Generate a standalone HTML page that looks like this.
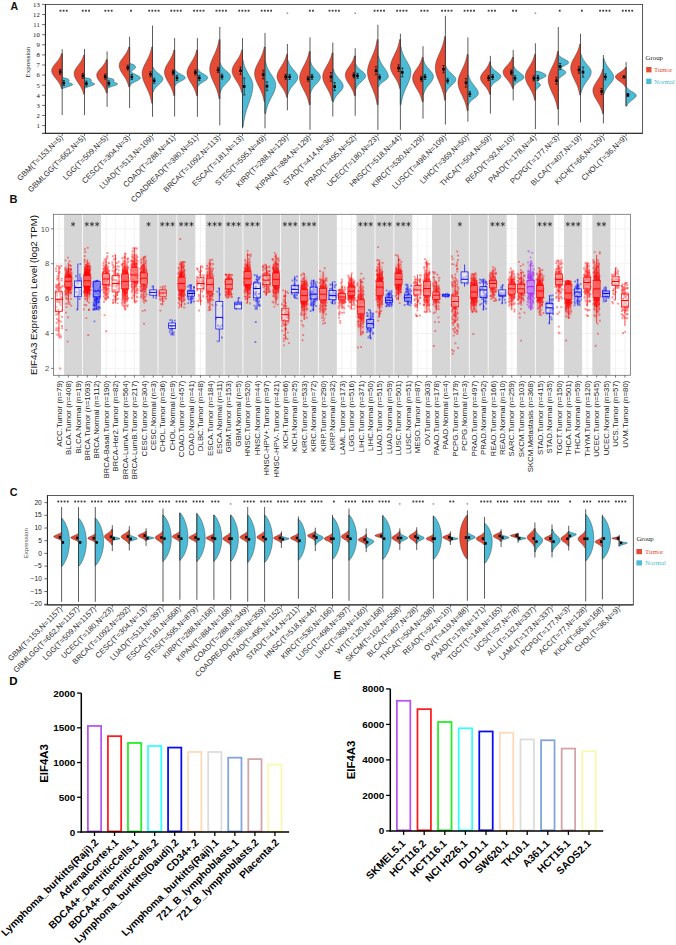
<!DOCTYPE html>
<html><head><meta charset="utf-8"><title>EIF4A3 expression</title>
<style>html,body{margin:0;padding:0;background:#fff;width:676px;height:945px;overflow:hidden}
svg{display:block;font-family:"Liberation Sans",sans-serif}</style></head>
<body><svg width="676" height="945" viewBox="0 0 676 945"><rect x="45.4" y="4.4" width="597.2" height="128.9" fill="none" stroke="#333" stroke-width="0.8"/><line x1="45.4" y1="4.4" x2="45.4" y2="133.3" stroke="#222" stroke-width="1"/><line x1="42.1" y1="133.3" x2="642.6" y2="133.3" stroke="#222" stroke-width="1"/><line x1="42.1" y1="125.6" x2="45.4" y2="125.6" stroke="#333" stroke-width="0.7"/><text x="39.8" y="127.9" font-family="Liberation Serif" font-size="6.7" fill="#111" text-anchor="end">1</text><line x1="42.1" y1="115.5" x2="45.4" y2="115.5" stroke="#333" stroke-width="0.7"/><text x="39.8" y="117.8" font-family="Liberation Serif" font-size="6.7" fill="#111" text-anchor="end">2</text><line x1="42.1" y1="105.4" x2="45.4" y2="105.4" stroke="#333" stroke-width="0.7"/><text x="39.8" y="107.7" font-family="Liberation Serif" font-size="6.7" fill="#111" text-anchor="end">3</text><line x1="42.1" y1="95.3" x2="45.4" y2="95.3" stroke="#333" stroke-width="0.7"/><text x="39.8" y="97.6" font-family="Liberation Serif" font-size="6.7" fill="#111" text-anchor="end">4</text><line x1="42.1" y1="85.2" x2="45.4" y2="85.2" stroke="#333" stroke-width="0.7"/><text x="39.8" y="87.5" font-family="Liberation Serif" font-size="6.7" fill="#111" text-anchor="end">5</text><line x1="42.1" y1="75.1" x2="45.4" y2="75.1" stroke="#333" stroke-width="0.7"/><text x="39.8" y="77.4" font-family="Liberation Serif" font-size="6.7" fill="#111" text-anchor="end">6</text><line x1="42.1" y1="65" x2="45.4" y2="65" stroke="#333" stroke-width="0.7"/><text x="39.8" y="67.3" font-family="Liberation Serif" font-size="6.7" fill="#111" text-anchor="end">7</text><line x1="42.1" y1="54.9" x2="45.4" y2="54.9" stroke="#333" stroke-width="0.7"/><text x="39.8" y="57.2" font-family="Liberation Serif" font-size="6.7" fill="#111" text-anchor="end">8</text><line x1="42.1" y1="44.8" x2="45.4" y2="44.8" stroke="#333" stroke-width="0.7"/><text x="39.8" y="47.1" font-family="Liberation Serif" font-size="6.7" fill="#111" text-anchor="end">9</text><line x1="42.1" y1="34.7" x2="45.4" y2="34.7" stroke="#333" stroke-width="0.7"/><text x="39.8" y="37" font-family="Liberation Serif" font-size="6.7" fill="#111" text-anchor="end">10</text><line x1="42.1" y1="24.6" x2="45.4" y2="24.6" stroke="#333" stroke-width="0.7"/><text x="39.8" y="26.9" font-family="Liberation Serif" font-size="6.7" fill="#111" text-anchor="end">11</text><line x1="42.1" y1="14.5" x2="45.4" y2="14.5" stroke="#333" stroke-width="0.7"/><text x="39.8" y="16.8" font-family="Liberation Serif" font-size="6.7" fill="#111" text-anchor="end">12</text><line x1="42.1" y1="4.4" x2="45.4" y2="4.4" stroke="#333" stroke-width="0.7"/><text x="39.8" y="6.7" font-family="Liberation Serif" font-size="6.7" fill="#111" text-anchor="end">13</text><text transform="translate(30.4,62.1) rotate(-90)" font-family="Liberation Serif" font-size="6.9" fill="#222" text-anchor="middle">Expression</text><text x="10.5" y="10.2" font-family="Liberation Sans" font-weight="bold" font-size="10.5" fill="#111">A</text><line x1="62.2" y1="49.2" x2="62.2" y2="115.1" stroke="#333" stroke-width="0.8"/><path d="M62.2 53.7 L61.34 53.7 L61.17 54.31 L60.98 54.91 L60.77 55.52 L60.53 56.13 L60.26 56.74 L59.96 57.34 L59.63 57.95 L59.27 58.56 L58.88 59.16 L58.46 59.77 L58.02 60.38 L57.56 60.99 L57.08 61.59 L56.58 62.2 L56.07 62.81 L55.57 63.41 L55.06 64.02 L54.57 64.63 L54.09 65.24 L53.64 65.84 L53.22 66.45 L52.84 67.06 L52.5 67.66 L52.22 68.27 L52 68.88 L51.83 69.49 L51.73 70.09 L51.7 70.7 L51.73 71.33 L51.83 71.96 L52 72.6 L52.22 73.23 L52.5 73.86 L52.84 74.49 L53.22 75.12 L53.64 75.76 L54.09 76.39 L54.57 77.02 L55.06 77.65 L55.57 78.29 L56.07 78.92 L56.58 79.55 L57.08 80.18 L57.56 80.81 L58.02 81.45 L58.46 82.08 L58.88 82.71 L59.27 83.34 L59.63 83.98 L59.96 84.61 L60.26 85.24 L60.53 85.87 L60.77 86.5 L60.98 87.14 L61.17 87.77 L61.34 88.4 L62.2 88.4 Z" fill="#E64B35" stroke="#3a2a2a" stroke-width="0.45"/><path d="M62.2 77.3 L62.66 77.3 L63.15 77.49 L63.72 77.69 L64.37 77.88 L65.11 78.07 L65.93 78.27 L66.83 78.46 L67.53 78.65 L67.83 78.85 L68.1 79.04 L68.36 79.23 L68.58 79.43 L68.78 79.62 L68.94 79.81 L69.07 80.01 L69.15 80.2 L69.19 80.39 L69.2 80.59 L69.16 80.78 L69.08 80.97 L68.96 81.17 L68.8 81.36 L68.61 81.55 L68.38 81.75 L68.13 81.94 L67.85 82.13 L68.02 82.33 L68.63 82.52 L69.25 82.71 L69.84 82.91 L70.42 83.1 L70.95 83.29 L71.44 83.49 L71.85 83.68 L72.2 83.87 L72.46 84.07 L72.62 84.26 L72.7 84.45 L72.67 84.65 L72.55 84.84 L72.33 85.03 L72.03 85.23 L71.65 85.42 L71.19 85.61 L70.68 85.81 L70.13 86 L69.54 86.19 L68.93 86.39 L68.31 86.58 L67.7 86.77 L67.11 86.97 L66.54 87.16 L66 87.35 L65.49 87.55 L64.81 87.74 L64.11 87.93 L63.55 88.13 L63.11 88.32 L62.77 88.51 L62.52 88.71 L62.34 88.9 L62.2 88.9 Z" fill="#4DBBD5" stroke="#1f3a44" stroke-width="0.45"/><line x1="62.2" y1="53.7" x2="62.2" y2="88.9" stroke="#333" stroke-width="0.6"/><line x1="60.2" y1="69.4" x2="60.2" y2="74.4" stroke="#000" stroke-width="0.6"/><line x1="59" y1="69.4" x2="61.4" y2="69.4" stroke="#000" stroke-width="0.6"/><line x1="59" y1="74.4" x2="61.4" y2="74.4" stroke="#000" stroke-width="0.6"/><rect x="58.9" y="70.6" width="2.6" height="2.6" fill="#000"/><line x1="63.8" y1="80.5" x2="63.8" y2="85.5" stroke="#000" stroke-width="0.6"/><line x1="62.6" y1="80.5" x2="65" y2="80.5" stroke="#000" stroke-width="0.6"/><line x1="62.6" y1="85.5" x2="65" y2="85.5" stroke="#000" stroke-width="0.6"/><rect x="62.5" y="81.7" width="2.6" height="2.6" fill="#000"/><line x1="84.5" y1="48.9" x2="84.5" y2="115.1" stroke="#333" stroke-width="0.8"/><path d="M84.5 55 L83.65 55 L83.48 55.66 L83.3 56.33 L83.08 56.99 L82.84 57.66 L82.57 58.32 L82.28 58.99 L81.95 59.65 L81.6 60.31 L81.21 60.98 L80.8 61.64 L80.36 62.31 L79.9 62.97 L79.42 63.64 L78.93 64.3 L78.43 64.96 L77.93 65.63 L77.43 66.29 L76.94 66.96 L76.47 67.62 L76.02 68.29 L75.6 68.95 L75.23 69.61 L74.9 70.28 L74.62 70.94 L74.39 71.61 L74.23 72.27 L74.13 72.94 L74.1 73.6 L74.13 74.34 L74.23 75.08 L74.39 75.82 L74.62 76.56 L74.9 77.3 L75.23 78.04 L75.6 78.77 L76.02 79.51 L76.47 80.25 L76.94 80.99 L77.43 81.73 L77.93 82.47 L78.43 83.21 L78.93 83.95 L79.42 84.69 L79.9 85.43 L80.36 86.17 L80.8 86.91 L81.21 87.65 L81.6 88.39 L81.95 89.12 L82.28 89.86 L82.57 90.6 L82.84 91.34 L83.08 92.08 L83.3 92.82 L83.48 93.56 L83.65 94.3 L84.5 94.3 Z" fill="#E64B35" stroke="#3a2a2a" stroke-width="0.45"/><path d="M84.5 77.3 L84.96 77.3 L85.45 77.49 L86.02 77.69 L86.67 77.88 L87.41 78.07 L88.23 78.27 L89.13 78.46 L89.83 78.65 L90.13 78.85 L90.4 79.04 L90.66 79.23 L90.88 79.43 L91.08 79.62 L91.24 79.81 L91.37 80.01 L91.45 80.2 L91.49 80.39 L91.5 80.59 L91.46 80.78 L91.38 80.97 L91.26 81.17 L91.1 81.36 L90.91 81.55 L90.68 81.75 L90.44 81.94 L91.03 82.13 L91.62 82.33 L92.18 82.52 L92.71 82.71 L93.2 82.91 L93.63 83.1 L93.99 83.29 L94.27 83.49 L94.47 83.68 L94.58 83.87 L94.59 84.07 L94.52 84.26 L94.34 84.45 L94.09 84.65 L93.75 84.84 L93.34 85.03 L92.87 85.23 L92.35 85.42 L91.79 85.61 L91.22 85.81 L90.63 86 L90.04 86.19 L89.46 86.39 L88.9 86.58 L88.36 86.77 L87.86 86.97 L87.4 87.16 L86.98 87.35 L86.6 87.55 L86.12 87.74 L85.66 87.93 L85.3 88.13 L85.03 88.32 L84.82 88.51 L84.68 88.71 L84.58 88.9 L84.5 88.9 Z" fill="#4DBBD5" stroke="#1f3a44" stroke-width="0.45"/><line x1="84.5" y1="55" x2="84.5" y2="94.3" stroke="#333" stroke-width="0.6"/><line x1="82.9" y1="73.4" x2="82.9" y2="78.4" stroke="#000" stroke-width="0.6"/><line x1="81.7" y1="73.4" x2="84.1" y2="73.4" stroke="#000" stroke-width="0.6"/><line x1="81.7" y1="78.4" x2="84.1" y2="78.4" stroke="#000" stroke-width="0.6"/><rect x="81.6" y="74.6" width="2.6" height="2.6" fill="#000"/><line x1="86.4" y1="81.1" x2="86.4" y2="86.1" stroke="#000" stroke-width="0.6"/><line x1="85.2" y1="81.1" x2="87.6" y2="81.1" stroke="#000" stroke-width="0.6"/><line x1="85.2" y1="86.1" x2="87.6" y2="86.1" stroke="#000" stroke-width="0.6"/><rect x="85.1" y="82.3" width="2.6" height="2.6" fill="#000"/><line x1="107.1" y1="51.4" x2="107.1" y2="106.9" stroke="#333" stroke-width="0.8"/><path d="M107.1 59.6 L106.25 59.6 L106.08 60.15 L105.9 60.71 L105.68 61.26 L105.44 61.81 L105.17 62.37 L104.88 62.92 L104.55 63.48 L104.2 64.03 L103.81 64.58 L103.4 65.14 L102.96 65.69 L102.5 66.24 L102.02 66.8 L101.53 67.35 L101.03 67.9 L100.53 68.46 L100.03 69.01 L99.54 69.56 L99.07 70.12 L98.62 70.67 L98.2 71.22 L97.83 71.78 L97.5 72.33 L97.22 72.89 L96.99 73.44 L96.83 73.99 L96.73 74.55 L96.7 75.1 L96.73 75.74 L96.83 76.37 L96.99 77.01 L97.22 77.64 L97.5 78.28 L97.83 78.91 L98.2 79.55 L98.62 80.19 L99.07 80.82 L99.54 81.46 L100.03 82.09 L100.53 82.73 L101.03 83.36 L101.53 84 L102.02 84.64 L102.5 85.27 L102.96 85.91 L103.4 86.54 L103.81 87.18 L104.2 87.81 L104.55 88.45 L104.88 89.09 L105.17 89.72 L105.44 90.36 L105.68 90.99 L105.9 91.63 L106.08 92.26 L106.25 92.9 L107.1 92.9 Z" fill="#E64B35" stroke="#3a2a2a" stroke-width="0.45"/><path d="M107.1 77.6 L107.64 77.6 L108.16 77.78 L108.76 77.97 L109.44 78.16 L110.2 78.34 L111.03 78.52 L111.92 78.71 L112.8 78.89 L113.06 79.08 L113.3 79.27 L113.51 79.45 L113.69 79.63 L113.85 79.82 L113.96 80 L114.05 80.19 L114.09 80.38 L114.1 80.56 L114.07 80.74 L114 80.93 L113.89 81.11 L113.75 81.3 L113.58 81.48 L113.37 81.67 L113.14 81.86 L113.53 82.04 L114.11 82.22 L114.68 82.41 L115.23 82.59 L115.73 82.78 L116.2 82.97 L116.6 83.15 L116.94 83.33 L117.2 83.52 L117.39 83.7 L117.48 83.89 L117.49 84.08 L117.41 84.26 L117.25 84.44 L117 84.63 L116.67 84.81 L116.28 85 L115.83 85.19 L115.33 85.37 L114.79 85.56 L114.22 85.74 L113.64 85.92 L113.06 86.11 L112.48 86.3 L111.92 86.48 L111.38 86.67 L110.87 86.85 L110.39 87.03 L109.95 87.22 L109.54 87.41 L108.95 87.59 L108.44 87.78 L108.04 87.96 L107.73 88.15 L107.5 88.33 L107.32 88.52 L107.2 88.7 L107.1 88.7 Z" fill="#4DBBD5" stroke="#1f3a44" stroke-width="0.45"/><line x1="107.1" y1="59.6" x2="107.1" y2="92.9" stroke="#333" stroke-width="0.6"/><line x1="105.2" y1="74.1" x2="105.2" y2="79.1" stroke="#000" stroke-width="0.6"/><line x1="104" y1="74.1" x2="106.4" y2="74.1" stroke="#000" stroke-width="0.6"/><line x1="104" y1="79.1" x2="106.4" y2="79.1" stroke="#000" stroke-width="0.6"/><rect x="103.9" y="75.3" width="2.6" height="2.6" fill="#000"/><line x1="108.9" y1="80.8" x2="108.9" y2="85.8" stroke="#000" stroke-width="0.6"/><line x1="107.7" y1="80.8" x2="110.1" y2="80.8" stroke="#000" stroke-width="0.6"/><line x1="107.7" y1="85.8" x2="110.1" y2="85.8" stroke="#000" stroke-width="0.6"/><rect x="107.6" y="82" width="2.6" height="2.6" fill="#000"/><line x1="129.6" y1="36.7" x2="129.6" y2="108.1" stroke="#333" stroke-width="0.8"/><path d="M129.6 47 L128.75 47 L128.58 47.66 L128.4 48.32 L128.18 48.98 L127.94 49.64 L127.67 50.3 L127.38 50.96 L127.05 51.62 L126.7 52.29 L126.31 52.95 L125.9 53.61 L125.46 54.27 L125 54.93 L124.52 55.59 L124.03 56.25 L123.53 56.91 L123.03 57.57 L122.53 58.23 L122.04 58.89 L121.57 59.55 L121.12 60.21 L120.7 60.88 L120.33 61.54 L120 62.2 L119.72 62.86 L119.49 63.52 L119.33 64.18 L119.23 64.84 L119.2 65.5 L119.23 66.27 L119.33 67.04 L119.49 67.8 L119.72 68.57 L120 69.34 L120.33 70.11 L120.7 70.88 L121.12 71.64 L121.57 72.41 L122.04 73.18 L122.53 73.95 L123.03 74.71 L123.53 75.48 L124.03 76.25 L124.52 77.02 L125 77.79 L125.46 78.55 L125.9 79.32 L126.31 80.09 L126.7 80.86 L127.05 81.62 L127.38 82.39 L127.67 83.16 L127.94 83.93 L128.18 84.7 L128.4 85.46 L128.58 86.23 L128.75 87 L129.6 87 Z" fill="#E64B35" stroke="#3a2a2a" stroke-width="0.45"/><path d="M129.6 63.3 L129.98 63.3 L130.79 63.68 L131.85 64.05 L133.16 64.43 L134.01 64.81 L134.46 65.18 L134.86 65.56 L135.18 65.94 L135.42 66.31 L135.56 66.69 L135.6 67.07 L135.53 67.44 L135.35 67.82 L135.08 68.2 L134.72 68.57 L134.31 68.95 L133.85 69.33 L133.36 69.7 L132.88 70.08 L132.4 70.46 L131.95 70.83 L131.54 71.21 L131.17 71.59 L131.42 71.96 L131.86 72.34 L132.36 72.72 L132.93 73.09 L133.57 73.47 L134.25 73.85 L134.98 74.22 L135.74 74.6 L136.51 74.98 L137.27 75.35 L138 75.73 L138.67 76.11 L139.25 76.48 L139.74 76.86 L140.1 77.24 L140.32 77.61 L140.4 77.99 L140.33 78.37 L140.11 78.74 L139.76 79.12 L139.28 79.5 L138.7 79.87 L138.03 80.25 L137.31 80.63 L136.55 81 L135.78 81.38 L135.02 81.76 L134.29 82.13 L133.6 82.51 L132.97 82.89 L132.39 83.26 L131.88 83.64 L131.44 84.02 L131.07 84.39 L130.64 84.77 L130.18 85.15 L129.87 85.52 L129.68 85.9 L129.6 85.9 Z" fill="#4DBBD5" stroke="#1f3a44" stroke-width="0.45"/><line x1="129.6" y1="47" x2="129.6" y2="87" stroke="#333" stroke-width="0.6"/><line x1="127.8" y1="65.2" x2="127.8" y2="70.2" stroke="#000" stroke-width="0.6"/><line x1="126.6" y1="65.2" x2="129" y2="65.2" stroke="#000" stroke-width="0.6"/><line x1="126.6" y1="70.2" x2="129" y2="70.2" stroke="#000" stroke-width="0.6"/><rect x="126.5" y="66.4" width="2.6" height="2.6" fill="#000"/><line x1="131.8" y1="74.5" x2="131.8" y2="79.5" stroke="#000" stroke-width="0.6"/><line x1="130.6" y1="74.5" x2="133" y2="74.5" stroke="#000" stroke-width="0.6"/><line x1="130.6" y1="79.5" x2="133" y2="79.5" stroke="#000" stroke-width="0.6"/><rect x="130.5" y="75.7" width="2.6" height="2.6" fill="#000"/><line x1="152.5" y1="25.5" x2="152.5" y2="116.8" stroke="#333" stroke-width="0.8"/><path d="M152.5 47 L151.65 47 L151.48 47.95 L151.3 48.9 L151.08 49.85 L150.84 50.8 L150.57 51.75 L150.28 52.7 L149.95 53.65 L149.6 54.6 L149.21 55.55 L148.8 56.5 L148.36 57.45 L147.9 58.4 L147.42 59.35 L146.93 60.3 L146.43 61.25 L145.93 62.2 L145.43 63.15 L144.94 64.1 L144.47 65.05 L144.02 66 L143.6 66.95 L143.23 67.9 L142.9 68.85 L142.62 69.8 L142.39 70.75 L142.23 71.7 L142.13 72.65 L142.1 73.6 L142.13 74.66 L142.23 75.71 L142.39 76.77 L142.62 77.83 L142.9 78.89 L143.23 79.94 L143.6 81 L144.02 82.06 L144.47 83.11 L144.94 84.17 L145.43 85.23 L145.93 86.29 L146.43 87.34 L146.93 88.4 L147.42 89.46 L147.9 90.51 L148.36 91.57 L148.8 92.63 L149.21 93.69 L149.6 94.74 L149.95 95.8 L150.28 96.86 L150.57 97.91 L150.84 98.97 L151.08 100.03 L151.3 101.09 L151.48 102.14 L151.65 103.2 L152.5 103.2 Z" fill="#E64B35" stroke="#3a2a2a" stroke-width="0.45"/><path d="M152.5 67 L153.2 67 L153.34 67.42 L153.51 67.84 L153.71 68.26 L153.93 68.69 L154.18 69.11 L154.46 69.53 L154.78 69.95 L155.12 70.37 L155.5 70.79 L155.91 71.21 L156.34 71.64 L156.81 72.06 L157.29 72.48 L157.8 72.9 L158.31 73.32 L158.83 73.74 L159.36 74.16 L159.87 74.59 L160.37 75.01 L160.84 75.43 L161.29 75.85 L161.69 76.27 L162.04 76.69 L162.34 77.11 L162.58 77.54 L162.76 77.96 L162.86 78.38 L162.9 78.8 L162.86 79.27 L162.76 79.75 L162.58 80.22 L162.34 80.7 L162.04 81.17 L161.69 81.65 L161.29 82.12 L160.84 82.6 L160.37 83.08 L159.87 83.55 L159.36 84.02 L158.83 84.5 L158.31 84.97 L157.8 85.45 L157.29 85.92 L156.81 86.4 L156.34 86.88 L155.91 87.35 L155.5 87.82 L155.12 88.3 L154.78 88.77 L154.46 89.25 L154.18 89.72 L153.93 90.2 L153.71 90.67 L153.51 91.15 L153.34 91.62 L153.2 92.1 L152.5 92.1 Z" fill="#4DBBD5" stroke="#1f3a44" stroke-width="0.45"/><line x1="152.5" y1="47" x2="152.5" y2="103.2" stroke="#333" stroke-width="0.6"/><line x1="150.5" y1="71.8" x2="150.5" y2="76.8" stroke="#000" stroke-width="0.6"/><line x1="149.3" y1="71.8" x2="151.7" y2="71.8" stroke="#000" stroke-width="0.6"/><line x1="149.3" y1="76.8" x2="151.7" y2="76.8" stroke="#000" stroke-width="0.6"/><rect x="149.2" y="73" width="2.6" height="2.6" fill="#000"/><line x1="154.2" y1="78.2" x2="154.2" y2="83.2" stroke="#000" stroke-width="0.6"/><line x1="153" y1="78.2" x2="155.4" y2="78.2" stroke="#000" stroke-width="0.6"/><line x1="153" y1="83.2" x2="155.4" y2="83.2" stroke="#000" stroke-width="0.6"/><rect x="152.9" y="79.4" width="2.6" height="2.6" fill="#000"/><line x1="174.6" y1="38.1" x2="174.6" y2="116.5" stroke="#333" stroke-width="0.8"/><path d="M174.6 50 L173.77 50 L173.61 50.79 L173.43 51.58 L173.22 52.37 L172.99 53.16 L172.73 53.95 L172.44 54.74 L172.12 55.52 L171.78 56.31 L171.41 57.1 L171.01 57.89 L170.58 58.68 L170.14 59.47 L169.67 60.26 L169.19 61.05 L168.71 61.84 L168.22 62.63 L167.73 63.42 L167.26 64.21 L166.8 65 L166.36 65.79 L165.96 66.57 L165.6 67.36 L165.27 68.15 L165 68.94 L164.79 69.73 L164.63 70.52 L164.53 71.31 L164.5 72.1 L164.53 72.95 L164.63 73.79 L164.79 74.64 L165 75.49 L165.27 76.33 L165.6 77.18 L165.96 78.02 L166.36 78.87 L166.8 79.72 L167.26 80.56 L167.73 81.41 L168.22 82.26 L168.71 83.1 L169.19 83.95 L169.67 84.8 L170.14 85.64 L170.58 86.49 L171.01 87.34 L171.41 88.18 L171.78 89.03 L172.12 89.88 L172.44 90.72 L172.73 91.57 L172.99 92.41 L173.22 93.26 L173.43 94.11 L173.61 94.95 L173.77 95.8 L174.6 95.8 Z" fill="#E64B35" stroke="#3a2a2a" stroke-width="0.45"/><path d="M174.6 69.9 L175.32 69.9 L175.47 70.18 L175.64 70.46 L175.84 70.75 L176.07 71.03 L176.33 71.31 L176.62 71.59 L176.94 71.88 L177.3 72.16 L177.69 72.44 L178.11 72.72 L178.55 73 L179.03 73.29 L179.53 73.57 L180.05 73.85 L180.58 74.13 L181.12 74.41 L181.65 74.7 L182.18 74.98 L182.7 75.26 L183.18 75.54 L183.64 75.83 L184.05 76.11 L184.42 76.39 L184.73 76.67 L184.97 76.95 L185.15 77.24 L185.26 77.52 L185.3 77.8 L185.26 78.07 L185.15 78.34 L184.97 78.61 L184.73 78.89 L184.42 79.16 L184.05 79.43 L183.64 79.7 L183.18 79.97 L182.7 80.24 L182.18 80.51 L181.65 80.79 L181.12 81.06 L180.58 81.33 L180.05 81.6 L179.53 81.87 L179.03 82.14 L178.55 82.41 L178.11 82.69 L177.69 82.96 L177.3 83.23 L176.94 83.5 L176.62 83.77 L176.33 84.04 L176.07 84.31 L175.84 84.59 L175.64 84.86 L175.47 85.13 L175.32 85.4 L174.6 85.4 Z" fill="#4DBBD5" stroke="#1f3a44" stroke-width="0.45"/><line x1="174.6" y1="50" x2="174.6" y2="95.8" stroke="#333" stroke-width="0.6"/><line x1="173.2" y1="69.9" x2="173.2" y2="74.9" stroke="#000" stroke-width="0.6"/><line x1="172" y1="69.9" x2="174.4" y2="69.9" stroke="#000" stroke-width="0.6"/><line x1="172" y1="74.9" x2="174.4" y2="74.9" stroke="#000" stroke-width="0.6"/><rect x="171.9" y="71.1" width="2.6" height="2.6" fill="#000"/><line x1="177" y1="75.5" x2="177" y2="80.5" stroke="#000" stroke-width="0.6"/><line x1="175.8" y1="75.5" x2="178.2" y2="75.5" stroke="#000" stroke-width="0.6"/><line x1="175.8" y1="80.5" x2="178.2" y2="80.5" stroke="#000" stroke-width="0.6"/><rect x="175.7" y="76.7" width="2.6" height="2.6" fill="#000"/><line x1="197.4" y1="38.1" x2="197.4" y2="116.8" stroke="#333" stroke-width="0.8"/><path d="M197.4 50 L196.55 50 L196.38 50.82 L196.2 51.64 L195.98 52.45 L195.74 53.27 L195.47 54.09 L195.18 54.91 L194.85 55.73 L194.5 56.54 L194.11 57.36 L193.7 58.18 L193.26 59 L192.8 59.81 L192.32 60.63 L191.83 61.45 L191.33 62.27 L190.83 63.09 L190.33 63.9 L189.84 64.72 L189.37 65.54 L188.92 66.36 L188.5 67.18 L188.13 67.99 L187.8 68.81 L187.52 69.63 L187.29 70.45 L187.13 71.26 L187.03 72.08 L187 72.9 L187.03 73.72 L187.13 74.54 L187.29 75.35 L187.52 76.17 L187.8 76.99 L188.13 77.81 L188.5 78.62 L188.92 79.44 L189.37 80.26 L189.84 81.08 L190.33 81.9 L190.83 82.71 L191.33 83.53 L191.83 84.35 L192.32 85.17 L192.8 85.99 L193.26 86.8 L193.7 87.62 L194.11 88.44 L194.5 89.26 L194.85 90.08 L195.18 90.89 L195.47 91.71 L195.74 92.53 L195.98 93.35 L196.2 94.16 L196.38 94.98 L196.55 95.8 L197.4 95.8 Z" fill="#E64B35" stroke="#3a2a2a" stroke-width="0.45"/><path d="M197.4 69.2 L198.1 69.2 L198.24 69.51 L198.41 69.81 L198.61 70.12 L198.83 70.43 L199.08 70.74 L199.36 71.04 L199.68 71.35 L200.02 71.66 L200.4 71.96 L200.81 72.27 L201.24 72.58 L201.71 72.89 L202.19 73.19 L202.7 73.5 L203.21 73.81 L203.73 74.11 L204.26 74.42 L204.77 74.73 L205.27 75.04 L205.74 75.34 L206.19 75.65 L206.59 75.96 L206.94 76.26 L207.24 76.57 L207.48 76.88 L207.66 77.19 L207.76 77.49 L207.8 77.8 L207.76 78.11 L207.66 78.43 L207.48 78.74 L207.24 79.06 L206.94 79.37 L206.59 79.69 L206.19 80 L205.74 80.31 L205.27 80.63 L204.77 80.94 L204.26 81.26 L203.73 81.57 L203.21 81.89 L202.7 82.2 L202.19 82.51 L201.71 82.83 L201.24 83.14 L200.81 83.46 L200.4 83.77 L200.02 84.09 L199.68 84.4 L199.36 84.71 L199.08 85.03 L198.83 85.34 L198.61 85.66 L198.41 85.97 L198.24 86.29 L198.1 86.6 L197.4 86.6 Z" fill="#4DBBD5" stroke="#1f3a44" stroke-width="0.45"/><line x1="197.4" y1="50" x2="197.4" y2="95.8" stroke="#333" stroke-width="0.6"/><line x1="195.4" y1="69.9" x2="195.4" y2="74.9" stroke="#000" stroke-width="0.6"/><line x1="194.2" y1="69.9" x2="196.6" y2="69.9" stroke="#000" stroke-width="0.6"/><line x1="194.2" y1="74.9" x2="196.6" y2="74.9" stroke="#000" stroke-width="0.6"/><rect x="194.1" y="71.1" width="2.6" height="2.6" fill="#000"/><line x1="199.3" y1="75.5" x2="199.3" y2="80.5" stroke="#000" stroke-width="0.6"/><line x1="198.1" y1="75.5" x2="200.5" y2="75.5" stroke="#000" stroke-width="0.6"/><line x1="198.1" y1="80.5" x2="200.5" y2="80.5" stroke="#000" stroke-width="0.6"/><rect x="198" y="76.7" width="2.6" height="2.6" fill="#000"/><line x1="219.8" y1="27" x2="219.8" y2="125.4" stroke="#333" stroke-width="0.8"/><path d="M219.8 39.6 L218.97 39.6 L218.81 40.66 L218.63 41.71 L218.42 42.77 L218.19 43.83 L217.93 44.89 L217.64 45.94 L217.32 47 L216.98 48.06 L216.61 49.11 L216.21 50.17 L215.78 51.23 L215.34 52.29 L214.87 53.34 L214.39 54.4 L213.91 55.46 L213.42 56.51 L212.93 57.57 L212.46 58.63 L212 59.69 L211.56 60.74 L211.16 61.8 L210.8 62.86 L210.47 63.91 L210.2 64.97 L209.99 66.03 L209.83 67.09 L209.73 68.14 L209.7 69.2 L209.73 70.26 L209.83 71.31 L209.99 72.37 L210.2 73.43 L210.47 74.49 L210.8 75.54 L211.16 76.6 L211.56 77.66 L212 78.71 L212.46 79.77 L212.93 80.83 L213.42 81.89 L213.91 82.94 L214.39 84 L214.87 85.06 L215.34 86.11 L215.78 87.17 L216.21 88.23 L216.61 89.29 L216.98 90.34 L217.32 91.4 L217.64 92.46 L217.93 93.51 L218.19 94.57 L218.42 95.63 L218.63 96.69 L218.81 97.74 L218.97 98.8 L219.8 98.8 Z" fill="#E64B35" stroke="#3a2a2a" stroke-width="0.45"/><path d="M219.8 63.3 L220.52 63.3 L220.67 63.77 L220.84 64.25 L221.04 64.72 L221.27 65.2 L221.53 65.67 L221.82 66.15 L222.14 66.62 L222.5 67.1 L222.89 67.58 L223.31 68.05 L223.75 68.52 L224.23 69 L224.73 69.47 L225.25 69.95 L225.78 70.42 L226.32 70.9 L226.85 71.38 L227.38 71.85 L227.9 72.32 L228.38 72.8 L228.84 73.27 L229.25 73.75 L229.62 74.22 L229.93 74.7 L230.17 75.17 L230.35 75.65 L230.46 76.12 L230.5 76.6 L230.46 77.15 L230.35 77.71 L230.17 78.26 L229.93 78.81 L229.62 79.37 L229.25 79.92 L228.84 80.47 L228.38 81.03 L227.9 81.58 L227.38 82.14 L226.85 82.69 L226.32 83.24 L225.78 83.8 L225.25 84.35 L224.73 84.9 L224.23 85.46 L223.75 86.01 L223.31 86.56 L222.89 87.12 L222.5 87.67 L222.14 88.22 L221.82 88.78 L221.53 89.33 L221.27 89.89 L221.04 90.44 L220.84 90.99 L220.67 91.55 L220.52 92.1 L219.8 92.1 Z" fill="#4DBBD5" stroke="#1f3a44" stroke-width="0.45"/><line x1="219.8" y1="39.6" x2="219.8" y2="98.8" stroke="#333" stroke-width="0.6"/><line x1="218.1" y1="67.4" x2="218.1" y2="72.4" stroke="#000" stroke-width="0.6"/><line x1="216.9" y1="67.4" x2="219.3" y2="67.4" stroke="#000" stroke-width="0.6"/><line x1="216.9" y1="72.4" x2="219.3" y2="72.4" stroke="#000" stroke-width="0.6"/><rect x="216.8" y="68.6" width="2.6" height="2.6" fill="#000"/><line x1="222" y1="74.1" x2="222" y2="79.1" stroke="#000" stroke-width="0.6"/><line x1="220.8" y1="74.1" x2="223.2" y2="74.1" stroke="#000" stroke-width="0.6"/><line x1="220.8" y1="79.1" x2="223.2" y2="79.1" stroke="#000" stroke-width="0.6"/><rect x="220.7" y="75.3" width="2.6" height="2.6" fill="#000"/><line x1="242.5" y1="38.1" x2="242.5" y2="128.3" stroke="#333" stroke-width="0.8"/><path d="M242.5 50 L241.65 50 L241.48 50.74 L241.3 51.48 L241.08 52.22 L240.84 52.96 L240.57 53.7 L240.28 54.44 L239.95 55.18 L239.6 55.91 L239.21 56.65 L238.8 57.39 L238.36 58.13 L237.9 58.87 L237.42 59.61 L236.93 60.35 L236.43 61.09 L235.93 61.83 L235.43 62.57 L234.94 63.31 L234.47 64.05 L234.02 64.79 L233.6 65.53 L233.23 66.26 L232.9 67 L232.62 67.74 L232.39 68.48 L232.23 69.22 L232.13 69.96 L232.1 70.7 L232.13 71.49 L232.23 72.28 L232.39 73.07 L232.62 73.86 L232.9 74.65 L233.23 75.44 L233.6 76.22 L234.02 77.01 L234.47 77.8 L234.94 78.59 L235.43 79.38 L235.93 80.17 L236.43 80.96 L236.93 81.75 L237.42 82.54 L237.9 83.33 L238.36 84.12 L238.8 84.91 L239.21 85.7 L239.6 86.49 L239.95 87.28 L240.28 88.06 L240.57 88.85 L240.84 89.64 L241.08 90.43 L241.3 91.22 L241.48 92.01 L241.65 92.8 L242.5 92.8 Z" fill="#E64B35" stroke="#3a2a2a" stroke-width="0.45"/><path d="M242.5 60.3 L243.2 60.3 L243.34 61.2 L243.51 62.09 L243.71 62.99 L243.93 63.89 L244.18 64.78 L244.46 65.68 L244.78 66.58 L245.12 67.47 L245.5 68.37 L245.91 69.26 L246.34 70.16 L246.81 71.06 L247.29 71.95 L247.8 72.85 L248.31 73.75 L248.83 74.64 L249.36 75.54 L249.87 76.44 L250.37 77.33 L250.84 78.23 L251.29 79.12 L251.69 80.02 L252.04 80.92 L252.34 81.81 L252.58 82.71 L252.76 83.61 L252.86 84.5 L252.9 85.4 L252.86 86.88 L252.76 88.36 L252.58 89.85 L252.34 91.33 L252.04 92.81 L251.69 94.29 L251.29 95.78 L250.84 97.26 L250.37 98.74 L249.87 100.22 L249.36 101.7 L248.83 103.19 L248.31 104.67 L247.8 106.15 L247.29 107.63 L246.81 109.11 L246.34 110.6 L245.91 112.08 L245.5 113.56 L245.12 115.04 L244.78 116.53 L244.46 118.01 L244.18 119.49 L243.93 120.97 L243.71 122.45 L243.51 123.94 L243.34 125.42 L243.2 126.9 L242.5 126.9 Z" fill="#4DBBD5" stroke="#1f3a44" stroke-width="0.45"/><line x1="242.5" y1="50" x2="242.5" y2="126.9" stroke="#333" stroke-width="0.6"/><line x1="240.5" y1="67" x2="240.5" y2="74.4" stroke="#000" stroke-width="0.6"/><line x1="239.3" y1="67" x2="241.7" y2="67" stroke="#000" stroke-width="0.6"/><line x1="239.3" y1="74.4" x2="241.7" y2="74.4" stroke="#000" stroke-width="0.6"/><rect x="239.2" y="69.4" width="2.6" height="2.6" fill="#000"/><line x1="244.2" y1="78" x2="244.2" y2="95" stroke="#000" stroke-width="0.6"/><line x1="243" y1="78" x2="245.4" y2="78" stroke="#000" stroke-width="0.6"/><line x1="243" y1="95" x2="245.4" y2="95" stroke="#000" stroke-width="0.6"/><rect x="242.9" y="85.2" width="2.6" height="2.6" fill="#000"/><line x1="265" y1="32.9" x2="265" y2="128.3" stroke="#333" stroke-width="0.8"/><path d="M265 47 L264.15 47 L263.98 47.95 L263.8 48.9 L263.58 49.85 L263.34 50.8 L263.07 51.75 L262.78 52.7 L262.45 53.65 L262.1 54.6 L261.71 55.55 L261.3 56.5 L260.86 57.45 L260.4 58.4 L259.92 59.35 L259.43 60.3 L258.93 61.25 L258.43 62.2 L257.93 63.15 L257.44 64.1 L256.97 65.05 L256.52 66 L256.1 66.95 L255.73 67.9 L255.4 68.85 L255.12 69.8 L254.89 70.75 L254.73 71.7 L254.63 72.65 L254.6 73.6 L254.63 74.6 L254.73 75.61 L254.89 76.61 L255.12 77.61 L255.4 78.62 L255.73 79.62 L256.1 80.62 L256.52 81.63 L256.97 82.63 L257.44 83.64 L257.93 84.64 L258.43 85.64 L258.93 86.65 L259.43 87.65 L259.92 88.65 L260.4 89.66 L260.86 90.66 L261.3 91.66 L261.71 92.67 L262.1 93.67 L262.45 94.67 L262.78 95.68 L263.07 96.68 L263.34 97.69 L263.58 98.69 L263.8 99.69 L263.98 100.7 L264.15 101.7 L265 101.7 Z" fill="#E64B35" stroke="#3a2a2a" stroke-width="0.45"/><path d="M265 61.8 L265.72 61.8 L265.87 62.62 L266.04 63.44 L266.24 64.25 L266.47 65.07 L266.73 65.89 L267.02 66.71 L267.34 67.53 L267.7 68.34 L268.09 69.16 L268.51 69.98 L268.95 70.8 L269.43 71.61 L269.93 72.43 L270.45 73.25 L270.98 74.07 L271.52 74.89 L272.05 75.7 L272.58 76.52 L273.1 77.34 L273.58 78.16 L274.04 78.97 L274.45 79.79 L274.82 80.61 L275.13 81.43 L275.37 82.25 L275.55 83.06 L275.66 83.88 L275.7 84.7 L275.66 85.73 L275.55 86.76 L275.37 87.8 L275.13 88.83 L274.82 89.86 L274.45 90.89 L274.04 91.92 L273.58 92.96 L273.1 93.99 L272.58 95.02 L272.05 96.05 L271.52 97.09 L270.98 98.12 L270.45 99.15 L269.93 100.18 L269.43 101.21 L268.95 102.25 L268.51 103.28 L268.09 104.31 L267.7 105.34 L267.34 106.38 L267.02 107.41 L266.73 108.44 L266.47 109.47 L266.24 110.5 L266.04 111.54 L265.87 112.57 L265.72 113.6 L265 113.6 Z" fill="#4DBBD5" stroke="#1f3a44" stroke-width="0.45"/><line x1="265" y1="47" x2="265" y2="113.6" stroke="#333" stroke-width="0.6"/><line x1="263.2" y1="70.2" x2="263.2" y2="79" stroke="#000" stroke-width="0.6"/><line x1="262" y1="70.2" x2="264.4" y2="70.2" stroke="#000" stroke-width="0.6"/><line x1="262" y1="79" x2="264.4" y2="79" stroke="#000" stroke-width="0.6"/><rect x="261.9" y="73.3" width="2.6" height="2.6" fill="#000"/><line x1="267" y1="81.8" x2="267" y2="90.6" stroke="#000" stroke-width="0.6"/><line x1="265.8" y1="81.8" x2="268.2" y2="81.8" stroke="#000" stroke-width="0.6"/><line x1="265.8" y1="90.6" x2="268.2" y2="90.6" stroke="#000" stroke-width="0.6"/><rect x="265.7" y="84.9" width="2.6" height="2.6" fill="#000"/><line x1="287.4" y1="44" x2="287.4" y2="110.3" stroke="#333" stroke-width="0.8"/><path d="M287.4 54.4 L286.55 54.4 L286.38 55.19 L286.2 55.99 L285.98 56.78 L285.74 57.57 L285.47 58.36 L285.18 59.16 L284.85 59.95 L284.5 60.74 L284.11 61.54 L283.7 62.33 L283.26 63.12 L282.8 63.91 L282.32 64.71 L281.83 65.5 L281.33 66.29 L280.83 67.09 L280.33 67.88 L279.84 68.67 L279.37 69.46 L278.92 70.26 L278.5 71.05 L278.13 71.84 L277.8 72.64 L277.52 73.43 L277.29 74.22 L277.13 75.01 L277.03 75.81 L277 76.6 L277.03 77.34 L277.13 78.08 L277.29 78.82 L277.52 79.56 L277.8 80.3 L278.13 81.04 L278.5 81.77 L278.92 82.51 L279.37 83.25 L279.84 83.99 L280.33 84.73 L280.83 85.47 L281.33 86.21 L281.83 86.95 L282.32 87.69 L282.8 88.43 L283.26 89.17 L283.7 89.91 L284.11 90.65 L284.5 91.39 L284.85 92.12 L285.18 92.86 L285.47 93.6 L285.74 94.34 L285.98 95.08 L286.2 95.82 L286.38 96.56 L286.55 97.3 L287.4 97.3 Z" fill="#E64B35" stroke="#3a2a2a" stroke-width="0.45"/><path d="M287.4 60.3 L288.1 60.3 L288.24 60.91 L288.41 61.51 L288.61 62.12 L288.83 62.73 L289.08 63.34 L289.36 63.94 L289.68 64.55 L290.02 65.16 L290.4 65.76 L290.81 66.37 L291.24 66.98 L291.71 67.59 L292.19 68.19 L292.7 68.8 L293.21 69.41 L293.73 70.01 L294.26 70.62 L294.77 71.23 L295.27 71.84 L295.74 72.44 L296.19 73.05 L296.59 73.66 L296.94 74.26 L297.24 74.87 L297.48 75.48 L297.66 76.09 L297.76 76.69 L297.8 77.3 L297.76 77.91 L297.66 78.51 L297.48 79.12 L297.24 79.73 L296.94 80.34 L296.59 80.94 L296.19 81.55 L295.74 82.16 L295.27 82.76 L294.77 83.37 L294.26 83.98 L293.73 84.59 L293.21 85.19 L292.7 85.8 L292.19 86.41 L291.71 87.01 L291.24 87.62 L290.81 88.23 L290.4 88.84 L290.02 89.44 L289.68 90.05 L289.36 90.66 L289.08 91.26 L288.83 91.87 L288.61 92.48 L288.41 93.09 L288.24 93.69 L288.1 94.3 L287.4 94.3 Z" fill="#4DBBD5" stroke="#1f3a44" stroke-width="0.45"/><line x1="287.4" y1="54.4" x2="287.4" y2="97.3" stroke="#333" stroke-width="0.6"/><line x1="285.7" y1="74.4" x2="285.7" y2="79.4" stroke="#000" stroke-width="0.6"/><line x1="284.5" y1="74.4" x2="286.9" y2="74.4" stroke="#000" stroke-width="0.6"/><line x1="284.5" y1="79.4" x2="286.9" y2="79.4" stroke="#000" stroke-width="0.6"/><rect x="284.4" y="75.6" width="2.6" height="2.6" fill="#000"/><line x1="289.6" y1="74.4" x2="289.6" y2="79.4" stroke="#000" stroke-width="0.6"/><line x1="288.4" y1="74.4" x2="290.8" y2="74.4" stroke="#000" stroke-width="0.6"/><line x1="288.4" y1="79.4" x2="290.8" y2="79.4" stroke="#000" stroke-width="0.6"/><rect x="288.3" y="75.6" width="2.6" height="2.6" fill="#000"/><line x1="310" y1="37.4" x2="310" y2="129.8" stroke="#333" stroke-width="0.8"/><path d="M310 51.4 L309.15 51.4 L308.98 52.35 L308.8 53.3 L308.58 54.25 L308.34 55.2 L308.07 56.15 L307.78 57.1 L307.45 58.05 L307.1 59 L306.71 59.95 L306.3 60.9 L305.86 61.85 L305.4 62.8 L304.92 63.75 L304.43 64.7 L303.93 65.65 L303.43 66.6 L302.93 67.55 L302.44 68.5 L301.97 69.45 L301.52 70.4 L301.1 71.35 L300.73 72.3 L300.4 73.25 L300.12 74.2 L299.89 75.15 L299.73 76.1 L299.63 77.05 L299.6 78 L299.63 78.95 L299.73 79.91 L299.89 80.86 L300.12 81.81 L300.4 82.77 L300.73 83.72 L301.1 84.67 L301.52 85.63 L301.97 86.58 L302.44 87.54 L302.93 88.49 L303.43 89.44 L303.93 90.4 L304.43 91.35 L304.92 92.3 L305.4 93.26 L305.86 94.21 L306.3 95.16 L306.71 96.12 L307.1 97.07 L307.45 98.03 L307.78 98.98 L308.07 99.93 L308.34 100.89 L308.58 101.84 L308.8 102.79 L308.98 103.75 L309.15 104.7 L310 104.7 Z" fill="#E64B35" stroke="#3a2a2a" stroke-width="0.45"/><path d="M310 61.8 L310.7 61.8 L310.84 62.35 L311.01 62.91 L311.21 63.46 L311.43 64.01 L311.68 64.57 L311.96 65.12 L312.28 65.67 L312.62 66.23 L313 66.78 L313.41 67.34 L313.84 67.89 L314.31 68.44 L314.79 69 L315.3 69.55 L315.81 70.1 L316.33 70.66 L316.86 71.21 L317.37 71.76 L317.87 72.32 L318.34 72.87 L318.79 73.42 L319.19 73.98 L319.54 74.53 L319.84 75.09 L320.08 75.64 L320.26 76.19 L320.36 76.75 L320.4 77.3 L320.36 77.85 L320.26 78.41 L320.08 78.96 L319.84 79.51 L319.54 80.07 L319.19 80.62 L318.79 81.17 L318.34 81.73 L317.87 82.28 L317.37 82.84 L316.86 83.39 L316.33 83.94 L315.81 84.5 L315.3 85.05 L314.79 85.6 L314.31 86.16 L313.84 86.71 L313.41 87.26 L313 87.82 L312.62 88.37 L312.28 88.92 L311.96 89.48 L311.68 90.03 L311.43 90.59 L311.21 91.14 L311.01 91.69 L310.84 92.25 L310.7 92.8 L310 92.8 Z" fill="#4DBBD5" stroke="#1f3a44" stroke-width="0.45"/><line x1="310" y1="51.4" x2="310" y2="104.7" stroke="#333" stroke-width="0.6"/><line x1="308.1" y1="76.3" x2="308.1" y2="81.3" stroke="#000" stroke-width="0.6"/><line x1="306.9" y1="76.3" x2="309.3" y2="76.3" stroke="#000" stroke-width="0.6"/><line x1="306.9" y1="81.3" x2="309.3" y2="81.3" stroke="#000" stroke-width="0.6"/><rect x="306.8" y="77.5" width="2.6" height="2.6" fill="#000"/><line x1="312" y1="74.4" x2="312" y2="79.4" stroke="#000" stroke-width="0.6"/><line x1="310.8" y1="74.4" x2="313.2" y2="74.4" stroke="#000" stroke-width="0.6"/><line x1="310.8" y1="79.4" x2="313.2" y2="79.4" stroke="#000" stroke-width="0.6"/><rect x="310.7" y="75.6" width="2.6" height="2.6" fill="#000"/><line x1="332.8" y1="42.5" x2="332.8" y2="116.5" stroke="#333" stroke-width="0.8"/><path d="M332.8 52.9 L331.97 52.9 L331.81 53.75 L331.63 54.59 L331.42 55.44 L331.19 56.29 L330.93 57.13 L330.64 57.98 L330.32 58.82 L329.98 59.67 L329.61 60.52 L329.21 61.36 L328.78 62.21 L328.34 63.06 L327.87 63.9 L327.39 64.75 L326.91 65.6 L326.42 66.44 L325.93 67.29 L325.46 68.14 L325 68.98 L324.56 69.83 L324.16 70.67 L323.8 71.52 L323.47 72.37 L323.2 73.21 L322.99 74.06 L322.83 74.91 L322.73 75.75 L322.7 76.6 L322.73 77.47 L322.83 78.34 L322.99 79.21 L323.2 80.09 L323.47 80.96 L323.8 81.83 L324.16 82.7 L324.56 83.57 L325 84.44 L325.46 85.31 L325.93 86.19 L326.42 87.06 L326.91 87.93 L327.39 88.8 L327.87 89.67 L328.34 90.54 L328.78 91.41 L329.21 92.29 L329.61 93.16 L329.98 94.03 L330.32 94.9 L330.64 95.77 L330.93 96.64 L331.19 97.51 L331.42 98.39 L331.63 99.26 L331.81 100.13 L331.97 101 L332.8 101 Z" fill="#E64B35" stroke="#3a2a2a" stroke-width="0.45"/><path d="M332.8 69.2 L333.5 69.2 L333.64 69.81 L333.81 70.41 L334.01 71.02 L334.23 71.63 L334.48 72.24 L334.76 72.84 L335.08 73.45 L335.42 74.06 L335.8 74.66 L336.21 75.27 L336.64 75.88 L337.11 76.49 L337.59 77.09 L338.1 77.7 L338.61 78.31 L339.13 78.91 L339.66 79.52 L340.17 80.13 L340.67 80.74 L341.14 81.34 L341.59 81.95 L341.99 82.56 L342.34 83.16 L342.64 83.77 L342.88 84.38 L343.06 84.99 L343.16 85.59 L343.2 86.2 L343.16 86.75 L343.06 87.31 L342.88 87.86 L342.64 88.41 L342.34 88.97 L341.99 89.52 L341.59 90.08 L341.14 90.63 L340.67 91.18 L340.17 91.74 L339.66 92.29 L339.13 92.84 L338.61 93.4 L338.1 93.95 L337.59 94.5 L337.11 95.06 L336.64 95.61 L336.21 96.16 L335.8 96.72 L335.42 97.27 L335.08 97.83 L334.76 98.38 L334.48 98.93 L334.23 99.49 L334.01 100.04 L333.81 100.59 L333.64 101.15 L333.5 101.7 L332.8 101.7 Z" fill="#4DBBD5" stroke="#1f3a44" stroke-width="0.45"/><line x1="332.8" y1="52.9" x2="332.8" y2="101.7" stroke="#333" stroke-width="0.6"/><line x1="331" y1="72.5" x2="331" y2="81.3" stroke="#000" stroke-width="0.6"/><line x1="329.8" y1="72.5" x2="332.2" y2="72.5" stroke="#000" stroke-width="0.6"/><line x1="329.8" y1="81.3" x2="332.2" y2="81.3" stroke="#000" stroke-width="0.6"/><rect x="329.7" y="75.6" width="2.6" height="2.6" fill="#000"/><line x1="334.7" y1="82.6" x2="334.7" y2="90.6" stroke="#000" stroke-width="0.6"/><line x1="333.5" y1="82.6" x2="335.9" y2="82.6" stroke="#000" stroke-width="0.6"/><line x1="333.5" y1="90.6" x2="335.9" y2="90.6" stroke="#000" stroke-width="0.6"/><rect x="333.4" y="85.3" width="2.6" height="2.6" fill="#000"/><line x1="355.2" y1="48.2" x2="355.2" y2="115.8" stroke="#333" stroke-width="0.8"/><path d="M355.2 55.9 L354.39 55.9 L354.23 56.59 L354.05 57.27 L353.85 57.96 L353.62 58.64 L353.37 59.33 L353.08 60.01 L352.77 60.7 L352.44 61.39 L352.07 62.07 L351.68 62.76 L351.26 63.44 L350.82 64.13 L350.37 64.81 L349.9 65.5 L349.42 66.19 L348.95 66.87 L348.47 67.56 L348 68.24 L347.55 68.93 L347.13 69.61 L346.73 70.3 L346.37 70.99 L346.06 71.67 L345.79 72.36 L345.58 73.04 L345.43 73.73 L345.33 74.41 L345.3 75.1 L345.33 75.84 L345.43 76.58 L345.58 77.32 L345.79 78.06 L346.06 78.8 L346.37 79.54 L346.73 80.27 L347.13 81.01 L347.55 81.75 L348 82.49 L348.47 83.23 L348.95 83.97 L349.42 84.71 L349.9 85.45 L350.37 86.19 L350.82 86.93 L351.26 87.67 L351.68 88.41 L352.07 89.15 L352.44 89.89 L352.77 90.62 L353.08 91.36 L353.37 92.1 L353.62 92.84 L353.85 93.58 L354.05 94.32 L354.23 95.06 L354.39 95.8 L355.2 95.8 Z" fill="#E64B35" stroke="#3a2a2a" stroke-width="0.45"/><path d="M355.2 64 L355.9 64 L356.04 64.42 L356.21 64.84 L356.41 65.26 L356.63 65.69 L356.88 66.11 L357.16 66.53 L357.48 66.95 L357.82 67.37 L358.2 67.79 L358.61 68.21 L359.04 68.64 L359.51 69.06 L359.99 69.48 L360.5 69.9 L361.01 70.32 L361.53 70.74 L362.06 71.16 L362.57 71.59 L363.07 72.01 L363.54 72.43 L363.99 72.85 L364.39 73.27 L364.74 73.69 L365.04 74.11 L365.28 74.54 L365.46 74.96 L365.56 75.38 L365.6 75.8 L365.56 76.27 L365.46 76.75 L365.28 77.22 L365.04 77.7 L364.74 78.17 L364.39 78.65 L363.99 79.12 L363.54 79.6 L363.07 80.08 L362.57 80.55 L362.06 81.02 L361.53 81.5 L361.01 81.97 L360.5 82.45 L359.99 82.92 L359.51 83.4 L359.04 83.88 L358.61 84.35 L358.2 84.82 L357.82 85.3 L357.48 85.77 L357.16 86.25 L356.88 86.72 L356.63 87.2 L356.41 87.67 L356.21 88.15 L356.04 88.62 L355.9 89.1 L355.2 89.1 Z" fill="#4DBBD5" stroke="#1f3a44" stroke-width="0.45"/><line x1="355.2" y1="55.9" x2="355.2" y2="95.8" stroke="#333" stroke-width="0.6"/><line x1="353.8" y1="72.9" x2="353.8" y2="77.9" stroke="#000" stroke-width="0.6"/><line x1="352.6" y1="72.9" x2="355" y2="72.9" stroke="#000" stroke-width="0.6"/><line x1="352.6" y1="77.9" x2="355" y2="77.9" stroke="#000" stroke-width="0.6"/><rect x="352.5" y="74.1" width="2.6" height="2.6" fill="#000"/><line x1="357.5" y1="73.3" x2="357.5" y2="78.3" stroke="#000" stroke-width="0.6"/><line x1="356.3" y1="73.3" x2="358.7" y2="73.3" stroke="#000" stroke-width="0.6"/><line x1="356.3" y1="78.3" x2="358.7" y2="78.3" stroke="#000" stroke-width="0.6"/><rect x="356.2" y="74.5" width="2.6" height="2.6" fill="#000"/><line x1="377.9" y1="24.8" x2="377.9" y2="129.8" stroke="#333" stroke-width="0.8"/><path d="M377.9 39.6 L377.05 39.6 L376.88 40.76 L376.7 41.92 L376.48 43.08 L376.24 44.24 L375.97 45.4 L375.68 46.56 L375.35 47.73 L375 48.89 L374.61 50.05 L374.2 51.21 L373.76 52.37 L373.3 53.53 L372.82 54.69 L372.33 55.85 L371.83 57.01 L371.33 58.17 L370.83 59.33 L370.34 60.49 L369.87 61.65 L369.42 62.81 L369 63.97 L368.63 65.14 L368.3 66.3 L368.02 67.46 L367.79 68.62 L367.63 69.78 L367.53 70.94 L367.5 72.1 L367.53 73.26 L367.63 74.43 L367.79 75.59 L368.02 76.76 L368.3 77.92 L368.63 79.09 L369 80.25 L369.42 81.41 L369.87 82.58 L370.34 83.74 L370.83 84.91 L371.33 86.07 L371.83 87.24 L372.33 88.4 L372.82 89.56 L373.3 90.73 L373.76 91.89 L374.2 93.06 L374.61 94.22 L375 95.39 L375.35 96.55 L375.68 97.71 L375.97 98.88 L376.24 100.04 L376.48 101.21 L376.7 102.37 L376.88 103.54 L377.05 104.7 L377.9 104.7 Z" fill="#E64B35" stroke="#3a2a2a" stroke-width="0.45"/><path d="M377.9 55.9 L378.6 55.9 L378.74 56.64 L378.91 57.38 L379.11 58.12 L379.33 58.86 L379.58 59.6 L379.86 60.34 L380.18 61.07 L380.52 61.81 L380.9 62.55 L381.31 63.29 L381.74 64.03 L382.21 64.77 L382.69 65.51 L383.2 66.25 L383.71 66.99 L384.23 67.73 L384.76 68.47 L385.27 69.21 L385.77 69.95 L386.24 70.69 L386.69 71.42 L387.09 72.16 L387.44 72.9 L387.74 73.64 L387.98 74.38 L388.16 75.12 L388.26 75.86 L388.3 76.6 L388.26 76.97 L388.16 77.34 L387.98 77.7 L387.74 78.07 L387.44 78.44 L387.09 78.81 L386.69 79.17 L386.24 79.54 L385.77 79.91 L385.27 80.28 L384.76 80.65 L384.23 81.01 L383.71 81.38 L383.2 81.75 L382.69 82.12 L382.21 82.49 L381.74 82.85 L381.31 83.22 L380.9 83.59 L380.52 83.96 L380.18 84.33 L379.86 84.69 L379.58 85.06 L379.33 85.43 L379.11 85.8 L378.91 86.16 L378.74 86.53 L378.6 86.9 L377.9 86.9 Z" fill="#4DBBD5" stroke="#1f3a44" stroke-width="0.45"/><line x1="377.9" y1="39.6" x2="377.9" y2="104.7" stroke="#333" stroke-width="0.6"/><line x1="376" y1="66.7" x2="376" y2="74.7" stroke="#000" stroke-width="0.6"/><line x1="374.8" y1="66.7" x2="377.2" y2="66.7" stroke="#000" stroke-width="0.6"/><line x1="374.8" y1="74.7" x2="377.2" y2="74.7" stroke="#000" stroke-width="0.6"/><rect x="374.7" y="69.4" width="2.6" height="2.6" fill="#000"/><line x1="379.6" y1="74.8" x2="379.6" y2="79.8" stroke="#000" stroke-width="0.6"/><line x1="378.4" y1="74.8" x2="380.8" y2="74.8" stroke="#000" stroke-width="0.6"/><line x1="378.4" y1="79.8" x2="380.8" y2="79.8" stroke="#000" stroke-width="0.6"/><rect x="378.3" y="76" width="2.6" height="2.6" fill="#000"/><line x1="400.4" y1="33.7" x2="400.4" y2="129.8" stroke="#333" stroke-width="0.8"/><path d="M400.4 39.6 L399.59 39.6 L399.43 40.58 L399.25 41.56 L399.05 42.54 L398.82 43.51 L398.57 44.49 L398.28 45.47 L397.97 46.45 L397.64 47.43 L397.27 48.41 L396.88 49.39 L396.46 50.36 L396.02 51.34 L395.57 52.32 L395.1 53.3 L394.62 54.28 L394.15 55.26 L393.67 56.24 L393.2 57.21 L392.75 58.19 L392.33 59.17 L391.93 60.15 L391.57 61.13 L391.26 62.11 L390.99 63.09 L390.78 64.06 L390.63 65.04 L390.53 66.02 L390.5 67 L390.53 67.76 L390.63 68.53 L390.78 69.29 L390.99 70.06 L391.26 70.82 L391.57 71.59 L391.93 72.35 L392.33 73.11 L392.75 73.88 L393.2 74.64 L393.67 75.41 L394.15 76.17 L394.62 76.94 L395.1 77.7 L395.57 78.46 L396.02 79.23 L396.46 79.99 L396.88 80.76 L397.27 81.52 L397.64 82.29 L397.97 83.05 L398.28 83.81 L398.57 84.58 L398.82 85.34 L399.05 86.11 L399.25 86.87 L399.43 87.64 L399.59 88.4 L400.4 88.4 Z" fill="#E64B35" stroke="#3a2a2a" stroke-width="0.45"/><path d="M400.4 47 L401.11 47 L401.25 47.9 L401.42 48.79 L401.62 49.69 L401.84 50.59 L402.1 51.48 L402.38 52.38 L402.7 53.27 L403.05 54.17 L403.43 55.07 L403.84 55.96 L404.28 56.86 L404.75 57.76 L405.24 58.65 L405.75 59.55 L406.27 60.45 L406.79 61.34 L407.32 62.24 L407.84 63.14 L408.34 64.03 L408.82 64.93 L409.27 65.82 L409.68 66.72 L410.03 67.62 L410.34 68.51 L410.58 69.41 L410.76 70.31 L410.86 71.2 L410.9 72.1 L410.86 73.26 L410.76 74.43 L410.58 75.59 L410.34 76.76 L410.03 77.92 L409.68 79.09 L409.27 80.25 L408.82 81.41 L408.34 82.58 L407.84 83.74 L407.32 84.91 L406.79 86.07 L406.27 87.24 L405.75 88.4 L405.24 89.56 L404.75 90.73 L404.28 91.89 L403.84 93.06 L403.43 94.22 L403.05 95.39 L402.7 96.55 L402.38 97.71 L402.1 98.88 L401.84 100.04 L401.62 101.21 L401.42 102.37 L401.25 103.54 L401.11 104.7 L400.4 104.7 Z" fill="#4DBBD5" stroke="#1f3a44" stroke-width="0.45"/><line x1="400.4" y1="39.6" x2="400.4" y2="104.7" stroke="#333" stroke-width="0.6"/><line x1="398.6" y1="64.8" x2="398.6" y2="71.4" stroke="#000" stroke-width="0.6"/><line x1="397.4" y1="64.8" x2="399.8" y2="64.8" stroke="#000" stroke-width="0.6"/><line x1="397.4" y1="71.4" x2="399.8" y2="71.4" stroke="#000" stroke-width="0.6"/><rect x="397.3" y="66.8" width="2.6" height="2.6" fill="#000"/><line x1="402.3" y1="68" x2="402.3" y2="76.8" stroke="#000" stroke-width="0.6"/><line x1="401.1" y1="68" x2="403.5" y2="68" stroke="#000" stroke-width="0.6"/><line x1="401.1" y1="76.8" x2="403.5" y2="76.8" stroke="#000" stroke-width="0.6"/><rect x="401" y="71.1" width="2.6" height="2.6" fill="#000"/><line x1="423" y1="46.2" x2="423" y2="118.7" stroke="#333" stroke-width="0.8"/><path d="M423 57.3 L422.15 57.3 L421.98 58.04 L421.8 58.78 L421.58 59.52 L421.34 60.26 L421.07 61 L420.78 61.74 L420.45 62.48 L420.1 63.21 L419.71 63.95 L419.3 64.69 L418.86 65.43 L418.4 66.17 L417.92 66.91 L417.43 67.65 L416.93 68.39 L416.43 69.13 L415.93 69.87 L415.44 70.61 L414.97 71.35 L414.52 72.09 L414.1 72.83 L413.73 73.56 L413.4 74.3 L413.12 75.04 L412.89 75.78 L412.73 76.52 L412.63 77.26 L412.6 78 L412.63 78.85 L412.73 79.69 L412.89 80.54 L413.12 81.39 L413.4 82.23 L413.73 83.08 L414.1 83.92 L414.52 84.77 L414.97 85.62 L415.44 86.46 L415.93 87.31 L416.43 88.16 L416.93 89 L417.43 89.85 L417.92 90.7 L418.4 91.54 L418.86 92.39 L419.3 93.24 L419.71 94.08 L420.1 94.93 L420.45 95.78 L420.78 96.62 L421.07 97.47 L421.34 98.31 L421.58 99.16 L421.8 100.01 L421.98 100.85 L422.15 101.7 L423 101.7 Z" fill="#E64B35" stroke="#3a2a2a" stroke-width="0.45"/><path d="M423 60.3 L423.7 60.3 L423.84 60.88 L424.01 61.46 L424.21 62.05 L424.43 62.63 L424.68 63.21 L424.96 63.79 L425.28 64.38 L425.62 64.96 L426 65.54 L426.41 66.12 L426.84 66.7 L427.31 67.29 L427.79 67.87 L428.3 68.45 L428.81 69.03 L429.33 69.61 L429.86 70.2 L430.37 70.78 L430.87 71.36 L431.34 71.94 L431.79 72.52 L432.19 73.11 L432.54 73.69 L432.84 74.27 L433.08 74.85 L433.26 75.44 L433.36 76.02 L433.4 76.6 L433.36 77.23 L433.26 77.86 L433.08 78.5 L432.84 79.13 L432.54 79.76 L432.19 80.39 L431.79 81.02 L431.34 81.66 L430.87 82.29 L430.37 82.92 L429.86 83.55 L429.33 84.19 L428.81 84.82 L428.3 85.45 L427.79 86.08 L427.31 86.71 L426.84 87.35 L426.41 87.98 L426 88.61 L425.62 89.24 L425.28 89.88 L424.96 90.51 L424.68 91.14 L424.43 91.77 L424.21 92.4 L424.01 93.04 L423.84 93.67 L423.7 94.3 L423 94.3 Z" fill="#4DBBD5" stroke="#1f3a44" stroke-width="0.45"/><line x1="423" y1="57.3" x2="423" y2="101.7" stroke="#333" stroke-width="0.6"/><line x1="421.3" y1="76.3" x2="421.3" y2="81.3" stroke="#000" stroke-width="0.6"/><line x1="420.1" y1="76.3" x2="422.5" y2="76.3" stroke="#000" stroke-width="0.6"/><line x1="420.1" y1="81.3" x2="422.5" y2="81.3" stroke="#000" stroke-width="0.6"/><rect x="420" y="77.5" width="2.6" height="2.6" fill="#000"/><line x1="425" y1="74.4" x2="425" y2="79.4" stroke="#000" stroke-width="0.6"/><line x1="423.8" y1="74.4" x2="426.2" y2="74.4" stroke="#000" stroke-width="0.6"/><line x1="423.8" y1="79.4" x2="426.2" y2="79.4" stroke="#000" stroke-width="0.6"/><rect x="423.7" y="75.6" width="2.6" height="2.6" fill="#000"/><line x1="445.4" y1="15.9" x2="445.4" y2="124.6" stroke="#333" stroke-width="0.8"/><path d="M445.4 36.6 L444.57 36.6 L444.41 37.71 L444.23 38.82 L444.02 39.93 L443.79 41.04 L443.53 42.15 L443.24 43.26 L442.92 44.38 L442.58 45.49 L442.21 46.6 L441.81 47.71 L441.38 48.82 L440.94 49.93 L440.47 51.04 L439.99 52.15 L439.51 53.26 L439.02 54.37 L438.53 55.48 L438.06 56.59 L437.6 57.7 L437.16 58.81 L436.76 59.92 L436.4 61.04 L436.07 62.15 L435.8 63.26 L435.59 64.37 L435.43 65.48 L435.33 66.59 L435.3 67.7 L435.33 68.86 L435.43 70.02 L435.59 71.18 L435.8 72.34 L436.07 73.5 L436.4 74.66 L436.76 75.83 L437.16 76.99 L437.6 78.15 L438.06 79.31 L438.53 80.47 L439.02 81.63 L439.51 82.79 L439.99 83.95 L440.47 85.11 L440.94 86.27 L441.38 87.43 L441.81 88.59 L442.21 89.75 L442.58 90.91 L442.92 92.08 L443.24 93.24 L443.53 94.4 L443.79 95.56 L444.02 96.72 L444.23 97.88 L444.41 99.04 L444.57 100.2 L445.4 100.2 Z" fill="#E64B35" stroke="#3a2a2a" stroke-width="0.45"/><path d="M445.4 66.2 L446.1 66.2 L446.24 66.67 L446.41 67.15 L446.61 67.62 L446.83 68.1 L447.08 68.58 L447.36 69.05 L447.68 69.53 L448.02 70 L448.4 70.48 L448.81 70.95 L449.24 71.42 L449.71 71.9 L450.19 72.38 L450.7 72.85 L451.21 73.33 L451.73 73.8 L452.26 74.28 L452.77 74.75 L453.27 75.22 L453.74 75.7 L454.19 76.17 L454.59 76.65 L454.94 77.12 L455.24 77.6 L455.48 78.08 L455.66 78.55 L455.76 79.03 L455.8 79.5 L455.76 79.97 L455.66 80.45 L455.48 80.92 L455.24 81.4 L454.94 81.88 L454.59 82.35 L454.19 82.83 L453.74 83.3 L453.27 83.78 L452.77 84.25 L452.26 84.72 L451.73 85.2 L451.21 85.67 L450.7 86.15 L450.19 86.62 L449.71 87.1 L449.24 87.58 L448.81 88.05 L448.4 88.52 L448.02 89 L447.68 89.47 L447.36 89.95 L447.08 90.42 L446.83 90.9 L446.61 91.38 L446.41 91.85 L446.24 92.33 L446.1 92.8 L445.4 92.8 Z" fill="#4DBBD5" stroke="#1f3a44" stroke-width="0.45"/><line x1="445.4" y1="36.6" x2="445.4" y2="100.2" stroke="#333" stroke-width="0.6"/><line x1="443.5" y1="65.5" x2="443.5" y2="72.9" stroke="#000" stroke-width="0.6"/><line x1="442.3" y1="65.5" x2="444.7" y2="65.5" stroke="#000" stroke-width="0.6"/><line x1="442.3" y1="72.9" x2="444.7" y2="72.9" stroke="#000" stroke-width="0.6"/><rect x="442.2" y="67.9" width="2.6" height="2.6" fill="#000"/><line x1="447.6" y1="78.2" x2="447.6" y2="83.2" stroke="#000" stroke-width="0.6"/><line x1="446.4" y1="78.2" x2="448.8" y2="78.2" stroke="#000" stroke-width="0.6"/><line x1="446.4" y1="83.2" x2="448.8" y2="83.2" stroke="#000" stroke-width="0.6"/><rect x="446.3" y="79.4" width="2.6" height="2.6" fill="#000"/><line x1="467.9" y1="37.4" x2="467.9" y2="121.7" stroke="#333" stroke-width="0.8"/><path d="M467.9 54.4 L467.09 54.4 L466.93 55.4 L466.75 56.41 L466.55 57.41 L466.32 58.41 L466.07 59.42 L465.78 60.42 L465.47 61.42 L465.14 62.43 L464.77 63.43 L464.38 64.44 L463.96 65.44 L463.52 66.44 L463.07 67.45 L462.6 68.45 L462.12 69.45 L461.65 70.46 L461.17 71.46 L460.7 72.46 L460.25 73.47 L459.83 74.47 L459.43 75.47 L459.07 76.48 L458.76 77.48 L458.49 78.49 L458.28 79.49 L458.13 80.49 L458.03 81.5 L458 82.5 L458.03 83.5 L458.13 84.51 L458.28 85.51 L458.49 86.51 L458.76 87.52 L459.07 88.52 L459.43 89.53 L459.83 90.53 L460.25 91.53 L460.7 92.54 L461.17 93.54 L461.65 94.54 L462.12 95.55 L462.6 96.55 L463.07 97.55 L463.52 98.56 L463.96 99.56 L464.38 100.56 L464.77 101.57 L465.14 102.57 L465.47 103.57 L465.78 104.58 L466.07 105.58 L466.32 106.59 L466.55 107.59 L466.75 108.59 L466.93 109.6 L467.09 110.6 L467.9 110.6 Z" fill="#E64B35" stroke="#3a2a2a" stroke-width="0.45"/><path d="M467.9 75.1 L468.6 75.1 L468.74 75.76 L468.91 76.42 L469.11 77.08 L469.33 77.74 L469.58 78.4 L469.86 79.06 L470.18 79.72 L470.52 80.39 L470.9 81.05 L471.31 81.71 L471.74 82.37 L472.21 83.03 L472.69 83.69 L473.2 84.35 L473.71 85.01 L474.23 85.67 L474.76 86.33 L475.27 86.99 L475.77 87.65 L476.24 88.31 L476.69 88.97 L477.09 89.64 L477.44 90.3 L477.74 90.96 L477.98 91.62 L478.16 92.28 L478.26 92.94 L478.3 93.6 L478.26 94 L478.16 94.39 L477.98 94.79 L477.74 95.19 L477.44 95.58 L477.09 95.98 L476.69 96.38 L476.24 96.77 L475.77 97.17 L475.27 97.56 L474.76 97.96 L474.23 98.36 L473.71 98.75 L473.2 99.15 L472.69 99.55 L472.21 99.94 L471.74 100.34 L471.31 100.74 L470.9 101.13 L470.52 101.53 L470.18 101.92 L469.86 102.32 L469.58 102.72 L469.33 103.11 L469.11 103.51 L468.91 103.91 L468.74 104.3 L468.6 104.7 L467.9 104.7 Z" fill="#4DBBD5" stroke="#1f3a44" stroke-width="0.45"/><line x1="467.9" y1="54.4" x2="467.9" y2="110.6" stroke="#333" stroke-width="0.6"/><line x1="466" y1="78.4" x2="466" y2="87.2" stroke="#000" stroke-width="0.6"/><line x1="464.8" y1="78.4" x2="467.2" y2="78.4" stroke="#000" stroke-width="0.6"/><line x1="464.8" y1="87.2" x2="467.2" y2="87.2" stroke="#000" stroke-width="0.6"/><rect x="464.7" y="81.5" width="2.6" height="2.6" fill="#000"/><line x1="469.8" y1="91.4" x2="469.8" y2="96.6" stroke="#000" stroke-width="0.6"/><line x1="468.6" y1="91.4" x2="471" y2="91.4" stroke="#000" stroke-width="0.6"/><line x1="468.6" y1="96.6" x2="471" y2="96.6" stroke="#000" stroke-width="0.6"/><rect x="468.5" y="92.7" width="2.6" height="2.6" fill="#000"/><line x1="490.4" y1="55.9" x2="490.4" y2="113.6" stroke="#333" stroke-width="0.8"/><path d="M490.4 61.8 L489.59 61.8 L489.43 62.38 L489.25 62.96 L489.05 63.54 L488.82 64.11 L488.57 64.69 L488.28 65.27 L487.97 65.85 L487.64 66.43 L487.27 67.01 L486.88 67.59 L486.46 68.16 L486.02 68.74 L485.57 69.32 L485.1 69.9 L484.62 70.48 L484.15 71.06 L483.67 71.64 L483.2 72.21 L482.75 72.79 L482.33 73.37 L481.93 73.95 L481.57 74.53 L481.26 75.11 L480.99 75.69 L480.78 76.26 L480.63 76.84 L480.53 77.42 L480.5 78 L480.53 78.58 L480.63 79.16 L480.78 79.75 L480.99 80.33 L481.26 80.91 L481.57 81.49 L481.93 82.08 L482.33 82.66 L482.75 83.24 L483.2 83.82 L483.67 84.4 L484.15 84.99 L484.62 85.57 L485.1 86.15 L485.57 86.73 L486.02 87.31 L486.46 87.9 L486.88 88.48 L487.27 89.06 L487.64 89.64 L487.97 90.22 L488.28 90.81 L488.57 91.39 L488.82 91.97 L489.05 92.55 L489.25 93.14 L489.43 93.72 L489.59 94.3 L490.4 94.3 Z" fill="#E64B35" stroke="#3a2a2a" stroke-width="0.45"/><path d="M490.4 65.5 L491.11 65.5 L491.25 65.9 L491.42 66.29 L491.62 66.69 L491.84 67.09 L492.1 67.48 L492.38 67.88 L492.7 68.28 L493.05 68.67 L493.43 69.07 L493.84 69.46 L494.28 69.86 L494.75 70.26 L495.24 70.65 L495.75 71.05 L496.27 71.45 L496.79 71.84 L497.32 72.24 L497.84 72.64 L498.34 73.03 L498.82 73.43 L499.27 73.82 L499.68 74.22 L500.03 74.62 L500.34 75.01 L500.58 75.41 L500.76 75.81 L500.86 76.2 L500.9 76.6 L500.86 76.97 L500.76 77.34 L500.58 77.7 L500.34 78.07 L500.03 78.44 L499.68 78.81 L499.27 79.17 L498.82 79.54 L498.34 79.91 L497.84 80.28 L497.32 80.65 L496.79 81.01 L496.27 81.38 L495.75 81.75 L495.24 82.12 L494.75 82.49 L494.28 82.85 L493.84 83.22 L493.43 83.59 L493.05 83.96 L492.7 84.33 L492.38 84.69 L492.1 85.06 L491.84 85.43 L491.62 85.8 L491.42 86.16 L491.25 86.53 L491.11 86.9 L490.4 86.9 Z" fill="#4DBBD5" stroke="#1f3a44" stroke-width="0.45"/><line x1="490.4" y1="61.8" x2="490.4" y2="94.3" stroke="#333" stroke-width="0.6"/><line x1="488.6" y1="75.5" x2="488.6" y2="80.5" stroke="#000" stroke-width="0.6"/><line x1="487.4" y1="75.5" x2="489.8" y2="75.5" stroke="#000" stroke-width="0.6"/><line x1="487.4" y1="80.5" x2="489.8" y2="80.5" stroke="#000" stroke-width="0.6"/><rect x="487.3" y="76.7" width="2.6" height="2.6" fill="#000"/><line x1="492.6" y1="74.4" x2="492.6" y2="79.4" stroke="#000" stroke-width="0.6"/><line x1="491.4" y1="74.4" x2="493.8" y2="74.4" stroke="#000" stroke-width="0.6"/><line x1="491.4" y1="79.4" x2="493.8" y2="79.4" stroke="#000" stroke-width="0.6"/><rect x="491.3" y="75.6" width="2.6" height="2.6" fill="#000"/><line x1="513.2" y1="49.9" x2="513.2" y2="100.5" stroke="#333" stroke-width="0.8"/><path d="M513.2 57.3 L512.37 57.3 L512.21 57.83 L512.03 58.36 L511.82 58.89 L511.59 59.41 L511.33 59.94 L511.04 60.47 L510.72 61 L510.38 61.53 L510.01 62.06 L509.61 62.59 L509.18 63.11 L508.74 63.64 L508.27 64.17 L507.79 64.7 L507.31 65.23 L506.82 65.76 L506.33 66.29 L505.86 66.81 L505.4 67.34 L504.96 67.87 L504.56 68.4 L504.2 68.93 L503.87 69.46 L503.6 69.99 L503.39 70.51 L503.23 71.04 L503.13 71.57 L503.1 72.1 L503.13 72.68 L503.23 73.26 L503.39 73.85 L503.6 74.43 L503.87 75.01 L504.2 75.59 L504.56 76.17 L504.96 76.76 L505.4 77.34 L505.86 77.92 L506.33 78.5 L506.82 79.09 L507.31 79.67 L507.79 80.25 L508.27 80.83 L508.74 81.41 L509.18 82 L509.61 82.58 L510.01 83.16 L510.38 83.74 L510.72 84.33 L511.04 84.91 L511.33 85.49 L511.59 86.07 L511.82 86.65 L512.03 87.24 L512.21 87.82 L512.37 88.4 L513.2 88.4 Z" fill="#E64B35" stroke="#3a2a2a" stroke-width="0.45"/><path d="M513.2 66.2 L513.92 66.2 L514.07 66.6 L514.24 66.99 L514.44 67.39 L514.67 67.79 L514.93 68.18 L515.22 68.58 L515.54 68.97 L515.9 69.37 L516.29 69.77 L516.71 70.16 L517.15 70.56 L517.63 70.96 L518.13 71.35 L518.65 71.75 L519.18 72.15 L519.72 72.54 L520.25 72.94 L520.78 73.34 L521.3 73.73 L521.78 74.13 L522.24 74.53 L522.65 74.92 L523.02 75.32 L523.33 75.71 L523.57 76.11 L523.75 76.51 L523.86 76.9 L523.9 77.3 L523.86 77.62 L523.75 77.94 L523.57 78.25 L523.33 78.57 L523.02 78.89 L522.65 79.21 L522.24 79.53 L521.78 79.84 L521.3 80.16 L520.78 80.48 L520.25 80.8 L519.72 81.11 L519.18 81.43 L518.65 81.75 L518.13 82.07 L517.63 82.39 L517.15 82.7 L516.71 83.02 L516.29 83.34 L515.9 83.66 L515.54 83.97 L515.22 84.29 L514.93 84.61 L514.67 84.93 L514.44 85.25 L514.24 85.56 L514.07 85.88 L513.92 86.2 L513.2 86.2 Z" fill="#4DBBD5" stroke="#1f3a44" stroke-width="0.45"/><line x1="513.2" y1="57.3" x2="513.2" y2="88.4" stroke="#333" stroke-width="0.6"/><line x1="511.3" y1="69.9" x2="511.3" y2="74.9" stroke="#000" stroke-width="0.6"/><line x1="510.1" y1="69.9" x2="512.5" y2="69.9" stroke="#000" stroke-width="0.6"/><line x1="510.1" y1="74.9" x2="512.5" y2="74.9" stroke="#000" stroke-width="0.6"/><rect x="510" y="71.1" width="2.6" height="2.6" fill="#000"/><line x1="515" y1="75.8" x2="515" y2="80.8" stroke="#000" stroke-width="0.6"/><line x1="513.8" y1="75.8" x2="516.2" y2="75.8" stroke="#000" stroke-width="0.6"/><line x1="513.8" y1="80.8" x2="516.2" y2="80.8" stroke="#000" stroke-width="0.6"/><rect x="513.7" y="77" width="2.6" height="2.6" fill="#000"/><line x1="535.4" y1="43.3" x2="535.4" y2="129.1" stroke="#333" stroke-width="0.8"/><path d="M535.4 54.4 L534.57 54.4 L534.41 55.19 L534.23 55.99 L534.02 56.78 L533.79 57.57 L533.53 58.36 L533.24 59.16 L532.92 59.95 L532.58 60.74 L532.21 61.54 L531.81 62.33 L531.38 63.12 L530.94 63.91 L530.47 64.71 L529.99 65.5 L529.51 66.29 L529.02 67.09 L528.53 67.88 L528.06 68.67 L527.6 69.46 L527.16 70.26 L526.76 71.05 L526.4 71.84 L526.07 72.64 L525.8 73.43 L525.59 74.22 L525.43 75.01 L525.33 75.81 L525.3 76.6 L525.33 77.44 L525.43 78.29 L525.59 79.13 L525.8 79.97 L526.07 80.81 L526.4 81.66 L526.76 82.5 L527.16 83.34 L527.6 84.19 L528.06 85.03 L528.53 85.87 L529.02 86.71 L529.51 87.56 L529.99 88.4 L530.47 89.24 L530.94 90.09 L531.38 90.93 L531.81 91.77 L532.21 92.61 L532.58 93.46 L532.92 94.3 L533.24 95.14 L533.53 95.99 L533.79 96.83 L534.02 97.67 L534.23 98.51 L534.41 99.36 L534.57 100.2 L535.4 100.2 Z" fill="#E64B35" stroke="#3a2a2a" stroke-width="0.45"/><path d="M535.4 70.7 L535.85 70.7 L536.75 71.05 L537.95 71.39 L539.49 71.73 L540.99 72.08 L541.73 72.42 L542.47 72.77 L543.2 73.12 L543.89 73.46 L544.52 73.81 L545.07 74.15 L545.52 74.5 L545.84 74.84 L546.04 75.19 L546.1 75.53 L546.02 75.88 L545.8 76.22 L545.45 76.56 L544.98 76.91 L544.42 77.26 L543.77 77.6 L543.08 77.95 L542.34 78.29 L541.6 78.64 L540.86 78.98 L540.15 79.33 L539.47 79.67 L538.85 80.02 L538.28 80.36 L537.78 80.7 L537.33 81.05 L537.17 81.4 L537.54 81.74 L537.93 82.09 L538.35 82.43 L538.76 82.78 L539.17 83.12 L539.54 83.47 L539.86 83.81 L540.12 84.16 L540.3 84.5 L540.39 84.84 L540.39 85.19 L540.29 85.54 L540.1 85.88 L539.83 86.23 L539.51 86.57 L539.13 86.92 L538.72 87.26 L538.31 87.61 L537.89 87.95 L537.5 88.3 L537.13 88.64 L536.8 88.99 L536.52 89.33 L536.27 89.68 L536.07 90.02 L535.82 90.37 L535.62 90.71 L535.5 91.06 L535.43 91.4 L535.4 91.4 Z" fill="#4DBBD5" stroke="#1f3a44" stroke-width="0.45"/><line x1="535.4" y1="54.4" x2="535.4" y2="100.2" stroke="#333" stroke-width="0.6"/><line x1="533.8" y1="75.8" x2="533.8" y2="80.8" stroke="#000" stroke-width="0.6"/><line x1="532.6" y1="75.8" x2="535" y2="75.8" stroke="#000" stroke-width="0.6"/><line x1="532.6" y1="80.8" x2="535" y2="80.8" stroke="#000" stroke-width="0.6"/><rect x="532.5" y="77" width="2.6" height="2.6" fill="#000"/><line x1="537.9" y1="75.5" x2="537.9" y2="80.5" stroke="#000" stroke-width="0.6"/><line x1="536.7" y1="75.5" x2="539.1" y2="75.5" stroke="#000" stroke-width="0.6"/><line x1="536.7" y1="80.5" x2="539.1" y2="80.5" stroke="#000" stroke-width="0.6"/><rect x="536.6" y="76.7" width="2.6" height="2.6" fill="#000"/><line x1="558.3" y1="27" x2="558.3" y2="125.4" stroke="#333" stroke-width="0.8"/><path d="M558.3 51.4 L557.47 51.4 L557.31 52.4 L557.13 53.41 L556.92 54.41 L556.69 55.41 L556.43 56.42 L556.14 57.42 L555.82 58.42 L555.48 59.43 L555.11 60.43 L554.71 61.44 L554.28 62.44 L553.84 63.44 L553.37 64.45 L552.89 65.45 L552.41 66.45 L551.92 67.46 L551.43 68.46 L550.96 69.46 L550.5 70.47 L550.06 71.47 L549.66 72.47 L549.3 73.48 L548.97 74.48 L548.7 75.49 L548.49 76.49 L548.33 77.49 L548.23 78.5 L548.2 79.5 L548.23 80.56 L548.33 81.61 L548.49 82.67 L548.7 83.73 L548.97 84.79 L549.3 85.84 L549.66 86.9 L550.06 87.96 L550.5 89.01 L550.96 90.07 L551.43 91.13 L551.92 92.19 L552.41 93.24 L552.89 94.3 L553.37 95.36 L553.84 96.41 L554.28 97.47 L554.71 98.53 L555.11 99.59 L555.48 100.64 L555.82 101.7 L556.14 102.76 L556.43 103.81 L556.69 104.87 L556.92 105.93 L557.13 106.99 L557.31 108.04 L557.47 109.1 L558.3 109.1 Z" fill="#E64B35" stroke="#3a2a2a" stroke-width="0.45"/><path d="M558.3 54.4 L558.36 54.4 L558.55 54.82 L558.86 55.24 L559.34 55.66 L559.68 56.07 L560.08 56.49 L560.56 56.91 L561.12 57.33 L561.75 57.75 L562.45 58.16 L563.22 58.58 L564.02 59 L564.84 59.42 L565.66 59.84 L566.43 60.26 L567.14 60.67 L567.74 61.09 L568.22 61.51 L568.54 61.93 L568.69 62.35 L568.66 62.77 L568.46 63.19 L568.1 63.6 L567.59 64.02 L566.95 64.44 L566.23 64.86 L565.44 65.28 L564.62 65.69 L563.8 66.11 L563 66.53 L562.25 66.95 L561.57 67.37 L560.96 67.79 L560.99 68.2 L561.55 68.62 L562.16 69.04 L562.79 69.46 L563.42 69.88 L564.03 70.3 L564.58 70.72 L565.06 71.13 L565.43 71.55 L565.68 71.97 L565.79 72.39 L565.76 72.81 L565.58 73.22 L565.27 73.64 L564.85 74.06 L564.33 74.48 L563.75 74.9 L563.13 75.32 L562.49 75.73 L561.87 76.15 L561.29 76.57 L560.75 76.99 L560.27 77.41 L559.85 77.83 L559.48 78.25 L558.94 78.66 L558.59 79.08 L558.37 79.5 L558.3 79.5 Z" fill="#4DBBD5" stroke="#1f3a44" stroke-width="0.45"/><line x1="558.3" y1="51.4" x2="558.3" y2="109.1" stroke="#333" stroke-width="0.6"/><line x1="556.4" y1="77.2" x2="556.4" y2="84.2" stroke="#000" stroke-width="0.6"/><line x1="555.2" y1="77.2" x2="557.6" y2="77.2" stroke="#000" stroke-width="0.6"/><line x1="555.2" y1="84.2" x2="557.6" y2="84.2" stroke="#000" stroke-width="0.6"/><rect x="555.1" y="79.4" width="2.6" height="2.6" fill="#000"/><line x1="560.1" y1="63.5" x2="560.1" y2="69.5" stroke="#000" stroke-width="0.6"/><line x1="558.9" y1="63.5" x2="561.3" y2="63.5" stroke="#000" stroke-width="0.6"/><line x1="558.9" y1="69.5" x2="561.3" y2="69.5" stroke="#000" stroke-width="0.6"/><rect x="558.8" y="65.2" width="2.6" height="2.6" fill="#000"/><line x1="580.5" y1="33.7" x2="580.5" y2="122.4" stroke="#333" stroke-width="0.8"/><path d="M580.5 44 L579.7 44 L579.54 44.85 L579.36 45.69 L579.16 46.54 L578.94 47.39 L578.69 48.23 L578.41 49.08 L578.1 49.93 L577.76 50.77 L577.4 51.62 L577.01 52.46 L576.6 53.31 L576.17 54.16 L575.72 55 L575.25 55.85 L574.78 56.7 L574.31 57.54 L573.84 58.39 L573.38 59.24 L572.93 60.08 L572.51 60.93 L572.12 61.78 L571.76 62.62 L571.45 63.47 L571.19 64.31 L570.98 65.16 L570.82 66.01 L570.73 66.85 L570.7 67.7 L570.73 68.68 L570.82 69.66 L570.98 70.64 L571.19 71.61 L571.45 72.59 L571.76 73.57 L572.12 74.55 L572.51 75.53 L572.93 76.51 L573.38 77.49 L573.84 78.46 L574.31 79.44 L574.78 80.42 L575.25 81.4 L575.72 82.38 L576.17 83.36 L576.6 84.34 L577.01 85.31 L577.4 86.29 L577.76 87.27 L578.1 88.25 L578.41 89.23 L578.69 90.21 L578.94 91.19 L579.16 92.16 L579.36 93.14 L579.54 94.12 L579.7 95.1 L580.5 95.1 Z" fill="#E64B35" stroke="#3a2a2a" stroke-width="0.45"/><path d="M580.5 54.4 L581.22 54.4 L581.37 55.03 L581.54 55.66 L581.74 56.3 L581.97 56.93 L582.23 57.56 L582.52 58.19 L582.84 58.82 L583.2 59.46 L583.59 60.09 L584.01 60.72 L584.45 61.35 L584.93 61.99 L585.43 62.62 L585.95 63.25 L586.48 63.88 L587.02 64.51 L587.55 65.15 L588.08 65.78 L588.6 66.41 L589.08 67.04 L589.54 67.67 L589.95 68.31 L590.32 68.94 L590.63 69.57 L590.87 70.2 L591.05 70.84 L591.16 71.47 L591.2 72.1 L591.16 72.84 L591.05 73.58 L590.87 74.32 L590.63 75.06 L590.32 75.8 L589.95 76.54 L589.54 77.27 L589.08 78.01 L588.6 78.75 L588.08 79.49 L587.55 80.23 L587.02 80.97 L586.48 81.71 L585.95 82.45 L585.43 83.19 L584.93 83.93 L584.45 84.67 L584.01 85.41 L583.59 86.15 L583.2 86.89 L582.84 87.62 L582.52 88.36 L582.23 89.1 L581.97 89.84 L581.74 90.58 L581.54 91.32 L581.37 92.06 L581.22 92.8 L580.5 92.8 Z" fill="#4DBBD5" stroke="#1f3a44" stroke-width="0.45"/><line x1="580.5" y1="44" x2="580.5" y2="95.1" stroke="#333" stroke-width="0.6"/><line x1="579" y1="66.6" x2="579" y2="73.2" stroke="#000" stroke-width="0.6"/><line x1="577.8" y1="66.6" x2="580.2" y2="66.6" stroke="#000" stroke-width="0.6"/><line x1="577.8" y1="73.2" x2="580.2" y2="73.2" stroke="#000" stroke-width="0.6"/><rect x="577.7" y="68.6" width="2.6" height="2.6" fill="#000"/><line x1="583" y1="67.1" x2="583" y2="77.1" stroke="#000" stroke-width="0.6"/><line x1="581.8" y1="67.1" x2="584.2" y2="67.1" stroke="#000" stroke-width="0.6"/><line x1="581.8" y1="77.1" x2="584.2" y2="77.1" stroke="#000" stroke-width="0.6"/><rect x="581.7" y="70.8" width="2.6" height="2.6" fill="#000"/><line x1="603.4" y1="55" x2="603.4" y2="123.4" stroke="#333" stroke-width="0.8"/><path d="M603.4 69.2 L602.54 69.2 L602.37 69.96 L602.18 70.72 L601.97 71.48 L601.73 72.24 L601.46 73 L601.16 73.76 L600.83 74.53 L600.47 75.29 L600.08 76.05 L599.66 76.81 L599.22 77.57 L598.76 78.33 L598.28 79.09 L597.78 79.85 L597.27 80.61 L596.77 81.37 L596.26 82.13 L595.77 82.89 L595.29 83.65 L594.84 84.41 L594.42 85.17 L594.04 85.94 L593.7 86.7 L593.42 87.46 L593.2 88.22 L593.03 88.98 L592.93 89.74 L592.9 90.5 L592.93 91.33 L593.03 92.15 L593.2 92.97 L593.42 93.8 L593.7 94.62 L594.04 95.45 L594.42 96.28 L594.84 97.1 L595.29 97.92 L595.77 98.75 L596.26 99.58 L596.77 100.4 L597.27 101.22 L597.78 102.05 L598.28 102.88 L598.76 103.7 L599.22 104.52 L599.66 105.35 L600.08 106.17 L600.47 107 L600.83 107.82 L601.16 108.65 L601.46 109.47 L601.73 110.3 L601.97 111.12 L602.18 111.95 L602.37 112.77 L602.54 113.6 L603.4 113.6 Z" fill="#E64B35" stroke="#3a2a2a" stroke-width="0.45"/><path d="M603.4 58.6 L604.09 58.6 L604.24 59.26 L604.4 59.93 L604.6 60.59 L604.82 61.26 L605.07 61.92 L605.35 62.59 L605.66 63.25 L606 63.91 L606.37 64.58 L606.77 65.24 L607.21 65.91 L607.67 66.57 L608.15 67.24 L608.64 67.9 L609.16 68.56 L609.67 69.23 L610.19 69.89 L610.7 70.56 L611.19 71.22 L611.66 71.89 L612.1 72.55 L612.5 73.21 L612.85 73.88 L613.15 74.54 L613.39 75.21 L613.56 75.87 L613.66 76.54 L613.7 77.2 L613.66 77.8 L613.56 78.41 L613.39 79.01 L613.15 79.61 L612.85 80.22 L612.5 80.82 L612.1 81.42 L611.66 82.03 L611.19 82.63 L610.7 83.24 L610.19 83.84 L609.67 84.44 L609.16 85.05 L608.64 85.65 L608.15 86.25 L607.67 86.86 L607.21 87.46 L606.77 88.06 L606.37 88.67 L606 89.27 L605.66 89.88 L605.35 90.48 L605.07 91.08 L604.82 91.69 L604.6 92.29 L604.4 92.89 L604.24 93.5 L604.09 94.1 L603.4 94.1 Z" fill="#4DBBD5" stroke="#1f3a44" stroke-width="0.45"/><line x1="603.4" y1="58.6" x2="603.4" y2="113.6" stroke="#333" stroke-width="0.6"/><line x1="601.6" y1="88.4" x2="601.6" y2="94.4" stroke="#000" stroke-width="0.6"/><line x1="600.4" y1="88.4" x2="602.8" y2="88.4" stroke="#000" stroke-width="0.6"/><line x1="600.4" y1="94.4" x2="602.8" y2="94.4" stroke="#000" stroke-width="0.6"/><rect x="600.3" y="90.1" width="2.6" height="2.6" fill="#000"/><line x1="605.4" y1="73.9" x2="605.4" y2="79.9" stroke="#000" stroke-width="0.6"/><line x1="604.2" y1="73.9" x2="606.6" y2="73.9" stroke="#000" stroke-width="0.6"/><line x1="604.2" y1="79.9" x2="606.6" y2="79.9" stroke="#000" stroke-width="0.6"/><rect x="604.1" y="75.6" width="2.6" height="2.6" fill="#000"/><line x1="626.1" y1="62.1" x2="626.1" y2="106.2" stroke="#333" stroke-width="0.8"/><path d="M626.1 67.5 L625.22 67.5 L625.05 67.83 L624.86 68.16 L624.64 68.49 L624.4 68.81 L624.12 69.14 L623.81 69.47 L623.48 69.8 L623.11 70.13 L622.72 70.46 L622.29 70.79 L621.84 71.11 L621.37 71.44 L620.88 71.77 L620.37 72.1 L619.86 72.43 L619.34 72.76 L618.83 73.09 L618.32 73.41 L617.84 73.74 L617.38 74.07 L616.95 74.4 L616.56 74.73 L616.22 75.06 L615.93 75.39 L615.7 75.71 L615.54 76.04 L615.43 76.37 L615.4 76.7 L615.43 77.07 L615.54 77.44 L615.7 77.8 L615.93 78.17 L616.22 78.54 L616.56 78.91 L616.95 79.28 L617.38 79.64 L617.84 80.01 L618.32 80.38 L618.83 80.75 L619.34 81.11 L619.86 81.48 L620.37 81.85 L620.88 82.22 L621.37 82.59 L621.84 82.95 L622.29 83.32 L622.72 83.69 L623.11 84.06 L623.48 84.42 L623.81 84.79 L624.12 85.16 L624.4 85.53 L624.64 85.9 L624.86 86.26 L625.05 86.63 L625.22 87 L626.1 87 Z" fill="#E64B35" stroke="#3a2a2a" stroke-width="0.45"/><path d="M626.1 87 L626.78 87 L626.92 87.3 L627.08 87.59 L627.27 87.89 L627.49 88.19 L627.73 88.48 L628.01 88.78 L628.31 89.08 L628.65 89.37 L629.01 89.67 L629.41 89.96 L629.83 90.26 L630.28 90.56 L630.75 90.85 L631.24 91.15 L631.74 91.45 L632.25 91.74 L632.76 92.04 L633.26 92.34 L633.74 92.63 L634.2 92.93 L634.63 93.22 L635.02 93.52 L635.37 93.82 L635.66 94.11 L635.89 94.41 L636.06 94.71 L636.17 95 L636.2 95.3 L636.17 95.69 L636.06 96.08 L635.89 96.47 L635.66 96.86 L635.37 97.25 L635.02 97.64 L634.63 98.03 L634.2 98.41 L633.74 98.8 L633.26 99.19 L632.76 99.58 L632.25 99.97 L631.74 100.36 L631.24 100.75 L630.75 101.14 L630.28 101.53 L629.83 101.92 L629.41 102.31 L629.01 102.7 L628.65 103.09 L628.31 103.47 L628.01 103.86 L627.73 104.25 L627.49 104.64 L627.27 105.03 L627.08 105.42 L626.92 105.81 L626.78 106.2 L626.1 106.2 Z" fill="#4DBBD5" stroke="#1f3a44" stroke-width="0.45"/><line x1="626.1" y1="67.5" x2="626.1" y2="106.2" stroke="#333" stroke-width="0.6"/><line x1="624" y1="75.9" x2="624" y2="77.9" stroke="#000" stroke-width="0.6"/><line x1="622.8" y1="75.9" x2="625.2" y2="75.9" stroke="#000" stroke-width="0.6"/><line x1="622.8" y1="77.9" x2="625.2" y2="77.9" stroke="#000" stroke-width="0.6"/><rect x="622.7" y="75.6" width="2.6" height="2.6" fill="#000"/><line x1="627.9" y1="93.5" x2="627.9" y2="96.5" stroke="#000" stroke-width="0.6"/><line x1="626.7" y1="93.5" x2="629.1" y2="93.5" stroke="#000" stroke-width="0.6"/><line x1="626.7" y1="96.5" x2="629.1" y2="96.5" stroke="#000" stroke-width="0.6"/><rect x="626.6" y="93.7" width="2.6" height="2.6" fill="#000"/><rect x="59.55" y="9.8" width="1.8" height="1.8" fill="#3a3a3a"/><rect x="62.7" y="9.8" width="1.8" height="1.8" fill="#3a3a3a"/><rect x="65.85" y="9.8" width="1.8" height="1.8" fill="#3a3a3a"/><line x1="62.2" y1="133.3" x2="62.2" y2="135.9" stroke="#333" stroke-width="0.7"/><text transform="translate(63.5,138.1) rotate(-45)" font-family="Liberation Sans" font-size="7.7" fill="#2a2a2a" text-anchor="end">GBM(T=153,N=5)</text><rect x="81.85" y="9.8" width="1.8" height="1.8" fill="#3a3a3a"/><rect x="85" y="9.8" width="1.8" height="1.8" fill="#3a3a3a"/><rect x="88.15" y="9.8" width="1.8" height="1.8" fill="#3a3a3a"/><line x1="84.5" y1="133.3" x2="84.5" y2="135.9" stroke="#333" stroke-width="0.7"/><text transform="translate(85.8,138.1) rotate(-45)" font-family="Liberation Sans" font-size="7.7" fill="#2a2a2a" text-anchor="end">GBMLGG(T=662,N=5)</text><rect x="104.45" y="9.8" width="1.8" height="1.8" fill="#3a3a3a"/><rect x="107.6" y="9.8" width="1.8" height="1.8" fill="#3a3a3a"/><rect x="110.75" y="9.8" width="1.8" height="1.8" fill="#3a3a3a"/><line x1="107.1" y1="133.3" x2="107.1" y2="135.9" stroke="#333" stroke-width="0.7"/><text transform="translate(108.4,138.1) rotate(-45)" font-family="Liberation Sans" font-size="7.7" fill="#2a2a2a" text-anchor="end">LGG(T=509,N=5)</text><rect x="130.1" y="9.8" width="1.8" height="1.8" fill="#3a3a3a"/><line x1="129.6" y1="133.3" x2="129.6" y2="135.9" stroke="#333" stroke-width="0.7"/><text transform="translate(130.9,138.1) rotate(-45)" font-family="Liberation Sans" font-size="7.7" fill="#2a2a2a" text-anchor="end">CESC(T=304,N=3)</text><rect x="148.28" y="9.8" width="1.8" height="1.8" fill="#3a3a3a"/><rect x="151.43" y="9.8" width="1.8" height="1.8" fill="#3a3a3a"/><rect x="154.58" y="9.8" width="1.8" height="1.8" fill="#3a3a3a"/><rect x="157.72" y="9.8" width="1.8" height="1.8" fill="#3a3a3a"/><line x1="152.5" y1="133.3" x2="152.5" y2="135.9" stroke="#333" stroke-width="0.7"/><text transform="translate(153.8,138.1) rotate(-45)" font-family="Liberation Sans" font-size="7.7" fill="#2a2a2a" text-anchor="end">LUAD(T=513,N=109)</text><rect x="170.38" y="9.8" width="1.8" height="1.8" fill="#3a3a3a"/><rect x="173.53" y="9.8" width="1.8" height="1.8" fill="#3a3a3a"/><rect x="176.68" y="9.8" width="1.8" height="1.8" fill="#3a3a3a"/><rect x="179.82" y="9.8" width="1.8" height="1.8" fill="#3a3a3a"/><line x1="174.6" y1="133.3" x2="174.6" y2="135.9" stroke="#333" stroke-width="0.7"/><text transform="translate(175.9,138.1) rotate(-45)" font-family="Liberation Sans" font-size="7.7" fill="#2a2a2a" text-anchor="end">COAD(T=288,N=41)</text><rect x="193.18" y="9.8" width="1.8" height="1.8" fill="#3a3a3a"/><rect x="196.33" y="9.8" width="1.8" height="1.8" fill="#3a3a3a"/><rect x="199.48" y="9.8" width="1.8" height="1.8" fill="#3a3a3a"/><rect x="202.62" y="9.8" width="1.8" height="1.8" fill="#3a3a3a"/><line x1="197.4" y1="133.3" x2="197.4" y2="135.9" stroke="#333" stroke-width="0.7"/><text transform="translate(198.7,138.1) rotate(-45)" font-family="Liberation Sans" font-size="7.7" fill="#2a2a2a" text-anchor="end">COADREAD(T=380,N=51)</text><rect x="215.58" y="9.8" width="1.8" height="1.8" fill="#3a3a3a"/><rect x="218.73" y="9.8" width="1.8" height="1.8" fill="#3a3a3a"/><rect x="221.88" y="9.8" width="1.8" height="1.8" fill="#3a3a3a"/><rect x="225.03" y="9.8" width="1.8" height="1.8" fill="#3a3a3a"/><line x1="219.8" y1="133.3" x2="219.8" y2="135.9" stroke="#333" stroke-width="0.7"/><text transform="translate(221.1,138.1) rotate(-45)" font-family="Liberation Sans" font-size="7.7" fill="#2a2a2a" text-anchor="end">BRCA(T=1092,N=113)</text><rect x="238.28" y="9.8" width="1.8" height="1.8" fill="#3a3a3a"/><rect x="241.43" y="9.8" width="1.8" height="1.8" fill="#3a3a3a"/><rect x="244.58" y="9.8" width="1.8" height="1.8" fill="#3a3a3a"/><rect x="247.72" y="9.8" width="1.8" height="1.8" fill="#3a3a3a"/><line x1="242.5" y1="133.3" x2="242.5" y2="135.9" stroke="#333" stroke-width="0.7"/><text transform="translate(243.8,138.1) rotate(-45)" font-family="Liberation Sans" font-size="7.7" fill="#2a2a2a" text-anchor="end">ESCA(T=181,N=13)</text><rect x="260.77" y="9.8" width="1.8" height="1.8" fill="#3a3a3a"/><rect x="263.92" y="9.8" width="1.8" height="1.8" fill="#3a3a3a"/><rect x="267.07" y="9.8" width="1.8" height="1.8" fill="#3a3a3a"/><rect x="270.22" y="9.8" width="1.8" height="1.8" fill="#3a3a3a"/><line x1="265" y1="133.3" x2="265" y2="135.9" stroke="#333" stroke-width="0.7"/><text transform="translate(266.3,138.1) rotate(-45)" font-family="Liberation Sans" font-size="7.7" fill="#2a2a2a" text-anchor="end">STES(T=595,N=49)</text><rect x="286.6" y="12.7" width="1.6" height="0.9" fill="#555"/><line x1="287.4" y1="133.3" x2="287.4" y2="135.9" stroke="#333" stroke-width="0.7"/><text transform="translate(288.7,138.1) rotate(-45)" font-family="Liberation Sans" font-size="7.7" fill="#2a2a2a" text-anchor="end">KIRP(T=288,N=129)</text><rect x="308.93" y="9.8" width="1.8" height="1.8" fill="#3a3a3a"/><rect x="312.07" y="9.8" width="1.8" height="1.8" fill="#3a3a3a"/><line x1="310" y1="133.3" x2="310" y2="135.9" stroke="#333" stroke-width="0.7"/><text transform="translate(311.3,138.1) rotate(-45)" font-family="Liberation Sans" font-size="7.7" fill="#2a2a2a" text-anchor="end">KIPAN(T=884,N=129)</text><rect x="328.57" y="9.8" width="1.8" height="1.8" fill="#3a3a3a"/><rect x="331.72" y="9.8" width="1.8" height="1.8" fill="#3a3a3a"/><rect x="334.88" y="9.8" width="1.8" height="1.8" fill="#3a3a3a"/><rect x="338.02" y="9.8" width="1.8" height="1.8" fill="#3a3a3a"/><line x1="332.8" y1="133.3" x2="332.8" y2="135.9" stroke="#333" stroke-width="0.7"/><text transform="translate(334.1,138.1) rotate(-45)" font-family="Liberation Sans" font-size="7.7" fill="#2a2a2a" text-anchor="end">STAD(T=414,N=36)</text><rect x="354.4" y="12.7" width="1.6" height="0.9" fill="#555"/><line x1="355.2" y1="133.3" x2="355.2" y2="135.9" stroke="#333" stroke-width="0.7"/><text transform="translate(356.5,138.1) rotate(-45)" font-family="Liberation Sans" font-size="7.7" fill="#2a2a2a" text-anchor="end">PRAD(T=495,N=52)</text><rect x="373.67" y="9.8" width="1.8" height="1.8" fill="#3a3a3a"/><rect x="376.82" y="9.8" width="1.8" height="1.8" fill="#3a3a3a"/><rect x="379.97" y="9.8" width="1.8" height="1.8" fill="#3a3a3a"/><rect x="383.12" y="9.8" width="1.8" height="1.8" fill="#3a3a3a"/><line x1="377.9" y1="133.3" x2="377.9" y2="135.9" stroke="#333" stroke-width="0.7"/><text transform="translate(379.2,138.1) rotate(-45)" font-family="Liberation Sans" font-size="7.7" fill="#2a2a2a" text-anchor="end">UCEC(T=180,N=23)</text><rect x="396.17" y="9.8" width="1.8" height="1.8" fill="#3a3a3a"/><rect x="399.32" y="9.8" width="1.8" height="1.8" fill="#3a3a3a"/><rect x="402.47" y="9.8" width="1.8" height="1.8" fill="#3a3a3a"/><rect x="405.62" y="9.8" width="1.8" height="1.8" fill="#3a3a3a"/><line x1="400.4" y1="133.3" x2="400.4" y2="135.9" stroke="#333" stroke-width="0.7"/><text transform="translate(401.7,138.1) rotate(-45)" font-family="Liberation Sans" font-size="7.7" fill="#2a2a2a" text-anchor="end">HNSC(T=518,N=44)</text><rect x="420.35" y="9.8" width="1.8" height="1.8" fill="#3a3a3a"/><rect x="423.5" y="9.8" width="1.8" height="1.8" fill="#3a3a3a"/><rect x="426.65" y="9.8" width="1.8" height="1.8" fill="#3a3a3a"/><line x1="423" y1="133.3" x2="423" y2="135.9" stroke="#333" stroke-width="0.7"/><text transform="translate(424.3,138.1) rotate(-45)" font-family="Liberation Sans" font-size="7.7" fill="#2a2a2a" text-anchor="end">KIRC(T=530,N=129)</text><rect x="441.17" y="9.8" width="1.8" height="1.8" fill="#3a3a3a"/><rect x="444.32" y="9.8" width="1.8" height="1.8" fill="#3a3a3a"/><rect x="447.47" y="9.8" width="1.8" height="1.8" fill="#3a3a3a"/><rect x="450.62" y="9.8" width="1.8" height="1.8" fill="#3a3a3a"/><line x1="445.4" y1="133.3" x2="445.4" y2="135.9" stroke="#333" stroke-width="0.7"/><text transform="translate(446.7,138.1) rotate(-45)" font-family="Liberation Sans" font-size="7.7" fill="#2a2a2a" text-anchor="end">LUSC(T=498,N=109)</text><rect x="463.67" y="9.8" width="1.8" height="1.8" fill="#3a3a3a"/><rect x="466.82" y="9.8" width="1.8" height="1.8" fill="#3a3a3a"/><rect x="469.97" y="9.8" width="1.8" height="1.8" fill="#3a3a3a"/><rect x="473.12" y="9.8" width="1.8" height="1.8" fill="#3a3a3a"/><line x1="467.9" y1="133.3" x2="467.9" y2="135.9" stroke="#333" stroke-width="0.7"/><text transform="translate(469.2,138.1) rotate(-45)" font-family="Liberation Sans" font-size="7.7" fill="#2a2a2a" text-anchor="end">LIHC(T=369,N=50)</text><rect x="487.75" y="9.8" width="1.8" height="1.8" fill="#3a3a3a"/><rect x="490.9" y="9.8" width="1.8" height="1.8" fill="#3a3a3a"/><rect x="494.05" y="9.8" width="1.8" height="1.8" fill="#3a3a3a"/><line x1="490.4" y1="133.3" x2="490.4" y2="135.9" stroke="#333" stroke-width="0.7"/><text transform="translate(491.7,138.1) rotate(-45)" font-family="Liberation Sans" font-size="7.7" fill="#2a2a2a" text-anchor="end">THCA(T=504,N=59)</text><rect x="512.12" y="9.8" width="1.8" height="1.8" fill="#3a3a3a"/><rect x="515.27" y="9.8" width="1.8" height="1.8" fill="#3a3a3a"/><line x1="513.2" y1="133.3" x2="513.2" y2="135.9" stroke="#333" stroke-width="0.7"/><text transform="translate(514.5,138.1) rotate(-45)" font-family="Liberation Sans" font-size="7.7" fill="#2a2a2a" text-anchor="end">READ(T=92,N=10)</text><rect x="534.6" y="12.7" width="1.6" height="0.9" fill="#555"/><line x1="535.4" y1="133.3" x2="535.4" y2="135.9" stroke="#333" stroke-width="0.7"/><text transform="translate(536.7,138.1) rotate(-45)" font-family="Liberation Sans" font-size="7.7" fill="#2a2a2a" text-anchor="end">PAAD(T=178,N=4)</text><rect x="558.8" y="9.8" width="1.8" height="1.8" fill="#3a3a3a"/><line x1="558.3" y1="133.3" x2="558.3" y2="135.9" stroke="#333" stroke-width="0.7"/><text transform="translate(559.6,138.1) rotate(-45)" font-family="Liberation Sans" font-size="7.7" fill="#2a2a2a" text-anchor="end">PCPG(T=177,N=3)</text><rect x="581" y="9.8" width="1.8" height="1.8" fill="#3a3a3a"/><line x1="580.5" y1="133.3" x2="580.5" y2="135.9" stroke="#333" stroke-width="0.7"/><text transform="translate(581.8,138.1) rotate(-45)" font-family="Liberation Sans" font-size="7.7" fill="#2a2a2a" text-anchor="end">BLCA(T=407,N=19)</text><rect x="599.17" y="9.8" width="1.8" height="1.8" fill="#3a3a3a"/><rect x="602.32" y="9.8" width="1.8" height="1.8" fill="#3a3a3a"/><rect x="605.47" y="9.8" width="1.8" height="1.8" fill="#3a3a3a"/><rect x="608.62" y="9.8" width="1.8" height="1.8" fill="#3a3a3a"/><line x1="603.4" y1="133.3" x2="603.4" y2="135.9" stroke="#333" stroke-width="0.7"/><text transform="translate(604.7,138.1) rotate(-45)" font-family="Liberation Sans" font-size="7.7" fill="#2a2a2a" text-anchor="end">KICH(T=66,N=129)</text><rect x="621.88" y="9.8" width="1.8" height="1.8" fill="#3a3a3a"/><rect x="625.02" y="9.8" width="1.8" height="1.8" fill="#3a3a3a"/><rect x="628.17" y="9.8" width="1.8" height="1.8" fill="#3a3a3a"/><rect x="631.33" y="9.8" width="1.8" height="1.8" fill="#3a3a3a"/><line x1="626.1" y1="133.3" x2="626.1" y2="135.9" stroke="#333" stroke-width="0.7"/><text transform="translate(627.4,138.1) rotate(-45)" font-family="Liberation Sans" font-size="7.7" fill="#2a2a2a" text-anchor="end">CHOL(T=36,N=9)</text><text x="645.6" y="59.5" font-family="Liberation Serif" font-size="6.8" fill="#222">Group</text><rect x="646.2" y="67" width="5.3" height="5.4" fill="#E64B35"/><text x="654" y="72.2" font-family="Liberation Serif" font-size="6.8" fill="#E64B35">Tumor</text><rect x="646.2" y="78.6" width="5.3" height="5.4" fill="#4DBBD5"/><text x="654" y="83.6" font-family="Liberation Serif" font-size="6.8" fill="#4DBBD5">Normal</text><defs><linearGradient id="grx" x1="0" y1="0" x2="0" y2="1"><stop offset="0" stop-color="#FF0000" stop-opacity="0.001"/><stop offset="0.05" stop-color="#FF0000" stop-opacity="0.011"/><stop offset="0.1" stop-color="#FF0000" stop-opacity="0.061"/><stop offset="0.15" stop-color="#FF0000" stop-opacity="0.194"/><stop offset="0.2" stop-color="#FF0000" stop-opacity="0.412"/><stop offset="0.25" stop-color="#FF0000" stop-opacity="0.652"/><stop offset="0.3" stop-color="#FF0000" stop-opacity="0.839"/><stop offset="0.35" stop-color="#FF0000" stop-opacity="0.946"/><stop offset="0.4" stop-color="#FF0000" stop-opacity="0.989"/><stop offset="0.45" stop-color="#FF0000" stop-opacity="0.999"/><stop offset="0.5" stop-color="#FF0000" stop-opacity="1.000"/><stop offset="0.55" stop-color="#FF0000" stop-opacity="0.999"/><stop offset="0.6" stop-color="#FF0000" stop-opacity="0.989"/><stop offset="0.65" stop-color="#FF0000" stop-opacity="0.946"/><stop offset="0.7" stop-color="#FF0000" stop-opacity="0.839"/><stop offset="0.75" stop-color="#FF0000" stop-opacity="0.652"/><stop offset="0.8" stop-color="#FF0000" stop-opacity="0.412"/><stop offset="0.85" stop-color="#FF0000" stop-opacity="0.194"/><stop offset="0.9" stop-color="#FF0000" stop-opacity="0.061"/><stop offset="0.95" stop-color="#FF0000" stop-opacity="0.011"/><stop offset="1" stop-color="#FF0000" stop-opacity="0.001"/></linearGradient><linearGradient id="grh" x1="0" y1="0" x2="0" y2="1"><stop offset="0" stop-color="#FF0000" stop-opacity="0.003"/><stop offset="0.05" stop-color="#FF0000" stop-opacity="0.013"/><stop offset="0.1" stop-color="#FF0000" stop-opacity="0.046"/><stop offset="0.15" stop-color="#FF0000" stop-opacity="0.123"/><stop offset="0.2" stop-color="#FF0000" stop-opacity="0.259"/><stop offset="0.25" stop-color="#FF0000" stop-opacity="0.442"/><stop offset="0.3" stop-color="#FF0000" stop-opacity="0.632"/><stop offset="0.35" stop-color="#FF0000" stop-opacity="0.785"/><stop offset="0.4" stop-color="#FF0000" stop-opacity="0.878"/><stop offset="0.45" stop-color="#FF0000" stop-opacity="0.915"/><stop offset="0.5" stop-color="#FF0000" stop-opacity="0.920"/><stop offset="0.55" stop-color="#FF0000" stop-opacity="0.915"/><stop offset="0.6" stop-color="#FF0000" stop-opacity="0.878"/><stop offset="0.65" stop-color="#FF0000" stop-opacity="0.785"/><stop offset="0.7" stop-color="#FF0000" stop-opacity="0.632"/><stop offset="0.75" stop-color="#FF0000" stop-opacity="0.442"/><stop offset="0.8" stop-color="#FF0000" stop-opacity="0.259"/><stop offset="0.85" stop-color="#FF0000" stop-opacity="0.123"/><stop offset="0.9" stop-color="#FF0000" stop-opacity="0.046"/><stop offset="0.95" stop-color="#FF0000" stop-opacity="0.013"/><stop offset="1" stop-color="#FF0000" stop-opacity="0.003"/></linearGradient><linearGradient id="grm" x1="0" y1="0" x2="0" y2="1"><stop offset="0" stop-color="#FF0000" stop-opacity="0.031"/><stop offset="0.05" stop-color="#FF0000" stop-opacity="0.056"/><stop offset="0.1" stop-color="#FF0000" stop-opacity="0.095"/><stop offset="0.15" stop-color="#FF0000" stop-opacity="0.151"/><stop offset="0.2" stop-color="#FF0000" stop-opacity="0.227"/><stop offset="0.25" stop-color="#FF0000" stop-opacity="0.320"/><stop offset="0.3" stop-color="#FF0000" stop-opacity="0.425"/><stop offset="0.35" stop-color="#FF0000" stop-opacity="0.528"/><stop offset="0.4" stop-color="#FF0000" stop-opacity="0.618"/><stop offset="0.45" stop-color="#FF0000" stop-opacity="0.678"/><stop offset="0.5" stop-color="#FF0000" stop-opacity="0.700"/><stop offset="0.55" stop-color="#FF0000" stop-opacity="0.678"/><stop offset="0.6" stop-color="#FF0000" stop-opacity="0.618"/><stop offset="0.65" stop-color="#FF0000" stop-opacity="0.528"/><stop offset="0.7" stop-color="#FF0000" stop-opacity="0.425"/><stop offset="0.75" stop-color="#FF0000" stop-opacity="0.320"/><stop offset="0.8" stop-color="#FF0000" stop-opacity="0.227"/><stop offset="0.85" stop-color="#FF0000" stop-opacity="0.151"/><stop offset="0.9" stop-color="#FF0000" stop-opacity="0.095"/><stop offset="0.95" stop-color="#FF0000" stop-opacity="0.056"/><stop offset="1" stop-color="#FF0000" stop-opacity="0.031"/></linearGradient><linearGradient id="grl" x1="0" y1="0" x2="0" y2="1"><stop offset="0" stop-color="#FF0000" stop-opacity="0.020"/><stop offset="0.05" stop-color="#FF0000" stop-opacity="0.036"/><stop offset="0.1" stop-color="#FF0000" stop-opacity="0.061"/><stop offset="0.15" stop-color="#FF0000" stop-opacity="0.097"/><stop offset="0.2" stop-color="#FF0000" stop-opacity="0.146"/><stop offset="0.25" stop-color="#FF0000" stop-opacity="0.206"/><stop offset="0.3" stop-color="#FF0000" stop-opacity="0.273"/><stop offset="0.35" stop-color="#FF0000" stop-opacity="0.340"/><stop offset="0.4" stop-color="#FF0000" stop-opacity="0.397"/><stop offset="0.45" stop-color="#FF0000" stop-opacity="0.436"/><stop offset="0.5" stop-color="#FF0000" stop-opacity="0.450"/><stop offset="0.55" stop-color="#FF0000" stop-opacity="0.436"/><stop offset="0.6" stop-color="#FF0000" stop-opacity="0.397"/><stop offset="0.65" stop-color="#FF0000" stop-opacity="0.340"/><stop offset="0.7" stop-color="#FF0000" stop-opacity="0.273"/><stop offset="0.75" stop-color="#FF0000" stop-opacity="0.206"/><stop offset="0.8" stop-color="#FF0000" stop-opacity="0.146"/><stop offset="0.85" stop-color="#FF0000" stop-opacity="0.097"/><stop offset="0.9" stop-color="#FF0000" stop-opacity="0.061"/><stop offset="0.95" stop-color="#FF0000" stop-opacity="0.036"/><stop offset="1" stop-color="#FF0000" stop-opacity="0.020"/></linearGradient><linearGradient id="gbx" x1="0" y1="0" x2="0" y2="1"><stop offset="0" stop-color="#0000FF" stop-opacity="0.001"/><stop offset="0.05" stop-color="#0000FF" stop-opacity="0.011"/><stop offset="0.1" stop-color="#0000FF" stop-opacity="0.061"/><stop offset="0.15" stop-color="#0000FF" stop-opacity="0.194"/><stop offset="0.2" stop-color="#0000FF" stop-opacity="0.412"/><stop offset="0.25" stop-color="#0000FF" stop-opacity="0.652"/><stop offset="0.3" stop-color="#0000FF" stop-opacity="0.839"/><stop offset="0.35" stop-color="#0000FF" stop-opacity="0.946"/><stop offset="0.4" stop-color="#0000FF" stop-opacity="0.989"/><stop offset="0.45" stop-color="#0000FF" stop-opacity="0.999"/><stop offset="0.5" stop-color="#0000FF" stop-opacity="1.000"/><stop offset="0.55" stop-color="#0000FF" stop-opacity="0.999"/><stop offset="0.6" stop-color="#0000FF" stop-opacity="0.989"/><stop offset="0.65" stop-color="#0000FF" stop-opacity="0.946"/><stop offset="0.7" stop-color="#0000FF" stop-opacity="0.839"/><stop offset="0.75" stop-color="#0000FF" stop-opacity="0.652"/><stop offset="0.8" stop-color="#0000FF" stop-opacity="0.412"/><stop offset="0.85" stop-color="#0000FF" stop-opacity="0.194"/><stop offset="0.9" stop-color="#0000FF" stop-opacity="0.061"/><stop offset="0.95" stop-color="#0000FF" stop-opacity="0.011"/><stop offset="1" stop-color="#0000FF" stop-opacity="0.001"/></linearGradient><linearGradient id="gbh" x1="0" y1="0" x2="0" y2="1"><stop offset="0" stop-color="#0000FF" stop-opacity="0.003"/><stop offset="0.05" stop-color="#0000FF" stop-opacity="0.013"/><stop offset="0.1" stop-color="#0000FF" stop-opacity="0.046"/><stop offset="0.15" stop-color="#0000FF" stop-opacity="0.123"/><stop offset="0.2" stop-color="#0000FF" stop-opacity="0.259"/><stop offset="0.25" stop-color="#0000FF" stop-opacity="0.442"/><stop offset="0.3" stop-color="#0000FF" stop-opacity="0.632"/><stop offset="0.35" stop-color="#0000FF" stop-opacity="0.785"/><stop offset="0.4" stop-color="#0000FF" stop-opacity="0.878"/><stop offset="0.45" stop-color="#0000FF" stop-opacity="0.915"/><stop offset="0.5" stop-color="#0000FF" stop-opacity="0.920"/><stop offset="0.55" stop-color="#0000FF" stop-opacity="0.915"/><stop offset="0.6" stop-color="#0000FF" stop-opacity="0.878"/><stop offset="0.65" stop-color="#0000FF" stop-opacity="0.785"/><stop offset="0.7" stop-color="#0000FF" stop-opacity="0.632"/><stop offset="0.75" stop-color="#0000FF" stop-opacity="0.442"/><stop offset="0.8" stop-color="#0000FF" stop-opacity="0.259"/><stop offset="0.85" stop-color="#0000FF" stop-opacity="0.123"/><stop offset="0.9" stop-color="#0000FF" stop-opacity="0.046"/><stop offset="0.95" stop-color="#0000FF" stop-opacity="0.013"/><stop offset="1" stop-color="#0000FF" stop-opacity="0.003"/></linearGradient><linearGradient id="gbm" x1="0" y1="0" x2="0" y2="1"><stop offset="0" stop-color="#0000FF" stop-opacity="0.031"/><stop offset="0.05" stop-color="#0000FF" stop-opacity="0.056"/><stop offset="0.1" stop-color="#0000FF" stop-opacity="0.095"/><stop offset="0.15" stop-color="#0000FF" stop-opacity="0.151"/><stop offset="0.2" stop-color="#0000FF" stop-opacity="0.227"/><stop offset="0.25" stop-color="#0000FF" stop-opacity="0.320"/><stop offset="0.3" stop-color="#0000FF" stop-opacity="0.425"/><stop offset="0.35" stop-color="#0000FF" stop-opacity="0.528"/><stop offset="0.4" stop-color="#0000FF" stop-opacity="0.618"/><stop offset="0.45" stop-color="#0000FF" stop-opacity="0.678"/><stop offset="0.5" stop-color="#0000FF" stop-opacity="0.700"/><stop offset="0.55" stop-color="#0000FF" stop-opacity="0.678"/><stop offset="0.6" stop-color="#0000FF" stop-opacity="0.618"/><stop offset="0.65" stop-color="#0000FF" stop-opacity="0.528"/><stop offset="0.7" stop-color="#0000FF" stop-opacity="0.425"/><stop offset="0.75" stop-color="#0000FF" stop-opacity="0.320"/><stop offset="0.8" stop-color="#0000FF" stop-opacity="0.227"/><stop offset="0.85" stop-color="#0000FF" stop-opacity="0.151"/><stop offset="0.9" stop-color="#0000FF" stop-opacity="0.095"/><stop offset="0.95" stop-color="#0000FF" stop-opacity="0.056"/><stop offset="1" stop-color="#0000FF" stop-opacity="0.031"/></linearGradient><linearGradient id="gbl" x1="0" y1="0" x2="0" y2="1"><stop offset="0" stop-color="#0000FF" stop-opacity="0.020"/><stop offset="0.05" stop-color="#0000FF" stop-opacity="0.036"/><stop offset="0.1" stop-color="#0000FF" stop-opacity="0.061"/><stop offset="0.15" stop-color="#0000FF" stop-opacity="0.097"/><stop offset="0.2" stop-color="#0000FF" stop-opacity="0.146"/><stop offset="0.25" stop-color="#0000FF" stop-opacity="0.206"/><stop offset="0.3" stop-color="#0000FF" stop-opacity="0.273"/><stop offset="0.35" stop-color="#0000FF" stop-opacity="0.340"/><stop offset="0.4" stop-color="#0000FF" stop-opacity="0.397"/><stop offset="0.45" stop-color="#0000FF" stop-opacity="0.436"/><stop offset="0.5" stop-color="#0000FF" stop-opacity="0.450"/><stop offset="0.55" stop-color="#0000FF" stop-opacity="0.436"/><stop offset="0.6" stop-color="#0000FF" stop-opacity="0.397"/><stop offset="0.65" stop-color="#0000FF" stop-opacity="0.340"/><stop offset="0.7" stop-color="#0000FF" stop-opacity="0.273"/><stop offset="0.75" stop-color="#0000FF" stop-opacity="0.206"/><stop offset="0.8" stop-color="#0000FF" stop-opacity="0.146"/><stop offset="0.85" stop-color="#0000FF" stop-opacity="0.097"/><stop offset="0.9" stop-color="#0000FF" stop-opacity="0.061"/><stop offset="0.95" stop-color="#0000FF" stop-opacity="0.036"/><stop offset="1" stop-color="#0000FF" stop-opacity="0.020"/></linearGradient><linearGradient id="gpx" x1="0" y1="0" x2="0" y2="1"><stop offset="0" stop-color="#A020F0" stop-opacity="0.001"/><stop offset="0.05" stop-color="#A020F0" stop-opacity="0.011"/><stop offset="0.1" stop-color="#A020F0" stop-opacity="0.061"/><stop offset="0.15" stop-color="#A020F0" stop-opacity="0.194"/><stop offset="0.2" stop-color="#A020F0" stop-opacity="0.412"/><stop offset="0.25" stop-color="#A020F0" stop-opacity="0.652"/><stop offset="0.3" stop-color="#A020F0" stop-opacity="0.839"/><stop offset="0.35" stop-color="#A020F0" stop-opacity="0.946"/><stop offset="0.4" stop-color="#A020F0" stop-opacity="0.989"/><stop offset="0.45" stop-color="#A020F0" stop-opacity="0.999"/><stop offset="0.5" stop-color="#A020F0" stop-opacity="1.000"/><stop offset="0.55" stop-color="#A020F0" stop-opacity="0.999"/><stop offset="0.6" stop-color="#A020F0" stop-opacity="0.989"/><stop offset="0.65" stop-color="#A020F0" stop-opacity="0.946"/><stop offset="0.7" stop-color="#A020F0" stop-opacity="0.839"/><stop offset="0.75" stop-color="#A020F0" stop-opacity="0.652"/><stop offset="0.8" stop-color="#A020F0" stop-opacity="0.412"/><stop offset="0.85" stop-color="#A020F0" stop-opacity="0.194"/><stop offset="0.9" stop-color="#A020F0" stop-opacity="0.061"/><stop offset="0.95" stop-color="#A020F0" stop-opacity="0.011"/><stop offset="1" stop-color="#A020F0" stop-opacity="0.001"/></linearGradient><linearGradient id="gph" x1="0" y1="0" x2="0" y2="1"><stop offset="0" stop-color="#A020F0" stop-opacity="0.003"/><stop offset="0.05" stop-color="#A020F0" stop-opacity="0.013"/><stop offset="0.1" stop-color="#A020F0" stop-opacity="0.046"/><stop offset="0.15" stop-color="#A020F0" stop-opacity="0.123"/><stop offset="0.2" stop-color="#A020F0" stop-opacity="0.259"/><stop offset="0.25" stop-color="#A020F0" stop-opacity="0.442"/><stop offset="0.3" stop-color="#A020F0" stop-opacity="0.632"/><stop offset="0.35" stop-color="#A020F0" stop-opacity="0.785"/><stop offset="0.4" stop-color="#A020F0" stop-opacity="0.878"/><stop offset="0.45" stop-color="#A020F0" stop-opacity="0.915"/><stop offset="0.5" stop-color="#A020F0" stop-opacity="0.920"/><stop offset="0.55" stop-color="#A020F0" stop-opacity="0.915"/><stop offset="0.6" stop-color="#A020F0" stop-opacity="0.878"/><stop offset="0.65" stop-color="#A020F0" stop-opacity="0.785"/><stop offset="0.7" stop-color="#A020F0" stop-opacity="0.632"/><stop offset="0.75" stop-color="#A020F0" stop-opacity="0.442"/><stop offset="0.8" stop-color="#A020F0" stop-opacity="0.259"/><stop offset="0.85" stop-color="#A020F0" stop-opacity="0.123"/><stop offset="0.9" stop-color="#A020F0" stop-opacity="0.046"/><stop offset="0.95" stop-color="#A020F0" stop-opacity="0.013"/><stop offset="1" stop-color="#A020F0" stop-opacity="0.003"/></linearGradient><linearGradient id="gpm" x1="0" y1="0" x2="0" y2="1"><stop offset="0" stop-color="#A020F0" stop-opacity="0.031"/><stop offset="0.05" stop-color="#A020F0" stop-opacity="0.056"/><stop offset="0.1" stop-color="#A020F0" stop-opacity="0.095"/><stop offset="0.15" stop-color="#A020F0" stop-opacity="0.151"/><stop offset="0.2" stop-color="#A020F0" stop-opacity="0.227"/><stop offset="0.25" stop-color="#A020F0" stop-opacity="0.320"/><stop offset="0.3" stop-color="#A020F0" stop-opacity="0.425"/><stop offset="0.35" stop-color="#A020F0" stop-opacity="0.528"/><stop offset="0.4" stop-color="#A020F0" stop-opacity="0.618"/><stop offset="0.45" stop-color="#A020F0" stop-opacity="0.678"/><stop offset="0.5" stop-color="#A020F0" stop-opacity="0.700"/><stop offset="0.55" stop-color="#A020F0" stop-opacity="0.678"/><stop offset="0.6" stop-color="#A020F0" stop-opacity="0.618"/><stop offset="0.65" stop-color="#A020F0" stop-opacity="0.528"/><stop offset="0.7" stop-color="#A020F0" stop-opacity="0.425"/><stop offset="0.75" stop-color="#A020F0" stop-opacity="0.320"/><stop offset="0.8" stop-color="#A020F0" stop-opacity="0.227"/><stop offset="0.85" stop-color="#A020F0" stop-opacity="0.151"/><stop offset="0.9" stop-color="#A020F0" stop-opacity="0.095"/><stop offset="0.95" stop-color="#A020F0" stop-opacity="0.056"/><stop offset="1" stop-color="#A020F0" stop-opacity="0.031"/></linearGradient><linearGradient id="gpl" x1="0" y1="0" x2="0" y2="1"><stop offset="0" stop-color="#A020F0" stop-opacity="0.020"/><stop offset="0.05" stop-color="#A020F0" stop-opacity="0.036"/><stop offset="0.1" stop-color="#A020F0" stop-opacity="0.061"/><stop offset="0.15" stop-color="#A020F0" stop-opacity="0.097"/><stop offset="0.2" stop-color="#A020F0" stop-opacity="0.146"/><stop offset="0.25" stop-color="#A020F0" stop-opacity="0.206"/><stop offset="0.3" stop-color="#A020F0" stop-opacity="0.273"/><stop offset="0.35" stop-color="#A020F0" stop-opacity="0.340"/><stop offset="0.4" stop-color="#A020F0" stop-opacity="0.397"/><stop offset="0.45" stop-color="#A020F0" stop-opacity="0.436"/><stop offset="0.5" stop-color="#A020F0" stop-opacity="0.450"/><stop offset="0.55" stop-color="#A020F0" stop-opacity="0.436"/><stop offset="0.6" stop-color="#A020F0" stop-opacity="0.397"/><stop offset="0.65" stop-color="#A020F0" stop-opacity="0.340"/><stop offset="0.7" stop-color="#A020F0" stop-opacity="0.273"/><stop offset="0.75" stop-color="#A020F0" stop-opacity="0.206"/><stop offset="0.8" stop-color="#A020F0" stop-opacity="0.146"/><stop offset="0.85" stop-color="#A020F0" stop-opacity="0.097"/><stop offset="0.9" stop-color="#A020F0" stop-opacity="0.061"/><stop offset="0.95" stop-color="#A020F0" stop-opacity="0.036"/><stop offset="1" stop-color="#A020F0" stop-opacity="0.020"/></linearGradient></defs><rect x="53.5" y="214.3" width="577.1" height="161" fill="#fff"/><line x1="53.5" y1="368.4" x2="630.6" y2="368.4" stroke="#EBEBEB" stroke-width="0.6"/><line x1="53.5" y1="350.95" x2="630.6" y2="350.95" stroke="#EBEBEB" stroke-width="0.35"/><line x1="53.5" y1="333.5" x2="630.6" y2="333.5" stroke="#EBEBEB" stroke-width="0.6"/><line x1="53.5" y1="316.05" x2="630.6" y2="316.05" stroke="#EBEBEB" stroke-width="0.35"/><line x1="53.5" y1="298.6" x2="630.6" y2="298.6" stroke="#EBEBEB" stroke-width="0.6"/><line x1="53.5" y1="281.15" x2="630.6" y2="281.15" stroke="#EBEBEB" stroke-width="0.35"/><line x1="53.5" y1="263.7" x2="630.6" y2="263.7" stroke="#EBEBEB" stroke-width="0.6"/><line x1="53.5" y1="246.25" x2="630.6" y2="246.25" stroke="#EBEBEB" stroke-width="0.35"/><line x1="53.5" y1="228.8" x2="630.6" y2="228.8" stroke="#EBEBEB" stroke-width="0.6"/><line x1="58.96" y1="214.3" x2="58.96" y2="375.3" stroke="#EBEBEB" stroke-width="0.6"/><line x1="68.39" y1="214.3" x2="68.39" y2="375.3" stroke="#EBEBEB" stroke-width="0.6"/><line x1="77.83" y1="214.3" x2="77.83" y2="375.3" stroke="#EBEBEB" stroke-width="0.6"/><line x1="87.26" y1="214.3" x2="87.26" y2="375.3" stroke="#EBEBEB" stroke-width="0.6"/><line x1="96.69" y1="214.3" x2="96.69" y2="375.3" stroke="#EBEBEB" stroke-width="0.6"/><line x1="106.12" y1="214.3" x2="106.12" y2="375.3" stroke="#EBEBEB" stroke-width="0.6"/><line x1="115.56" y1="214.3" x2="115.56" y2="375.3" stroke="#EBEBEB" stroke-width="0.6"/><line x1="124.99" y1="214.3" x2="124.99" y2="375.3" stroke="#EBEBEB" stroke-width="0.6"/><line x1="134.42" y1="214.3" x2="134.42" y2="375.3" stroke="#EBEBEB" stroke-width="0.6"/><line x1="143.86" y1="214.3" x2="143.86" y2="375.3" stroke="#EBEBEB" stroke-width="0.6"/><line x1="153.29" y1="214.3" x2="153.29" y2="375.3" stroke="#EBEBEB" stroke-width="0.6"/><line x1="162.72" y1="214.3" x2="162.72" y2="375.3" stroke="#EBEBEB" stroke-width="0.6"/><line x1="172.16" y1="214.3" x2="172.16" y2="375.3" stroke="#EBEBEB" stroke-width="0.6"/><line x1="181.59" y1="214.3" x2="181.59" y2="375.3" stroke="#EBEBEB" stroke-width="0.6"/><line x1="191.02" y1="214.3" x2="191.02" y2="375.3" stroke="#EBEBEB" stroke-width="0.6"/><line x1="200.46" y1="214.3" x2="200.46" y2="375.3" stroke="#EBEBEB" stroke-width="0.6"/><line x1="209.89" y1="214.3" x2="209.89" y2="375.3" stroke="#EBEBEB" stroke-width="0.6"/><line x1="219.32" y1="214.3" x2="219.32" y2="375.3" stroke="#EBEBEB" stroke-width="0.6"/><line x1="228.75" y1="214.3" x2="228.75" y2="375.3" stroke="#EBEBEB" stroke-width="0.6"/><line x1="238.19" y1="214.3" x2="238.19" y2="375.3" stroke="#EBEBEB" stroke-width="0.6"/><line x1="247.62" y1="214.3" x2="247.62" y2="375.3" stroke="#EBEBEB" stroke-width="0.6"/><line x1="257.05" y1="214.3" x2="257.05" y2="375.3" stroke="#EBEBEB" stroke-width="0.6"/><line x1="266.49" y1="214.3" x2="266.49" y2="375.3" stroke="#EBEBEB" stroke-width="0.6"/><line x1="275.92" y1="214.3" x2="275.92" y2="375.3" stroke="#EBEBEB" stroke-width="0.6"/><line x1="285.35" y1="214.3" x2="285.35" y2="375.3" stroke="#EBEBEB" stroke-width="0.6"/><line x1="294.78" y1="214.3" x2="294.78" y2="375.3" stroke="#EBEBEB" stroke-width="0.6"/><line x1="304.22" y1="214.3" x2="304.22" y2="375.3" stroke="#EBEBEB" stroke-width="0.6"/><line x1="313.65" y1="214.3" x2="313.65" y2="375.3" stroke="#EBEBEB" stroke-width="0.6"/><line x1="323.08" y1="214.3" x2="323.08" y2="375.3" stroke="#EBEBEB" stroke-width="0.6"/><line x1="332.52" y1="214.3" x2="332.52" y2="375.3" stroke="#EBEBEB" stroke-width="0.6"/><line x1="341.95" y1="214.3" x2="341.95" y2="375.3" stroke="#EBEBEB" stroke-width="0.6"/><line x1="351.38" y1="214.3" x2="351.38" y2="375.3" stroke="#EBEBEB" stroke-width="0.6"/><line x1="360.82" y1="214.3" x2="360.82" y2="375.3" stroke="#EBEBEB" stroke-width="0.6"/><line x1="370.25" y1="214.3" x2="370.25" y2="375.3" stroke="#EBEBEB" stroke-width="0.6"/><line x1="379.68" y1="214.3" x2="379.68" y2="375.3" stroke="#EBEBEB" stroke-width="0.6"/><line x1="389.11" y1="214.3" x2="389.11" y2="375.3" stroke="#EBEBEB" stroke-width="0.6"/><line x1="398.55" y1="214.3" x2="398.55" y2="375.3" stroke="#EBEBEB" stroke-width="0.6"/><line x1="407.98" y1="214.3" x2="407.98" y2="375.3" stroke="#EBEBEB" stroke-width="0.6"/><line x1="417.41" y1="214.3" x2="417.41" y2="375.3" stroke="#EBEBEB" stroke-width="0.6"/><line x1="426.85" y1="214.3" x2="426.85" y2="375.3" stroke="#EBEBEB" stroke-width="0.6"/><line x1="436.28" y1="214.3" x2="436.28" y2="375.3" stroke="#EBEBEB" stroke-width="0.6"/><line x1="445.71" y1="214.3" x2="445.71" y2="375.3" stroke="#EBEBEB" stroke-width="0.6"/><line x1="455.15" y1="214.3" x2="455.15" y2="375.3" stroke="#EBEBEB" stroke-width="0.6"/><line x1="464.58" y1="214.3" x2="464.58" y2="375.3" stroke="#EBEBEB" stroke-width="0.6"/><line x1="474.01" y1="214.3" x2="474.01" y2="375.3" stroke="#EBEBEB" stroke-width="0.6"/><line x1="483.44" y1="214.3" x2="483.44" y2="375.3" stroke="#EBEBEB" stroke-width="0.6"/><line x1="492.88" y1="214.3" x2="492.88" y2="375.3" stroke="#EBEBEB" stroke-width="0.6"/><line x1="502.31" y1="214.3" x2="502.31" y2="375.3" stroke="#EBEBEB" stroke-width="0.6"/><line x1="511.74" y1="214.3" x2="511.74" y2="375.3" stroke="#EBEBEB" stroke-width="0.6"/><line x1="521.18" y1="214.3" x2="521.18" y2="375.3" stroke="#EBEBEB" stroke-width="0.6"/><line x1="530.61" y1="214.3" x2="530.61" y2="375.3" stroke="#EBEBEB" stroke-width="0.6"/><line x1="540.04" y1="214.3" x2="540.04" y2="375.3" stroke="#EBEBEB" stroke-width="0.6"/><line x1="549.48" y1="214.3" x2="549.48" y2="375.3" stroke="#EBEBEB" stroke-width="0.6"/><line x1="558.91" y1="214.3" x2="558.91" y2="375.3" stroke="#EBEBEB" stroke-width="0.6"/><line x1="568.34" y1="214.3" x2="568.34" y2="375.3" stroke="#EBEBEB" stroke-width="0.6"/><line x1="577.77" y1="214.3" x2="577.77" y2="375.3" stroke="#EBEBEB" stroke-width="0.6"/><line x1="587.21" y1="214.3" x2="587.21" y2="375.3" stroke="#EBEBEB" stroke-width="0.6"/><line x1="596.64" y1="214.3" x2="596.64" y2="375.3" stroke="#EBEBEB" stroke-width="0.6"/><line x1="606.07" y1="214.3" x2="606.07" y2="375.3" stroke="#EBEBEB" stroke-width="0.6"/><line x1="615.51" y1="214.3" x2="615.51" y2="375.3" stroke="#EBEBEB" stroke-width="0.6"/><line x1="624.94" y1="214.3" x2="624.94" y2="375.3" stroke="#EBEBEB" stroke-width="0.6"/><rect x="64.08" y="214.7" width="18.07" height="160.2" fill="#D6D6D6"/><rect x="82.94" y="214.7" width="18.07" height="160.2" fill="#D6D6D6"/><rect x="139.54" y="214.7" width="18.07" height="160.2" fill="#D6D6D6"/><rect x="158.41" y="214.7" width="18.07" height="160.2" fill="#D6D6D6"/><rect x="177.27" y="214.7" width="18.07" height="160.2" fill="#D6D6D6"/><rect x="205.57" y="214.7" width="18.07" height="160.2" fill="#D6D6D6"/><rect x="224.44" y="214.7" width="18.07" height="160.2" fill="#D6D6D6"/><rect x="243.3" y="214.7" width="18.07" height="160.2" fill="#D6D6D6"/><rect x="262.17" y="214.7" width="18.07" height="160.2" fill="#D6D6D6"/><rect x="281.04" y="214.7" width="18.07" height="160.2" fill="#D6D6D6"/><rect x="299.9" y="214.7" width="18.07" height="160.2" fill="#D6D6D6"/><rect x="318.77" y="214.7" width="18.07" height="160.2" fill="#D6D6D6"/><rect x="356.5" y="214.7" width="18.07" height="160.2" fill="#D6D6D6"/><rect x="375.37" y="214.7" width="18.07" height="160.2" fill="#D6D6D6"/><rect x="394.23" y="214.7" width="18.07" height="160.2" fill="#D6D6D6"/><rect x="431.96" y="214.7" width="18.07" height="160.2" fill="#D6D6D6"/><rect x="450.83" y="214.7" width="18.07" height="160.2" fill="#D6D6D6"/><rect x="469.7" y="214.7" width="18.07" height="160.2" fill="#D6D6D6"/><rect x="488.56" y="214.7" width="18.07" height="160.2" fill="#D6D6D6"/><rect x="516.86" y="214.7" width="18.07" height="160.2" fill="#D6D6D6"/><rect x="535.73" y="214.7" width="18.07" height="160.2" fill="#D6D6D6"/><rect x="564.03" y="214.7" width="18.07" height="160.2" fill="#D6D6D6"/><rect x="592.32" y="214.7" width="18.07" height="160.2" fill="#D6D6D6"/><path d="M57.8 283.8h1.9v1.9h-1.9zm2.2 8.8h1.9v1.9h-1.9zm1.3 4.1h1.9v1.9h-1.9zm-3.1 3.5h1.9v1.9h-1.9zm-0.6 -2.2h1.9v1.9h-1.9zm0.1 -25.3h1.9v1.9h-1.9zm-1.0 40.6h1.9v1.9h-1.9zm0.6 6.5h1.9v1.9h-1.9zm3.5 -40.1h1.9v1.9h-1.9zm-0.9 40.9h1.9v1.9h-1.9zm-4.5 6.6h1.9v1.9h-1.9zm0.4 -5.3h1.9v1.9h-1.9zm3.2 -19.8h1.9v1.9h-1.9zm-2.3 27.4h1.9v1.9h-1.9zm-1.4 -15.8h1.9v1.9h-1.9zm1.3 -13.1h1.9v1.9h-1.9zm2.1 -17.7h1.9v1.9h-1.9zm-3.0 22.9h1.9v1.9h-1.9zm5.3 3.2h1.9v1.9h-1.9zm-5.7 -25.2h1.9v1.9h-1.9zm1.0 3.5h1.9v1.9h-1.9zm-1.3 2.8h1.9v1.9h-1.9zm5.8 -4.2h1.9v1.9h-1.9zm-3.7 -8.7h1.9v1.9h-1.9zm2.0 59.3h1.9v1.9h-1.9zm1.7 -34.8h1.9v1.9h-1.9zm-2.9 8.7h1.9v1.9h-1.9zm1.7 -15.0h1.9v1.9h-1.9zm-2.2 31.9h1.9v1.9h-1.9zm1.1 -40.9h1.9v1.9h-1.9zm1.0 48.2h1.9v1.9h-1.9zm-4.4 -67.1h1.9v1.9h-1.9zm4.2 18.5h1.9v1.9h-1.9zm-2.7 12.5h1.9v1.9h-1.9zm1.0 21.4h1.9v1.9h-1.9zm2.5 -15.4h1.9v1.9h-1.9zm-4.6 -19.2h1.9v1.9h-1.9zm1.0 2.9h1.9v1.9h-1.9zm2.4 14.6h1.9v1.9h-1.9zm-3.7 26.4h1.9v1.9h-1.9zm4.8 6.9h1.9v1.9h-1.9zm-0.8 31.4h1.9v1.9h-1.9z" fill="#FF0000" fill-opacity="0.42"/><path d="M58.1 288.8h1.9v1.9h-1.9zm-2.9 -2.5h1.9v1.9h-1.9zm3.8 7.3h1.9v1.9h-1.9zm-2.8 -15.4h1.9v1.9h-1.9zm1.9 22.7h1.9v1.9h-1.9zm3.3 -2.5h1.9v1.9h-1.9zm-4.8 -23.2h1.9v1.9h-1.9zm3.8 -10.2h1.9v1.9h-1.9zm0.9 62.2h1.9v1.9h-1.9zm-6.1 -17.9h1.9v1.9h-1.9zm0.1 -17.5h1.9v1.9h-1.9zm4.3 -4.2h1.9v1.9h-1.9zm-3.5 7.2h1.9v1.9h-1.9zm-0.0 -2.1h1.9v1.9h-1.9zm0.0 -14.2h1.9v1.9h-1.9zm2.5 -7.5h1.9v1.9h-1.9zm-0.7 40.2h1.9v1.9h-1.9zm2.3 -21.1h1.9v1.9h-1.9zm0.9 35.0h1.9v1.9h-1.9zm-4.8 8.7h1.9v1.9h-1.9zm-0.4 -47.4h1.9v1.9h-1.9zm3.0 -19.9h1.9v1.9h-1.9zm-1.1 45.7h1.9v1.9h-1.9zm-2.1 -12.4h1.9v1.9h-1.9zm3.1 -32.5h1.9v1.9h-1.9zm2.6 31.8h1.9v1.9h-1.9zm-6.0 -28.9h1.9v1.9h-1.9zm1.9 38.6h1.9v1.9h-1.9zm3.5 -31.1h1.9v1.9h-1.9zm-5.3 8.5h1.9v1.9h-1.9zm4.5 10.6h1.9v1.9h-1.9zm-4.8 13.7h1.9v1.9h-1.9zm4.0 -10.7h1.9v1.9h-1.9zm-2.8 1.1h1.9v1.9h-1.9zm0.8 -17.0h1.9v1.9h-1.9zm3.8 32.0h1.9v1.9h-1.9zm-0.3 -25.2h1.9v1.9h-1.9zm-4.2 -5.8h1.9v1.9h-1.9zm5.2 0.0h1.9v1.9h-1.9zm-5.6 -20.0h1.9v1.9h-1.9zm0.1 53.1h1.9v1.9h-1.9z" fill="#FF0000" fill-opacity="0.42"/><line x1="58.96" y1="265.4" x2="58.96" y2="291.9" stroke="#FF0000" stroke-width="0.7"/><line x1="58.96" y1="311.6" x2="58.96" y2="337.4" stroke="#FF0000" stroke-width="0.7"/><rect x="55.46" y="291.9" width="7" height="19.7" fill="#fff" fill-opacity="0.35" stroke="#FF0000" stroke-width="0.7"/><line x1="55.46" y1="299.3" x2="62.46" y2="299.3" stroke="#FF0000" stroke-width="1"/><clipPath id="cp1"><rect x="65.09" y="257.3" width="6.6" height="50.1"/></clipPath><rect clip-path="url(#cp1)" x="65.09" y="260.64" width="6.6" height="41.31" fill="url(#grh)"/><path d="M64.2 274.8h1.9v1.9h-1.9zm1.5 23.1h1.9v1.9h-1.9zm2.8 -14.0h1.9v1.9h-1.9zm-3.2 -6.9h1.9v1.9h-1.9zm3.5 2.3h1.9v1.9h-1.9zm1.4 -10.9h1.9v1.9h-1.9zm-3.1 21.5h1.9v1.9h-1.9zm2.3 -14.0h1.9v1.9h-1.9zm0.1 7.3h1.9v1.9h-1.9zm1.1 -8.7h1.9v1.9h-1.9zm-4.3 -1.5h1.9v1.9h-1.9zm3.1 5.3h1.9v1.9h-1.9zm-0.1 2.2h1.9v1.9h-1.9zm-0.7 8.2h1.9v1.9h-1.9zm-1.1 -7.4h1.9v1.9h-1.9zm0.2 -13.2h1.9v1.9h-1.9zm2.0 23.5h1.9v1.9h-1.9zm-2.4 -13.0h1.9v1.9h-1.9zm2.0 5.7h1.9v1.9h-1.9zm-2.6 -3.2h1.9v1.9h-1.9zm0.1 -3.9h1.9v1.9h-1.9zm1.3 -2.6h1.9v1.9h-1.9zm-2.7 16.6h1.9v1.9h-1.9zm-0.7 1.7h1.9v1.9h-1.9zm1.7 -21.7h1.9v1.9h-1.9zm1.8 12.5h1.9v1.9h-1.9zm0.7 0.4h1.9v1.9h-1.9zm-3.6 -11.6h1.9v1.9h-1.9zm0.3 8.7h1.9v1.9h-1.9zm-0.9 12.9h1.9v1.9h-1.9zm5.3 -15.4h1.9v1.9h-1.9zm-1.5 8.3h1.9v1.9h-1.9zm-1.2 -5.0h1.9v1.9h-1.9zm3.2 2.6h1.9v1.9h-1.9zm-1.5 -2.6h1.9v1.9h-1.9zm-5.1 0.4h1.9v1.9h-1.9zm2.7 -6.7h1.9v1.9h-1.9zm2.7 13.4h1.9v1.9h-1.9zm-2.0 -18.2h1.9v1.9h-1.9zm1.9 3.1h1.9v1.9h-1.9zm-0.1 16.5h1.9v1.9h-1.9zm-2.0 -2.6h1.9v1.9h-1.9zm1.3 -5.4h1.9v1.9h-1.9zm2.3 -10.7h1.9v1.9h-1.9zm-2.6 10.2h1.9v1.9h-1.9zm-1.6 3.6h1.9v1.9h-1.9zm0.9 -3.6h1.9v1.9h-1.9zm1.7 8.6h1.9v1.9h-1.9zm-4.0 -5.0h1.9v1.9h-1.9zm2.4 -7.3h1.9v1.9h-1.9zm-1.7 7.2h1.9v1.9h-1.9zm3.2 -21.4h1.9v1.9h-1.9zm1.3 40.7h1.9v1.9h-1.9zm0.2 -16.6h1.9v1.9h-1.9zm0.0 -11.0h1.9v1.9h-1.9zm-3.5 -20.5h1.9v1.9h-1.9zm-2.0 55.0h1.9v1.9h-1.9zm0.4 17.2h1.9v1.9h-1.9z" fill="#FF0000" fill-opacity="0.42"/><path d="M67.1 294.6h1.9v1.9h-1.9zm-0.1 -2.6h1.9v1.9h-1.9zm-1.7 1.0h1.9v1.9h-1.9zm3.5 -13.0h1.9v1.9h-1.9zm-0.7 8.2h1.9v1.9h-1.9zm0.7 14.9h1.9v1.9h-1.9zm-1.0 -15.6h1.9v1.9h-1.9zm-2.5 -19.3h1.9v1.9h-1.9zm4.7 11.0h1.9v1.9h-1.9zm0.1 3.1h1.9v1.9h-1.9zm-2.4 -3.8h1.9v1.9h-1.9zm-2.6 18.0h1.9v1.9h-1.9zm3.7 -9.9h1.9v1.9h-1.9zm-4.3 -27.2h1.9v1.9h-1.9zm3.0 19.4h1.9v1.9h-1.9zm2.6 -10.6h1.9v1.9h-1.9zm-4.8 1.1h1.9v1.9h-1.9zm2.1 33.5h1.9v1.9h-1.9zm-3.1 -35.6h1.9v1.9h-1.9zm2.8 19.2h1.9v1.9h-1.9zm-1.1 1.9h1.9v1.9h-1.9zm-2.0 2.3h1.9v1.9h-1.9zm4.1 -13.8h1.9v1.9h-1.9zm-2.5 10.8h1.9v1.9h-1.9zm1.9 -9.0h1.9v1.9h-1.9zm2.2 13.4h1.9v1.9h-1.9zm0.3 -16.6h1.9v1.9h-1.9zm-0.1 22.8h1.9v1.9h-1.9zm-3.2 -0.2h1.9v1.9h-1.9zm-1.5 -18.3h1.9v1.9h-1.9zm3.8 8.3h1.9v1.9h-1.9zm-4.9 -4.0h1.9v1.9h-1.9zm1.1 -0.4h1.9v1.9h-1.9zm5.1 -0.8h1.9v1.9h-1.9zm-3.5 -12.7h1.9v1.9h-1.9zm0.2 13.2h1.9v1.9h-1.9zm-3.0 2.2h1.9v1.9h-1.9zm2.6 2.5h1.9v1.9h-1.9zm3.4 -5.5h1.9v1.9h-1.9zm-0.2 -17.5h1.9v1.9h-1.9zm-5.5 3.8h1.9v1.9h-1.9zm3.9 5.3h1.9v1.9h-1.9zm0.1 26.8h1.9v1.9h-1.9zm0.3 -22.4h1.9v1.9h-1.9zm-3.0 1.5h1.9v1.9h-1.9zm4.4 -11.2h1.9v1.9h-1.9zm-1.8 -0.2h1.9v1.9h-1.9zm-3.3 34.3h1.9v1.9h-1.9zm5.3 -24.9h1.9v1.9h-1.9zm-2.0 -2.4h1.9v1.9h-1.9zm-2.8 4.3h1.9v1.9h-1.9zm4.4 1.8h1.9v1.9h-1.9zm-3.2 20.0h1.9v1.9h-1.9zm2.0 -41.4h1.9v1.9h-1.9zm-0.7 16.7h1.9v1.9h-1.9zm-2.3 29.0h1.9v1.9h-1.9zm1.6 10.3h1.9v1.9h-1.9zm-0.4 24.4h1.9v1.9h-1.9z" fill="#FF0000" fill-opacity="0.42"/><line x1="68.39" y1="262.75" x2="68.39" y2="277.3" stroke="#FF0000" stroke-width="0.7"/><line x1="68.39" y1="287" x2="68.39" y2="301.55" stroke="#FF0000" stroke-width="0.7"/><rect x="64.89" y="277.3" width="7" height="9.7" fill="#fff" fill-opacity="0.35" stroke="#FF0000" stroke-width="0.7"/><line x1="64.89" y1="281.3" x2="71.89" y2="281.3" stroke="#FF0000" stroke-width="1"/><path d="M76.6 282.3h1.9v1.9h-1.9zm2.2 -8.5h1.9v1.9h-1.9zm1.5 5.5h1.9v1.9h-1.9zm-6.0 6.2h1.9v1.9h-1.9zm4.6 -9.3h1.9v1.9h-1.9zm-0.7 3.2h1.9v1.9h-1.9zm-0.6 15.7h1.9v1.9h-1.9zm-2.3 -8.5h1.9v1.9h-1.9zm4.5 -9.3h1.9v1.9h-1.9zm-4.4 13.9h1.9v1.9h-1.9zm2.4 -3.6h1.9v1.9h-1.9zm-3.7 -0.0h1.9v1.9h-1.9zm3.3 6.3h1.9v1.9h-1.9zm-2.3 -18.6h1.9v1.9h-1.9zm3.6 22.7h1.9v1.9h-1.9zm0.4 -5.1h1.9v1.9h-1.9zm-0.3 -3.1h1.9v1.9h-1.9zm0.3 -12.8h1.9v1.9h-1.9zm-1.1 14.6h1.9v1.9h-1.9zm1.4 -28.5h1.9v1.9h-1.9zm-3.3 45.5h1.9v1.9h-1.9z" fill="#0000FF" fill-opacity="0.42"/><line x1="77.83" y1="263.5" x2="77.83" y2="281" stroke="#0000FF" stroke-width="0.7"/><line x1="77.83" y1="296.8" x2="77.83" y2="310" stroke="#0000FF" stroke-width="0.7"/><rect x="74.33" y="281" width="7" height="15.8" fill="#fff" fill-opacity="0.35" stroke="#0000FF" stroke-width="0.7"/><line x1="74.33" y1="287.5" x2="81.33" y2="287.5" stroke="#0000FF" stroke-width="1"/><clipPath id="cp3"><rect x="83.96" y="247.1" width="6.6" height="62.9"/></clipPath><rect clip-path="url(#cp3)" x="83.96" y="255.28" width="6.6" height="51.04" fill="url(#grx)"/><path d="M85.8 279.3h1.9v1.9h-1.9zm0.9 4.0h1.9v1.9h-1.9zm-2.4 -2.9h1.9v1.9h-1.9zm0.5 -2.9h1.9v1.9h-1.9zm2.9 -0.9h1.9v1.9h-1.9zm0.6 11.8h1.9v1.9h-1.9zm-3.8 9.7h1.9v1.9h-1.9zm-0.4 -25.7h1.9v1.9h-1.9zm-0.1 13.7h1.9v1.9h-1.9zm2.5 5.0h1.9v1.9h-1.9zm0.0 -10.1h1.9v1.9h-1.9zm2.4 11.5h1.9v1.9h-1.9zm-4.6 -16.9h1.9v1.9h-1.9zm5.1 -2.5h1.9v1.9h-1.9zm-0.4 4.1h1.9v1.9h-1.9zm-0.6 13.0h1.9v1.9h-1.9zm-0.2 -25.0h1.9v1.9h-1.9zm-2.9 13.1h1.9v1.9h-1.9zm-2.2 -4.9h1.9v1.9h-1.9zm0.0 7.5h1.9v1.9h-1.9zm0.8 3.4h1.9v1.9h-1.9zm0.0 -10.0h1.9v1.9h-1.9zm4.3 1.1h1.9v1.9h-1.9zm-1.8 11.9h1.9v1.9h-1.9zm1.7 14.4h1.9v1.9h-1.9zm-1.0 -26.2h1.9v1.9h-1.9zm0.4 -7.2h1.9v1.9h-1.9zm1.1 8.5h1.9v1.9h-1.9zm-4.9 2.0h1.9v1.9h-1.9zm-0.5 11.2h1.9v1.9h-1.9zm2.6 -13.5h1.9v1.9h-1.9zm-0.4 -6.1h1.9v1.9h-1.9zm0.7 19.2h1.9v1.9h-1.9zm-0.4 -24.0h1.9v1.9h-1.9zm-0.0 21.9h1.9v1.9h-1.9zm1.7 1.7h1.9v1.9h-1.9zm0.6 19.9h1.9v1.9h-1.9zm-3.4 -37.4h1.9v1.9h-1.9zm2.9 8.1h1.9v1.9h-1.9zm0.6 -1.1h1.9v1.9h-1.9zm-0.8 -7.0h1.9v1.9h-1.9zm-3.7 -11.1h1.9v1.9h-1.9zm1.8 43.7h1.9v1.9h-1.9zm-0.7 -37.0h1.9v1.9h-1.9zm3.1 13.8h1.9v1.9h-1.9zm-0.9 -2.1h1.9v1.9h-1.9zm-3.3 7.0h1.9v1.9h-1.9zm-0.1 -12.6h1.9v1.9h-1.9zm0.4 2.8h1.9v1.9h-1.9zm2.6 10.0h1.9v1.9h-1.9zm-3.1 -12.9h1.9v1.9h-1.9zm3.0 -4.9h1.9v1.9h-1.9zm-3.0 16.9h1.9v1.9h-1.9zm4.8 -4.6h1.9v1.9h-1.9zm-4.4 -32.4h1.9v1.9h-1.9zm3.0 -1.5h1.9v1.9h-1.9zm-1.4 70.4h1.9v1.9h-1.9z" fill="#FF0000" fill-opacity="0.42"/><path d="M83.6 258.6h1.9v1.9h-1.9zm4.0 23.1h1.9v1.9h-1.9zm-4.1 -5.6h1.9v1.9h-1.9zm1.9 -10.6h1.9v1.9h-1.9zm3.8 17.8h1.9v1.9h-1.9zm-4.1 -8.7h1.9v1.9h-1.9zm0.3 -2.7h1.9v1.9h-1.9zm2.9 13.7h1.9v1.9h-1.9zm0.6 -16.1h1.9v1.9h-1.9zm0.6 12.0h1.9v1.9h-1.9zm-6.0 -4.8h1.9v1.9h-1.9zm0.4 9.4h1.9v1.9h-1.9zm2.6 -11.9h1.9v1.9h-1.9zm-0.2 11.0h1.9v1.9h-1.9zm2.3 -19.8h1.9v1.9h-1.9zm0.9 1.0h1.9v1.9h-1.9zm-3.7 11.4h1.9v1.9h-1.9zm-1.5 -26.7h1.9v1.9h-1.9zm-0.6 52.9h1.9v1.9h-1.9zm3.2 -29.9h1.9v1.9h-1.9zm-2.4 6.9h1.9v1.9h-1.9zm-0.4 -4.8h1.9v1.9h-1.9zm0.6 14.8h1.9v1.9h-1.9zm1.5 -15.4h1.9v1.9h-1.9zm0.3 11.5h1.9v1.9h-1.9zm-3.5 21.3h1.9v1.9h-1.9zm1.0 -16.2h1.9v1.9h-1.9zm3.3 -5.6h1.9v1.9h-1.9zm-4.3 5.0h1.9v1.9h-1.9zm4.9 -26.0h1.9v1.9h-1.9zm-2.8 -1.5h1.9v1.9h-1.9zm-0.6 30.7h1.9v1.9h-1.9zm0.7 -10.8h1.9v1.9h-1.9zm0.3 -11.1h1.9v1.9h-1.9zm3.2 12.9h1.9v1.9h-1.9zm-1.8 -5.1h1.9v1.9h-1.9zm0.4 1.2h1.9v1.9h-1.9zm-1.5 6.3h1.9v1.9h-1.9zm3.8 -2.0h1.9v1.9h-1.9zm-5.8 -31.1h1.9v1.9h-1.9zm3.4 10.2h1.9v1.9h-1.9zm-1.3 25.0h1.9v1.9h-1.9zm2.8 -20.0h1.9v1.9h-1.9zm-0.8 19.2h1.9v1.9h-1.9zm-2.5 -10.9h1.9v1.9h-1.9zm1.2 -8.5h1.9v1.9h-1.9zm2.7 -1.6h1.9v1.9h-1.9zm0.6 20.4h1.9v1.9h-1.9zm-2.4 -26.4h1.9v1.9h-1.9zm-2.0 21.0h1.9v1.9h-1.9zm-1.3 4.5h1.9v1.9h-1.9zm5.3 -11.3h1.9v1.9h-1.9zm-4.2 -8.4h1.9v1.9h-1.9zm1.8 23.9h1.9v1.9h-1.9zm-1.6 0.5h1.9v1.9h-1.9zm2.5 15.9h1.9v1.9h-1.9zm-0.7 25.5h1.9v1.9h-1.9z" fill="#FF0000" fill-opacity="0.42"/><line x1="87.26" y1="259.6" x2="87.26" y2="275.5" stroke="#FF0000" stroke-width="0.7"/><line x1="87.26" y1="286.1" x2="87.26" y2="302" stroke="#FF0000" stroke-width="0.7"/><rect x="83.76" y="275.5" width="7" height="10.6" fill="#fff" fill-opacity="0.35" stroke="#FF0000" stroke-width="0.7"/><line x1="83.76" y1="280.8" x2="90.76" y2="280.8" stroke="#FF0000" stroke-width="1"/><clipPath id="cp4"><rect x="93.39" y="280.4" width="6.6" height="29.6"/></clipPath><rect clip-path="url(#cp4)" x="93.39" y="257.99" width="6.6" height="66.02" fill="url(#gbl)"/><path d="M92.5 282.6h1.9v1.9h-1.9zm1.1 9.0h1.9v1.9h-1.9zm-0.9 16.3h1.9v1.9h-1.9zm4.9 -26.4h1.9v1.9h-1.9zm1.0 15.8h1.9v1.9h-1.9zm-0.0 0.3h1.9v1.9h-1.9zm-3.1 9.9h1.9v1.9h-1.9zm-1.4 -14.7h1.9v1.9h-1.9zm4.9 3.4h1.9v1.9h-1.9zm-0.4 -6.5h1.9v1.9h-1.9zm-4.5 0.8h1.9v1.9h-1.9zm3.9 15.4h1.9v1.9h-1.9zm-3.5 0.1h1.9v1.9h-1.9zm4.0 -14.4h1.9v1.9h-1.9zm-4.8 4.2h1.9v1.9h-1.9zm0.8 5.1h1.9v1.9h-1.9zm-1.6 2.9h1.9v1.9h-1.9zm1.1 -11.0h1.9v1.9h-1.9zm0.4 -11.3h1.9v1.9h-1.9zm4.6 4.6h1.9v1.9h-1.9zm-4.7 21.7h1.9v1.9h-1.9zm3.2 -20.1h1.9v1.9h-1.9zm1.6 19.2h1.9v1.9h-1.9zm-5.5 -2.4h1.9v1.9h-1.9zm4.5 -16.4h1.9v1.9h-1.9zm-4.1 11.3h1.9v1.9h-1.9zm1.7 -7.0h1.9v1.9h-1.9zm1.5 15.5h1.9v1.9h-1.9zm-1.5 -16.6h1.9v1.9h-1.9zm2.8 0.1h1.9v1.9h-1.9zm-4.1 -1.0h1.9v1.9h-1.9zm-0.3 7.1h1.9v1.9h-1.9zm3.9 3.6h1.9v1.9h-1.9zm0.9 -17.7h1.9v1.9h-1.9zm-5.6 13.6h1.9v1.9h-1.9zm-0.0 -11.1h1.9v1.9h-1.9zm4.2 22.8h1.9v1.9h-1.9zm-2.1 -28.6h1.9v1.9h-1.9zm-2.9 28.5h1.9v1.9h-1.9zm4.5 -19.2h1.9v1.9h-1.9zm-2.4 2.3h1.9v1.9h-1.9zm0.8 0.9h1.9v1.9h-1.9zm-2.7 1.1h1.9v1.9h-1.9zm1.3 4.9h1.9v1.9h-1.9zm-0.7 -10.2h1.9v1.9h-1.9zm-0.9 -3.5h1.9v1.9h-1.9zm5.1 8.8h1.9v1.9h-1.9zm-1.2 -9.9h1.9v1.9h-1.9zm-3.1 10.8h1.9v1.9h-1.9zm3.9 -1.5h1.9v1.9h-1.9zm-2.5 -1.4h1.9v1.9h-1.9zm1.5 6.3h1.9v1.9h-1.9zm-2.4 -9.8h1.9v1.9h-1.9zm1.2 3.8h1.9v1.9h-1.9zm-0.8 -9.5h1.9v1.9h-1.9zm2.3 -2.7h1.9v1.9h-1.9zm-2.9 40.6h1.9v1.9h-1.9z" fill="#0000FF" fill-opacity="0.42"/><path d="M95.0 282.6h1.9v1.9h-1.9zm-0.4 6.0h1.9v1.9h-1.9zm0.5 -7.6h1.9v1.9h-1.9zm3.0 8.2h1.9v1.9h-1.9zm0.3 -1.4h1.9v1.9h-1.9zm-5.7 -3.9h1.9v1.9h-1.9zm4.3 2.6h1.9v1.9h-1.9zm-4.3 -4.4h1.9v1.9h-1.9zm5.0 17.6h1.9v1.9h-1.9zm-4.6 3.2h1.9v1.9h-1.9zm1.4 -13.0h1.9v1.9h-1.9zm-1.9 14.5h1.9v1.9h-1.9zm1.7 -23.6h1.9v1.9h-1.9zm1.2 16.0h1.9v1.9h-1.9zm-2.9 11.9h1.9v1.9h-1.9zm0.6 -3.7h1.9v1.9h-1.9zm1.2 -20.6h1.9v1.9h-1.9zm3.3 13.9h1.9v1.9h-1.9zm-0.8 -13.5h1.9v1.9h-1.9zm-0.9 0.7h1.9v1.9h-1.9zm1.9 9.8h1.9v1.9h-1.9zm-4.2 -8.4h1.9v1.9h-1.9zm3.8 6.2h1.9v1.9h-1.9zm-0.7 -10.0h1.9v1.9h-1.9zm-3.2 2.6h1.9v1.9h-1.9zm4.1 20.6h1.9v1.9h-1.9zm-1.3 -26.0h1.9v1.9h-1.9zm2.0 13.9h1.9v1.9h-1.9zm-2.9 -2.0h1.9v1.9h-1.9zm0.7 -7.2h1.9v1.9h-1.9zm0.5 3.8h1.9v1.9h-1.9zm-3.1 14.8h1.9v1.9h-1.9zm-0.8 4.3h1.9v1.9h-1.9zm4.8 -13.9h1.9v1.9h-1.9zm-3.5 -4.0h1.9v1.9h-1.9zm-1.1 -4.2h1.9v1.9h-1.9zm1.0 18.1h1.9v1.9h-1.9zm0.9 -17.1h1.9v1.9h-1.9zm1.9 1.1h1.9v1.9h-1.9zm1.3 5.4h1.9v1.9h-1.9zm-2.0 -12.6h1.9v1.9h-1.9zm-0.7 18.6h1.9v1.9h-1.9zm-0.6 3.8h1.9v1.9h-1.9zm3.8 -12.0h1.9v1.9h-1.9zm-3.8 11.9h1.9v1.9h-1.9zm3.6 -17.2h1.9v1.9h-1.9zm-4.4 17.3h1.9v1.9h-1.9zm1.3 -14.3h1.9v1.9h-1.9zm1.6 -0.1h1.9v1.9h-1.9zm-1.9 12.2h1.9v1.9h-1.9zm-2.4 0.6h1.9v1.9h-1.9zm4.3 0.1h1.9v1.9h-1.9zm-0.3 -4.6h1.9v1.9h-1.9zm-2.1 -6.1h1.9v1.9h-1.9zm-1.1 8.3h1.9v1.9h-1.9zm1.0 9.5h1.9v1.9h-1.9z" fill="#0000FF" fill-opacity="0.42"/><line x1="96.69" y1="280.4" x2="96.69" y2="281.3" stroke="#0000FF" stroke-width="0.7"/><line x1="96.69" y1="296.8" x2="96.69" y2="310" stroke="#0000FF" stroke-width="0.7"/><rect x="93.19" y="281.3" width="7" height="15.5" fill="#fff" fill-opacity="0.35" stroke="#0000FF" stroke-width="0.7"/><line x1="93.19" y1="291" x2="100.19" y2="291" stroke="#0000FF" stroke-width="1"/><clipPath id="cp5"><rect x="102.83" y="252.4" width="6.6" height="49.6"/></clipPath><rect clip-path="url(#cp5)" x="102.83" y="256.21" width="6.6" height="45.57" fill="url(#grl)"/><path d="M105.7 273.2h1.9v1.9h-1.9zm-1.5 14.2h1.9v1.9h-1.9zm1.5 -8.0h1.9v1.9h-1.9zm2.1 5.1h1.9v1.9h-1.9zm-1.9 7.6h1.9v1.9h-1.9zm0.1 -4.6h1.9v1.9h-1.9zm1.7 -4.2h1.9v1.9h-1.9zm-3.9 -6.7h1.9v1.9h-1.9zm2.5 0.6h1.9v1.9h-1.9zm-1.3 0.9h1.9v1.9h-1.9zm3.2 -4.0h1.9v1.9h-1.9zm-1.9 20.3h1.9v1.9h-1.9zm-1.4 -20.3h1.9v1.9h-1.9zm-1.7 9.7h1.9v1.9h-1.9zm-1.2 -0.4h1.9v1.9h-1.9zm4.8 -9.5h1.9v1.9h-1.9zm-1.8 -9.8h1.9v1.9h-1.9zm-1.2 13.8h1.9v1.9h-1.9zm0.6 6.0h1.9v1.9h-1.9zm-0.3 -4.3h1.9v1.9h-1.9zm3.8 11.0h1.9v1.9h-1.9zm-3.7 -24.3h1.9v1.9h-1.9zm-1.9 20.5h1.9v1.9h-1.9zm-0.6 -2.6h1.9v1.9h-1.9zm5.5 -12.4h1.9v1.9h-1.9zm-3.1 8.8h1.9v1.9h-1.9zm-1.9 -7.4h1.9v1.9h-1.9zm-0.6 15.9h1.9v1.9h-1.9zm3.1 -0.5h1.9v1.9h-1.9zm-1.2 -7.4h1.9v1.9h-1.9zm1.2 2.6h1.9v1.9h-1.9zm1.2 5.6h1.9v1.9h-1.9zm-1.5 8.9h1.9v1.9h-1.9zm-2.2 -14.5h1.9v1.9h-1.9zm2.7 -4.7h1.9v1.9h-1.9zm2.0 -1.4h1.9v1.9h-1.9zm-0.3 -9.1h1.9v1.9h-1.9zm-3.5 23.4h1.9v1.9h-1.9zm0.8 -12.0h1.9v1.9h-1.9zm-0.6 -10.2h1.9v1.9h-1.9zm-0.5 12.2h1.9v1.9h-1.9zm0.9 -23.3h1.9v1.9h-1.9zm1.3 12.6h1.9v1.9h-1.9zm-2.9 0.0h1.9v1.9h-1.9zm4.1 8.7h1.9v1.9h-1.9zm-3.6 6.1h1.9v1.9h-1.9zm3.1 -14.1h1.9v1.9h-1.9zm-0.9 14.4h1.9v1.9h-1.9zm1.1 -12.2h1.9v1.9h-1.9zm-1.0 -6.1h1.9v1.9h-1.9zm0.5 2.7h1.9v1.9h-1.9zm-1.9 16.1h1.9v1.9h-1.9zm4.6 -9.4h1.9v1.9h-1.9zm-1.1 18.8h1.9v1.9h-1.9zm-0.2 -19.8h1.9v1.9h-1.9zm-0.3 -24.4h1.9v1.9h-1.9zm-2.9 62.1h1.9v1.9h-1.9z" fill="#FF0000" fill-opacity="0.42"/><path d="M105.5 280.6h1.9v1.9h-1.9zm-3.4 -9.1h1.9v1.9h-1.9zm-0.2 3.2h1.9v1.9h-1.9zm1.1 2.3h1.9v1.9h-1.9zm5.1 -7.0h1.9v1.9h-1.9zm-4.5 -0.3h1.9v1.9h-1.9zm-1.0 10.6h1.9v1.9h-1.9zm0.4 3.1h1.9v1.9h-1.9zm1.4 6.6h1.9v1.9h-1.9zm1.1 -24.6h1.9v1.9h-1.9zm-1.7 1.4h1.9v1.9h-1.9zm-1.0 28.6h1.9v1.9h-1.9zm4.0 -22.6h1.9v1.9h-1.9zm-1.6 2.6h1.9v1.9h-1.9zm1.3 -18.8h1.9v1.9h-1.9zm1.1 31.5h1.9v1.9h-1.9zm-3.2 6.3h1.9v1.9h-1.9zm2.5 -1.2h1.9v1.9h-1.9zm-0.9 -25.9h1.9v1.9h-1.9zm-2.7 6.2h1.9v1.9h-1.9zm-0.7 5.8h1.9v1.9h-1.9zm5.8 5.4h1.9v1.9h-1.9zm-1.8 -18.9h1.9v1.9h-1.9zm-1.7 18.2h1.9v1.9h-1.9zm-0.6 10.1h1.9v1.9h-1.9zm-1.7 -32.3h1.9v1.9h-1.9zm-0.2 16.3h1.9v1.9h-1.9zm1.0 8.4h1.9v1.9h-1.9zm-1.4 -8.4h1.9v1.9h-1.9zm2.8 -17.4h1.9v1.9h-1.9zm2.2 35.8h1.9v1.9h-1.9zm-3.6 -14.0h1.9v1.9h-1.9zm3.0 -27.2h1.9v1.9h-1.9zm0.2 14.2h1.9v1.9h-1.9zm1.4 -7.4h1.9v1.9h-1.9zm-1.1 15.3h1.9v1.9h-1.9zm-2.7 19.7h1.9v1.9h-1.9zm-1.2 -6.4h1.9v1.9h-1.9zm2.8 -9.0h1.9v1.9h-1.9zm-2.1 -5.2h1.9v1.9h-1.9zm-1.1 -11.9h1.9v1.9h-1.9zm-1.1 9.6h1.9v1.9h-1.9zm1.3 8.9h1.9v1.9h-1.9zm1.5 9.6h1.9v1.9h-1.9zm-1.1 -4.8h1.9v1.9h-1.9zm4.9 -12.3h1.9v1.9h-1.9zm-2.5 -4.2h1.9v1.9h-1.9zm-3.4 -3.6h1.9v1.9h-1.9zm1.8 0.8h1.9v1.9h-1.9zm0.4 14.2h1.9v1.9h-1.9zm3.7 1.7h1.9v1.9h-1.9zm-0.9 3.4h1.9v1.9h-1.9zm-1.5 -7.8h1.9v1.9h-1.9zm-4.0 -4.0h1.9v1.9h-1.9zm3.2 -4.8h1.9v1.9h-1.9zm-1.8 29.5h1.9v1.9h-1.9zm2.2 29.5h1.9v1.9h-1.9z" fill="#FF0000" fill-opacity="0.42"/><line x1="106.12" y1="257.65" x2="106.12" y2="273.7" stroke="#FF0000" stroke-width="0.7"/><line x1="106.12" y1="284.4" x2="106.12" y2="300.45" stroke="#FF0000" stroke-width="0.7"/><rect x="102.62" y="273.7" width="7" height="10.7" fill="#fff" fill-opacity="0.35" stroke="#FF0000" stroke-width="0.7"/><line x1="102.62" y1="279" x2="109.62" y2="279" stroke="#FF0000" stroke-width="1"/><path d="M116.6 280.9h1.9v1.9h-1.9zm0.1 -7.9h1.9v1.9h-1.9zm0.5 14.6h1.9v1.9h-1.9zm-1.7 1.2h1.9v1.9h-1.9zm-2.9 10.5h1.9v1.9h-1.9zm0.8 -28.8h1.9v1.9h-1.9zm-1.3 31.5h1.9v1.9h-1.9zm3.3 -17.8h1.9v1.9h-1.9zm-1.4 -9.6h1.9v1.9h-1.9zm0.3 14.3h1.9v1.9h-1.9zm0.8 -9.4h1.9v1.9h-1.9zm-0.8 16.3h1.9v1.9h-1.9zm-2.7 -26.0h1.9v1.9h-1.9zm4.3 24.3h1.9v1.9h-1.9zm-2.4 -11.7h1.9v1.9h-1.9zm3.8 -6.2h1.9v1.9h-1.9zm-1.5 4.5h1.9v1.9h-1.9zm-1.4 -11.6h1.9v1.9h-1.9zm3.6 6.1h1.9v1.9h-1.9zm-6.3 -11.1h1.9v1.9h-1.9zm1.0 30.8h1.9v1.9h-1.9zm3.0 -32.9h1.9v1.9h-1.9zm0.9 29.4h1.9v1.9h-1.9zm1.1 -30.6h1.9v1.9h-1.9zm-5.7 23.8h1.9v1.9h-1.9zm0.1 14.3h1.9v1.9h-1.9zm-0.5 -16.0h1.9v1.9h-1.9zm0.3 -27.6h1.9v1.9h-1.9zm3.5 12.7h1.9v1.9h-1.9zm1.4 23.0h1.9v1.9h-1.9zm-4.8 -11.8h1.9v1.9h-1.9zm2.1 6.0h1.9v1.9h-1.9zm-0.6 -6.2h1.9v1.9h-1.9zm1.2 -21.3h1.9v1.9h-1.9zm-0.9 32.4h1.9v1.9h-1.9zm-2.2 -5.5h1.9v1.9h-1.9zm1.2 4.7h1.9v1.9h-1.9zm1.8 -3.7h1.9v1.9h-1.9zm3.2 -2.8h1.9v1.9h-1.9zm-2.5 -8.2h1.9v1.9h-1.9zm-2.3 -16.1h1.9v1.9h-1.9zm1.3 -4.0h1.9v1.9h-1.9z" fill="#FF0000" fill-opacity="0.42"/><path d="M117.0 283.9h1.9v1.9h-1.9zm-5.6 -5.8h1.9v1.9h-1.9zm2.4 11.2h1.9v1.9h-1.9zm-1.2 12.0h1.9v1.9h-1.9zm1.5 -35.1h1.9v1.9h-1.9zm1.8 12.8h1.9v1.9h-1.9zm-3.9 -3.9h1.9v1.9h-1.9zm3.9 23.1h1.9v1.9h-1.9zm-0.4 -6.0h1.9v1.9h-1.9zm2.1 -23.0h1.9v1.9h-1.9zm-0.5 3.3h1.9v1.9h-1.9zm-3.3 -7.1h1.9v1.9h-1.9zm-0.7 7.9h1.9v1.9h-1.9zm-0.2 6.0h1.9v1.9h-1.9zm4.1 18.5h1.9v1.9h-1.9zm-3.2 -26.1h1.9v1.9h-1.9zm-2.4 -10.2h1.9v1.9h-1.9zm4.4 23.8h1.9v1.9h-1.9zm0.2 7.3h1.9v1.9h-1.9zm-3.3 -27.2h1.9v1.9h-1.9zm3.6 26.3h1.9v1.9h-1.9zm0.0 2.3h1.9v1.9h-1.9zm-4.9 -17.2h1.9v1.9h-1.9zm3.5 19.2h1.9v1.9h-1.9zm-2.8 -18.8h1.9v1.9h-1.9zm1.2 1.7h1.9v1.9h-1.9zm1.1 18.7h1.9v1.9h-1.9zm-2.0 -7.8h1.9v1.9h-1.9zm5.5 -9.4h1.9v1.9h-1.9zm-1.7 2.9h1.9v1.9h-1.9zm1.7 -1.2h1.9v1.9h-1.9zm-5.8 -15.3h1.9v1.9h-1.9zm5.7 -1.2h1.9v1.9h-1.9zm-1.4 7.5h1.9v1.9h-1.9zm-2.1 -3.9h1.9v1.9h-1.9zm0.8 29.9h1.9v1.9h-1.9zm-1.6 -27.0h1.9v1.9h-1.9zm4.4 1.7h1.9v1.9h-1.9zm-4.5 -2.4h1.9v1.9h-1.9zm3.1 -6.1h1.9v1.9h-1.9zm0.3 17.7h1.9v1.9h-1.9zm-0.2 19.2h1.9v1.9h-1.9z" fill="#FF0000" fill-opacity="0.42"/><line x1="115.56" y1="254.8" x2="115.56" y2="275.7" stroke="#FF0000" stroke-width="0.7"/><line x1="115.56" y1="292" x2="115.56" y2="303.5" stroke="#FF0000" stroke-width="0.7"/><rect x="112.06" y="275.7" width="7" height="16.3" fill="#fff" fill-opacity="0.35" stroke="#FF0000" stroke-width="0.7"/><line x1="112.06" y1="283.5" x2="119.06" y2="283.5" stroke="#FF0000" stroke-width="1"/><clipPath id="cp7"><rect x="121.69" y="252.9" width="6.6" height="57.1"/></clipPath><rect clip-path="url(#cp7)" x="121.69" y="249.88" width="6.6" height="63.04" fill="url(#grh)"/><path d="M121.2 276.0h1.9v1.9h-1.9zm4.8 -5.6h1.9v1.9h-1.9zm-1.6 27.6h1.9v1.9h-1.9zm1.4 7.3h1.9v1.9h-1.9zm1.6 -24.1h1.9v1.9h-1.9zm-4.1 9.7h1.9v1.9h-1.9zm-2.1 -7.9h1.9v1.9h-1.9zm1.6 2.5h1.9v1.9h-1.9zm1.5 -1.7h1.9v1.9h-1.9zm-0.7 -6.6h1.9v1.9h-1.9zm-0.3 -16.8h1.9v1.9h-1.9zm-1.3 28.9h1.9v1.9h-1.9zm1.3 -22.1h1.9v1.9h-1.9zm4.0 0.4h1.9v1.9h-1.9zm-2.8 11.5h1.9v1.9h-1.9zm-1.0 -13.5h1.9v1.9h-1.9zm0.4 27.2h1.9v1.9h-1.9zm2.5 -23.2h1.9v1.9h-1.9zm0.7 7.2h1.9v1.9h-1.9zm-5.0 20.0h1.9v1.9h-1.9zm2.5 -20.2h1.9v1.9h-1.9zm0.9 -5.3h1.9v1.9h-1.9zm-4.7 -7.3h1.9v1.9h-1.9zm3.2 27.5h1.9v1.9h-1.9zm-2.2 -0.6h1.9v1.9h-1.9zm2.5 -24.6h1.9v1.9h-1.9zm-1.2 39.3h1.9v1.9h-1.9zm4.0 -39.6h1.9v1.9h-1.9zm-5.7 18.2h1.9v1.9h-1.9zm0.1 0.2h1.9v1.9h-1.9zm-0.4 14.3h1.9v1.9h-1.9zm5.4 -10.7h1.9v1.9h-1.9zm-2.2 -8.0h1.9v1.9h-1.9zm-0.3 0.8h1.9v1.9h-1.9zm-1.3 -6.6h1.9v1.9h-1.9zm4.3 1.7h1.9v1.9h-1.9zm-1.6 3.8h1.9v1.9h-1.9zm1.9 -18.9h1.9v1.9h-1.9zm-0.9 23.3h1.9v1.9h-1.9zm-5.6 -2.2h1.9v1.9h-1.9zm2.8 -25.0h1.9v1.9h-1.9zm1.2 25.7h1.9v1.9h-1.9zm2.0 15.1h1.9v1.9h-1.9zm-3.7 -8.8h1.9v1.9h-1.9zm3.7 -16.6h1.9v1.9h-1.9zm-1.4 19.5h1.9v1.9h-1.9zm-3.1 -12.4h1.9v1.9h-1.9zm5.3 0.5h1.9v1.9h-1.9zm-1.4 18.3h1.9v1.9h-1.9zm0.2 -0.3h1.9v1.9h-1.9zm-4.6 6.5h1.9v1.9h-1.9zm5.4 -46.9h1.9v1.9h-1.9zm-1.4 11.3h1.9v1.9h-1.9zm1.4 19.5h1.9v1.9h-1.9zm-5.1 -18.6h1.9v1.9h-1.9zm2.4 -17.0h1.9v1.9h-1.9z" fill="#FF0000" fill-opacity="0.42"/><path d="M126.3 299.8h1.9v1.9h-1.9zm-5.3 2.8h1.9v1.9h-1.9zm4.0 -16.7h1.9v1.9h-1.9zm-1.5 16.0h1.9v1.9h-1.9zm0.2 -1.0h1.9v1.9h-1.9zm-0.8 -26.5h1.9v1.9h-1.9zm2.4 25.2h1.9v1.9h-1.9zm-0.7 -14.8h1.9v1.9h-1.9zm-3.0 8.9h1.9v1.9h-1.9zm3.7 -12.6h1.9v1.9h-1.9zm-3.9 0.2h1.9v1.9h-1.9zm0.4 14.3h1.9v1.9h-1.9zm4.6 -23.8h1.9v1.9h-1.9zm-1.0 1.1h1.9v1.9h-1.9zm-4.3 28.8h1.9v1.9h-1.9zm3.4 -6.7h1.9v1.9h-1.9zm1.3 -22.3h1.9v1.9h-1.9zm-1.3 19.2h1.9v1.9h-1.9zm1.6 -4.8h1.9v1.9h-1.9zm-4.7 -24.2h1.9v1.9h-1.9zm1.7 35.5h1.9v1.9h-1.9zm-0.7 -4.6h1.9v1.9h-1.9zm-0.1 -13.5h1.9v1.9h-1.9zm1.7 -2.1h1.9v1.9h-1.9zm0.2 13.3h1.9v1.9h-1.9zm-1.9 8.8h1.9v1.9h-1.9zm-0.2 -30.9h1.9v1.9h-1.9zm2.3 26.5h1.9v1.9h-1.9zm2.3 -18.3h1.9v1.9h-1.9zm-4.0 -1.4h1.9v1.9h-1.9zm4.6 8.3h1.9v1.9h-1.9zm-3.1 -9.3h1.9v1.9h-1.9zm1.2 -3.5h1.9v1.9h-1.9zm-1.0 8.0h1.9v1.9h-1.9zm1.0 -2.0h1.9v1.9h-1.9zm-1.4 5.1h1.9v1.9h-1.9zm-2.7 -25.6h1.9v1.9h-1.9zm5.3 1.1h1.9v1.9h-1.9zm-2.4 22.6h1.9v1.9h-1.9zm3.1 16.3h1.9v1.9h-1.9zm-1.4 -18.2h1.9v1.9h-1.9zm-2.1 -8.8h1.9v1.9h-1.9zm0.2 16.0h1.9v1.9h-1.9zm0.3 -11.7h1.9v1.9h-1.9zm-1.3 7.0h1.9v1.9h-1.9zm3.0 -6.4h1.9v1.9h-1.9zm-2.8 17.8h1.9v1.9h-1.9zm2.9 2.7h1.9v1.9h-1.9zm-0.3 -19.4h1.9v1.9h-1.9zm-2.5 4.1h1.9v1.9h-1.9zm3.7 24.1h1.9v1.9h-1.9zm-5.0 -31.1h1.9v1.9h-1.9zm1.8 -17.5h1.9v1.9h-1.9zm-0.7 6.6h1.9v1.9h-1.9zm1.2 25.1h1.9v1.9h-1.9zm0.2 20.9h1.9v1.9h-1.9z" fill="#FF0000" fill-opacity="0.42"/><line x1="124.99" y1="252.9" x2="124.99" y2="274" stroke="#FF0000" stroke-width="0.7"/><line x1="124.99" y1="288.8" x2="124.99" y2="310" stroke="#FF0000" stroke-width="0.7"/><rect x="121.49" y="274" width="7" height="14.8" fill="#fff" fill-opacity="0.35" stroke="#FF0000" stroke-width="0.7"/><line x1="121.49" y1="281.4" x2="128.49" y2="281.4" stroke="#FF0000" stroke-width="1"/><clipPath id="cp8"><rect x="131.12" y="247.6" width="6.6" height="56"/></clipPath><rect clip-path="url(#cp8)" x="131.12" y="245.82" width="6.6" height="58.35" fill="url(#grm)"/><path d="M130.6 269.1h1.9v1.9h-1.9zm2.9 9.8h1.9v1.9h-1.9zm3.2 9.0h1.9v1.9h-1.9zm-0.2 -28.0h1.9v1.9h-1.9zm-5.2 -4.1h1.9v1.9h-1.9zm4.3 3.2h1.9v1.9h-1.9zm-5.2 4.7h1.9v1.9h-1.9zm1.9 -6.4h1.9v1.9h-1.9zm1.0 3.6h1.9v1.9h-1.9zm2.9 35.1h1.9v1.9h-1.9zm-1.1 -23.7h1.9v1.9h-1.9zm-4.3 11.2h1.9v1.9h-1.9zm2.8 -8.9h1.9v1.9h-1.9zm0.8 -0.3h1.9v1.9h-1.9zm2.3 7.5h1.9v1.9h-1.9zm-1.0 -5.8h1.9v1.9h-1.9zm-1.9 24.5h1.9v1.9h-1.9zm-0.4 -25.4h1.9v1.9h-1.9zm3.2 7.1h1.9v1.9h-1.9zm-1.2 -28.0h1.9v1.9h-1.9zm-5.3 10.5h1.9v1.9h-1.9zm6.2 27.5h1.9v1.9h-1.9zm-0.4 -10.9h1.9v1.9h-1.9zm-1.7 10.1h1.9v1.9h-1.9zm1.1 -21.4h1.9v1.9h-1.9zm-2.7 -8.1h1.9v1.9h-1.9zm1.8 13.3h1.9v1.9h-1.9zm-3.2 -14.8h1.9v1.9h-1.9zm4.9 -13.0h1.9v1.9h-1.9zm-3.9 21.8h1.9v1.9h-1.9zm1.4 3.0h1.9v1.9h-1.9zm-2.0 -7.2h1.9v1.9h-1.9zm4.8 10.9h1.9v1.9h-1.9zm0.1 4.7h1.9v1.9h-1.9zm-2.2 1.2h1.9v1.9h-1.9zm-0.8 -12.9h1.9v1.9h-1.9zm-1.7 1.2h1.9v1.9h-1.9zm2.9 -6.4h1.9v1.9h-1.9zm1.2 12.9h1.9v1.9h-1.9zm-3.1 -8.3h1.9v1.9h-1.9zm1.3 -5.0h1.9v1.9h-1.9zm-4.1 10.0h1.9v1.9h-1.9zm5.7 26.9h1.9v1.9h-1.9zm-3.7 -19.9h1.9v1.9h-1.9zm4.0 -16.5h1.9v1.9h-1.9zm-3.1 -0.6h1.9v1.9h-1.9zm2.3 2.2h1.9v1.9h-1.9zm0.9 -2.6h1.9v1.9h-1.9zm-4.1 1.8h1.9v1.9h-1.9zm2.4 3.2h1.9v1.9h-1.9zm0.4 17.4h1.9v1.9h-1.9zm-0.7 -12.4h1.9v1.9h-1.9zm1.4 16.4h1.9v1.9h-1.9zm-0.5 -19.8h1.9v1.9h-1.9zm1.6 -9.3h1.9v1.9h-1.9zm-4.2 -12.8h1.9v1.9h-1.9z" fill="#FF0000" fill-opacity="0.42"/><path d="M135.2 283.3h1.9v1.9h-1.9zm-3.2 -16.9h1.9v1.9h-1.9zm1.2 -11.1h1.9v1.9h-1.9zm-0.4 39.2h1.9v1.9h-1.9zm-1.3 -17.3h1.9v1.9h-1.9zm-0.2 -11.0h1.9v1.9h-1.9zm3.0 -3.3h1.9v1.9h-1.9zm1.8 14.0h1.9v1.9h-1.9zm0.2 4.7h1.9v1.9h-1.9zm-2.8 -16.9h1.9v1.9h-1.9zm0.5 16.6h1.9v1.9h-1.9zm-1.6 -10.5h1.9v1.9h-1.9zm-0.5 17.5h1.9v1.9h-1.9zm1.4 -2.2h1.9v1.9h-1.9zm2.2 -16.9h1.9v1.9h-1.9zm-2.0 4.0h1.9v1.9h-1.9zm-1.5 -13.2h1.9v1.9h-1.9zm3.7 16.7h1.9v1.9h-1.9zm-0.8 -11.4h1.9v1.9h-1.9zm-3.2 12.7h1.9v1.9h-1.9zm2.5 -16.0h1.9v1.9h-1.9zm-3.4 28.5h1.9v1.9h-1.9zm4.4 -9.3h1.9v1.9h-1.9zm0.7 -8.0h1.9v1.9h-1.9zm-1.6 -25.9h1.9v1.9h-1.9zm1.1 33.6h1.9v1.9h-1.9zm-3.3 -12.2h1.9v1.9h-1.9zm0.1 -6.3h1.9v1.9h-1.9zm4.3 27.5h1.9v1.9h-1.9zm-6.3 -30.1h1.9v1.9h-1.9zm1.1 13.6h1.9v1.9h-1.9zm1.1 3.9h1.9v1.9h-1.9zm-0.8 -14.3h1.9v1.9h-1.9zm3.6 -6.2h1.9v1.9h-1.9zm-1.5 24.5h1.9v1.9h-1.9zm-2.7 -7.2h1.9v1.9h-1.9zm4.2 -2.0h1.9v1.9h-1.9zm-2.0 -3.7h1.9v1.9h-1.9zm-1.4 -18.2h1.9v1.9h-1.9zm3.2 25.9h1.9v1.9h-1.9zm-4.2 10.0h1.9v1.9h-1.9zm2.3 -17.9h1.9v1.9h-1.9zm0.8 -9.4h1.9v1.9h-1.9zm1.9 14.2h1.9v1.9h-1.9zm-0.5 7.2h1.9v1.9h-1.9zm-3.2 -2.9h1.9v1.9h-1.9zm1.1 1.8h1.9v1.9h-1.9zm2.1 -2.2h1.9v1.9h-1.9zm1.1 -20.9h1.9v1.9h-1.9zm-1.2 6.3h1.9v1.9h-1.9zm-0.0 7.3h1.9v1.9h-1.9zm-3.9 27.2h1.9v1.9h-1.9zm1.3 -17.2h1.9v1.9h-1.9zm-0.9 -26.0h1.9v1.9h-1.9zm3.6 14.3h1.9v1.9h-1.9zm-0.8 33.8h1.9v1.9h-1.9z" fill="#FF0000" fill-opacity="0.42"/><line x1="134.42" y1="247.6" x2="134.42" y2="267.7" stroke="#FF0000" stroke-width="0.7"/><line x1="134.42" y1="281.4" x2="134.42" y2="301.95" stroke="#FF0000" stroke-width="0.7"/><rect x="130.92" y="267.7" width="7" height="13.7" fill="#fff" fill-opacity="0.35" stroke="#FF0000" stroke-width="0.7"/><line x1="130.92" y1="275" x2="137.92" y2="275" stroke="#FF0000" stroke-width="1"/><clipPath id="cp9"><rect x="140.56" y="256" width="6.6" height="55"/></clipPath><rect clip-path="url(#cp9)" x="140.56" y="254.35" width="6.6" height="47.7" fill="url(#grm)"/><path d="M143.1 275.3h1.9v1.9h-1.9zm-1.6 13.5h1.9v1.9h-1.9zm1.6 -20.2h1.9v1.9h-1.9zm-3.1 -1.4h1.9v1.9h-1.9zm1.3 14.7h1.9v1.9h-1.9zm2.6 -6.2h1.9v1.9h-1.9zm-3.3 20.3h1.9v1.9h-1.9zm3.5 -19.8h1.9v1.9h-1.9zm0.1 12.5h1.9v1.9h-1.9zm-2.7 6.0h1.9v1.9h-1.9zm-0.6 -29.4h1.9v1.9h-1.9zm1.5 8.1h1.9v1.9h-1.9zm-0.6 -15.7h1.9v1.9h-1.9zm0.1 39.7h1.9v1.9h-1.9zm1.2 3.9h1.9v1.9h-1.9zm3.0 -26.8h1.9v1.9h-1.9zm-5.5 18.9h1.9v1.9h-1.9zm0.8 -21.0h1.9v1.9h-1.9zm-0.2 5.0h1.9v1.9h-1.9zm-1.0 8.2h1.9v1.9h-1.9zm4.4 -6.0h1.9v1.9h-1.9zm-2.5 -15.2h1.9v1.9h-1.9zm3.4 15.3h1.9v1.9h-1.9zm-1.9 -1.2h1.9v1.9h-1.9zm0.5 17.5h1.9v1.9h-1.9zm2.0 -15.9h1.9v1.9h-1.9zm-3.0 -6.2h1.9v1.9h-1.9zm-3.2 21.8h1.9v1.9h-1.9zm0.2 -18.0h1.9v1.9h-1.9zm3.2 -4.4h1.9v1.9h-1.9zm-0.9 8.8h1.9v1.9h-1.9zm1.4 -14.9h1.9v1.9h-1.9zm-0.7 -2.5h1.9v1.9h-1.9zm1.1 34.2h1.9v1.9h-1.9zm-3.6 -20.7h1.9v1.9h-1.9zm4.3 -4.3h1.9v1.9h-1.9zm-1.8 6.1h1.9v1.9h-1.9zm-0.5 -4.1h1.9v1.9h-1.9zm-2.9 14.3h1.9v1.9h-1.9zm6.2 -4.3h1.9v1.9h-1.9zm-6.3 -11.0h1.9v1.9h-1.9zm6.3 4.6h1.9v1.9h-1.9zm-5.5 -20.7h1.9v1.9h-1.9zm0.1 11.7h1.9v1.9h-1.9zm1.9 13.1h1.9v1.9h-1.9zm-2.8 -5.2h1.9v1.9h-1.9zm5.6 1.2h1.9v1.9h-1.9zm-1.9 22.0h1.9v1.9h-1.9zm-3.3 -23.2h1.9v1.9h-1.9zm1.8 -5.8h1.9v1.9h-1.9zm-2.3 -0.3h1.9v1.9h-1.9zm3.7 13.4h1.9v1.9h-1.9zm0.8 -10.9h1.9v1.9h-1.9zm0.5 -1.9h1.9v1.9h-1.9zm-0.1 -10.9h1.9v1.9h-1.9zm0.0 -6.4h1.9v1.9h-1.9zm-1.3 67.2h1.9v1.9h-1.9z" fill="#FF0000" fill-opacity="0.42"/><path d="M140.6 290.0h1.9v1.9h-1.9zm1.7 -21.8h1.9v1.9h-1.9zm1.0 2.3h1.9v1.9h-1.9zm0.8 20.2h1.9v1.9h-1.9zm-1.1 -22.0h1.9v1.9h-1.9zm2.7 1.0h1.9v1.9h-1.9zm-0.9 -9.9h1.9v1.9h-1.9zm0.4 40.3h1.9v1.9h-1.9zm-4.4 -33.5h1.9v1.9h-1.9zm2.7 15.6h1.9v1.9h-1.9zm2.4 -9.1h1.9v1.9h-1.9zm-2.0 14.5h1.9v1.9h-1.9zm1.3 -6.0h1.9v1.9h-1.9zm-1.2 -5.0h1.9v1.9h-1.9zm-4.1 -2.4h1.9v1.9h-1.9zm0.0 5.4h1.9v1.9h-1.9zm3.8 -5.0h1.9v1.9h-1.9zm-2.1 12.8h1.9v1.9h-1.9zm1.6 -15.2h1.9v1.9h-1.9zm-1.9 -6.6h1.9v1.9h-1.9zm1.3 3.5h1.9v1.9h-1.9zm0.2 -3.7h1.9v1.9h-1.9zm-3.4 20.3h1.9v1.9h-1.9zm5.5 -1.1h1.9v1.9h-1.9zm-1.9 -16.9h1.9v1.9h-1.9zm-2.1 11.6h1.9v1.9h-1.9zm1.8 -9.3h1.9v1.9h-1.9zm-0.9 12.9h1.9v1.9h-1.9zm2.5 4.3h1.9v1.9h-1.9zm-0.6 -30.7h1.9v1.9h-1.9zm-0.3 14.1h1.9v1.9h-1.9zm-3.8 18.0h1.9v1.9h-1.9zm1.3 1.6h1.9v1.9h-1.9zm3.6 -10.4h1.9v1.9h-1.9zm-2.2 -15.7h1.9v1.9h-1.9zm1.1 20.2h1.9v1.9h-1.9zm1.3 -8.1h1.9v1.9h-1.9zm-4.0 -5.0h1.9v1.9h-1.9zm-0.0 -1.2h1.9v1.9h-1.9zm2.7 -5.4h1.9v1.9h-1.9zm-1.7 1.4h1.9v1.9h-1.9zm-0.4 12.1h1.9v1.9h-1.9zm1.2 -12.8h1.9v1.9h-1.9zm-2.9 9.2h1.9v1.9h-1.9zm3.7 4.3h1.9v1.9h-1.9zm-3.2 -17.2h1.9v1.9h-1.9zm-0.4 16.5h1.9v1.9h-1.9zm1.4 4.2h1.9v1.9h-1.9zm-0.8 -8.6h1.9v1.9h-1.9zm1.5 -6.9h1.9v1.9h-1.9zm-2.6 13.9h1.9v1.9h-1.9zm0.8 -9.3h1.9v1.9h-1.9zm-0.6 -3.1h1.9v1.9h-1.9zm6.0 25.3h1.9v1.9h-1.9zm-1.3 15.7h1.9v1.9h-1.9zm-2.3 0.6h1.9v1.9h-1.9z" fill="#FF0000" fill-opacity="0.42"/><line x1="143.86" y1="256.2" x2="143.86" y2="273" stroke="#FF0000" stroke-width="0.7"/><line x1="143.86" y1="284.2" x2="143.86" y2="301" stroke="#FF0000" stroke-width="0.7"/><rect x="140.36" y="273" width="7" height="11.2" fill="#fff" fill-opacity="0.35" stroke="#FF0000" stroke-width="0.7"/><line x1="140.36" y1="278.2" x2="147.36" y2="278.2" stroke="#FF0000" stroke-width="1"/><path d="M155.0 297.2h1.9v1.9h-1.9zm0.4 -2.1h1.9v1.9h-1.9zm-3.8 -9.5h1.9v1.9h-1.9z" fill="#0000FF" fill-opacity="0.42"/><line x1="153.29" y1="285.6" x2="153.29" y2="289.9" stroke="#0000FF" stroke-width="0.7"/><line x1="153.29" y1="295.2" x2="153.29" y2="298.3" stroke="#0000FF" stroke-width="0.7"/><rect x="149.79" y="289.9" width="7" height="5.3" fill="#fff" fill-opacity="0.35" stroke="#0000FF" stroke-width="0.7"/><line x1="149.79" y1="292.4" x2="156.79" y2="292.4" stroke="#0000FF" stroke-width="1"/><path d="M158.8 298.7h1.9v1.9h-1.9zm1.5 0.6h1.9v1.9h-1.9zm1.1 -10.0h1.9v1.9h-1.9zm3.7 0.6h1.9v1.9h-1.9zm-5.4 -3.5h1.9v1.9h-1.9zm0.1 12.2h1.9v1.9h-1.9zm-1.3 -6.6h1.9v1.9h-1.9zm1.9 1.1h1.9v1.9h-1.9zm2.5 -0.7h1.9v1.9h-1.9zm-2.8 10.6h1.9v1.9h-1.9zm4.8 -12.7h1.9v1.9h-1.9zm-4.2 -0.4h1.9v1.9h-1.9zm1.0 7.5h1.9v1.9h-1.9zm3.4 0.5h1.9v1.9h-1.9zm-2.4 2.3h1.9v1.9h-1.9zm-2.9 -2.3h1.9v1.9h-1.9zm2.6 -4.4h1.9v1.9h-1.9zm-3.2 0.6h1.9v1.9h-1.9zm4.9 2.4h1.9v1.9h-1.9zm-1.9 -4.7h1.9v1.9h-1.9zm0.6 -1.5h1.9v1.9h-1.9zm-4.2 0.3h1.9v1.9h-1.9zm0.2 3.5h1.9v1.9h-1.9zm5.2 3.3h1.9v1.9h-1.9zm-4.8 0.2h1.9v1.9h-1.9zm2.9 -7.1h1.9v1.9h-1.9zm2.9 7.1h1.9v1.9h-1.9zm-1.4 -11.9h1.9v1.9h-1.9zm-2.0 5.6h1.9v1.9h-1.9zm0.9 1.0h1.9v1.9h-1.9zm-3.2 -2.1h1.9v1.9h-1.9zm3.7 1.8h1.9v1.9h-1.9zm-1.5 1.4h1.9v1.9h-1.9zm2.4 -5.7h1.9v1.9h-1.9zm-2.8 10.1h1.9v1.9h-1.9zm-0.3 -8.7h1.9v1.9h-1.9zm3.5 -3.8h1.9v1.9h-1.9zm-4.8 24.4h1.9v1.9h-1.9z" fill="#FF0000" fill-opacity="0.42"/><line x1="162.72" y1="285.6" x2="162.72" y2="289.9" stroke="#FF0000" stroke-width="0.7"/><line x1="162.72" y1="296.2" x2="162.72" y2="305.65" stroke="#FF0000" stroke-width="0.7"/><rect x="159.22" y="289.9" width="7" height="6.3" fill="#fff" fill-opacity="0.35" stroke="#FF0000" stroke-width="0.7"/><line x1="159.22" y1="293" x2="166.22" y2="293" stroke="#FF0000" stroke-width="1"/><path d="M168.8 331.2h1.9v1.9h-1.9zm1.9 -2.9h1.9v1.9h-1.9zm-0.9 -3.0h1.9v1.9h-1.9zm4.0 -5.6h1.9v1.9h-1.9zm-2.8 5.9h1.9v1.9h-1.9zm1.8 5.9h1.9v1.9h-1.9zm-3.6 -2.3h1.9v1.9h-1.9zm2.7 3.2h1.9v1.9h-1.9zm-1.8 0.9h1.9v1.9h-1.9zm-0.7 -14.3h1.9v1.9h-1.9zm3.2 14.8h1.9v1.9h-1.9z" fill="#0000FF" fill-opacity="0.42"/><line x1="172.16" y1="319.5" x2="172.16" y2="323" stroke="#0000FF" stroke-width="0.7"/><line x1="172.16" y1="328.4" x2="172.16" y2="335.3" stroke="#0000FF" stroke-width="0.7"/><rect x="168.66" y="323" width="7" height="5.4" fill="#fff" fill-opacity="0.35" stroke="#0000FF" stroke-width="0.7"/><line x1="168.66" y1="325.8" x2="175.66" y2="325.8" stroke="#0000FF" stroke-width="1"/><clipPath id="cp13"><rect x="178.29" y="261.3" width="6.6" height="46.5"/></clipPath><rect clip-path="url(#cp13)" x="178.29" y="256.45" width="6.6" height="54.09" fill="url(#grh)"/><path d="M181.7 262.1h1.9v1.9h-1.9zm-1.2 26.3h1.9v1.9h-1.9zm3.1 -8.6h1.9v1.9h-1.9zm-0.9 -1.2h1.9v1.9h-1.9zm-3.7 25.5h1.9v1.9h-1.9zm0.6 -22.2h1.9v1.9h-1.9zm-1.6 -4.8h1.9v1.9h-1.9zm1.9 -1.1h1.9v1.9h-1.9zm1.6 18.8h1.9v1.9h-1.9zm-1.3 9.2h1.9v1.9h-1.9zm-0.4 -32.2h1.9v1.9h-1.9zm0.2 1.1h1.9v1.9h-1.9zm3.6 26.0h1.9v1.9h-1.9zm-1.9 -31.9h1.9v1.9h-1.9zm1.6 19.9h1.9v1.9h-1.9zm-4.1 -3.1h1.9v1.9h-1.9zm-0.6 1.8h1.9v1.9h-1.9zm2.8 9.3h1.9v1.9h-1.9zm-1.6 -30.7h1.9v1.9h-1.9zm-1.8 32.7h1.9v1.9h-1.9zm0.4 -17.5h1.9v1.9h-1.9zm3.3 -8.2h1.9v1.9h-1.9zm-1.6 -5.2h1.9v1.9h-1.9zm2.8 -0.3h1.9v1.9h-1.9zm-2.6 26.2h1.9v1.9h-1.9zm2.8 -7.6h1.9v1.9h-1.9zm-5.3 17.7h1.9v1.9h-1.9zm3.1 -25.3h1.9v1.9h-1.9zm-2.6 3.4h1.9v1.9h-1.9zm4.7 3.0h1.9v1.9h-1.9zm-0.5 17.1h1.9v1.9h-1.9zm-3.6 -20.7h1.9v1.9h-1.9zm0.1 -3.9h1.9v1.9h-1.9zm1.5 -12.3h1.9v1.9h-1.9zm0.7 24.0h1.9v1.9h-1.9zm-1.0 -23.3h1.9v1.9h-1.9zm-0.4 11.0h1.9v1.9h-1.9zm-1.3 18.9h1.9v1.9h-1.9zm-0.6 -14.7h1.9v1.9h-1.9zm2.5 2.5h1.9v1.9h-1.9zm3.2 -0.7h1.9v1.9h-1.9zm-4.9 18.1h1.9v1.9h-1.9zm3.3 -10.0h1.9v1.9h-1.9zm-2.6 -15.5h1.9v1.9h-1.9zm-0.3 10.8h1.9v1.9h-1.9zm1.1 1.5h1.9v1.9h-1.9zm1.8 -3.9h1.9v1.9h-1.9zm-2.6 0.1h1.9v1.9h-1.9zm-1.9 0.6h1.9v1.9h-1.9zm5.2 -17.6h1.9v1.9h-1.9zm0.0 17.6h1.9v1.9h-1.9zm-1.8 -5.9h1.9v1.9h-1.9zm1.5 8.1h1.9v1.9h-1.9zm-2.6 9.9h1.9v1.9h-1.9zm0.8 -0.6h1.9v1.9h-1.9zm2.0 -33.3h1.9v1.9h-1.9zm-3.3 -22.8h1.9v1.9h-1.9z" fill="#FF0000" fill-opacity="0.42"/><path d="M178.6 298.7h1.9v1.9h-1.9zm4.8 -27.9h1.9v1.9h-1.9zm-2.0 8.2h1.9v1.9h-1.9zm-3.3 4.7h1.9v1.9h-1.9zm1.2 -8.2h1.9v1.9h-1.9zm2.6 -12.1h1.9v1.9h-1.9zm0.9 20.3h1.9v1.9h-1.9zm1.0 -9.8h1.9v1.9h-1.9zm-1.4 21.2h1.9v1.9h-1.9zm-2.7 -33.6h1.9v1.9h-1.9zm3.2 33.1h1.9v1.9h-1.9zm-4.0 -31.6h1.9v1.9h-1.9zm0.9 31.4h1.9v1.9h-1.9zm2.6 -4.5h1.9v1.9h-1.9zm-3.2 -14.9h1.9v1.9h-1.9zm3.5 23.3h1.9v1.9h-1.9zm-0.1 -34.4h1.9v1.9h-1.9zm-5.1 19.8h1.9v1.9h-1.9zm5.7 22.9h1.9v1.9h-1.9zm-5.2 -9.5h1.9v1.9h-1.9zm5.8 -35.8h1.9v1.9h-1.9zm-5.4 24.2h1.9v1.9h-1.9zm2.8 -6.9h1.9v1.9h-1.9zm-3.6 -11.5h1.9v1.9h-1.9zm3.5 13.0h1.9v1.9h-1.9zm-3.8 -7.5h1.9v1.9h-1.9zm5.2 22.9h1.9v1.9h-1.9zm-2.1 -23.0h1.9v1.9h-1.9zm0.5 5.3h1.9v1.9h-1.9zm3.0 16.2h1.9v1.9h-1.9zm-5.8 -4.3h1.9v1.9h-1.9zm0.0 3.7h1.9v1.9h-1.9zm2.1 -14.5h1.9v1.9h-1.9zm1.9 -12.8h1.9v1.9h-1.9zm-2.4 27.2h1.9v1.9h-1.9zm3.3 -7.6h1.9v1.9h-1.9zm0.0 6.7h1.9v1.9h-1.9zm-0.5 -31.3h1.9v1.9h-1.9zm-3.1 1.8h1.9v1.9h-1.9zm1.1 10.1h1.9v1.9h-1.9zm3.3 30.1h1.9v1.9h-1.9zm-3.5 -13.6h1.9v1.9h-1.9zm0.5 11.2h1.9v1.9h-1.9zm2.9 -31.6h1.9v1.9h-1.9zm-4.1 9.6h1.9v1.9h-1.9zm0.4 5.3h1.9v1.9h-1.9zm0.6 0.6h1.9v1.9h-1.9zm-2.6 1.6h1.9v1.9h-1.9zm2.8 -11.5h1.9v1.9h-1.9zm-0.2 17.2h1.9v1.9h-1.9zm2.7 -22.8h1.9v1.9h-1.9zm-2.5 2.2h1.9v1.9h-1.9zm0.5 8.3h1.9v1.9h-1.9zm-2.9 6.8h1.9v1.9h-1.9zm1.0 11.0h1.9v1.9h-1.9zm-1.2 8.9h1.9v1.9h-1.9z" fill="#FF0000" fill-opacity="0.42"/><line x1="181.59" y1="261.3" x2="181.59" y2="277.2" stroke="#FF0000" stroke-width="0.7"/><line x1="181.59" y1="289.9" x2="181.59" y2="307.8" stroke="#FF0000" stroke-width="0.7"/><rect x="178.09" y="277.2" width="7" height="12.7" fill="#fff" fill-opacity="0.35" stroke="#FF0000" stroke-width="0.7"/><line x1="178.09" y1="283.5" x2="185.09" y2="283.5" stroke="#FF0000" stroke-width="1"/><path d="M188.5 298.4h1.9v1.9h-1.9zm1.7 3.1h1.9v1.9h-1.9zm2.8 -0.9h1.9v1.9h-1.9zm-4.1 -9.0h1.9v1.9h-1.9zm4.1 -5.2h1.9v1.9h-1.9zm-2.0 3.3h1.9v1.9h-1.9zm-3.0 -4.2h1.9v1.9h-1.9zm3.9 6.0h1.9v1.9h-1.9zm-0.5 3.3h1.9v1.9h-1.9zm-1.3 -10.0h1.9v1.9h-1.9zm-2.1 13.8h1.9v1.9h-1.9zm2.4 -0.9h1.9v1.9h-1.9zm-3.6 -12.0h1.9v1.9h-1.9zm4.3 12.0h1.9v1.9h-1.9zm1.5 -6.1h1.9v1.9h-1.9zm-1.5 2.5h1.9v1.9h-1.9zm-3.0 -2.8h1.9v1.9h-1.9zm2.9 6.1h1.9v1.9h-1.9zm-2.3 -8.0h1.9v1.9h-1.9zm3.9 0.4h1.9v1.9h-1.9zm0.5 -2.4h1.9v1.9h-1.9zm-5.8 14.8h1.9v1.9h-1.9z" fill="#0000FF" fill-opacity="0.42"/><path d="M191.6 297.1h1.9v1.9h-1.9zm-2.7 -4.4h1.9v1.9h-1.9zm0.7 -5.7h1.9v1.9h-1.9zm0.2 3.6h1.9v1.9h-1.9zm-1.6 3.6h1.9v1.9h-1.9zm0.5 -10.0h1.9v1.9h-1.9zm-0.5 9.1h1.9v1.9h-1.9zm5.0 -0.9h1.9v1.9h-1.9zm-3.1 0.0h1.9v1.9h-1.9zm-2.5 -2.8h1.9v1.9h-1.9zm5.3 0.2h1.9v1.9h-1.9zm-0.6 7.8h1.9v1.9h-1.9zm-2.4 -0.0h1.9v1.9h-1.9zm1.4 -5.3h1.9v1.9h-1.9zm0.7 -1.0h1.9v1.9h-1.9zm-4.7 6.2h1.9v1.9h-1.9zm4.0 -4.0h1.9v1.9h-1.9zm-0.6 6.7h1.9v1.9h-1.9zm-3.8 -3.9h1.9v1.9h-1.9zm6.2 -10.3h1.9v1.9h-1.9zm-3.3 -1.8h1.9v1.9h-1.9z" fill="#0000FF" fill-opacity="0.42"/><line x1="191.02" y1="284.6" x2="191.02" y2="291" stroke="#0000FF" stroke-width="0.7"/><line x1="191.02" y1="296.2" x2="191.02" y2="303.6" stroke="#0000FF" stroke-width="0.7"/><rect x="187.52" y="291" width="7" height="5.2" fill="#fff" fill-opacity="0.35" stroke="#0000FF" stroke-width="0.7"/><line x1="187.52" y1="293.5" x2="194.52" y2="293.5" stroke="#0000FF" stroke-width="1"/><path d="M200.3 270.0h1.9v1.9h-1.9zm1.1 -3.4h1.9v1.9h-1.9zm-3.0 14.8h1.9v1.9h-1.9zm-1.6 -1.1h1.9v1.9h-1.9zm4.8 -6.1h1.9v1.9h-1.9zm-5.4 1.5h1.9v1.9h-1.9zm1.7 -5.0h1.9v1.9h-1.9zm3.4 8.0h1.9v1.9h-1.9zm-4.3 3.7h1.9v1.9h-1.9zm3.0 1.1h1.9v1.9h-1.9zm-2.0 10.6h1.9v1.9h-1.9zm-0.1 1.0h1.9v1.9h-1.9zm4.4 0.2h1.9v1.9h-1.9zm-5.5 -26.8h1.9v1.9h-1.9zm4.3 16.2h1.9v1.9h-1.9zm0.7 -1.9h1.9v1.9h-1.9zm0.7 5.9h1.9v1.9h-1.9zm-1.0 -8.6h1.9v1.9h-1.9zm0.8 1.3h1.9v1.9h-1.9zm0.5 1.5h1.9v1.9h-1.9zm-6.2 5.2h1.9v1.9h-1.9zm1.2 -7.4h1.9v1.9h-1.9zm5.0 -6.2h1.9v1.9h-1.9zm-2.3 10.1h1.9v1.9h-1.9zm0.3 -19.3h1.9v1.9h-1.9z" fill="#FF0000" fill-opacity="0.42"/><path d="M196.1 267.6h1.9v1.9h-1.9zm3.1 4.3h1.9v1.9h-1.9zm3.6 11.5h1.9v1.9h-1.9zm-4.1 13.9h1.9v1.9h-1.9zm4.0 -20.7h1.9v1.9h-1.9zm-0.6 4.6h1.9v1.9h-1.9zm-5.6 2.2h1.9v1.9h-1.9zm3.6 16.7h1.9v1.9h-1.9zm1.7 -20.8h1.9v1.9h-1.9zm-1.6 -2.4h1.9v1.9h-1.9zm-1.5 3.4h1.9v1.9h-1.9zm-0.4 -2.0h1.9v1.9h-1.9zm-0.5 21.2h1.9v1.9h-1.9zm4.7 -12.9h1.9v1.9h-1.9zm-6.0 13.4h1.9v1.9h-1.9zm4.3 -19.6h1.9v1.9h-1.9zm-4.0 3.0h1.9v1.9h-1.9zm2.0 -9.1h1.9v1.9h-1.9zm2.4 16.3h1.9v1.9h-1.9zm1.4 -7.5h1.9v1.9h-1.9zm-2.4 1.7h1.9v1.9h-1.9zm-4.0 4.6h1.9v1.9h-1.9zm5.4 -2.3h1.9v1.9h-1.9zm-5.3 -3.1h1.9v1.9h-1.9zm1.7 25.6h1.9v1.9h-1.9z" fill="#FF0000" fill-opacity="0.42"/><line x1="200.46" y1="265.6" x2="200.46" y2="277.8" stroke="#FF0000" stroke-width="0.7"/><line x1="200.46" y1="288.8" x2="200.46" y2="305.3" stroke="#FF0000" stroke-width="0.7"/><rect x="196.96" y="277.8" width="7" height="11" fill="#fff" fill-opacity="0.35" stroke="#FF0000" stroke-width="0.7"/><line x1="196.96" y1="283.5" x2="203.96" y2="283.5" stroke="#FF0000" stroke-width="1"/><clipPath id="cp16"><rect x="206.59" y="259.2" width="6.6" height="51.8"/></clipPath><rect clip-path="url(#cp16)" x="206.59" y="257.34" width="6.6" height="54.52" fill="url(#grl)"/><path d="M207.2 292.8h1.9v1.9h-1.9zm-1.3 3.4h1.9v1.9h-1.9zm-0.1 -22.7h1.9v1.9h-1.9zm2.7 13.9h1.9v1.9h-1.9zm2.5 -6.3h1.9v1.9h-1.9zm-5.5 -13.3h1.9v1.9h-1.9zm1.5 32.4h1.9v1.9h-1.9zm3.2 -21.2h1.9v1.9h-1.9zm1.3 25.0h1.9v1.9h-1.9zm-4.6 -24.4h1.9v1.9h-1.9zm-0.6 -6.1h1.9v1.9h-1.9zm4.7 -3.4h1.9v1.9h-1.9zm-5.3 21.8h1.9v1.9h-1.9zm5.5 -33.2h1.9v1.9h-1.9zm-0.5 22.8h1.9v1.9h-1.9zm1.4 -18.5h1.9v1.9h-1.9zm-6.2 18.6h1.9v1.9h-1.9zm0.0 11.1h1.9v1.9h-1.9zm5.4 -1.3h1.9v1.9h-1.9zm-1.9 7.8h1.9v1.9h-1.9zm-1.0 -36.8h1.9v1.9h-1.9zm-1.8 31.0h1.9v1.9h-1.9zm-0.8 -19.5h1.9v1.9h-1.9zm1.4 24.0h1.9v1.9h-1.9zm-0.4 -19.6h1.9v1.9h-1.9zm-0.4 5.6h1.9v1.9h-1.9zm0.9 15.8h1.9v1.9h-1.9zm2.7 -17.2h1.9v1.9h-1.9zm-0.2 -6.5h1.9v1.9h-1.9zm-2.8 13.9h1.9v1.9h-1.9zm4.7 -7.8h1.9v1.9h-1.9zm-2.1 -19.6h1.9v1.9h-1.9zm0.1 13.4h1.9v1.9h-1.9zm-1.4 18.5h1.9v1.9h-1.9zm1.7 -22.1h1.9v1.9h-1.9zm1.4 20.1h1.9v1.9h-1.9zm-4.8 -21.2h1.9v1.9h-1.9zm0.1 11.1h1.9v1.9h-1.9zm2.8 8.9h1.9v1.9h-1.9zm0.6 -5.6h1.9v1.9h-1.9zm-1.0 -16.9h1.9v1.9h-1.9zm1.2 25.7h1.9v1.9h-1.9zm-4.3 -18.8h1.9v1.9h-1.9zm4.7 0.4h1.9v1.9h-1.9zm-0.8 -7.7h1.9v1.9h-1.9zm2.1 24.7h1.9v1.9h-1.9zm-0.6 2.6h1.9v1.9h-1.9zm-5.4 -18.5h1.9v1.9h-1.9zm0.5 -1.4h1.9v1.9h-1.9zm2.1 18.9h1.9v1.9h-1.9zm0.9 -23.3h1.9v1.9h-1.9zm-0.8 28.3h1.9v1.9h-1.9zm0.8 -26.8h1.9v1.9h-1.9zm-2.5 16.8h1.9v1.9h-1.9zm1.4 -6.3h1.9v1.9h-1.9zm2.2 -24.4h1.9v1.9h-1.9z" fill="#FF0000" fill-opacity="0.42"/><path d="M212.1 267.8h1.9v1.9h-1.9zm-0.4 9.3h1.9v1.9h-1.9zm-3.8 3.7h1.9v1.9h-1.9zm1.2 0.1h1.9v1.9h-1.9zm2.0 -1.5h1.9v1.9h-1.9zm-1.9 16.8h1.9v1.9h-1.9zm-0.4 -18.2h1.9v1.9h-1.9zm-2.9 4.0h1.9v1.9h-1.9zm6.4 -7.1h1.9v1.9h-1.9zm-6.1 -10.1h1.9v1.9h-1.9zm0.4 10.8h1.9v1.9h-1.9zm0.0 -1.1h1.9v1.9h-1.9zm3.7 19.5h1.9v1.9h-1.9zm0.8 -8.6h1.9v1.9h-1.9zm1.2 1.4h1.9v1.9h-1.9zm-0.7 6.4h1.9v1.9h-1.9zm0.5 6.0h1.9v1.9h-1.9zm-5.9 -3.9h1.9v1.9h-1.9zm2.5 -28.7h1.9v1.9h-1.9zm-2.6 24.7h1.9v1.9h-1.9zm5.2 2.3h1.9v1.9h-1.9zm0.1 -20.7h1.9v1.9h-1.9zm-2.8 -2.1h1.9v1.9h-1.9zm-0.2 16.3h1.9v1.9h-1.9zm2.7 -0.8h1.9v1.9h-1.9zm-3.8 1.7h1.9v1.9h-1.9zm0.3 -14.4h1.9v1.9h-1.9zm0.4 32.9h1.9v1.9h-1.9zm-1.6 -27.3h1.9v1.9h-1.9zm0.2 19.2h1.9v1.9h-1.9zm4.7 -4.1h1.9v1.9h-1.9zm-3.5 -26.8h1.9v1.9h-1.9zm2.7 12.5h1.9v1.9h-1.9zm-1.2 5.5h1.9v1.9h-1.9zm0.0 -10.8h1.9v1.9h-1.9zm-1.8 17.5h1.9v1.9h-1.9zm-1.4 -10.0h1.9v1.9h-1.9zm0.6 3.2h1.9v1.9h-1.9zm0.8 -17.3h1.9v1.9h-1.9zm4.6 14.0h1.9v1.9h-1.9zm-3.7 -1.0h1.9v1.9h-1.9zm0.4 -6.6h1.9v1.9h-1.9zm1.5 14.4h1.9v1.9h-1.9zm-0.6 -6.0h1.9v1.9h-1.9zm0.5 15.1h1.9v1.9h-1.9zm-2.3 -7.5h1.9v1.9h-1.9zm1.1 -8.5h1.9v1.9h-1.9zm2.7 2.8h1.9v1.9h-1.9zm-3.2 -10.8h1.9v1.9h-1.9zm2.4 18.9h1.9v1.9h-1.9zm-1.7 16.0h1.9v1.9h-1.9zm-2.6 -20.6h1.9v1.9h-1.9zm3.1 -0.2h1.9v1.9h-1.9zm-0.5 -24.3h1.9v1.9h-1.9zm-2.0 37.7h1.9v1.9h-1.9zm0.5 7.9h1.9v1.9h-1.9z" fill="#FF0000" fill-opacity="0.42"/><line x1="209.89" y1="259.2" x2="209.89" y2="278.2" stroke="#FF0000" stroke-width="0.7"/><line x1="209.89" y1="291" x2="209.89" y2="310.2" stroke="#FF0000" stroke-width="0.7"/><rect x="206.39" y="278.2" width="7" height="12.8" fill="#fff" fill-opacity="0.35" stroke="#FF0000" stroke-width="0.7"/><line x1="206.39" y1="284.6" x2="213.39" y2="284.6" stroke="#FF0000" stroke-width="1"/><path d="M218.9 293.5h1.9v1.9h-1.9zm-0.2 32.3h1.9v1.9h-1.9zm-3.1 -21.8h1.9v1.9h-1.9zm4.9 20.5h1.9v1.9h-1.9zm-5.4 -7.2h1.9v1.9h-1.9zm-0.1 0.6h1.9v1.9h-1.9zm2.0 6.7h1.9v1.9h-1.9zm4.4 -7.4h1.9v1.9h-1.9zm-0.4 19.3h1.9v1.9h-1.9zm-4.6 -45.8h1.9v1.9h-1.9zm4.7 14.2h1.9v1.9h-1.9zm-3.0 -17.4h1.9v1.9h-1.9zm-1.4 52.9h1.9v1.9h-1.9z" fill="#0000FF" fill-opacity="0.42"/><line x1="219.32" y1="287.8" x2="219.32" y2="301.5" stroke="#0000FF" stroke-width="0.7"/><line x1="219.32" y1="329" x2="219.32" y2="341.7" stroke="#0000FF" stroke-width="0.7"/><rect x="215.82" y="301.5" width="7" height="27.5" fill="#fff" fill-opacity="0.35" stroke="#0000FF" stroke-width="0.7"/><line x1="215.82" y1="317.4" x2="222.82" y2="317.4" stroke="#0000FF" stroke-width="1"/><clipPath id="cp18"><rect x="225.45" y="274" width="6.6" height="24.3"/></clipPath><rect clip-path="url(#cp18)" x="225.45" y="263.97" width="6.6" height="40.46" fill="url(#grl)"/><path d="M229.9 283.8h1.9v1.9h-1.9zm-2.0 -2.5h1.9v1.9h-1.9zm3.3 14.7h1.9v1.9h-1.9zm-6.2 -13.0h1.9v1.9h-1.9zm0.8 1.6h1.9v1.9h-1.9zm5.4 -10.5h1.9v1.9h-1.9zm-1.4 12.7h1.9v1.9h-1.9zm-4.1 -7.4h1.9v1.9h-1.9zm4.0 12.6h1.9v1.9h-1.9zm-1.7 -11.5h1.9v1.9h-1.9zm-0.1 12.5h1.9v1.9h-1.9zm0.6 -14.9h1.9v1.9h-1.9zm-3.3 7.5h1.9v1.9h-1.9zm4.3 4.9h1.9v1.9h-1.9zm-4.9 -10.2h1.9v1.9h-1.9zm4.3 1.3h1.9v1.9h-1.9zm-2.9 4.4h1.9v1.9h-1.9zm2.0 2.4h1.9v1.9h-1.9zm-0.8 -9.7h1.9v1.9h-1.9zm1.0 6.6h1.9v1.9h-1.9zm-0.0 5.7h1.9v1.9h-1.9zm2.3 -4.8h1.9v1.9h-1.9zm-0.9 5.8h1.9v1.9h-1.9zm-3.0 -4.4h1.9v1.9h-1.9zm-2.1 1.3h1.9v1.9h-1.9zm1.8 -7.9h1.9v1.9h-1.9zm3.7 14.3h1.9v1.9h-1.9zm-2.2 -4.9h1.9v1.9h-1.9zm-3.0 -2.7h1.9v1.9h-1.9zm4.5 5.5h1.9v1.9h-1.9zm-0.8 -13.4h1.9v1.9h-1.9zm-2.7 1.4h1.9v1.9h-1.9zm1.0 0.3h1.9v1.9h-1.9zm2.6 4.6h1.9v1.9h-1.9zm1.1 -6.3h1.9v1.9h-1.9zm-4.9 16.0h1.9v1.9h-1.9zm1.2 -17.7h1.9v1.9h-1.9zm-0.1 14.6h1.9v1.9h-1.9zm3.9 1.0h1.9v1.9h-1.9zm-2.1 -11.9h1.9v1.9h-1.9zm0.1 3.3h1.9v1.9h-1.9zm2.2 -6.9h1.9v1.9h-1.9zm-4.8 12.6h1.9v1.9h-1.9zm3.0 -8.9h1.9v1.9h-1.9zm-2.6 -4.2h1.9v1.9h-1.9zm3.1 9.9h1.9v1.9h-1.9zm-1.8 3.6h1.9v1.9h-1.9zm-3.1 -17.4h1.9v1.9h-1.9zm0.3 5.0h1.9v1.9h-1.9zm3.6 1.0h1.9v1.9h-1.9zm-3.8 14.4h1.9v1.9h-1.9zm5.0 -1.3h1.9v1.9h-1.9zm1.2 -18.6h1.9v1.9h-1.9zm-5.8 6.2h1.9v1.9h-1.9zm3.7 -2.4h1.9v1.9h-1.9zm-3.3 -4.1h1.9v1.9h-1.9z" fill="#FF0000" fill-opacity="0.42"/><path d="M226.0 280.1h1.9v1.9h-1.9zm2.3 5.0h1.9v1.9h-1.9zm-0.5 7.5h1.9v1.9h-1.9zm-2.9 -7.5h1.9v1.9h-1.9zm0.4 -0.8h1.9v1.9h-1.9zm3.8 -10.9h1.9v1.9h-1.9zm-3.9 10.6h1.9v1.9h-1.9zm2.1 -5.0h1.9v1.9h-1.9zm-0.2 1.1h1.9v1.9h-1.9zm-0.1 -3.7h1.9v1.9h-1.9zm2.3 7.2h1.9v1.9h-1.9zm-0.3 3.2h1.9v1.9h-1.9zm1.8 -3.8h1.9v1.9h-1.9zm-4.9 -2.8h1.9v1.9h-1.9zm-1.4 10.8h1.9v1.9h-1.9zm0.4 0.5h1.9v1.9h-1.9zm3.1 -4.9h1.9v1.9h-1.9zm-0.4 -1.3h1.9v1.9h-1.9zm3.6 -5.7h1.9v1.9h-1.9zm-5.0 13.4h1.9v1.9h-1.9zm0.4 -15.6h1.9v1.9h-1.9zm0.9 2.1h1.9v1.9h-1.9zm3.7 8.5h1.9v1.9h-1.9zm-3.1 -14.3h1.9v1.9h-1.9zm-2.6 12.5h1.9v1.9h-1.9zm-0.5 8.1h1.9v1.9h-1.9zm0.7 -15.9h1.9v1.9h-1.9zm0.8 9.3h1.9v1.9h-1.9zm2.0 0.4h1.9v1.9h-1.9zm-2.0 -1.3h1.9v1.9h-1.9zm4.4 -4.8h1.9v1.9h-1.9zm-3.2 -5.0h1.9v1.9h-1.9zm-2.4 10.0h1.9v1.9h-1.9zm5.3 1.4h1.9v1.9h-1.9zm-0.4 -11.0h1.9v1.9h-1.9zm-4.7 2.0h1.9v1.9h-1.9zm1.7 9.1h1.9v1.9h-1.9zm3.3 4.7h1.9v1.9h-1.9zm-3.5 -12.7h1.9v1.9h-1.9zm-2.0 10.8h1.9v1.9h-1.9zm3.7 -11.2h1.9v1.9h-1.9zm2.3 2.1h1.9v1.9h-1.9zm-6.0 -8.7h1.9v1.9h-1.9zm0.1 -0.1h1.9v1.9h-1.9zm-0.5 8.8h1.9v1.9h-1.9zm0.4 12.3h1.9v1.9h-1.9zm3.0 -9.1h1.9v1.9h-1.9zm-2.8 7.9h1.9v1.9h-1.9zm5.7 -11.3h1.9v1.9h-1.9zm-3.4 6.9h1.9v1.9h-1.9zm0.2 5.2h1.9v1.9h-1.9zm-3.2 -13.0h1.9v1.9h-1.9zm3.7 10.3h1.9v1.9h-1.9zm0.7 -14.8h1.9v1.9h-1.9zm-0.9 -2.3h1.9v1.9h-1.9zm-1.5 22.5h1.9v1.9h-1.9z" fill="#FF0000" fill-opacity="0.42"/><line x1="228.75" y1="274" x2="228.75" y2="279.3" stroke="#FF0000" stroke-width="0.7"/><line x1="228.75" y1="288.8" x2="228.75" y2="298.3" stroke="#FF0000" stroke-width="0.7"/><rect x="225.25" y="279.3" width="7" height="9.5" fill="#fff" fill-opacity="0.35" stroke="#FF0000" stroke-width="0.7"/><line x1="225.25" y1="284.2" x2="232.25" y2="284.2" stroke="#FF0000" stroke-width="1"/><path d="M235.0 303.5h1.9v1.9h-1.9zm3.9 -0.7h1.9v1.9h-1.9zm-2.3 -0.9h1.9v1.9h-1.9zm-0.8 2.3h1.9v1.9h-1.9zm1.6 -2.4h1.9v1.9h-1.9zm0.9 -4.9h1.9v1.9h-1.9zm-3.1 10.7h1.9v1.9h-1.9z" fill="#0000FF" fill-opacity="0.42"/><line x1="238.19" y1="297.3" x2="238.19" y2="302.1" stroke="#0000FF" stroke-width="0.7"/><line x1="238.19" y1="308.9" x2="238.19" y2="309" stroke="#0000FF" stroke-width="0.7"/><rect x="234.69" y="302.1" width="7" height="6.8" fill="#fff" fill-opacity="0.35" stroke="#0000FF" stroke-width="0.7"/><line x1="234.69" y1="304" x2="241.69" y2="304" stroke="#0000FF" stroke-width="1"/><clipPath id="cp20"><rect x="244.32" y="250.6" width="6.6" height="53.4"/></clipPath><rect clip-path="url(#cp20)" x="244.32" y="251.87" width="6.6" height="53.67" fill="url(#grh)"/><path d="M249.6 255.6h1.9v1.9h-1.9zm-5.0 22.9h1.9v1.9h-1.9zm3.1 -1.1h1.9v1.9h-1.9zm-3.3 -1.8h1.9v1.9h-1.9zm3.4 8.4h1.9v1.9h-1.9zm-0.1 -9.8h1.9v1.9h-1.9zm0.7 14.5h1.9v1.9h-1.9zm-0.9 -1.9h1.9v1.9h-1.9zm-4.0 -9.6h1.9v1.9h-1.9zm5.4 1.2h1.9v1.9h-1.9zm-4.5 -0.6h1.9v1.9h-1.9zm3.8 -19.5h1.9v1.9h-1.9zm1.2 23.9h1.9v1.9h-1.9zm-1.0 4.9h1.9v1.9h-1.9zm0.2 -11.2h1.9v1.9h-1.9zm-3.0 -1.4h1.9v1.9h-1.9zm2.8 -13.6h1.9v1.9h-1.9zm-2.7 18.7h1.9v1.9h-1.9zm2.7 16.6h1.9v1.9h-1.9zm-2.0 -31.6h1.9v1.9h-1.9zm-2.8 6.3h1.9v1.9h-1.9zm3.2 19.8h1.9v1.9h-1.9zm0.4 -23.6h1.9v1.9h-1.9zm-2.6 9.7h1.9v1.9h-1.9zm5.3 -23.3h1.9v1.9h-1.9zm-5.5 20.1h1.9v1.9h-1.9zm4.3 -0.1h1.9v1.9h-1.9zm-3.5 22.6h1.9v1.9h-1.9zm1.1 -10.2h1.9v1.9h-1.9zm-0.8 12.6h1.9v1.9h-1.9zm3.1 -44.4h1.9v1.9h-1.9zm-1.9 16.5h1.9v1.9h-1.9zm-2.9 -3.9h1.9v1.9h-1.9zm5.7 14.6h1.9v1.9h-1.9zm-5.3 -12.2h1.9v1.9h-1.9zm1.9 10.2h1.9v1.9h-1.9zm-2.8 2.2h1.9v1.9h-1.9zm1.3 -18.0h1.9v1.9h-1.9zm1.6 34.2h1.9v1.9h-1.9zm-1.5 0.1h1.9v1.9h-1.9zm-0.3 -13.4h1.9v1.9h-1.9zm0.4 -4.1h1.9v1.9h-1.9zm4.2 12.0h1.9v1.9h-1.9zm-2.1 -0.9h1.9v1.9h-1.9zm-3.2 -9.4h1.9v1.9h-1.9zm-0.5 -6.3h1.9v1.9h-1.9zm0.1 9.0h1.9v1.9h-1.9zm3.3 -6.4h1.9v1.9h-1.9zm1.6 14.0h1.9v1.9h-1.9zm-3.3 -4.6h1.9v1.9h-1.9zm3.0 -24.4h1.9v1.9h-1.9zm-1.0 -9.3h1.9v1.9h-1.9zm-1.6 20.0h1.9v1.9h-1.9zm0.6 2.9h1.9v1.9h-1.9zm-2.1 1.6h1.9v1.9h-1.9zm2.8 -28.6h1.9v1.9h-1.9z" fill="#FF0000" fill-opacity="0.42"/><path d="M246.1 264.4h1.9v1.9h-1.9zm1.4 10.2h1.9v1.9h-1.9zm-0.7 9.9h1.9v1.9h-1.9zm-3.2 -4.1h1.9v1.9h-1.9zm2.8 8.6h1.9v1.9h-1.9zm-1.0 -11.6h1.9v1.9h-1.9zm-1.3 -18.0h1.9v1.9h-1.9zm-0.3 36.2h1.9v1.9h-1.9zm5.3 -23.3h1.9v1.9h-1.9zm-1.0 10.0h1.9v1.9h-1.9zm1.7 -6.2h1.9v1.9h-1.9zm-0.7 1.1h1.9v1.9h-1.9zm-1.4 16.3h1.9v1.9h-1.9zm-1.4 -3.5h1.9v1.9h-1.9zm3.1 -4.0h1.9v1.9h-1.9zm-1.9 -4.3h1.9v1.9h-1.9zm0.3 -10.4h1.9v1.9h-1.9zm-0.8 15.2h1.9v1.9h-1.9zm1.6 -2.1h1.9v1.9h-1.9zm-5.2 -3.3h1.9v1.9h-1.9zm4.0 0.9h1.9v1.9h-1.9zm-2.6 1.9h1.9v1.9h-1.9zm0.4 -5.0h1.9v1.9h-1.9zm3.1 17.4h1.9v1.9h-1.9zm-2.6 -23.3h1.9v1.9h-1.9zm0.2 11.4h1.9v1.9h-1.9zm-2.3 -12.0h1.9v1.9h-1.9zm2.2 29.5h1.9v1.9h-1.9zm1.8 -13.1h1.9v1.9h-1.9zm-3.9 -5.0h1.9v1.9h-1.9zm0.1 5.8h1.9v1.9h-1.9zm0.5 -21.5h1.9v1.9h-1.9zm-0.8 2.9h1.9v1.9h-1.9zm3.7 10.3h1.9v1.9h-1.9zm-1.5 2.6h1.9v1.9h-1.9zm3.8 -10.2h1.9v1.9h-1.9zm-5.9 15.8h1.9v1.9h-1.9zm1.6 -12.5h1.9v1.9h-1.9zm-0.1 7.7h1.9v1.9h-1.9zm-1.5 6.9h1.9v1.9h-1.9zm3.9 -15.6h1.9v1.9h-1.9zm1.6 10.7h1.9v1.9h-1.9zm-1.7 -14.6h1.9v1.9h-1.9zm-3.8 5.9h1.9v1.9h-1.9zm6.2 5.8h1.9v1.9h-1.9zm-6.1 -12.3h1.9v1.9h-1.9zm5.8 -1.9h1.9v1.9h-1.9zm-1.0 -3.2h1.9v1.9h-1.9zm-4.5 16.7h1.9v1.9h-1.9zm5.4 0.0h1.9v1.9h-1.9zm-2.1 -14.6h1.9v1.9h-1.9zm-2.8 18.0h1.9v1.9h-1.9zm0.1 -9.3h1.9v1.9h-1.9zm3.3 -4.9h1.9v1.9h-1.9zm-1.3 -6.3h1.9v1.9h-1.9zm2.4 36.5h1.9v1.9h-1.9z" fill="#FF0000" fill-opacity="0.42"/><line x1="247.62" y1="252.8" x2="247.62" y2="271.7" stroke="#FF0000" stroke-width="0.7"/><line x1="247.62" y1="284.3" x2="247.62" y2="303.2" stroke="#FF0000" stroke-width="0.7"/><rect x="244.12" y="271.7" width="7" height="12.6" fill="#fff" fill-opacity="0.35" stroke="#FF0000" stroke-width="0.7"/><line x1="244.12" y1="278.7" x2="251.12" y2="278.7" stroke="#FF0000" stroke-width="1"/><path d="M255.7 275.6h1.9v1.9h-1.9zm-1.4 5.4h1.9v1.9h-1.9zm3.3 2.2h1.9v1.9h-1.9zm-2.8 4.6h1.9v1.9h-1.9zm2.9 15.2h1.9v1.9h-1.9zm-3.3 -8.9h1.9v1.9h-1.9zm3.8 10.7h1.9v1.9h-1.9zm-0.0 -27.7h1.9v1.9h-1.9zm-3.2 23.1h1.9v1.9h-1.9zm4.1 -14.3h1.9v1.9h-1.9zm-2.0 15.3h1.9v1.9h-1.9zm-2.3 -8.8h1.9v1.9h-1.9zm4.3 12.2h1.9v1.9h-1.9zm-0.7 -26.5h1.9v1.9h-1.9zm-2.8 16.3h1.9v1.9h-1.9zm-0.6 -8.9h1.9v1.9h-1.9zm2.8 -2.5h1.9v1.9h-1.9zm-4.6 15.8h1.9v1.9h-1.9zm0.8 -17.5h1.9v1.9h-1.9zm4.3 11.2h1.9v1.9h-1.9zm-2.9 -13.8h1.9v1.9h-1.9zm-0.5 8.7h1.9v1.9h-1.9zm-1.2 -13.3h1.9v1.9h-1.9zm1.1 47.0h1.9v1.9h-1.9z" fill="#0000FF" fill-opacity="0.42"/><path d="M259.5 275.7h1.9v1.9h-1.9zm-3.5 20.3h1.9v1.9h-1.9zm-1.3 10.2h1.9v1.9h-1.9zm3.4 -29.7h1.9v1.9h-1.9zm-0.4 21.4h1.9v1.9h-1.9zm-2.7 -5.5h1.9v1.9h-1.9zm1.3 5.6h1.9v1.9h-1.9zm1.8 6.2h1.9v1.9h-1.9zm-4.7 -12.3h1.9v1.9h-1.9zm4.8 1.2h1.9v1.9h-1.9zm-1.4 -12.5h1.9v1.9h-1.9zm-1.7 10.1h1.9v1.9h-1.9zm4.0 5.4h1.9v1.9h-1.9zm-2.1 -17.0h1.9v1.9h-1.9zm-2.7 14.1h1.9v1.9h-1.9zm-0.7 11.5h1.9v1.9h-1.9zm-0.1 -17.8h1.9v1.9h-1.9zm2.3 12.3h1.9v1.9h-1.9zm-0.6 -1.2h1.9v1.9h-1.9zm3.0 2.4h1.9v1.9h-1.9zm-5.0 -17.9h1.9v1.9h-1.9zm3.3 16.0h1.9v1.9h-1.9zm-1.8 9.6h1.9v1.9h-1.9zm-0.3 32.9h1.9v1.9h-1.9z" fill="#0000FF" fill-opacity="0.42"/><line x1="257.05" y1="274.5" x2="257.05" y2="282.9" stroke="#0000FF" stroke-width="0.7"/><line x1="257.05" y1="297.8" x2="257.05" y2="309.6" stroke="#0000FF" stroke-width="0.7"/><rect x="253.55" y="282.9" width="7" height="14.9" fill="#fff" fill-opacity="0.35" stroke="#0000FF" stroke-width="0.7"/><line x1="253.55" y1="288.5" x2="260.55" y2="288.5" stroke="#0000FF" stroke-width="1"/><path d="M263.0 272.6h1.9v1.9h-1.9zm4.9 14.1h1.9v1.9h-1.9zm-5.8 -20.8h1.9v1.9h-1.9zm1.1 24.8h1.9v1.9h-1.9zm5.6 -6.1h1.9v1.9h-1.9zm-2.4 -13.1h1.9v1.9h-1.9zm2.5 10.5h1.9v1.9h-1.9zm-0.3 -12.1h1.9v1.9h-1.9zm-4.5 -2.7h1.9v1.9h-1.9zm3.7 9.5h1.9v1.9h-1.9zm-5.4 -1.7h1.9v1.9h-1.9zm4.9 9.8h1.9v1.9h-1.9zm-2.7 -9.5h1.9v1.9h-1.9zm2.5 9.8h1.9v1.9h-1.9zm0.4 -6.5h1.9v1.9h-1.9zm-0.2 12.4h1.9v1.9h-1.9zm-0.1 -15.3h1.9v1.9h-1.9zm-5.2 7.6h1.9v1.9h-1.9zm5.4 -16.7h1.9v1.9h-1.9zm0.5 23.2h1.9v1.9h-1.9zm0.7 -24.2h1.9v1.9h-1.9zm-6.1 12.1h1.9v1.9h-1.9zm1.9 13.8h1.9v1.9h-1.9zm1.8 -7.6h1.9v1.9h-1.9zm-0.9 -2.8h1.9v1.9h-1.9zm2.0 7.2h1.9v1.9h-1.9zm-4.7 -1.9h1.9v1.9h-1.9zm3.6 -14.6h1.9v1.9h-1.9zm-0.6 5.0h1.9v1.9h-1.9zm-3.0 -2.1h1.9v1.9h-1.9zm3.3 0.2h1.9v1.9h-1.9zm2.4 -1.2h1.9v1.9h-1.9zm-4.8 -0.2h1.9v1.9h-1.9zm-0.9 -3.8h1.9v1.9h-1.9zm1.7 10.7h1.9v1.9h-1.9zm-2.2 -11.0h1.9v1.9h-1.9zm3.8 4.0h1.9v1.9h-1.9zm-2.0 6.6h1.9v1.9h-1.9zm4.8 -4.4h1.9v1.9h-1.9zm-6.6 -8.3h1.9v1.9h-1.9zm3.1 12.3h1.9v1.9h-1.9zm3.0 1.1h1.9v1.9h-1.9zm0.1 -14.1h1.9v1.9h-1.9zm0.3 24.1h1.9v1.9h-1.9zm-0.3 -24.0h1.9v1.9h-1.9zm-3.0 13.5h1.9v1.9h-1.9zm-3.2 -7.1h1.9v1.9h-1.9zm2.0 12.1h1.9v1.9h-1.9zm-1.3 -18.4h1.9v1.9h-1.9zm2.1 26.9h1.9v1.9h-1.9z" fill="#FF0000" fill-opacity="0.42"/><path d="M264.3 263.7h1.9v1.9h-1.9zm0.2 0.8h1.9v1.9h-1.9zm-0.9 26.0h1.9v1.9h-1.9zm0.1 -4.8h1.9v1.9h-1.9zm5.1 -7.2h1.9v1.9h-1.9zm-3.3 10.2h1.9v1.9h-1.9zm0.9 -8.4h1.9v1.9h-1.9zm-4.0 -1.8h1.9v1.9h-1.9zm3.4 -8.3h1.9v1.9h-1.9zm-1.2 12.0h1.9v1.9h-1.9zm3.2 -2.7h1.9v1.9h-1.9zm-4.9 2.1h1.9v1.9h-1.9zm4.4 -4.3h1.9v1.9h-1.9zm-1.4 14.8h1.9v1.9h-1.9zm2.8 -1.5h1.9v1.9h-1.9zm-4.4 -18.6h1.9v1.9h-1.9zm2.7 16.7h1.9v1.9h-1.9zm-2.5 -7.0h1.9v1.9h-1.9zm2.5 4.5h1.9v1.9h-1.9zm-2.0 -10.2h1.9v1.9h-1.9zm3.0 3.4h1.9v1.9h-1.9zm-2.5 -13.1h1.9v1.9h-1.9zm-1.0 21.7h1.9v1.9h-1.9zm2.4 -7.3h1.9v1.9h-1.9zm-4.3 -16.1h1.9v1.9h-1.9zm1.6 10.6h1.9v1.9h-1.9zm2.9 2.6h1.9v1.9h-1.9zm-1.1 -4.0h1.9v1.9h-1.9zm-2.0 6.2h1.9v1.9h-1.9zm4.1 3.4h1.9v1.9h-1.9zm-3.4 -0.2h1.9v1.9h-1.9zm-2.0 -8.7h1.9v1.9h-1.9zm5.6 -1.3h1.9v1.9h-1.9zm0.0 -3.0h1.9v1.9h-1.9zm-4.2 4.5h1.9v1.9h-1.9zm4.7 -2.0h1.9v1.9h-1.9zm-4.0 -4.3h1.9v1.9h-1.9zm-1.9 9.9h1.9v1.9h-1.9zm0.6 -5.3h1.9v1.9h-1.9zm-0.6 10.3h1.9v1.9h-1.9zm5.6 -0.3h1.9v1.9h-1.9zm-6.4 1.3h1.9v1.9h-1.9zm6.3 -10.3h1.9v1.9h-1.9zm-3.5 8.2h1.9v1.9h-1.9zm3.0 5.8h1.9v1.9h-1.9zm-1.2 -8.4h1.9v1.9h-1.9zm-4.7 -14.3h1.9v1.9h-1.9zm4.3 6.3h1.9v1.9h-1.9zm-2.1 -7.2h1.9v1.9h-1.9z" fill="#FF0000" fill-opacity="0.42"/><line x1="266.49" y1="264.6" x2="266.49" y2="275.3" stroke="#FF0000" stroke-width="0.7"/><line x1="266.49" y1="284.3" x2="266.49" y2="295.6" stroke="#FF0000" stroke-width="0.7"/><rect x="262.99" y="275.3" width="7" height="9" fill="#fff" fill-opacity="0.35" stroke="#FF0000" stroke-width="0.7"/><line x1="262.99" y1="280.1" x2="269.99" y2="280.1" stroke="#FF0000" stroke-width="1"/><clipPath id="cp23"><rect x="272.62" y="252" width="6.6" height="54.8"/></clipPath><rect clip-path="url(#cp23)" x="272.62" y="252.25" width="6.6" height="54.09" fill="url(#grh)"/><path d="M277.5 275.8h1.9v1.9h-1.9zm-0.1 -18.2h1.9v1.9h-1.9zm-4.5 23.1h1.9v1.9h-1.9zm2.9 -9.1h1.9v1.9h-1.9zm-3.4 2.5h1.9v1.9h-1.9zm0.8 -3.4h1.9v1.9h-1.9zm-1.5 30.2h1.9v1.9h-1.9zm0.3 -25.5h1.9v1.9h-1.9zm1.1 3.9h1.9v1.9h-1.9zm4.2 -0.5h1.9v1.9h-1.9zm-1.3 18.2h1.9v1.9h-1.9zm-1.7 -34.8h1.9v1.9h-1.9zm-0.9 18.4h1.9v1.9h-1.9zm0.7 14.9h1.9v1.9h-1.9zm2.1 -33.1h1.9v1.9h-1.9zm0.6 0.7h1.9v1.9h-1.9zm-2.2 28.1h1.9v1.9h-1.9zm-0.5 -18.6h1.9v1.9h-1.9zm4.1 5.8h1.9v1.9h-1.9zm-3.9 6.2h1.9v1.9h-1.9zm-1.1 -6.3h1.9v1.9h-1.9zm2.5 18.3h1.9v1.9h-1.9zm-0.2 -14.5h1.9v1.9h-1.9zm-0.8 -1.3h1.9v1.9h-1.9zm-0.2 -24.9h1.9v1.9h-1.9zm-1.5 19.5h1.9v1.9h-1.9zm4.0 28.3h1.9v1.9h-1.9zm0.1 -25.9h1.9v1.9h-1.9zm-2.8 -1.7h1.9v1.9h-1.9zm-0.4 -3.8h1.9v1.9h-1.9zm3.8 14.4h1.9v1.9h-1.9zm-5.6 -6.8h1.9v1.9h-1.9zm1.1 14.7h1.9v1.9h-1.9zm3.5 -25.1h1.9v1.9h-1.9zm1.1 16.2h1.9v1.9h-1.9zm-2.1 2.8h1.9v1.9h-1.9zm-0.7 4.0h1.9v1.9h-1.9zm-0.3 -31.7h1.9v1.9h-1.9zm-1.6 20.8h1.9v1.9h-1.9zm-0.6 9.7h1.9v1.9h-1.9zm5.2 -20.7h1.9v1.9h-1.9zm-5.8 18.9h1.9v1.9h-1.9zm-0.2 -30.9h1.9v1.9h-1.9zm2.3 28.5h1.9v1.9h-1.9zm-1.2 -21.0h1.9v1.9h-1.9zm0.2 11.8h1.9v1.9h-1.9zm-0.0 -9.3h1.9v1.9h-1.9zm1.5 5.5h1.9v1.9h-1.9zm-2.2 20.9h1.9v1.9h-1.9zm5.1 -3.9h1.9v1.9h-1.9zm-2.5 -16.9h1.9v1.9h-1.9zm-2.6 -7.1h1.9v1.9h-1.9zm-0.5 -8.1h1.9v1.9h-1.9zm2.7 32.4h1.9v1.9h-1.9zm-0.7 -20.3h1.9v1.9h-1.9zm-0.0 -19.2h1.9v1.9h-1.9z" fill="#FF0000" fill-opacity="0.42"/><path d="M275.1 277.0h1.9v1.9h-1.9zm1.3 2.9h1.9v1.9h-1.9zm-3.8 -1.2h1.9v1.9h-1.9zm4.6 6.3h1.9v1.9h-1.9zm-2.6 -30.5h1.9v1.9h-1.9zm-2.8 13.3h1.9v1.9h-1.9zm3.8 20.1h1.9v1.9h-1.9zm-3.8 -29.7h1.9v1.9h-1.9zm2.3 22.7h1.9v1.9h-1.9zm-0.1 -1.2h1.9v1.9h-1.9zm0.4 -2.8h1.9v1.9h-1.9zm2.7 -4.3h1.9v1.9h-1.9zm-3.0 11.7h1.9v1.9h-1.9zm0.8 -9.6h1.9v1.9h-1.9zm-2.2 3.7h1.9v1.9h-1.9zm1.3 7.6h1.9v1.9h-1.9zm2.8 -10.6h1.9v1.9h-1.9zm-2.3 -2.2h1.9v1.9h-1.9zm1.6 9.0h1.9v1.9h-1.9zm-0.6 -17.9h1.9v1.9h-1.9zm-0.9 23.5h1.9v1.9h-1.9zm-2.4 -13.2h1.9v1.9h-1.9zm5.1 14.5h1.9v1.9h-1.9zm-2.0 -10.8h1.9v1.9h-1.9zm1.2 -14.1h1.9v1.9h-1.9zm1.1 16.6h1.9v1.9h-1.9zm-5.1 -11.5h1.9v1.9h-1.9zm2.6 29.4h1.9v1.9h-1.9zm2.4 -16.6h1.9v1.9h-1.9zm-2.7 -18.8h1.9v1.9h-1.9zm1.4 4.2h1.9v1.9h-1.9zm-3.7 8.1h1.9v1.9h-1.9zm3.2 -17.6h1.9v1.9h-1.9zm-3.0 5.9h1.9v1.9h-1.9zm0.1 37.8h1.9v1.9h-1.9zm2.1 -16.4h1.9v1.9h-1.9zm1.2 -3.5h1.9v1.9h-1.9zm-1.7 0.4h1.9v1.9h-1.9zm0.1 -6.7h1.9v1.9h-1.9zm-0.9 -3.9h1.9v1.9h-1.9zm4.0 -0.3h1.9v1.9h-1.9zm-4.2 3.4h1.9v1.9h-1.9zm4.5 12.1h1.9v1.9h-1.9zm-4.1 -6.0h1.9v1.9h-1.9zm1.3 -0.1h1.9v1.9h-1.9zm-3.1 -14.4h1.9v1.9h-1.9zm1.3 18.2h1.9v1.9h-1.9zm1.6 -9.6h1.9v1.9h-1.9zm0.8 -17.4h1.9v1.9h-1.9zm0.2 15.2h1.9v1.9h-1.9zm0.1 6.7h1.9v1.9h-1.9zm-3.2 12.6h1.9v1.9h-1.9zm1.0 -17.7h1.9v1.9h-1.9zm-1.3 -0.6h1.9v1.9h-1.9zm5.3 -14.2h1.9v1.9h-1.9zm-4.3 46.2h1.9v1.9h-1.9z" fill="#FF0000" fill-opacity="0.42"/><line x1="275.92" y1="253.95" x2="275.92" y2="273" stroke="#FF0000" stroke-width="0.7"/><line x1="275.92" y1="285.7" x2="275.92" y2="304.75" stroke="#FF0000" stroke-width="0.7"/><rect x="272.42" y="273" width="7" height="12.7" fill="#fff" fill-opacity="0.35" stroke="#FF0000" stroke-width="0.7"/><line x1="272.42" y1="279.3" x2="279.42" y2="279.3" stroke="#FF0000" stroke-width="1"/><path d="M281.0 313.2h1.9v1.9h-1.9zm6.7 4.1h1.9v1.9h-1.9zm-1.7 -3.0h1.9v1.9h-1.9zm-1.4 -5.1h1.9v1.9h-1.9zm0.3 27.2h1.9v1.9h-1.9zm1.3 -25.8h1.9v1.9h-1.9zm-5.1 6.1h1.9v1.9h-1.9zm3.7 -14.5h1.9v1.9h-1.9zm1.4 -11.3h1.9v1.9h-1.9zm-4.7 38.9h1.9v1.9h-1.9zm2.8 -21.1h1.9v1.9h-1.9zm-0.3 -8.5h1.9v1.9h-1.9zm-1.1 5.4h1.9v1.9h-1.9zm-1.7 3.9h1.9v1.9h-1.9zm3.6 18.0h1.9v1.9h-1.9zm2.3 -35.3h1.9v1.9h-1.9zm-4.1 12.9h1.9v1.9h-1.9zm2.0 8.0h1.9v1.9h-1.9zm-1.1 10.9h1.9v1.9h-1.9zm0.8 -7.6h1.9v1.9h-1.9zm2.1 15.3h1.9v1.9h-1.9zm0.7 -10.2h1.9v1.9h-1.9zm-4.8 -1.6h1.9v1.9h-1.9zm4.4 -8.5h1.9v1.9h-1.9zm0.2 3.2h1.9v1.9h-1.9zm-0.8 -0.6h1.9v1.9h-1.9zm-2.6 5.3h1.9v1.9h-1.9zm2.8 -2.1h1.9v1.9h-1.9zm-2.3 -22.1h1.9v1.9h-1.9zm3.6 47.1h1.9v1.9h-1.9zm-5.2 -41.1h1.9v1.9h-1.9zm1.2 12.2h1.9v1.9h-1.9zm-0.7 -17.6h1.9v1.9h-1.9zm-0.9 -6.3h1.9v1.9h-1.9z" fill="#FF0000" fill-opacity="0.42"/><path d="M285.0 328.5h1.9v1.9h-1.9zm-2.4 -9.4h1.9v1.9h-1.9zm-0.1 -0.3h1.9v1.9h-1.9zm2.7 -13.8h1.9v1.9h-1.9zm-4.2 -1.7h1.9v1.9h-1.9zm0.8 18.6h1.9v1.9h-1.9zm5.1 -11.0h1.9v1.9h-1.9zm-1.9 2.4h1.9v1.9h-1.9zm-2.0 5.4h1.9v1.9h-1.9zm0.9 -7.1h1.9v1.9h-1.9zm-1.1 26.1h1.9v1.9h-1.9zm2.1 -28.0h1.9v1.9h-1.9zm-2.0 13.5h1.9v1.9h-1.9zm0.4 10.8h1.9v1.9h-1.9zm4.1 -21.9h1.9v1.9h-1.9zm-4.5 -7.9h1.9v1.9h-1.9zm2.6 19.8h1.9v1.9h-1.9zm-1.1 4.3h1.9v1.9h-1.9zm0.7 -19.9h1.9v1.9h-1.9zm-2.2 -9.9h1.9v1.9h-1.9zm4.8 16.1h1.9v1.9h-1.9zm-1.2 23.5h1.9v1.9h-1.9zm-1.8 -26.1h1.9v1.9h-1.9zm-3.5 12.9h1.9v1.9h-1.9zm1.7 15.3h1.9v1.9h-1.9zm3.2 -20.3h1.9v1.9h-1.9zm-0.5 -11.8h1.9v1.9h-1.9zm-3.2 15.5h1.9v1.9h-1.9zm2.9 -1.2h1.9v1.9h-1.9zm-3.3 -14.2h1.9v1.9h-1.9zm4.9 7.9h1.9v1.9h-1.9zm-3.7 -21.0h1.9v1.9h-1.9zm-1.5 26.8h1.9v1.9h-1.9zm1.4 22.5h1.9v1.9h-1.9z" fill="#FF0000" fill-opacity="0.42"/><line x1="285.35" y1="290" x2="285.35" y2="308.2" stroke="#FF0000" stroke-width="0.7"/><line x1="285.35" y1="320.9" x2="285.35" y2="339.95" stroke="#FF0000" stroke-width="0.7"/><rect x="281.85" y="308.2" width="7" height="12.7" fill="#fff" fill-opacity="0.35" stroke="#FF0000" stroke-width="0.7"/><line x1="281.85" y1="314.7" x2="288.85" y2="314.7" stroke="#FF0000" stroke-width="1"/><path d="M293.0 284.5h1.9v1.9h-1.9zm-1.9 8.7h1.9v1.9h-1.9zm3.5 -7.7h1.9v1.9h-1.9zm-4.0 6.6h1.9v1.9h-1.9zm6.6 -7.9h1.9v1.9h-1.9zm-1.5 -4.7h1.9v1.9h-1.9zm-2.4 4.0h1.9v1.9h-1.9zm-1.1 4.5h1.9v1.9h-1.9zm3.8 6.2h1.9v1.9h-1.9zm-3.1 -9.4h1.9v1.9h-1.9zm4.4 0.2h1.9v1.9h-1.9zm-1.9 9.1h1.9v1.9h-1.9zm-1.7 -10.6h1.9v1.9h-1.9zm2.7 13.9h1.9v1.9h-1.9zm-0.9 -6.4h1.9v1.9h-1.9zm-1.7 -13.2h1.9v1.9h-1.9zm0.3 10.6h1.9v1.9h-1.9zm2.1 3.7h1.9v1.9h-1.9zm-3.3 2.4h1.9v1.9h-1.9zm2.4 0.0h1.9v1.9h-1.9zm-1.9 -6.8h1.9v1.9h-1.9zm3.9 4.4h1.9v1.9h-1.9zm-0.5 -6.7h1.9v1.9h-1.9zm-5.2 -5.8h1.9v1.9h-1.9zm1.8 16.5h1.9v1.9h-1.9zm2.8 -20.5h1.9v1.9h-1.9zm-1.5 21.5h1.9v1.9h-1.9z" fill="#0000FF" fill-opacity="0.42"/><line x1="294.78" y1="275.9" x2="294.78" y2="285.7" stroke="#0000FF" stroke-width="0.7"/><line x1="294.78" y1="292.7" x2="294.78" y2="298.4" stroke="#0000FF" stroke-width="0.7"/><rect x="291.28" y="285.7" width="7" height="7" fill="#fff" fill-opacity="0.35" stroke="#0000FF" stroke-width="0.7"/><line x1="291.28" y1="289.4" x2="298.28" y2="289.4" stroke="#0000FF" stroke-width="1"/><clipPath id="cp26"><rect x="300.92" y="273" width="6.6" height="53.5"/></clipPath><rect clip-path="url(#cp26)" x="300.92" y="270.47" width="6.6" height="50.26" fill="url(#grh)"/><path d="M300.3 296.2h1.9v1.9h-1.9zm5.2 -4.9h1.9v1.9h-1.9zm-2.9 23.0h1.9v1.9h-1.9zm3.1 2.1h1.9v1.9h-1.9zm-3.4 -13.2h1.9v1.9h-1.9zm-1.2 6.4h1.9v1.9h-1.9zm4.0 -13.7h1.9v1.9h-1.9zm-3.1 -3.8h1.9v1.9h-1.9zm-0.0 1.4h1.9v1.9h-1.9zm-0.9 9.1h1.9v1.9h-1.9zm1.0 -24.8h1.9v1.9h-1.9zm0.9 11.0h1.9v1.9h-1.9zm2.5 -6.5h1.9v1.9h-1.9zm-4.9 1.8h1.9v1.9h-1.9zm1.4 6.6h1.9v1.9h-1.9zm-1.7 -3.3h1.9v1.9h-1.9zm2.0 8.5h1.9v1.9h-1.9zm4.1 12.2h1.9v1.9h-1.9zm-6.0 -17.1h1.9v1.9h-1.9zm-0.2 22.7h1.9v1.9h-1.9zm4.5 -17.3h1.9v1.9h-1.9zm-4.3 -22.3h1.9v1.9h-1.9zm1.9 28.4h1.9v1.9h-1.9zm3.9 -4.5h1.9v1.9h-1.9zm-2.0 -15.6h1.9v1.9h-1.9zm0.3 30.9h1.9v1.9h-1.9zm-4.5 -12.4h1.9v1.9h-1.9zm5.5 -0.2h1.9v1.9h-1.9zm-0.7 -20.7h1.9v1.9h-1.9zm-3.8 15.3h1.9v1.9h-1.9zm5.6 3.9h1.9v1.9h-1.9zm-5.9 -13.0h1.9v1.9h-1.9zm3.7 13.9h1.9v1.9h-1.9zm-3.5 2.4h1.9v1.9h-1.9zm-0.2 -13.8h1.9v1.9h-1.9zm3.6 2.5h1.9v1.9h-1.9zm-3.0 2.6h1.9v1.9h-1.9zm4.4 14.8h1.9v1.9h-1.9zm0.1 7.9h1.9v1.9h-1.9zm-5.7 -30.2h1.9v1.9h-1.9zm1.3 37.4h1.9v1.9h-1.9zm3.7 -40.5h1.9v1.9h-1.9zm-2.0 15.9h1.9v1.9h-1.9zm1.1 0.6h1.9v1.9h-1.9zm-2.4 -15.3h1.9v1.9h-1.9zm-0.2 -3.8h1.9v1.9h-1.9zm4.1 7.9h1.9v1.9h-1.9zm-2.5 15.6h1.9v1.9h-1.9zm-2.1 -5.5h1.9v1.9h-1.9zm0.6 6.8h1.9v1.9h-1.9zm-0.3 -15.5h1.9v1.9h-1.9zm3.3 5.3h1.9v1.9h-1.9zm0.4 6.5h1.9v1.9h-1.9zm-4.2 -6.0h1.9v1.9h-1.9zm1.1 -6.6h1.9v1.9h-1.9zm0.2 -16.6h1.9v1.9h-1.9zm0.0 61.5h1.9v1.9h-1.9z" fill="#FF0000" fill-opacity="0.42"/><path d="M303.8 283.5h1.9v1.9h-1.9zm-2.7 7.4h1.9v1.9h-1.9zm1.2 -4.2h1.9v1.9h-1.9zm-1.7 -6.1h1.9v1.9h-1.9zm0.9 26.7h1.9v1.9h-1.9zm0.2 -15.6h1.9v1.9h-1.9zm-0.5 8.8h1.9v1.9h-1.9zm2.2 -5.8h1.9v1.9h-1.9zm1.4 5.8h1.9v1.9h-1.9zm0.2 -6.3h1.9v1.9h-1.9zm-0.2 -0.2h1.9v1.9h-1.9zm-2.9 9.7h1.9v1.9h-1.9zm-0.9 -13.9h1.9v1.9h-1.9zm5.5 3.2h1.9v1.9h-1.9zm-6.1 -0.2h1.9v1.9h-1.9zm5.9 9.9h1.9v1.9h-1.9zm-5.3 3.3h1.9v1.9h-1.9zm2.4 -17.4h1.9v1.9h-1.9zm1.9 -3.3h1.9v1.9h-1.9zm-4.3 14.2h1.9v1.9h-1.9zm2.2 9.5h1.9v1.9h-1.9zm-2.4 -10.4h1.9v1.9h-1.9zm2.4 -2.5h1.9v1.9h-1.9zm-1.4 -7.9h1.9v1.9h-1.9zm4.0 6.3h1.9v1.9h-1.9zm-4.7 -4.4h1.9v1.9h-1.9zm-0.4 -4.8h1.9v1.9h-1.9zm4.5 6.1h1.9v1.9h-1.9zm-0.8 -2.8h1.9v1.9h-1.9zm-3.8 24.3h1.9v1.9h-1.9zm2.6 -9.3h1.9v1.9h-1.9zm-2.4 -5.1h1.9v1.9h-1.9zm2.8 -7.0h1.9v1.9h-1.9zm0.8 -2.6h1.9v1.9h-1.9zm-0.9 29.2h1.9v1.9h-1.9zm-0.1 -22.7h1.9v1.9h-1.9zm1.6 -5.8h1.9v1.9h-1.9zm-5.0 3.7h1.9v1.9h-1.9zm0.6 18.9h1.9v1.9h-1.9zm2.7 -15.5h1.9v1.9h-1.9zm-1.0 5.1h1.9v1.9h-1.9zm0.7 -11.5h1.9v1.9h-1.9zm0.1 -9.5h1.9v1.9h-1.9zm3.6 22.5h1.9v1.9h-1.9zm-0.9 -21.7h1.9v1.9h-1.9zm-2.3 0.4h1.9v1.9h-1.9zm-2.5 18.3h1.9v1.9h-1.9zm2.1 -0.3h1.9v1.9h-1.9zm3.3 -15.7h1.9v1.9h-1.9zm-6.0 17.4h1.9v1.9h-1.9zm3.2 -13.7h1.9v1.9h-1.9zm-3.0 32.0h1.9v1.9h-1.9zm1.6 -36.7h1.9v1.9h-1.9zm1.5 8.5h1.9v1.9h-1.9zm-0.9 2.5h1.9v1.9h-1.9zm-0.4 31.0h1.9v1.9h-1.9zm-0.8 14.0h1.9v1.9h-1.9z" fill="#FF0000" fill-opacity="0.42"/><line x1="304.22" y1="273" x2="304.22" y2="289.4" stroke="#FF0000" stroke-width="0.7"/><line x1="304.22" y1="301.2" x2="304.22" y2="318.9" stroke="#FF0000" stroke-width="0.7"/><rect x="300.72" y="289.4" width="7" height="11.8" fill="#fff" fill-opacity="0.35" stroke="#FF0000" stroke-width="0.7"/><line x1="300.72" y1="295.6" x2="307.72" y2="295.6" stroke="#FF0000" stroke-width="1"/><path d="M310.9 289.7h1.9v1.9h-1.9zm4.2 -5.6h1.9v1.9h-1.9zm-5.6 7.9h1.9v1.9h-1.9zm1.3 -9.0h1.9v1.9h-1.9zm0.0 -3.2h1.9v1.9h-1.9zm-1.3 12.2h1.9v1.9h-1.9zm4.1 10.7h1.9v1.9h-1.9zm0.1 -7.1h1.9v1.9h-1.9zm-4.0 14.5h1.9v1.9h-1.9zm0.7 -16.3h1.9v1.9h-1.9zm3.6 6.3h1.9v1.9h-1.9zm-3.2 -14.2h1.9v1.9h-1.9zm0.1 16.5h1.9v1.9h-1.9zm0.8 5.7h1.9v1.9h-1.9zm1.6 -16.5h1.9v1.9h-1.9zm0.7 7.8h1.9v1.9h-1.9zm0.1 -4.2h1.9v1.9h-1.9zm-3.0 -3.7h1.9v1.9h-1.9zm-0.6 9.9h1.9v1.9h-1.9zm3.6 -8.9h1.9v1.9h-1.9zm0.5 5.2h1.9v1.9h-1.9zm-4.7 -0.1h1.9v1.9h-1.9zm-0.6 -3.5h1.9v1.9h-1.9zm0.9 10.0h1.9v1.9h-1.9zm0.3 -7.8h1.9v1.9h-1.9zm4.9 -15.0h1.9v1.9h-1.9zm-0.9 13.6h1.9v1.9h-1.9zm-0.5 -1.8h1.9v1.9h-1.9zm-1.5 -3.6h1.9v1.9h-1.9zm3.3 9.6h1.9v1.9h-1.9zm-1.1 -14.5h1.9v1.9h-1.9zm0.8 1.9h1.9v1.9h-1.9zm-2.8 -5.4h1.9v1.9h-1.9zm0.1 12.8h1.9v1.9h-1.9zm2.2 -8.9h1.9v1.9h-1.9zm-0.7 11.2h1.9v1.9h-1.9zm-1.4 -16.6h1.9v1.9h-1.9z" fill="#0000FF" fill-opacity="0.42"/><path d="M311.3 303.5h1.9v1.9h-1.9zm3.7 -14.0h1.9v1.9h-1.9zm-4.5 9.8h1.9v1.9h-1.9zm3.6 -16.6h1.9v1.9h-1.9zm-0.3 15.6h1.9v1.9h-1.9zm0.8 -9.0h1.9v1.9h-1.9zm-4.4 9.1h1.9v1.9h-1.9zm1.4 2.8h1.9v1.9h-1.9zm4.3 -3.7h1.9v1.9h-1.9zm-4.4 -2.3h1.9v1.9h-1.9zm0.8 -2.9h1.9v1.9h-1.9zm-2.6 2.4h1.9v1.9h-1.9zm0.4 -0.4h1.9v1.9h-1.9zm0.2 5.1h1.9v1.9h-1.9zm0.2 5.0h1.9v1.9h-1.9zm4.7 0.7h1.9v1.9h-1.9zm-3.5 0.3h1.9v1.9h-1.9zm3.2 -19.1h1.9v1.9h-1.9zm-1.9 17.5h1.9v1.9h-1.9zm0.5 -15.4h1.9v1.9h-1.9zm-3.2 14.2h1.9v1.9h-1.9zm0.3 -18.2h1.9v1.9h-1.9zm1.7 6.7h1.9v1.9h-1.9zm-2.1 -9.3h1.9v1.9h-1.9zm0.8 3.6h1.9v1.9h-1.9zm1.2 5.6h1.9v1.9h-1.9zm0.2 -3.0h1.9v1.9h-1.9zm-1.3 4.0h1.9v1.9h-1.9zm-1.6 5.4h1.9v1.9h-1.9zm0.9 -0.8h1.9v1.9h-1.9zm0.7 -3.2h1.9v1.9h-1.9zm-0.3 -1.9h1.9v1.9h-1.9zm0.8 -0.8h1.9v1.9h-1.9zm3.3 2.1h1.9v1.9h-1.9zm-5.5 -2.1h1.9v1.9h-1.9zm4.3 10.2h1.9v1.9h-1.9zm-1.6 8.5h1.9v1.9h-1.9z" fill="#0000FF" fill-opacity="0.42"/><line x1="313.65" y1="280.1" x2="313.65" y2="287.1" stroke="#0000FF" stroke-width="0.7"/><line x1="313.65" y1="298.9" x2="313.65" y2="311" stroke="#0000FF" stroke-width="0.7"/><rect x="310.15" y="287.1" width="7" height="11.8" fill="#fff" fill-opacity="0.35" stroke="#0000FF" stroke-width="0.7"/><line x1="310.15" y1="294.2" x2="317.15" y2="294.2" stroke="#0000FF" stroke-width="1"/><clipPath id="cp28"><rect x="319.78" y="267.5" width="6.6" height="56.2"/></clipPath><rect clip-path="url(#cp28)" x="319.78" y="270.14" width="6.6" height="48.13" fill="url(#grm)"/><path d="M321.9 310.8h1.9v1.9h-1.9zm2.9 -21.9h1.9v1.9h-1.9zm-1.6 10.0h1.9v1.9h-1.9zm0.2 -7.6h1.9v1.9h-1.9zm-0.5 -4.6h1.9v1.9h-1.9zm1.9 12.7h1.9v1.9h-1.9zm-2.7 23.3h1.9v1.9h-1.9zm2.9 -9.3h1.9v1.9h-1.9zm-2.2 6.0h1.9v1.9h-1.9zm1.7 -34.9h1.9v1.9h-1.9zm-3.8 7.1h1.9v1.9h-1.9zm4.3 -1.1h1.9v1.9h-1.9zm-4.7 7.1h1.9v1.9h-1.9zm3.4 -17.8h1.9v1.9h-1.9zm-4.9 28.4h1.9v1.9h-1.9zm5.2 -13.0h1.9v1.9h-1.9zm-2.2 -5.3h1.9v1.9h-1.9zm0.8 6.3h1.9v1.9h-1.9zm-3.6 -26.0h1.9v1.9h-1.9zm-0.2 11.9h1.9v1.9h-1.9zm3.7 8.0h1.9v1.9h-1.9zm-3.6 0.2h1.9v1.9h-1.9zm3.4 29.2h1.9v1.9h-1.9zm-0.4 -40.2h1.9v1.9h-1.9zm3.6 22.2h1.9v1.9h-1.9zm-0.6 6.7h1.9v1.9h-1.9zm-0.6 -16.4h1.9v1.9h-1.9zm0.8 13.3h1.9v1.9h-1.9zm0.3 -6.3h1.9v1.9h-1.9zm-4.3 -12.0h1.9v1.9h-1.9zm3.4 3.5h1.9v1.9h-1.9zm-5.1 -4.2h1.9v1.9h-1.9zm5.4 12.6h1.9v1.9h-1.9zm-5.1 -4.5h1.9v1.9h-1.9zm0.8 14.9h1.9v1.9h-1.9zm0.0 -24.4h1.9v1.9h-1.9zm-0.1 8.2h1.9v1.9h-1.9zm0.7 23.8h1.9v1.9h-1.9zm-1.4 -31.9h1.9v1.9h-1.9zm3.6 32.5h1.9v1.9h-1.9zm1.1 -29.9h1.9v1.9h-1.9zm-2.5 -0.5h1.9v1.9h-1.9zm-2.8 6.2h1.9v1.9h-1.9zm0.3 11.3h1.9v1.9h-1.9zm-0.3 -8.3h1.9v1.9h-1.9zm5.7 0.3h1.9v1.9h-1.9zm-4.8 5.0h1.9v1.9h-1.9zm0.6 -7.6h1.9v1.9h-1.9zm4.6 6.7h1.9v1.9h-1.9zm-2.7 -19.0h1.9v1.9h-1.9zm2.5 2.2h1.9v1.9h-1.9zm0.0 -5.1h1.9v1.9h-1.9zm-4.2 8.3h1.9v1.9h-1.9zm-0.5 -7.8h1.9v1.9h-1.9zm3.7 6.8h1.9v1.9h-1.9zm-0.2 -18.6h1.9v1.9h-1.9z" fill="#FF0000" fill-opacity="0.42"/><path d="M322.4 301.8h1.9v1.9h-1.9zm-1.5 -16.4h1.9v1.9h-1.9zm-2.1 -7.1h1.9v1.9h-1.9zm6.3 17.7h1.9v1.9h-1.9zm-4.8 -0.7h1.9v1.9h-1.9zm-1.2 15.2h1.9v1.9h-1.9zm5.6 -25.0h1.9v1.9h-1.9zm-1.4 9.6h1.9v1.9h-1.9zm-3.3 -5.5h1.9v1.9h-1.9zm-0.2 -3.3h1.9v1.9h-1.9zm0.6 14.3h1.9v1.9h-1.9zm-1.1 -10.6h1.9v1.9h-1.9zm5.1 13.0h1.9v1.9h-1.9zm1.1 -15.7h1.9v1.9h-1.9zm-5.7 -6.6h1.9v1.9h-1.9zm2.9 30.6h1.9v1.9h-1.9zm-0.5 -20.4h1.9v1.9h-1.9zm-1.1 10.6h1.9v1.9h-1.9zm1.7 -8.2h1.9v1.9h-1.9zm0.6 9.1h1.9v1.9h-1.9zm2.3 -16.3h1.9v1.9h-1.9zm-3.8 1.2h1.9v1.9h-1.9zm0.8 9.4h1.9v1.9h-1.9zm1.5 8.2h1.9v1.9h-1.9zm-4.9 1.6h1.9v1.9h-1.9zm4.2 -13.2h1.9v1.9h-1.9zm-1.3 -12.7h1.9v1.9h-1.9zm1.7 27.1h1.9v1.9h-1.9zm-1.9 -23.9h1.9v1.9h-1.9zm0.5 -1.0h1.9v1.9h-1.9zm-3.5 8.4h1.9v1.9h-1.9zm5.1 12.0h1.9v1.9h-1.9zm-4.3 -17.9h1.9v1.9h-1.9zm5.8 3.8h1.9v1.9h-1.9zm0.1 -11.6h1.9v1.9h-1.9zm-0.2 16.3h1.9v1.9h-1.9zm-3.9 -6.1h1.9v1.9h-1.9zm2.0 22.0h1.9v1.9h-1.9zm-0.0 -23.1h1.9v1.9h-1.9zm-2.6 7.5h1.9v1.9h-1.9zm4.5 -14.2h1.9v1.9h-1.9zm-5.3 18.4h1.9v1.9h-1.9zm1.3 -12.4h1.9v1.9h-1.9zm-1.9 5.9h1.9v1.9h-1.9zm1.6 13.8h1.9v1.9h-1.9zm1.0 -11.6h1.9v1.9h-1.9zm-1.4 0.5h1.9v1.9h-1.9zm2.1 -13.2h1.9v1.9h-1.9zm-3.5 7.5h1.9v1.9h-1.9zm2.9 19.4h1.9v1.9h-1.9zm1.8 -9.4h1.9v1.9h-1.9zm-0.5 1.2h1.9v1.9h-1.9zm1.9 -9.1h1.9v1.9h-1.9zm-6.0 -1.9h1.9v1.9h-1.9zm-0.5 1.1h1.9v1.9h-1.9zm5.1 32.0h1.9v1.9h-1.9z" fill="#FF0000" fill-opacity="0.42"/><line x1="323.08" y1="271.55" x2="323.08" y2="288.5" stroke="#FF0000" stroke-width="0.7"/><line x1="323.08" y1="299.8" x2="323.08" y2="316.75" stroke="#FF0000" stroke-width="0.7"/><rect x="319.58" y="288.5" width="7" height="11.3" fill="#fff" fill-opacity="0.35" stroke="#FF0000" stroke-width="0.7"/><line x1="319.58" y1="294.2" x2="326.58" y2="294.2" stroke="#FF0000" stroke-width="1"/><path d="M330.8 283.8h1.9v1.9h-1.9zm3.1 8.6h1.9v1.9h-1.9zm-4.4 -8.6h1.9v1.9h-1.9zm4.7 18.0h1.9v1.9h-1.9zm-0.6 -17.4h1.9v1.9h-1.9zm0.2 1.9h1.9v1.9h-1.9zm1.1 -2.5h1.9v1.9h-1.9zm-4.4 17.5h1.9v1.9h-1.9zm2.5 -2.3h1.9v1.9h-1.9zm-1.0 -4.8h1.9v1.9h-1.9zm-1.1 -10.8h1.9v1.9h-1.9zm1.7 9.3h1.9v1.9h-1.9zm-3.4 -0.0h1.9v1.9h-1.9zm-0.7 5.4h1.9v1.9h-1.9zm3.0 -2.3h1.9v1.9h-1.9zm-1.1 -2.3h1.9v1.9h-1.9zm2.8 5.9h1.9v1.9h-1.9zm-4.2 -1.5h1.9v1.9h-1.9zm5.2 -5.2h1.9v1.9h-1.9zm-2.0 6.8h1.9v1.9h-1.9zm1.7 -4.6h1.9v1.9h-1.9zm-5.2 -0.3h1.9v1.9h-1.9zm4.8 8.1h1.9v1.9h-1.9zm0.2 -3.0h1.9v1.9h-1.9zm-1.7 -8.6h1.9v1.9h-1.9zm-1.1 -3.9h1.9v1.9h-1.9zm1.8 2.3h1.9v1.9h-1.9zm-3.6 -1.5h1.9v1.9h-1.9zm5.4 6.9h1.9v1.9h-1.9zm0.4 0.8h1.9v1.9h-1.9zm-4.0 -7.7h1.9v1.9h-1.9zm2.1 1.7h1.9v1.9h-1.9zm0.7 -8.8h1.9v1.9h-1.9zm-2.7 21.5h1.9v1.9h-1.9z" fill="#0000FF" fill-opacity="0.42"/><line x1="332.52" y1="281.5" x2="332.52" y2="290.5" stroke="#0000FF" stroke-width="0.7"/><line x1="332.52" y1="299.8" x2="332.52" y2="304" stroke="#0000FF" stroke-width="0.7"/><rect x="329.02" y="290.5" width="7" height="9.3" fill="#fff" fill-opacity="0.35" stroke="#0000FF" stroke-width="0.7"/><line x1="329.02" y1="295.6" x2="336.02" y2="295.6" stroke="#0000FF" stroke-width="1"/><clipPath id="cp30"><rect x="338.65" y="278.7" width="6.6" height="45"/></clipPath><rect clip-path="url(#cp30)" x="338.65" y="283.8" width="6.6" height="26.41" fill="url(#grl)"/><path d="M341.1 280.7h1.9v1.9h-1.9zm-2.8 31.8h1.9v1.9h-1.9zm1.6 -18.1h1.9v1.9h-1.9zm2.0 3.5h1.9v1.9h-1.9zm-0.7 -11.8h1.9v1.9h-1.9zm2.1 14.8h1.9v1.9h-1.9zm-1.5 -5.5h1.9v1.9h-1.9zm-4.0 -5.6h1.9v1.9h-1.9zm6.3 7.2h1.9v1.9h-1.9zm-5.2 -1.0h1.9v1.9h-1.9zm0.7 -3.8h1.9v1.9h-1.9zm-0.3 27.7h1.9v1.9h-1.9zm0.8 -23.0h1.9v1.9h-1.9zm3.6 -2.7h1.9v1.9h-1.9zm-4.2 5.3h1.9v1.9h-1.9zm-1.2 -3.4h1.9v1.9h-1.9zm0.5 -2.2h1.9v1.9h-1.9zm0.5 -5.0h1.9v1.9h-1.9zm3.1 2.4h1.9v1.9h-1.9zm-1.3 6.0h1.9v1.9h-1.9zm0.2 2.5h1.9v1.9h-1.9zm-2.6 -4.9h1.9v1.9h-1.9zm5.6 5.9h1.9v1.9h-1.9zm0.1 -12.2h1.9v1.9h-1.9zm-1.0 19.1h1.9v1.9h-1.9zm-4.9 -10.1h1.9v1.9h-1.9zm3.3 3.7h1.9v1.9h-1.9zm1.0 1.1h1.9v1.9h-1.9zm0.3 9.2h1.9v1.9h-1.9zm-5.0 -14.4h1.9v1.9h-1.9zm-0.3 -3.2h1.9v1.9h-1.9zm5.4 0.3h1.9v1.9h-1.9zm-2.4 -2.6h1.9v1.9h-1.9zm-0.2 3.6h1.9v1.9h-1.9zm-1.4 -3.4h1.9v1.9h-1.9zm0.5 3.3h1.9v1.9h-1.9zm-1.4 19.0h1.9v1.9h-1.9zm-0.3 -12.4h1.9v1.9h-1.9zm1.3 -6.7h1.9v1.9h-1.9zm3.8 -0.8h1.9v1.9h-1.9zm-2.1 1.0h1.9v1.9h-1.9zm3.4 6.1h1.9v1.9h-1.9zm-6.2 0.9h1.9v1.9h-1.9zm3.0 -8.0h1.9v1.9h-1.9zm-1.4 2.1h1.9v1.9h-1.9zm1.9 9.4h1.9v1.9h-1.9zm2.5 -10.0h1.9v1.9h-1.9zm-5.2 3.7h1.9v1.9h-1.9zm0.3 -5.5h1.9v1.9h-1.9zm3.5 -0.7h1.9v1.9h-1.9zm1.1 -7.0h1.9v1.9h-1.9zm-0.5 13.2h1.9v1.9h-1.9zm-0.5 7.0h1.9v1.9h-1.9zm-1.8 5.4h1.9v1.9h-1.9zm-0.5 -16.9h1.9v1.9h-1.9zm0.3 -16.3h1.9v1.9h-1.9z" fill="#FF0000" fill-opacity="0.42"/><path d="M344.2 301.0h1.9v1.9h-1.9zm-2.7 -6.4h1.9v1.9h-1.9zm-2.2 -1.0h1.9v1.9h-1.9zm3.4 6.1h1.9v1.9h-1.9zm-4.6 7.9h1.9v1.9h-1.9zm0.5 -10.5h1.9v1.9h-1.9zm0.2 7.1h1.9v1.9h-1.9zm0.1 -8.8h1.9v1.9h-1.9zm-1.2 9.7h1.9v1.9h-1.9zm2.2 -9.8h1.9v1.9h-1.9zm0.4 -13.2h1.9v1.9h-1.9zm-2.3 10.2h1.9v1.9h-1.9zm5.8 5.7h1.9v1.9h-1.9zm-4.6 -3.1h1.9v1.9h-1.9zm0.0 6.4h1.9v1.9h-1.9zm1.3 -4.4h1.9v1.9h-1.9zm2.1 -4.5h1.9v1.9h-1.9zm-0.8 5.5h1.9v1.9h-1.9zm0.8 3.4h1.9v1.9h-1.9zm-2.4 -10.0h1.9v1.9h-1.9zm1.9 5.4h1.9v1.9h-1.9zm-2.8 -8.0h1.9v1.9h-1.9zm-1.7 7.8h1.9v1.9h-1.9zm4.3 -4.0h1.9v1.9h-1.9zm-2.4 -3.1h1.9v1.9h-1.9zm2.0 3.5h1.9v1.9h-1.9zm-3.4 24.0h1.9v1.9h-1.9zm3.1 -28.4h1.9v1.9h-1.9zm0.7 5.3h1.9v1.9h-1.9zm1.6 4.7h1.9v1.9h-1.9zm-4.9 13.3h1.9v1.9h-1.9zm-0.4 -14.9h1.9v1.9h-1.9zm-0.9 -2.9h1.9v1.9h-1.9zm5.0 7.8h1.9v1.9h-1.9zm-3.5 8.8h1.9v1.9h-1.9zm1.0 -18.2h1.9v1.9h-1.9zm-1.0 12.4h1.9v1.9h-1.9zm0.6 -3.9h1.9v1.9h-1.9zm-2.0 5.6h1.9v1.9h-1.9zm4.3 -12.9h1.9v1.9h-1.9zm-0.3 4.5h1.9v1.9h-1.9zm-0.7 -2.7h1.9v1.9h-1.9zm2.4 5.3h1.9v1.9h-1.9zm-2.0 -4.1h1.9v1.9h-1.9zm-0.2 5.8h1.9v1.9h-1.9zm-0.8 -13.5h1.9v1.9h-1.9zm1.3 4.5h1.9v1.9h-1.9zm-2.8 2.5h1.9v1.9h-1.9zm-0.8 1.0h1.9v1.9h-1.9zm1.8 0.9h1.9v1.9h-1.9zm-1.9 -8.8h1.9v1.9h-1.9zm1.4 2.1h1.9v1.9h-1.9zm-0.6 1.6h1.9v1.9h-1.9zm3.9 -3.0h1.9v1.9h-1.9zm-2.9 9.3h1.9v1.9h-1.9zm-0.2 22.9h1.9v1.9h-1.9z" fill="#FF0000" fill-opacity="0.42"/><line x1="341.95" y1="284.3" x2="341.95" y2="293.6" stroke="#FF0000" stroke-width="0.7"/><line x1="341.95" y1="299.8" x2="341.95" y2="309.1" stroke="#FF0000" stroke-width="0.7"/><rect x="338.45" y="293.6" width="7" height="6.2" fill="#fff" fill-opacity="0.35" stroke="#FF0000" stroke-width="0.7"/><line x1="338.45" y1="297" x2="345.45" y2="297" stroke="#FF0000" stroke-width="1"/><clipPath id="cp31"><rect x="348.08" y="273" width="6.6" height="36.6"/></clipPath><rect clip-path="url(#cp31)" x="348.08" y="273.2" width="6.6" height="36.2" fill="url(#grh)"/><path d="M353.4 286.7h1.9v1.9h-1.9zm-5.6 -10.2h1.9v1.9h-1.9zm0.3 7.7h1.9v1.9h-1.9zm1.2 -2.8h1.9v1.9h-1.9zm-0.5 -4.1h1.9v1.9h-1.9zm-1.5 -2.6h1.9v1.9h-1.9zm0.1 30.5h1.9v1.9h-1.9zm2.6 -26.3h1.9v1.9h-1.9zm1.0 13.8h1.9v1.9h-1.9zm-2.9 3.7h1.9v1.9h-1.9zm2.3 -3.0h1.9v1.9h-1.9zm2.8 9.3h1.9v1.9h-1.9zm-1.6 -6.2h1.9v1.9h-1.9zm-3.0 -17.5h1.9v1.9h-1.9zm3.3 14.9h1.9v1.9h-1.9zm-1.9 2.1h1.9v1.9h-1.9zm1.5 0.4h1.9v1.9h-1.9zm-3.5 -2.5h1.9v1.9h-1.9zm-0.9 -7.5h1.9v1.9h-1.9zm5.4 13.1h1.9v1.9h-1.9zm-4.7 -9.3h1.9v1.9h-1.9zm1.2 3.9h1.9v1.9h-1.9zm-1.2 -11.4h1.9v1.9h-1.9zm5.5 25.0h1.9v1.9h-1.9zm-0.4 -13.4h1.9v1.9h-1.9zm0.5 2.3h1.9v1.9h-1.9zm-2.3 -10.0h1.9v1.9h-1.9zm-2.3 2.4h1.9v1.9h-1.9zm1.8 -11.6h1.9v1.9h-1.9zm-2.5 14.7h1.9v1.9h-1.9zm1.6 -2.3h1.9v1.9h-1.9zm-0.7 3.6h1.9v1.9h-1.9zm-0.4 2.3h1.9v1.9h-1.9zm0.5 5.2h1.9v1.9h-1.9zm1.2 -11.5h1.9v1.9h-1.9zm1.3 1.9h1.9v1.9h-1.9zm-1.5 3.8h1.9v1.9h-1.9zm2.7 1.4h1.9v1.9h-1.9zm0.4 -10.3h1.9v1.9h-1.9zm-4.3 10.3h1.9v1.9h-1.9zm2.5 -4.3h1.9v1.9h-1.9zm1.4 9.2h1.9v1.9h-1.9zm-2.9 -20.0h1.9v1.9h-1.9zm1.1 9.2h1.9v1.9h-1.9zm2.2 -1.6h1.9v1.9h-1.9zm-1.3 -2.5h1.9v1.9h-1.9zm-4.3 -5.1h1.9v1.9h-1.9zm0.3 6.7h1.9v1.9h-1.9zm-1.2 8.4h1.9v1.9h-1.9zm5.0 -17.6h1.9v1.9h-1.9zm-4.0 18.9h1.9v1.9h-1.9zm0.1 -2.9h1.9v1.9h-1.9zm-0.4 -1.9h1.9v1.9h-1.9zm-0.2 5.9h1.9v1.9h-1.9zm4.7 4.9h1.9v1.9h-1.9zm-1.1 -31.3h1.9v1.9h-1.9z" fill="#FF0000" fill-opacity="0.42"/><path d="M350.4 298.1h1.9v1.9h-1.9zm-1.6 -3.6h1.9v1.9h-1.9zm0.3 -3.2h1.9v1.9h-1.9zm3.3 2.9h1.9v1.9h-1.9zm-2.3 -14.3h1.9v1.9h-1.9zm-0.8 -1.6h1.9v1.9h-1.9zm-0.7 13.8h1.9v1.9h-1.9zm5.0 -11.4h1.9v1.9h-1.9zm-2.4 14.8h1.9v1.9h-1.9zm2.4 2.2h1.9v1.9h-1.9zm-4.3 3.5h1.9v1.9h-1.9zm1.0 -16.7h1.9v1.9h-1.9zm-0.4 -2.4h1.9v1.9h-1.9zm-0.7 12.1h1.9v1.9h-1.9zm-1.6 0.4h1.9v1.9h-1.9zm0.6 -4.1h1.9v1.9h-1.9zm0.9 -1.9h1.9v1.9h-1.9zm-1.8 4.2h1.9v1.9h-1.9zm3.9 -10.2h1.9v1.9h-1.9zm1.8 -0.2h1.9v1.9h-1.9zm-4.4 6.6h1.9v1.9h-1.9zm3.8 1.7h1.9v1.9h-1.9zm-3.1 -11.6h1.9v1.9h-1.9zm0.9 17.1h1.9v1.9h-1.9zm-1.1 -12.5h1.9v1.9h-1.9zm2.7 4.9h1.9v1.9h-1.9zm-0.7 9.2h1.9v1.9h-1.9zm-1.7 -8.9h1.9v1.9h-1.9zm3.0 -8.2h1.9v1.9h-1.9zm1.2 4.5h1.9v1.9h-1.9zm-4.8 4.5h1.9v1.9h-1.9zm1.8 4.2h1.9v1.9h-1.9zm1.7 -3.4h1.9v1.9h-1.9zm-3.2 -1.2h1.9v1.9h-1.9zm4.3 2.7h1.9v1.9h-1.9zm-0.9 -2.5h1.9v1.9h-1.9zm-2.3 3.9h1.9v1.9h-1.9zm-0.8 13.1h1.9v1.9h-1.9zm1.6 -21.2h1.9v1.9h-1.9zm2.5 1.1h1.9v1.9h-1.9zm-0.9 10.0h1.9v1.9h-1.9zm-1.7 -8.6h1.9v1.9h-1.9zm1.4 8.8h1.9v1.9h-1.9zm0.1 -11.6h1.9v1.9h-1.9zm-3.4 4.8h1.9v1.9h-1.9zm5.0 9.3h1.9v1.9h-1.9zm-0.1 5.3h1.9v1.9h-1.9zm-1.2 -12.0h1.9v1.9h-1.9zm-4.4 -5.1h1.9v1.9h-1.9zm0.2 7.0h1.9v1.9h-1.9zm1.1 2.1h1.9v1.9h-1.9zm-2.0 -0.5h1.9v1.9h-1.9zm6.3 1.8h1.9v1.9h-1.9zm-6.1 0.5h1.9v1.9h-1.9zm1.8 -15.0h1.9v1.9h-1.9zm0.9 24.8h1.9v1.9h-1.9z" fill="#FF0000" fill-opacity="0.42"/><line x1="351.38" y1="274.35" x2="351.38" y2="287.1" stroke="#FF0000" stroke-width="0.7"/><line x1="351.38" y1="295.6" x2="351.38" y2="308.35" stroke="#FF0000" stroke-width="0.7"/><rect x="347.88" y="287.1" width="7" height="8.5" fill="#fff" fill-opacity="0.35" stroke="#FF0000" stroke-width="0.7"/><line x1="347.88" y1="291.3" x2="354.88" y2="291.3" stroke="#FF0000" stroke-width="1"/><clipPath id="cp32"><rect x="357.52" y="273" width="6.6" height="74.6"/></clipPath><rect clip-path="url(#cp32)" x="357.52" y="276.99" width="6.6" height="59.63" fill="url(#grm)"/><path d="M359.4 311.7h1.9v1.9h-1.9zm3.3 -11.6h1.9v1.9h-1.9zm-5.3 20.6h1.9v1.9h-1.9zm-0.5 25.9h1.9v1.9h-1.9zm2.6 -67.1h1.9v1.9h-1.9zm3.6 33.2h1.9v1.9h-1.9zm-0.8 -11.9h1.9v1.9h-1.9zm-5.3 12.9h1.9v1.9h-1.9zm0.8 -4.8h1.9v1.9h-1.9zm2.7 8.3h1.9v1.9h-1.9zm1.3 15.1h1.9v1.9h-1.9zm0.1 -18.6h1.9v1.9h-1.9zm-4.4 -6.1h1.9v1.9h-1.9zm-0.8 15.8h1.9v1.9h-1.9zm3.0 1.5h1.9v1.9h-1.9zm-2.8 -28.7h1.9v1.9h-1.9zm-0.3 9.4h1.9v1.9h-1.9zm4.5 -17.3h1.9v1.9h-1.9zm-0.3 8.1h1.9v1.9h-1.9zm0.6 12.5h1.9v1.9h-1.9zm0.7 9.6h1.9v1.9h-1.9zm-2.1 -29.2h1.9v1.9h-1.9zm-2.3 27.4h1.9v1.9h-1.9zm4.9 -15.1h1.9v1.9h-1.9zm-6.1 -19.0h1.9v1.9h-1.9zm0.6 24.2h1.9v1.9h-1.9zm3.6 -9.0h1.9v1.9h-1.9zm-0.1 3.3h1.9v1.9h-1.9zm-0.3 -19.6h1.9v1.9h-1.9zm0.4 38.4h1.9v1.9h-1.9zm1.9 -2.3h1.9v1.9h-1.9zm-1.7 -26.0h1.9v1.9h-1.9zm1.7 10.6h1.9v1.9h-1.9zm-4.7 21.3h1.9v1.9h-1.9zm-0.6 -13.2h1.9v1.9h-1.9zm2.0 -23.7h1.9v1.9h-1.9zm-1.7 3.4h1.9v1.9h-1.9zm-0.1 19.7h1.9v1.9h-1.9zm1.4 -3.6h1.9v1.9h-1.9zm-2.4 -23.5h1.9v1.9h-1.9zm-0.0 17.2h1.9v1.9h-1.9zm5.9 -9.8h1.9v1.9h-1.9zm-1.8 4.3h1.9v1.9h-1.9zm-1.2 21.8h1.9v1.9h-1.9zm-2.0 9.6h1.9v1.9h-1.9zm5.2 -14.5h1.9v1.9h-1.9zm-4.3 14.4h1.9v1.9h-1.9zm1.5 -2.9h1.9v1.9h-1.9zm2.3 8.6h1.9v1.9h-1.9zm0.3 -16.1h1.9v1.9h-1.9zm-1.8 -4.2h1.9v1.9h-1.9zm1.4 -24.7h1.9v1.9h-1.9zm-5.8 13.7h1.9v1.9h-1.9zm4.1 8.6h1.9v1.9h-1.9zm0.6 9.1h1.9v1.9h-1.9zm-0.6 -45.0h1.9v1.9h-1.9z" fill="#FF0000" fill-opacity="0.42"/><path d="M359.3 297.8h1.9v1.9h-1.9zm0.1 4.2h1.9v1.9h-1.9zm-0.8 15.1h1.9v1.9h-1.9zm1.9 -22.5h1.9v1.9h-1.9zm-0.1 7.5h1.9v1.9h-1.9zm-0.2 -2.9h1.9v1.9h-1.9zm2.2 -1.2h1.9v1.9h-1.9zm-0.2 2.4h1.9v1.9h-1.9zm-2.8 5.5h1.9v1.9h-1.9zm3.2 13.9h1.9v1.9h-1.9zm-1.3 -38.8h1.9v1.9h-1.9zm-1.3 52.6h1.9v1.9h-1.9zm0.6 -15.5h1.9v1.9h-1.9zm1.3 7.8h1.9v1.9h-1.9zm-1.8 -30.5h1.9v1.9h-1.9zm2.3 3.5h1.9v1.9h-1.9zm-3.0 -3.7h1.9v1.9h-1.9zm-0.1 13.3h1.9v1.9h-1.9zm-1.7 -14.3h1.9v1.9h-1.9zm3.0 23.4h1.9v1.9h-1.9zm2.1 -10.5h1.9v1.9h-1.9zm-4.6 -6.5h1.9v1.9h-1.9zm1.2 12.9h1.9v1.9h-1.9zm3.3 7.6h1.9v1.9h-1.9zm0.1 -43.6h1.9v1.9h-1.9zm-4.2 29.2h1.9v1.9h-1.9zm-1.8 9.1h1.9v1.9h-1.9zm-0.3 -31.4h1.9v1.9h-1.9zm2.4 11.6h1.9v1.9h-1.9zm-0.9 7.1h1.9v1.9h-1.9zm0.9 8.5h1.9v1.9h-1.9zm3.8 9.0h1.9v1.9h-1.9zm-0.6 2.1h1.9v1.9h-1.9zm-0.5 -14.5h1.9v1.9h-1.9zm-0.6 8.7h1.9v1.9h-1.9zm1.7 -17.3h1.9v1.9h-1.9zm-6.1 6.6h1.9v1.9h-1.9zm1.6 -9.4h1.9v1.9h-1.9zm2.9 18.6h1.9v1.9h-1.9zm-2.9 -13.9h1.9v1.9h-1.9zm0.2 12.8h1.9v1.9h-1.9zm4.2 -20.7h1.9v1.9h-1.9zm-3.4 22.4h1.9v1.9h-1.9zm1.0 -3.8h1.9v1.9h-1.9zm-1.5 -0.8h1.9v1.9h-1.9zm-1.7 -1.2h1.9v1.9h-1.9zm0.0 10.4h1.9v1.9h-1.9zm3.8 -6.7h1.9v1.9h-1.9zm1.9 2.9h1.9v1.9h-1.9zm-5.5 -1.4h1.9v1.9h-1.9zm2.1 -22.5h1.9v1.9h-1.9zm-1.6 3.6h1.9v1.9h-1.9zm5.5 17.9h1.9v1.9h-1.9zm-3.2 -29.7h1.9v1.9h-1.9zm1.5 46.5h1.9v1.9h-1.9zm-1.2 14.9h1.9v1.9h-1.9z" fill="#FF0000" fill-opacity="0.42"/><line x1="360.82" y1="278.8" x2="360.82" y2="299.8" stroke="#FF0000" stroke-width="0.7"/><line x1="360.82" y1="313.8" x2="360.82" y2="334.8" stroke="#FF0000" stroke-width="0.7"/><rect x="357.32" y="299.8" width="7" height="14" fill="#fff" fill-opacity="0.35" stroke="#FF0000" stroke-width="0.7"/><line x1="357.32" y1="306.8" x2="364.32" y2="306.8" stroke="#FF0000" stroke-width="1"/><path d="M366.9 329.1h1.9v1.9h-1.9zm0.6 7.5h1.9v1.9h-1.9zm4.1 -19.5h1.9v1.9h-1.9zm-5.3 5.3h1.9v1.9h-1.9zm5.9 -2.0h1.9v1.9h-1.9zm-1.7 8.9h1.9v1.9h-1.9zm-3.3 -8.8h1.9v1.9h-1.9zm3.0 7.2h1.9v1.9h-1.9zm-1.9 2.9h1.9v1.9h-1.9zm-1.9 -3.0h1.9v1.9h-1.9zm5.9 -3.0h1.9v1.9h-1.9zm-3.1 -5.6h1.9v1.9h-1.9zm-0.3 10.1h1.9v1.9h-1.9zm1.9 -12.5h1.9v1.9h-1.9zm0.4 6.4h1.9v1.9h-1.9zm-4.7 -8.1h1.9v1.9h-1.9zm4.6 10.0h1.9v1.9h-1.9zm0.8 6.8h1.9v1.9h-1.9zm-3.0 -9.3h1.9v1.9h-1.9zm-0.1 12.7h1.9v1.9h-1.9zm1.4 -17.1h1.9v1.9h-1.9zm1.8 -4.5h1.9v1.9h-1.9zm-5.2 11.3h1.9v1.9h-1.9zm-0.4 -0.3h1.9v1.9h-1.9zm4.5 -1.9h1.9v1.9h-1.9zm-2.9 -13.7h1.9v1.9h-1.9z" fill="#0000FF" fill-opacity="0.42"/><path d="M369.3 319.3h1.9v1.9h-1.9zm2.1 -4.3h1.9v1.9h-1.9zm-4.7 13.8h1.9v1.9h-1.9zm4.9 -5.6h1.9v1.9h-1.9zm-3.2 -1.8h1.9v1.9h-1.9zm3.8 11.4h1.9v1.9h-1.9zm-0.8 -12.0h1.9v1.9h-1.9zm-4.7 8.0h1.9v1.9h-1.9zm0.0 -13.7h1.9v1.9h-1.9zm-0.7 16.1h1.9v1.9h-1.9zm5.1 -16.6h1.9v1.9h-1.9zm-2.0 10.4h1.9v1.9h-1.9zm0.5 5.4h1.9v1.9h-1.9zm-3.6 -10.5h1.9v1.9h-1.9zm6.3 -4.1h1.9v1.9h-1.9zm-4.5 10.7h1.9v1.9h-1.9zm2.6 -14.3h1.9v1.9h-1.9zm1.8 11.2h1.9v1.9h-1.9zm-5.4 3.6h1.9v1.9h-1.9zm2.6 -8.3h1.9v1.9h-1.9zm-1.5 -0.4h1.9v1.9h-1.9zm1.2 0.1h1.9v1.9h-1.9zm-2.4 -5.6h1.9v1.9h-1.9zm-0.7 -0.9h1.9v1.9h-1.9zm6.2 0.7h1.9v1.9h-1.9zm-2.2 24.7h1.9v1.9h-1.9z" fill="#0000FF" fill-opacity="0.42"/><line x1="370.25" y1="309.6" x2="370.25" y2="319.4" stroke="#0000FF" stroke-width="0.7"/><line x1="370.25" y1="327.9" x2="370.25" y2="339.1" stroke="#0000FF" stroke-width="0.7"/><rect x="366.75" y="319.4" width="7" height="8.5" fill="#fff" fill-opacity="0.35" stroke="#0000FF" stroke-width="0.7"/><line x1="366.75" y1="323.7" x2="373.75" y2="323.7" stroke="#0000FF" stroke-width="1"/><clipPath id="cp34"><rect x="376.38" y="246.4" width="6.6" height="74.5"/></clipPath><rect clip-path="url(#cp34)" x="376.38" y="257.07" width="6.6" height="60.06" fill="url(#grh)"/><path d="M380.5 277.8h1.9v1.9h-1.9zm-1.7 13.9h1.9v1.9h-1.9zm-0.1 7.4h1.9v1.9h-1.9zm-1.5 -18.4h1.9v1.9h-1.9zm0.5 -17.9h1.9v1.9h-1.9zm0.1 -0.4h1.9v1.9h-1.9zm3.3 31.7h1.9v1.9h-1.9zm0.7 -1.0h1.9v1.9h-1.9zm-4.2 22.9h1.9v1.9h-1.9zm2.5 -35.8h1.9v1.9h-1.9zm-2.4 15.3h1.9v1.9h-1.9zm-1.7 -9.1h1.9v1.9h-1.9zm-0.1 -1.0h1.9v1.9h-1.9zm0.7 9.3h1.9v1.9h-1.9zm1.5 20.5h1.9v1.9h-1.9zm0.9 -29.0h1.9v1.9h-1.9zm-2.3 -20.2h1.9v1.9h-1.9zm1.3 47.0h1.9v1.9h-1.9zm2.9 -40.8h1.9v1.9h-1.9zm-1.9 31.0h1.9v1.9h-1.9zm-1.2 8.1h1.9v1.9h-1.9zm1.3 -33.5h1.9v1.9h-1.9zm1.1 2.0h1.9v1.9h-1.9zm-0.1 30.2h1.9v1.9h-1.9zm1.0 -36.0h1.9v1.9h-1.9zm-3.6 21.7h1.9v1.9h-1.9zm-0.9 -4.2h1.9v1.9h-1.9zm-1.3 -11.4h1.9v1.9h-1.9zm0.1 30.7h1.9v1.9h-1.9zm2.9 -37.4h1.9v1.9h-1.9zm1.0 0.0h1.9v1.9h-1.9zm1.4 15.0h1.9v1.9h-1.9zm-4.6 -3.1h1.9v1.9h-1.9zm4.6 -12.9h1.9v1.9h-1.9zm0.3 28.1h1.9v1.9h-1.9zm-4.6 -26.6h1.9v1.9h-1.9zm0.8 30.5h1.9v1.9h-1.9zm-0.9 -45.1h1.9v1.9h-1.9zm2.0 33.5h1.9v1.9h-1.9zm0.1 -15.2h1.9v1.9h-1.9zm2.5 10.2h1.9v1.9h-1.9zm-1.2 -15.7h1.9v1.9h-1.9zm-3.0 15.3h1.9v1.9h-1.9zm5.0 -9.4h1.9v1.9h-1.9zm-6.2 20.9h1.9v1.9h-1.9zm0.6 -30.5h1.9v1.9h-1.9zm5.4 23.1h1.9v1.9h-1.9zm-1.6 -6.8h1.9v1.9h-1.9zm-0.8 -15.4h1.9v1.9h-1.9zm0.3 8.2h1.9v1.9h-1.9zm1.8 4.6h1.9v1.9h-1.9zm-0.8 20.5h1.9v1.9h-1.9zm-4.4 -24.1h1.9v1.9h-1.9zm4.6 12.4h1.9v1.9h-1.9zm0.6 1.2h1.9v1.9h-1.9zm-4.0 -45.9h1.9v1.9h-1.9z" fill="#FF0000" fill-opacity="0.42"/><path d="M376.4 274.7h1.9v1.9h-1.9zm0.7 2.3h1.9v1.9h-1.9zm4.9 10.3h1.9v1.9h-1.9zm-3.2 5.8h1.9v1.9h-1.9zm-0.0 -2.5h1.9v1.9h-1.9zm-2.1 -21.0h1.9v1.9h-1.9zm1.3 28.2h1.9v1.9h-1.9zm1.1 -10.1h1.9v1.9h-1.9zm-3.4 4.9h1.9v1.9h-1.9zm5.2 -8.9h1.9v1.9h-1.9zm-2.8 -7.3h1.9v1.9h-1.9zm3.4 16.9h1.9v1.9h-1.9zm-3.8 13.3h1.9v1.9h-1.9zm-2.2 -9.3h1.9v1.9h-1.9zm6.1 -20.4h1.9v1.9h-1.9zm-5.4 -3.5h1.9v1.9h-1.9zm0.6 10.7h1.9v1.9h-1.9zm4.0 -1.7h1.9v1.9h-1.9zm0.9 -20.5h1.9v1.9h-1.9zm-4.2 27.5h1.9v1.9h-1.9zm-2.0 5.4h1.9v1.9h-1.9zm3.5 2.5h1.9v1.9h-1.9zm-1.7 6.8h1.9v1.9h-1.9zm1.9 -13.5h1.9v1.9h-1.9zm-2.7 6.4h1.9v1.9h-1.9zm1.4 -2.3h1.9v1.9h-1.9zm1.0 -9.7h1.9v1.9h-1.9zm-3.0 1.5h1.9v1.9h-1.9zm3.6 -9.8h1.9v1.9h-1.9zm-3.3 13.7h1.9v1.9h-1.9zm5.9 -3.8h1.9v1.9h-1.9zm-3.7 -19.7h1.9v1.9h-1.9zm2.0 22.9h1.9v1.9h-1.9zm0.2 -10.9h1.9v1.9h-1.9zm0.8 -8.0h1.9v1.9h-1.9zm-3.8 -11.7h1.9v1.9h-1.9zm1.7 53.2h1.9v1.9h-1.9zm2.0 -24.6h1.9v1.9h-1.9zm0.0 15.4h1.9v1.9h-1.9zm-1.8 -14.8h1.9v1.9h-1.9zm-2.4 -10.1h1.9v1.9h-1.9zm2.9 3.4h1.9v1.9h-1.9zm-4.5 7.3h1.9v1.9h-1.9zm4.1 16.5h1.9v1.9h-1.9zm2.6 -18.1h1.9v1.9h-1.9zm-4.1 -13.1h1.9v1.9h-1.9zm0.8 12.4h1.9v1.9h-1.9zm-2.0 -13.8h1.9v1.9h-1.9zm1.0 -9.1h1.9v1.9h-1.9zm4.1 12.9h1.9v1.9h-1.9zm-5.3 24.6h1.9v1.9h-1.9zm-1.0 -31.2h1.9v1.9h-1.9zm0.2 15.2h1.9v1.9h-1.9zm3.9 7.8h1.9v1.9h-1.9zm-2.6 -19.2h1.9v1.9h-1.9zm0.0 45.8h1.9v1.9h-1.9z" fill="#FF0000" fill-opacity="0.42"/><line x1="379.68" y1="260.35" x2="379.68" y2="281.5" stroke="#FF0000" stroke-width="0.7"/><line x1="379.68" y1="295.6" x2="379.68" y2="316.75" stroke="#FF0000" stroke-width="0.7"/><rect x="376.18" y="281.5" width="7" height="14.1" fill="#fff" fill-opacity="0.35" stroke="#FF0000" stroke-width="0.7"/><line x1="376.18" y1="287.1" x2="383.18" y2="287.1" stroke="#FF0000" stroke-width="1"/><path d="M387.1 303.4h1.9v1.9h-1.9zm-1.9 2.0h1.9v1.9h-1.9zm0.4 -7.3h1.9v1.9h-1.9zm3.5 2.6h1.9v1.9h-1.9zm-3.0 2.2h1.9v1.9h-1.9zm-0.6 -1.8h1.9v1.9h-1.9zm0.5 -5.8h1.9v1.9h-1.9zm-1.2 1.2h1.9v1.9h-1.9zm2.4 1.2h1.9v1.9h-1.9zm0.6 -3.8h1.9v1.9h-1.9zm2.3 -1.2h1.9v1.9h-1.9zm-0.3 4.1h1.9v1.9h-1.9zm0.9 6.4h1.9v1.9h-1.9zm-0.3 0.9h1.9v1.9h-1.9zm-3.1 -11.3h1.9v1.9h-1.9zm1.3 5.2h1.9v1.9h-1.9zm1.8 5.9h1.9v1.9h-1.9zm0.8 -9.0h1.9v1.9h-1.9zm-0.7 -3.7h1.9v1.9h-1.9zm-5.7 5.5h1.9v1.9h-1.9zm0.7 -2.5h1.9v1.9h-1.9zm2.3 0.8h1.9v1.9h-1.9zm-2.7 2.7h1.9v1.9h-1.9zm3.1 -0.1h1.9v1.9h-1.9zm2.1 -0.7h1.9v1.9h-1.9zm1.1 3.8h1.9v1.9h-1.9zm-6.1 1.5h1.9v1.9h-1.9zm0.5 -6.7h1.9v1.9h-1.9zm4.0 7.9h1.9v1.9h-1.9zm-2.3 -5.7h1.9v1.9h-1.9zm2.9 7.7h1.9v1.9h-1.9z" fill="#0000FF" fill-opacity="0.42"/><path d="M387.2 296.4h1.9v1.9h-1.9zm-0.3 3.0h1.9v1.9h-1.9zm1.5 0.2h1.9v1.9h-1.9zm1.8 2.6h1.9v1.9h-1.9zm-3.7 -2.8h1.9v1.9h-1.9zm-0.3 -0.0h1.9v1.9h-1.9zm-1.2 1.1h1.9v1.9h-1.9zm3.2 4.3h1.9v1.9h-1.9zm-1.5 -11.7h1.9v1.9h-1.9zm1.5 1.2h1.9v1.9h-1.9zm-2.2 7.9h1.9v1.9h-1.9zm4.3 -0.2h1.9v1.9h-1.9zm0.1 -8.2h1.9v1.9h-1.9zm-2.0 -1.5h1.9v1.9h-1.9zm-2.6 9.2h1.9v1.9h-1.9zm0.1 3.7h1.9v1.9h-1.9zm5.2 -6.4h1.9v1.9h-1.9zm-0.8 -1.5h1.9v1.9h-1.9zm0.4 -2.3h1.9v1.9h-1.9zm-0.0 8.6h1.9v1.9h-1.9zm0.4 -3.9h1.9v1.9h-1.9zm-1.5 -6.8h1.9v1.9h-1.9zm0.8 9.2h1.9v1.9h-1.9zm-1.4 -1.4h1.9v1.9h-1.9zm0.4 1.7h1.9v1.9h-1.9zm-4.3 -3.6h1.9v1.9h-1.9zm5.4 -8.9h1.9v1.9h-1.9zm-4.2 14.2h1.9v1.9h-1.9zm1.8 -5.8h1.9v1.9h-1.9zm-2.5 -8.7h1.9v1.9h-1.9z" fill="#0000FF" fill-opacity="0.42"/><line x1="389.11" y1="290.6" x2="389.11" y2="297.8" stroke="#0000FF" stroke-width="0.7"/><line x1="389.11" y1="302.6" x2="389.11" y2="306.8" stroke="#0000FF" stroke-width="0.7"/><rect x="385.61" y="297.8" width="7" height="4.8" fill="#fff" fill-opacity="0.35" stroke="#0000FF" stroke-width="0.7"/><line x1="385.61" y1="300.3" x2="392.61" y2="300.3" stroke="#0000FF" stroke-width="1"/><clipPath id="cp36"><rect x="395.25" y="254.8" width="6.6" height="49.2"/></clipPath><rect clip-path="url(#cp36)" x="395.25" y="256.51" width="6.6" height="45.57" fill="url(#grh)"/><path d="M396.5 274.6h1.9v1.9h-1.9zm0.9 -2.8h1.9v1.9h-1.9zm-1.7 8.5h1.9v1.9h-1.9zm-1.1 -3.4h1.9v1.9h-1.9zm2.8 9.8h1.9v1.9h-1.9zm2.6 -4.1h1.9v1.9h-1.9zm-0.5 -8.2h1.9v1.9h-1.9zm-1.2 -5.4h1.9v1.9h-1.9zm2.1 -8.1h1.9v1.9h-1.9zm0.1 14.5h1.9v1.9h-1.9zm-5.8 -21.2h1.9v1.9h-1.9zm4.7 22.4h1.9v1.9h-1.9zm1.0 1.1h1.9v1.9h-1.9zm-4.3 10.1h1.9v1.9h-1.9zm1.4 -8.6h1.9v1.9h-1.9zm-1.1 18.1h1.9v1.9h-1.9zm3.2 -18.0h1.9v1.9h-1.9zm-1.0 -20.5h1.9v1.9h-1.9zm-0.4 6.8h1.9v1.9h-1.9zm-3.0 13.5h1.9v1.9h-1.9zm5.1 2.2h1.9v1.9h-1.9zm-1.3 7.5h1.9v1.9h-1.9zm-4.4 -17.0h1.9v1.9h-1.9zm2.0 11.4h1.9v1.9h-1.9zm1.3 -0.0h1.9v1.9h-1.9zm2.2 8.0h1.9v1.9h-1.9zm-3.3 -15.8h1.9v1.9h-1.9zm0.4 13.6h1.9v1.9h-1.9zm-1.1 0.0h1.9v1.9h-1.9zm3.7 -4.7h1.9v1.9h-1.9zm-4.9 -13.1h1.9v1.9h-1.9zm0.6 16.4h1.9v1.9h-1.9zm2.1 -3.5h1.9v1.9h-1.9zm-1.1 -2.6h1.9v1.9h-1.9zm2.3 9.4h1.9v1.9h-1.9zm-0.5 -9.3h1.9v1.9h-1.9zm-2.6 11.9h1.9v1.9h-1.9zm1.8 -30.0h1.9v1.9h-1.9zm2.4 17.2h1.9v1.9h-1.9zm-0.6 -7.8h1.9v1.9h-1.9zm0.2 -0.2h1.9v1.9h-1.9zm1.0 4.0h1.9v1.9h-1.9zm-5.2 2.6h1.9v1.9h-1.9zm5.0 2.5h1.9v1.9h-1.9zm-4.5 10.2h1.9v1.9h-1.9zm-0.6 -16.6h1.9v1.9h-1.9zm2.7 -3.5h1.9v1.9h-1.9zm-0.8 -16.0h1.9v1.9h-1.9zm-1.6 17.3h1.9v1.9h-1.9zm2.8 2.9h1.9v1.9h-1.9zm-3.2 -7.6h1.9v1.9h-1.9zm4.1 14.1h1.9v1.9h-1.9zm0.9 -12.4h1.9v1.9h-1.9zm-5.3 1.2h1.9v1.9h-1.9zm1.7 12.0h1.9v1.9h-1.9zm0.3 -29.0h1.9v1.9h-1.9z" fill="#FF0000" fill-opacity="0.42"/><path d="M398.0 280.7h1.9v1.9h-1.9zm-2.5 -13.1h1.9v1.9h-1.9zm1.9 -8.4h1.9v1.9h-1.9zm0.1 33.9h1.9v1.9h-1.9zm0.2 -16.6h1.9v1.9h-1.9zm-1.5 21.2h1.9v1.9h-1.9zm3.4 -9.8h1.9v1.9h-1.9zm-3.7 -0.8h1.9v1.9h-1.9zm2.2 -9.7h1.9v1.9h-1.9zm1.3 -14.0h1.9v1.9h-1.9zm-4.4 22.7h1.9v1.9h-1.9zm4.6 -10.4h1.9v1.9h-1.9zm-4.8 19.4h1.9v1.9h-1.9zm5.3 -12.6h1.9v1.9h-1.9zm-1.0 -7.4h1.9v1.9h-1.9zm-1.3 9.1h1.9v1.9h-1.9zm-0.1 -2.3h1.9v1.9h-1.9zm-2.4 -6.8h1.9v1.9h-1.9zm0.6 0.6h1.9v1.9h-1.9zm0.2 -1.9h1.9v1.9h-1.9zm3.6 12.0h1.9v1.9h-1.9zm-5.4 -1.9h1.9v1.9h-1.9zm4.8 6.7h1.9v1.9h-1.9zm0.5 -19.7h1.9v1.9h-1.9zm-2.2 9.8h1.9v1.9h-1.9zm-0.3 -6.3h1.9v1.9h-1.9zm1.2 3.1h1.9v1.9h-1.9zm-2.8 6.3h1.9v1.9h-1.9zm0.3 4.0h1.9v1.9h-1.9zm1.9 4.5h1.9v1.9h-1.9zm-0.6 -4.9h1.9v1.9h-1.9zm-2.4 -2.4h1.9v1.9h-1.9zm3.6 -0.2h1.9v1.9h-1.9zm2.6 -14.3h1.9v1.9h-1.9zm-3.2 7.6h1.9v1.9h-1.9zm1.4 -8.7h1.9v1.9h-1.9zm-1.2 20.8h1.9v1.9h-1.9zm-0.1 2.6h1.9v1.9h-1.9zm3.0 -14.1h1.9v1.9h-1.9zm-5.5 -5.8h1.9v1.9h-1.9zm2.8 13.6h1.9v1.9h-1.9zm-1.9 -11.2h1.9v1.9h-1.9zm1.1 5.6h1.9v1.9h-1.9zm-1.5 -3.1h1.9v1.9h-1.9zm-0.0 -0.9h1.9v1.9h-1.9zm3.1 -2.6h1.9v1.9h-1.9zm-2.0 -0.4h1.9v1.9h-1.9zm-0.9 17.8h1.9v1.9h-1.9zm2.0 -13.3h1.9v1.9h-1.9zm2.6 0.5h1.9v1.9h-1.9zm-2.8 -9.6h1.9v1.9h-1.9zm3.0 10.3h1.9v1.9h-1.9zm-2.9 -7.3h1.9v1.9h-1.9zm0.1 13.0h1.9v1.9h-1.9zm-0.9 1.1h1.9v1.9h-1.9zm1.6 15.8h1.9v1.9h-1.9z" fill="#FF0000" fill-opacity="0.42"/><line x1="398.55" y1="257.55" x2="398.55" y2="273.6" stroke="#FF0000" stroke-width="0.7"/><line x1="398.55" y1="284.3" x2="398.55" y2="300.35" stroke="#FF0000" stroke-width="0.7"/><rect x="395.05" y="273.6" width="7" height="10.7" fill="#fff" fill-opacity="0.35" stroke="#FF0000" stroke-width="0.7"/><line x1="395.05" y1="279.3" x2="402.05" y2="279.3" stroke="#FF0000" stroke-width="1"/><path d="M409.4 304.3h1.9v1.9h-1.9zm0.8 -2.2h1.9v1.9h-1.9zm-6.6 -6.1h1.9v1.9h-1.9zm0.1 8.0h1.9v1.9h-1.9zm4.6 -8.1h1.9v1.9h-1.9zm-0.3 -2.3h1.9v1.9h-1.9zm-1.8 1.0h1.9v1.9h-1.9zm-2.1 -1.8h1.9v1.9h-1.9zm5.9 2.3h1.9v1.9h-1.9zm-2.9 5.0h1.9v1.9h-1.9zm-2.0 -2.7h1.9v1.9h-1.9zm5.0 0.9h1.9v1.9h-1.9zm-2.7 3.7h1.9v1.9h-1.9zm-1.4 -3.3h1.9v1.9h-1.9zm3.1 0.2h1.9v1.9h-1.9zm-0.4 0.3h1.9v1.9h-1.9zm-4.3 -5.2h1.9v1.9h-1.9zm0.5 -10.3h1.9v1.9h-1.9zm1.5 19.5h1.9v1.9h-1.9zm-2.2 -10.8h1.9v1.9h-1.9zm2.8 3.4h1.9v1.9h-1.9zm-1.0 -11.1h1.9v1.9h-1.9zm-1.9 8.0h1.9v1.9h-1.9zm1.3 -4.7h1.9v1.9h-1.9zm0.2 12.1h1.9v1.9h-1.9zm-0.1 -9.0h1.9v1.9h-1.9zm2.3 12.5h1.9v1.9h-1.9z" fill="#0000FF" fill-opacity="0.42"/><path d="M408.6 292.9h1.9v1.9h-1.9zm1.6 -2.8h1.9v1.9h-1.9zm-4.3 -3.2h1.9v1.9h-1.9zm1.0 13.8h1.9v1.9h-1.9zm1.8 -8.8h1.9v1.9h-1.9zm1.1 -1.6h1.9v1.9h-1.9zm-2.0 1.3h1.9v1.9h-1.9zm-1.4 -3.7h1.9v1.9h-1.9zm-0.4 11.5h1.9v1.9h-1.9zm0.3 -4.2h1.9v1.9h-1.9zm-2.6 2.6h1.9v1.9h-1.9zm6.5 -13.0h1.9v1.9h-1.9zm-1.0 4.2h1.9v1.9h-1.9zm-1.2 9.1h1.9v1.9h-1.9zm1.2 -9.9h1.9v1.9h-1.9zm-1.1 9.9h1.9v1.9h-1.9zm-2.8 -7.5h1.9v1.9h-1.9zm1.9 2.8h1.9v1.9h-1.9zm-0.1 3.5h1.9v1.9h-1.9zm2.7 4.4h1.9v1.9h-1.9zm-4.0 -12.2h1.9v1.9h-1.9zm2.2 10.3h1.9v1.9h-1.9zm-3.4 -2.4h1.9v1.9h-1.9zm0.7 1.9h1.9v1.9h-1.9zm2.1 -9.3h1.9v1.9h-1.9zm-0.9 -5.9h1.9v1.9h-1.9z" fill="#0000FF" fill-opacity="0.42"/><line x1="407.98" y1="285.7" x2="407.98" y2="295" stroke="#0000FF" stroke-width="0.7"/><line x1="407.98" y1="301.2" x2="407.98" y2="305.4" stroke="#0000FF" stroke-width="0.7"/><rect x="404.48" y="295" width="7" height="6.2" fill="#fff" fill-opacity="0.35" stroke="#0000FF" stroke-width="0.7"/><line x1="404.48" y1="297.8" x2="411.48" y2="297.8" stroke="#0000FF" stroke-width="1"/><path d="M414.4 285.7h1.9v1.9h-1.9zm3.7 5.1h1.9v1.9h-1.9zm-2.0 -8.8h1.9v1.9h-1.9zm-1.3 11.1h1.9v1.9h-1.9zm4.4 -13.9h1.9v1.9h-1.9zm-4.5 8.4h1.9v1.9h-1.9zm-0.2 15.4h1.9v1.9h-1.9zm4.4 11.5h1.9v1.9h-1.9zm-5.5 -33.3h1.9v1.9h-1.9zm0.0 10.9h1.9v1.9h-1.9zm0.8 -10.5h1.9v1.9h-1.9zm2.3 11.7h1.9v1.9h-1.9zm-2.0 -12.9h1.9v1.9h-1.9zm0.5 8.4h1.9v1.9h-1.9zm0.2 -4.0h1.9v1.9h-1.9zm4.0 -0.5h1.9v1.9h-1.9zm-5.1 19.8h1.9v1.9h-1.9zm1.1 -14.3h1.9v1.9h-1.9zm-1.8 2.6h1.9v1.9h-1.9zm2.9 -2.1h1.9v1.9h-1.9zm-1.8 15.3h1.9v1.9h-1.9zm4.8 -8.7h1.9v1.9h-1.9zm-4.5 -18.7h1.9v1.9h-1.9zm2.8 0.9h1.9v1.9h-1.9zm-3.4 -0.9h1.9v1.9h-1.9zm4.0 6.2h1.9v1.9h-1.9zm-1.7 0.7h1.9v1.9h-1.9zm-0.5 1.1h1.9v1.9h-1.9zm3.2 -8.8h1.9v1.9h-1.9zm-0.4 14.8h1.9v1.9h-1.9zm-0.3 -7.4h1.9v1.9h-1.9zm1.1 -0.2h1.9v1.9h-1.9zm-0.4 -5.8h1.9v1.9h-1.9zm-0.5 1.9h1.9v1.9h-1.9zm-1.7 19.3h1.9v1.9h-1.9zm-1.3 -2.2h1.9v1.9h-1.9zm-1.5 -16.2h1.9v1.9h-1.9zm-0.2 13.3h1.9v1.9h-1.9zm3.7 -8.3h1.9v1.9h-1.9zm-2.7 27.1h1.9v1.9h-1.9zm-0.4 -30.5h1.9v1.9h-1.9zm4.7 7.2h1.9v1.9h-1.9zm0.7 -7.1h1.9v1.9h-1.9zm-5.9 15.0h1.9v1.9h-1.9zm1.7 16.9h1.9v1.9h-1.9z" fill="#FF0000" fill-opacity="0.42"/><path d="M416.8 288.9h1.9v1.9h-1.9zm2.3 -9.9h1.9v1.9h-1.9zm-4.4 1.7h1.9v1.9h-1.9zm3.8 6.8h1.9v1.9h-1.9zm-5.4 1.9h1.9v1.9h-1.9zm6.5 0.3h1.9v1.9h-1.9zm-0.4 13.0h1.9v1.9h-1.9zm-3.0 -12.8h1.9v1.9h-1.9zm-2.9 -1.0h1.9v1.9h-1.9zm0.2 4.6h1.9v1.9h-1.9zm2.4 10.6h1.9v1.9h-1.9zm0.6 -3.0h1.9v1.9h-1.9zm-1.4 -14.0h1.9v1.9h-1.9zm0.7 28.0h1.9v1.9h-1.9zm0.4 -21.2h1.9v1.9h-1.9zm-2.4 -9.0h1.9v1.9h-1.9zm0.9 -5.8h1.9v1.9h-1.9zm4.1 17.1h1.9v1.9h-1.9zm-5.3 -8.3h1.9v1.9h-1.9zm5.7 8.5h1.9v1.9h-1.9zm-1.6 -9.1h1.9v1.9h-1.9zm-4.1 7.0h1.9v1.9h-1.9zm4.0 -9.7h1.9v1.9h-1.9zm-1.6 7.7h1.9v1.9h-1.9zm0.5 -4.7h1.9v1.9h-1.9zm-0.0 21.8h1.9v1.9h-1.9zm3.4 -34.9h1.9v1.9h-1.9zm-4.5 20.5h1.9v1.9h-1.9zm-1.8 -4.9h1.9v1.9h-1.9zm5.2 -3.2h1.9v1.9h-1.9zm-1.6 13.1h1.9v1.9h-1.9zm-3.4 -17.9h1.9v1.9h-1.9zm4.0 17.5h1.9v1.9h-1.9zm-1.7 -11.0h1.9v1.9h-1.9zm1.6 9.9h1.9v1.9h-1.9zm-4.4 -16.2h1.9v1.9h-1.9zm0.5 -6.4h1.9v1.9h-1.9zm3.3 17.2h1.9v1.9h-1.9zm-1.0 -9.5h1.9v1.9h-1.9zm-2.5 16.0h1.9v1.9h-1.9zm1.9 5.4h1.9v1.9h-1.9zm3.7 -23.9h1.9v1.9h-1.9zm-0.4 21.3h1.9v1.9h-1.9zm0.3 -28.2h1.9v1.9h-1.9z" fill="#FF0000" fill-opacity="0.42"/><line x1="417.41" y1="274.5" x2="417.41" y2="285.7" stroke="#FF0000" stroke-width="0.7"/><line x1="417.41" y1="295" x2="417.41" y2="308.95" stroke="#FF0000" stroke-width="0.7"/><rect x="413.91" y="285.7" width="7" height="9.3" fill="#fff" fill-opacity="0.35" stroke="#FF0000" stroke-width="0.7"/><line x1="413.91" y1="289.9" x2="420.91" y2="289.9" stroke="#FF0000" stroke-width="1"/><clipPath id="cp39"><rect x="423.55" y="259" width="6.6" height="53.4"/></clipPath><rect clip-path="url(#cp39)" x="423.55" y="258.47" width="6.6" height="60.06" fill="url(#grm)"/><path d="M426.1 281.3h1.9v1.9h-1.9zm0.8 19.5h1.9v1.9h-1.9zm1.0 -37.8h1.9v1.9h-1.9zm-5.0 27.7h1.9v1.9h-1.9zm5.4 1.1h1.9v1.9h-1.9zm-5.0 7.2h1.9v1.9h-1.9zm4.2 -20.7h1.9v1.9h-1.9zm0.5 21.1h1.9v1.9h-1.9zm-3.2 -27.1h1.9v1.9h-1.9zm2.6 2.0h1.9v1.9h-1.9zm-1.6 9.7h1.9v1.9h-1.9zm-0.8 10.0h1.9v1.9h-1.9zm1.1 10.4h1.9v1.9h-1.9zm-0.3 -41.9h1.9v1.9h-1.9zm-1.8 17.2h1.9v1.9h-1.9zm0.5 16.5h1.9v1.9h-1.9zm1.8 -7.6h1.9v1.9h-1.9zm-0.1 -23.3h1.9v1.9h-1.9zm-0.2 15.4h1.9v1.9h-1.9zm0.8 21.8h1.9v1.9h-1.9zm1.9 -31.2h1.9v1.9h-1.9zm-2.0 10.8h1.9v1.9h-1.9zm2.3 5.9h1.9v1.9h-1.9zm-5.7 -2.6h1.9v1.9h-1.9zm-0.1 4.1h1.9v1.9h-1.9zm5.1 -5.5h1.9v1.9h-1.9zm-1.9 4.1h1.9v1.9h-1.9zm0.6 2.5h1.9v1.9h-1.9zm2.0 -1.9h1.9v1.9h-1.9zm-4.2 -4.1h1.9v1.9h-1.9zm1.1 -9.7h1.9v1.9h-1.9zm1.3 21.0h1.9v1.9h-1.9zm-2.8 -1.5h1.9v1.9h-1.9zm2.5 4.0h1.9v1.9h-1.9zm-1.5 -18.7h1.9v1.9h-1.9zm2.9 -6.4h1.9v1.9h-1.9zm-4.2 21.0h1.9v1.9h-1.9zm2.3 -16.1h1.9v1.9h-1.9zm-1.4 12.3h1.9v1.9h-1.9zm0.4 -5.2h1.9v1.9h-1.9zm3.0 -0.9h1.9v1.9h-1.9zm-3.0 -11.4h1.9v1.9h-1.9zm-0.7 23.3h1.9v1.9h-1.9zm3.4 8.6h1.9v1.9h-1.9zm-5.0 -7.3h1.9v1.9h-1.9zm0.1 -15.6h1.9v1.9h-1.9zm3.3 -5.6h1.9v1.9h-1.9zm-3.7 27.7h1.9v1.9h-1.9zm3.2 -5.1h1.9v1.9h-1.9zm-2.8 -14.2h1.9v1.9h-1.9zm3.2 -4.0h1.9v1.9h-1.9zm0.3 -2.2h1.9v1.9h-1.9zm2.3 16.8h1.9v1.9h-1.9zm-0.9 13.0h1.9v1.9h-1.9zm-3.3 -19.4h1.9v1.9h-1.9zm-0.6 -30.8h1.9v1.9h-1.9z" fill="#FF0000" fill-opacity="0.42"/><path d="M424.6 288.5h1.9v1.9h-1.9zm1.0 -10.6h1.9v1.9h-1.9zm-2.0 23.3h1.9v1.9h-1.9zm4.6 -29.1h1.9v1.9h-1.9zm-2.4 -8.7h1.9v1.9h-1.9zm-2.4 23.0h1.9v1.9h-1.9zm0.5 -1.6h1.9v1.9h-1.9zm-1.3 -5.5h1.9v1.9h-1.9zm1.8 7.9h1.9v1.9h-1.9zm3.6 0.8h1.9v1.9h-1.9zm-3.6 8.2h1.9v1.9h-1.9zm-0.9 -2.5h1.9v1.9h-1.9zm4.1 -5.4h1.9v1.9h-1.9zm-4.0 -12.6h1.9v1.9h-1.9zm1.2 6.3h1.9v1.9h-1.9zm3.8 3.3h1.9v1.9h-1.9zm-5.1 6.6h1.9v1.9h-1.9zm-0.4 -25.4h1.9v1.9h-1.9zm3.5 29.5h1.9v1.9h-1.9zm-2.3 -17.6h1.9v1.9h-1.9zm1.3 17.2h1.9v1.9h-1.9zm-2.2 4.3h1.9v1.9h-1.9zm0.3 -24.7h1.9v1.9h-1.9zm4.7 4.9h1.9v1.9h-1.9zm-4.0 -10.4h1.9v1.9h-1.9zm4.7 40.9h1.9v1.9h-1.9zm-3.5 -11.5h1.9v1.9h-1.9zm-1.0 -15.6h1.9v1.9h-1.9zm2.5 6.2h1.9v1.9h-1.9zm-2.0 -28.2h1.9v1.9h-1.9zm-0.7 18.2h1.9v1.9h-1.9zm-0.6 -6.1h1.9v1.9h-1.9zm4.1 30.2h1.9v1.9h-1.9zm-3.9 -17.9h1.9v1.9h-1.9zm3.0 15.2h1.9v1.9h-1.9zm-1.5 -0.2h1.9v1.9h-1.9zm3.1 2.4h1.9v1.9h-1.9zm-5.5 0.3h1.9v1.9h-1.9zm4.8 -9.7h1.9v1.9h-1.9zm-4.0 -14.0h1.9v1.9h-1.9zm3.0 -5.8h1.9v1.9h-1.9zm-2.8 18.2h1.9v1.9h-1.9zm4.2 -14.1h1.9v1.9h-1.9zm-4.6 32.6h1.9v1.9h-1.9zm1.6 -9.6h1.9v1.9h-1.9zm0.9 -6.3h1.9v1.9h-1.9zm-3.7 -5.7h1.9v1.9h-1.9zm1.6 -12.0h1.9v1.9h-1.9zm-0.0 23.3h1.9v1.9h-1.9zm4.5 -10.5h1.9v1.9h-1.9zm-3.8 -2.3h1.9v1.9h-1.9zm2.2 1.3h1.9v1.9h-1.9zm1.4 -10.0h1.9v1.9h-1.9zm-5.3 15.9h1.9v1.9h-1.9zm1.3 -3.7h1.9v1.9h-1.9zm1.1 19.9h1.9v1.9h-1.9z" fill="#FF0000" fill-opacity="0.42"/><line x1="426.85" y1="260.35" x2="426.85" y2="281.5" stroke="#FF0000" stroke-width="0.7"/><line x1="426.85" y1="295.6" x2="426.85" y2="312.4" stroke="#FF0000" stroke-width="0.7"/><rect x="423.35" y="281.5" width="7" height="14.1" fill="#fff" fill-opacity="0.35" stroke="#FF0000" stroke-width="0.7"/><line x1="423.35" y1="288.5" x2="430.35" y2="288.5" stroke="#FF0000" stroke-width="1"/><clipPath id="cp40"><rect x="432.98" y="271.9" width="6.6" height="50.7"/></clipPath><rect clip-path="url(#cp40)" x="432.98" y="279.44" width="6.6" height="31.52" fill="url(#grl)"/><path d="M438.3 301.6h1.9v1.9h-1.9zm-0.5 -6.0h1.9v1.9h-1.9zm-3.6 -23.8h1.9v1.9h-1.9zm-2.0 31.6h1.9v1.9h-1.9zm6.3 -14.5h1.9v1.9h-1.9zm-6.0 -7.1h1.9v1.9h-1.9zm2.2 4.9h1.9v1.9h-1.9zm-1.6 0.4h1.9v1.9h-1.9zm4.5 9.1h1.9v1.9h-1.9zm-2.7 -0.1h1.9v1.9h-1.9zm1.6 -4.9h1.9v1.9h-1.9zm-1.0 -9.1h1.9v1.9h-1.9zm-1.4 17.2h1.9v1.9h-1.9zm-1.4 -2.8h1.9v1.9h-1.9zm2.9 2.8h1.9v1.9h-1.9zm0.0 -1.8h1.9v1.9h-1.9zm2.2 -11.2h1.9v1.9h-1.9zm0.2 7.7h1.9v1.9h-1.9zm-4.5 -1.7h1.9v1.9h-1.9zm4.2 2.4h1.9v1.9h-1.9zm-0.2 -10.0h1.9v1.9h-1.9zm-0.3 6.2h1.9v1.9h-1.9zm0.7 30.3h1.9v1.9h-1.9zm-6.0 -38.4h1.9v1.9h-1.9zm1.2 2.3h1.9v1.9h-1.9zm0.4 15.4h1.9v1.9h-1.9zm1.0 -4.7h1.9v1.9h-1.9zm2.0 -22.0h1.9v1.9h-1.9zm-2.1 11.2h1.9v1.9h-1.9zm0.3 3.8h1.9v1.9h-1.9zm-1.5 -1.4h1.9v1.9h-1.9zm1.0 -6.0h1.9v1.9h-1.9zm0.2 29.9h1.9v1.9h-1.9zm3.5 -34.4h1.9v1.9h-1.9zm-3.8 19.6h1.9v1.9h-1.9zm0.5 -3.9h1.9v1.9h-1.9zm-0.9 -9.4h1.9v1.9h-1.9zm3.6 15.3h1.9v1.9h-1.9zm1.0 -9.9h1.9v1.9h-1.9zm-0.1 4.4h1.9v1.9h-1.9zm-4.5 5.9h1.9v1.9h-1.9zm1.5 -10.1h1.9v1.9h-1.9zm-2.1 -10.0h1.9v1.9h-1.9zm-0.2 -6.0h1.9v1.9h-1.9zm2.8 26.5h1.9v1.9h-1.9zm-1.2 -7.3h1.9v1.9h-1.9zm0.5 1.9h1.9v1.9h-1.9zm1.1 -6.4h1.9v1.9h-1.9zm2.0 -0.1h1.9v1.9h-1.9zm-4.9 -11.0h1.9v1.9h-1.9zm5.0 20.0h1.9v1.9h-1.9zm-4.6 5.9h1.9v1.9h-1.9zm4.7 -25.5h1.9v1.9h-1.9zm-4.1 23.2h1.9v1.9h-1.9zm-2.2 -3.3h1.9v1.9h-1.9zm1.8 -25.3h1.9v1.9h-1.9zm0.5 58.6h1.9v1.9h-1.9z" fill="#FF0000" fill-opacity="0.42"/><path d="M432.1 295.9h1.9v1.9h-1.9zm6.6 1.9h1.9v1.9h-1.9zm-3.6 7.8h1.9v1.9h-1.9zm2.9 2.6h1.9v1.9h-1.9zm-3.4 -3.2h1.9v1.9h-1.9zm3.5 -8.4h1.9v1.9h-1.9zm-5.6 1.7h1.9v1.9h-1.9zm3.9 -1.7h1.9v1.9h-1.9zm-4.0 -20.3h1.9v1.9h-1.9zm4.8 21.3h1.9v1.9h-1.9zm-0.6 0.8h1.9v1.9h-1.9zm0.9 18.0h1.9v1.9h-1.9zm-2.7 -18.4h1.9v1.9h-1.9zm-0.1 -2.8h1.9v1.9h-1.9zm2.0 5.9h1.9v1.9h-1.9zm-1.4 5.7h1.9v1.9h-1.9zm-0.4 -14.3h1.9v1.9h-1.9zm-2.2 19.7h1.9v1.9h-1.9zm0.6 -22.6h1.9v1.9h-1.9zm1.2 8.8h1.9v1.9h-1.9zm-1.1 1.2h1.9v1.9h-1.9zm3.8 -9.1h1.9v1.9h-1.9zm1.0 3.1h1.9v1.9h-1.9zm-2.5 -6.8h1.9v1.9h-1.9zm-3.6 -15.7h1.9v1.9h-1.9zm3.0 20.8h1.9v1.9h-1.9zm-0.1 9.4h1.9v1.9h-1.9zm-0.9 -20.9h1.9v1.9h-1.9zm3.0 20.5h1.9v1.9h-1.9zm-1.3 -16.0h1.9v1.9h-1.9zm-0.1 5.9h1.9v1.9h-1.9zm1.0 -1.1h1.9v1.9h-1.9zm-4.1 7.1h1.9v1.9h-1.9zm3.9 -4.5h1.9v1.9h-1.9zm1.7 3.0h1.9v1.9h-1.9zm-5.5 1.3h1.9v1.9h-1.9zm5.4 -1.4h1.9v1.9h-1.9zm-3.6 -6.1h1.9v1.9h-1.9zm0.2 10.5h1.9v1.9h-1.9zm-2.3 -14.6h1.9v1.9h-1.9zm2.1 12.3h1.9v1.9h-1.9zm-2.3 -2.3h1.9v1.9h-1.9zm6.4 2.3h1.9v1.9h-1.9zm-1.2 -9.8h1.9v1.9h-1.9zm-0.4 2.8h1.9v1.9h-1.9zm1.6 7.4h1.9v1.9h-1.9zm-3.3 -4.6h1.9v1.9h-1.9zm-0.6 -4.1h1.9v1.9h-1.9zm-1.9 11.5h1.9v1.9h-1.9zm3.0 7.8h1.9v1.9h-1.9zm2.3 -28.8h1.9v1.9h-1.9zm-2.5 18.0h1.9v1.9h-1.9zm-2.8 -2.8h1.9v1.9h-1.9zm4.7 10.9h1.9v1.9h-1.9zm0.9 -11.9h1.9v1.9h-1.9zm-4.4 27.5h1.9v1.9h-1.9zm-1.1 23.8h1.9v1.9h-1.9z" fill="#FF0000" fill-opacity="0.42"/><line x1="436.28" y1="280.9" x2="436.28" y2="292" stroke="#FF0000" stroke-width="0.7"/><line x1="436.28" y1="299.4" x2="436.28" y2="310.5" stroke="#FF0000" stroke-width="0.7"/><rect x="432.78" y="292" width="7" height="7.4" fill="#fff" fill-opacity="0.35" stroke="#FF0000" stroke-width="0.7"/><line x1="432.78" y1="295.2" x2="439.78" y2="295.2" stroke="#FF0000" stroke-width="1"/><path d="M447.1 295.9h1.9v1.9h-1.9zm-4.6 -2.4h1.9v1.9h-1.9zm5.6 0.5h1.9v1.9h-1.9zm-1.5 -1.3h1.9v1.9h-1.9z" fill="#0000FF" fill-opacity="0.42"/><line x1="445.71" y1="293" x2="445.71" y2="294.3" stroke="#0000FF" stroke-width="0.7"/><line x1="445.71" y1="296.3" x2="445.71" y2="298" stroke="#0000FF" stroke-width="0.7"/><rect x="442.21" y="294.3" width="7" height="2" fill="#fff" fill-opacity="0.35" stroke="#0000FF" stroke-width="0.7"/><line x1="442.21" y1="295.2" x2="449.21" y2="295.2" stroke="#0000FF" stroke-width="1"/><clipPath id="cp42"><rect x="451.85" y="250.8" width="6.6" height="103.6"/></clipPath><rect clip-path="url(#cp42)" x="451.85" y="278.93" width="6.6" height="45.15" fill="url(#grl)"/><path d="M454.8 315.1h1.9v1.9h-1.9zm-2.1 35.2h1.9v1.9h-1.9zm-1.6 -94.7h1.9v1.9h-1.9zm5.1 6.2h1.9v1.9h-1.9zm0.7 28.7h1.9v1.9h-1.9zm-0.8 2.5h1.9v1.9h-1.9zm-4.4 -34.8h1.9v1.9h-1.9zm3.2 34.5h1.9v1.9h-1.9zm-2.1 41.9h1.9v1.9h-1.9zm3.5 -51.3h1.9v1.9h-1.9zm-3.0 38.0h1.9v1.9h-1.9zm3.5 -23.1h1.9v1.9h-1.9zm-5.6 10.6h1.9v1.9h-1.9zm5.2 24.3h1.9v1.9h-1.9zm0.7 13.8h1.9v1.9h-1.9zm-2.8 -35.6h1.9v1.9h-1.9zm-2.6 -25.5h1.9v1.9h-1.9zm2.5 42.0h1.9v1.9h-1.9zm-3.0 -24.0h1.9v1.9h-1.9zm3.0 22.6h1.9v1.9h-1.9zm-2.6 -7.7h1.9v1.9h-1.9zm5.0 6.3h1.9v1.9h-1.9zm-5.4 -15.6h1.9v1.9h-1.9zm1.1 -9.6h1.9v1.9h-1.9zm3.4 -35.8h1.9v1.9h-1.9zm-0.8 14.0h1.9v1.9h-1.9zm-0.4 64.3h1.9v1.9h-1.9zm0.9 -63.5h1.9v1.9h-1.9zm1.3 52.1h1.9v1.9h-1.9zm-0.2 -1.7h1.9v1.9h-1.9zm-2.1 2.3h1.9v1.9h-1.9zm-0.4 -25.5h1.9v1.9h-1.9zm0.7 13.7h1.9v1.9h-1.9zm0.9 -40.0h1.9v1.9h-1.9zm-2.2 24.0h1.9v1.9h-1.9zm0.2 -0.5h1.9v1.9h-1.9zm1.0 -13.3h1.9v1.9h-1.9zm-0.7 17.1h1.9v1.9h-1.9zm-0.4 7.2h1.9v1.9h-1.9zm3.5 -22.2h1.9v1.9h-1.9zm-4.9 -7.6h1.9v1.9h-1.9zm0.1 39.7h1.9v1.9h-1.9zm-0.0 4.0h1.9v1.9h-1.9zm0.5 -6.1h1.9v1.9h-1.9zm-0.2 0.1h1.9v1.9h-1.9zm1.1 -40.1h1.9v1.9h-1.9zm-1.5 11.8h1.9v1.9h-1.9zm4.9 -34.8h1.9v1.9h-1.9zm-5.5 35.1h1.9v1.9h-1.9zm5.0 -26.1h1.9v1.9h-1.9zm-3.7 60.8h1.9v1.9h-1.9zm-1.0 -26.1h1.9v1.9h-1.9zm4.8 -22.2h1.9v1.9h-1.9zm-4.4 26.9h1.9v1.9h-1.9zm4.7 -21.2h1.9v1.9h-1.9zm-0.7 -35.6h1.9v1.9h-1.9z" fill="#FF0000" fill-opacity="0.42"/><path d="M453.6 320.5h1.9v1.9h-1.9zm-0.8 -39.7h1.9v1.9h-1.9zm3.5 38.0h1.9v1.9h-1.9zm-5.1 -2.4h1.9v1.9h-1.9zm6.2 10.2h1.9v1.9h-1.9zm-4.9 -63.2h1.9v1.9h-1.9zm-1.4 -0.2h1.9v1.9h-1.9zm0.2 85.8h1.9v1.9h-1.9zm1.9 -42.0h1.9v1.9h-1.9zm1.8 -2.7h1.9v1.9h-1.9zm-3.9 6.4h1.9v1.9h-1.9zm3.7 -7.3h1.9v1.9h-1.9zm1.4 -32.8h1.9v1.9h-1.9zm0.4 52.4h1.9v1.9h-1.9zm-3.7 -15.3h1.9v1.9h-1.9zm2.1 0.2h1.9v1.9h-1.9zm2.1 -53.4h1.9v1.9h-1.9zm-2.8 44.3h1.9v1.9h-1.9zm-1.4 2.7h1.9v1.9h-1.9zm4.5 -13.7h1.9v1.9h-1.9zm-1.8 -22.6h1.9v1.9h-1.9zm-2.1 31.8h1.9v1.9h-1.9zm3.7 27.1h1.9v1.9h-1.9zm-4.6 -10.8h1.9v1.9h-1.9zm4.4 -0.9h1.9v1.9h-1.9zm-6.0 -37.8h1.9v1.9h-1.9zm0.8 9.5h1.9v1.9h-1.9zm0.4 34.5h1.9v1.9h-1.9zm2.8 -4.1h1.9v1.9h-1.9zm-3.9 -31.9h1.9v1.9h-1.9zm3.9 23.3h1.9v1.9h-1.9zm1.8 6.3h1.9v1.9h-1.9zm-5.4 -36.2h1.9v1.9h-1.9zm-0.7 27.8h1.9v1.9h-1.9zm2.6 27.0h1.9v1.9h-1.9zm-0.1 -50.5h1.9v1.9h-1.9zm3.0 -12.5h1.9v1.9h-1.9zm-3.7 46.9h1.9v1.9h-1.9zm-1.4 -31.0h1.9v1.9h-1.9zm3.0 -7.2h1.9v1.9h-1.9zm-1.4 27.4h1.9v1.9h-1.9zm-0.7 -26.3h1.9v1.9h-1.9zm-0.4 19.7h1.9v1.9h-1.9zm2.7 -23.7h1.9v1.9h-1.9zm1.1 38.8h1.9v1.9h-1.9zm0.5 17.4h1.9v1.9h-1.9zm-1.5 -44.6h1.9v1.9h-1.9zm-0.8 34.8h1.9v1.9h-1.9zm-2.6 -25.9h1.9v1.9h-1.9zm4.9 -2.7h1.9v1.9h-1.9zm0.6 25.7h1.9v1.9h-1.9zm-1.8 -32.2h1.9v1.9h-1.9zm-0.9 29.7h1.9v1.9h-1.9zm-2.6 -33.3h1.9v1.9h-1.9zm0.4 40.6h1.9v1.9h-1.9zm0.1 30.9h1.9v1.9h-1.9z" fill="#FF0000" fill-opacity="0.42"/><line x1="455.15" y1="280.3" x2="455.15" y2="296.2" stroke="#FF0000" stroke-width="0.7"/><line x1="455.15" y1="306.8" x2="455.15" y2="322.7" stroke="#FF0000" stroke-width="0.7"/><rect x="451.65" y="296.2" width="7" height="10.6" fill="#fff" fill-opacity="0.35" stroke="#FF0000" stroke-width="0.7"/><line x1="451.65" y1="301.5" x2="458.65" y2="301.5" stroke="#FF0000" stroke-width="1"/><path d="M465.5 275.5h1.9v1.9h-1.9zm-2.9 1.3h1.9v1.9h-1.9zm3.9 6.1h1.9v1.9h-1.9z" fill="#0000FF" fill-opacity="0.42"/><line x1="464.58" y1="264.5" x2="464.58" y2="271.9" stroke="#0000FF" stroke-width="0.7"/><line x1="464.58" y1="282.9" x2="464.58" y2="286.7" stroke="#0000FF" stroke-width="0.7"/><rect x="461.08" y="271.9" width="7" height="11" fill="#fff" fill-opacity="0.35" stroke="#0000FF" stroke-width="0.7"/><line x1="461.08" y1="279.3" x2="468.08" y2="279.3" stroke="#0000FF" stroke-width="1"/><clipPath id="cp44"><rect x="470.71" y="273" width="6.6" height="39"/></clipPath><rect clip-path="url(#cp44)" x="470.71" y="267.08" width="6.6" height="49.83" fill="url(#grh)"/><path d="M476.4 288.4h1.9v1.9h-1.9zm-4.9 -10.7h1.9v1.9h-1.9zm2.1 2.0h1.9v1.9h-1.9zm-2.5 30.9h1.9v1.9h-1.9zm1.5 -20.7h1.9v1.9h-1.9zm3.6 3.9h1.9v1.9h-1.9zm-2.3 -4.9h1.9v1.9h-1.9zm-0.7 15.1h1.9v1.9h-1.9zm3.2 -15.6h1.9v1.9h-1.9zm-2.4 -4.9h1.9v1.9h-1.9zm-0.8 8.5h1.9v1.9h-1.9zm2.3 9.5h1.9v1.9h-1.9zm-5.8 -5.9h1.9v1.9h-1.9zm2.7 -8.1h1.9v1.9h-1.9zm2.1 0.9h1.9v1.9h-1.9zm-4.4 17.1h1.9v1.9h-1.9zm2.4 -31.7h1.9v1.9h-1.9zm3.4 19.7h1.9v1.9h-1.9zm-4.8 -2.2h1.9v1.9h-1.9zm-0.7 12.0h1.9v1.9h-1.9zm1.9 -9.9h1.9v1.9h-1.9zm-1.2 -3.3h1.9v1.9h-1.9zm-0.4 2.9h1.9v1.9h-1.9zm0.6 5.7h1.9v1.9h-1.9zm2.4 -11.9h1.9v1.9h-1.9zm1.1 -3.5h1.9v1.9h-1.9zm-2.3 13.8h1.9v1.9h-1.9zm3.0 -15.3h1.9v1.9h-1.9zm-2.0 0.8h1.9v1.9h-1.9zm-0.8 14.8h1.9v1.9h-1.9zm1.4 -5.4h1.9v1.9h-1.9zm-3.2 9.1h1.9v1.9h-1.9zm-1.0 -15.2h1.9v1.9h-1.9zm0.3 18.7h1.9v1.9h-1.9zm0.6 -14.1h1.9v1.9h-1.9zm2.7 10.7h1.9v1.9h-1.9zm-0.4 -12.6h1.9v1.9h-1.9zm-0.4 8.6h1.9v1.9h-1.9zm1.3 -4.0h1.9v1.9h-1.9zm-3.4 -9.8h1.9v1.9h-1.9zm-0.6 -1.0h1.9v1.9h-1.9zm1.9 19.0h1.9v1.9h-1.9zm-0.1 -6.7h1.9v1.9h-1.9zm3.5 15.8h1.9v1.9h-1.9zm-4.2 -0.3h1.9v1.9h-1.9zm2.4 -16.8h1.9v1.9h-1.9zm2.3 3.8h1.9v1.9h-1.9zm-0.9 -2.5h1.9v1.9h-1.9zm-3.6 -11.7h1.9v1.9h-1.9zm-0.9 18.8h1.9v1.9h-1.9zm0.1 -17.3h1.9v1.9h-1.9zm4.4 19.7h1.9v1.9h-1.9zm0.8 -18.4h1.9v1.9h-1.9zm-5.7 21.8h1.9v1.9h-1.9zm4.9 -34.1h1.9v1.9h-1.9zm-0.5 -1.2h1.9v1.9h-1.9zm-2.0 60.8h1.9v1.9h-1.9z" fill="#FF0000" fill-opacity="0.42"/><path d="M475.5 289.7h1.9v1.9h-1.9zm0.2 9.6h1.9v1.9h-1.9zm-3.1 0.8h1.9v1.9h-1.9zm-0.4 -20.9h1.9v1.9h-1.9zm-0.5 8.5h1.9v1.9h-1.9zm0.1 3.5h1.9v1.9h-1.9zm-1.0 -16.8h1.9v1.9h-1.9zm2.9 3.8h1.9v1.9h-1.9zm2.7 22.0h1.9v1.9h-1.9zm-6.5 -2.2h1.9v1.9h-1.9zm0.8 4.7h1.9v1.9h-1.9zm5.0 -22.6h1.9v1.9h-1.9zm-3.0 11.2h1.9v1.9h-1.9zm1.2 2.4h1.9v1.9h-1.9zm1.6 -13.8h1.9v1.9h-1.9zm-4.8 13.3h1.9v1.9h-1.9zm1.7 -3.9h1.9v1.9h-1.9zm0.1 14.1h1.9v1.9h-1.9zm-0.7 -13.5h1.9v1.9h-1.9zm-1.4 -9.5h1.9v1.9h-1.9zm0.9 18.6h1.9v1.9h-1.9zm1.3 -22.2h1.9v1.9h-1.9zm-2.7 5.2h1.9v1.9h-1.9zm0.2 19.4h1.9v1.9h-1.9zm1.2 -28.4h1.9v1.9h-1.9zm-0.4 26.0h1.9v1.9h-1.9zm0.0 -24.6h1.9v1.9h-1.9zm5.3 17.2h1.9v1.9h-1.9zm-1.8 17.1h1.9v1.9h-1.9zm1.1 2.0h1.9v1.9h-1.9zm-0.6 -22.1h1.9v1.9h-1.9zm0.2 -0.0h1.9v1.9h-1.9zm-4.1 20.2h1.9v1.9h-1.9zm3.5 -25.0h1.9v1.9h-1.9zm-1.9 11.0h1.9v1.9h-1.9zm0.5 -8.2h1.9v1.9h-1.9zm0.6 -2.0h1.9v1.9h-1.9zm-2.3 12.0h1.9v1.9h-1.9zm0.8 8.0h1.9v1.9h-1.9zm2.2 -14.0h1.9v1.9h-1.9zm-0.3 -13.4h1.9v1.9h-1.9zm-0.6 25.1h1.9v1.9h-1.9zm-1.9 -23.1h1.9v1.9h-1.9zm1.7 28.5h1.9v1.9h-1.9zm-0.6 -5.8h1.9v1.9h-1.9zm-2.7 -24.4h1.9v1.9h-1.9zm3.7 2.0h1.9v1.9h-1.9zm-2.8 17.5h1.9v1.9h-1.9zm2.9 -6.9h1.9v1.9h-1.9zm1.8 8.7h1.9v1.9h-1.9zm0.7 -16.2h1.9v1.9h-1.9zm-5.5 -7.2h1.9v1.9h-1.9zm3.7 22.6h1.9v1.9h-1.9zm-1.1 -12.8h1.9v1.9h-1.9zm-0.3 22.5h1.9v1.9h-1.9zm-1.3 3.4h1.9v1.9h-1.9z" fill="#FF0000" fill-opacity="0.42"/><line x1="474.01" y1="273" x2="474.01" y2="285.6" stroke="#FF0000" stroke-width="0.7"/><line x1="474.01" y1="297.3" x2="474.01" y2="312" stroke="#FF0000" stroke-width="0.7"/><rect x="470.51" y="285.6" width="7" height="11.7" fill="#fff" fill-opacity="0.35" stroke="#FF0000" stroke-width="0.7"/><line x1="470.51" y1="292" x2="477.51" y2="292" stroke="#FF0000" stroke-width="1"/><path d="M485.9 283.0h1.9v1.9h-1.9zm-1.3 -2.0h1.9v1.9h-1.9zm-3.6 -1.7h1.9v1.9h-1.9zm1.9 9.4h1.9v1.9h-1.9zm-1.8 -8.8h1.9v1.9h-1.9zm1.4 15.1h1.9v1.9h-1.9zm2.6 7.6h1.9v1.9h-1.9zm-3.8 -15.6h1.9v1.9h-1.9zm3.1 -1.3h1.9v1.9h-1.9zm-3.2 1.1h1.9v1.9h-1.9zm3.4 8.9h1.9v1.9h-1.9zm-0.4 -13.8h1.9v1.9h-1.9zm0.1 12.2h1.9v1.9h-1.9zm0.8 13.6h1.9v1.9h-1.9zm0.4 -10.9h1.9v1.9h-1.9zm0.1 -1.9h1.9v1.9h-1.9zm-0.5 -12.2h1.9v1.9h-1.9zm-4.6 -3.3h1.9v1.9h-1.9zm3.2 15.5h1.9v1.9h-1.9zm1.0 2.9h1.9v1.9h-1.9zm-0.3 -8.8h1.9v1.9h-1.9zm-3.8 13.7h1.9v1.9h-1.9zm3.4 -2.0h1.9v1.9h-1.9zm-4.4 -12.3h1.9v1.9h-1.9zm4.0 11.7h1.9v1.9h-1.9zm-3.4 -4.5h1.9v1.9h-1.9zm0.7 -16.5h1.9v1.9h-1.9z" fill="#0000FF" fill-opacity="0.42"/><path d="M481.9 287.2h1.9v1.9h-1.9zm-2.7 2.3h1.9v1.9h-1.9zm5.7 -4.2h1.9v1.9h-1.9zm-1.4 11.5h1.9v1.9h-1.9zm1.0 3.5h1.9v1.9h-1.9zm-1.8 -9.4h1.9v1.9h-1.9zm1.9 -9.4h1.9v1.9h-1.9zm0.3 11.4h1.9v1.9h-1.9zm-2.4 -2.5h1.9v1.9h-1.9zm-2.4 5.8h1.9v1.9h-1.9zm4.8 0.4h1.9v1.9h-1.9zm0.4 -15.5h1.9v1.9h-1.9zm-2.4 24.6h1.9v1.9h-1.9zm-1.6 -24.1h1.9v1.9h-1.9zm3.7 12.3h1.9v1.9h-1.9zm-2.4 -15.4h1.9v1.9h-1.9zm1.7 15.1h1.9v1.9h-1.9zm-5.2 10.1h1.9v1.9h-1.9zm5.0 -7.3h1.9v1.9h-1.9zm-5.0 -17.7h1.9v1.9h-1.9zm3.7 13.4h1.9v1.9h-1.9zm1.3 -12.7h1.9v1.9h-1.9zm-5.1 2.4h1.9v1.9h-1.9zm2.1 16.4h1.9v1.9h-1.9zm0.8 -17.1h1.9v1.9h-1.9zm3.5 19.3h1.9v1.9h-1.9zm-3.0 8.1h1.9v1.9h-1.9z" fill="#0000FF" fill-opacity="0.42"/><line x1="483.44" y1="279.3" x2="483.44" y2="286.7" stroke="#0000FF" stroke-width="0.7"/><line x1="483.44" y1="297.3" x2="483.44" y2="310" stroke="#0000FF" stroke-width="0.7"/><rect x="479.94" y="286.7" width="7" height="10.6" fill="#fff" fill-opacity="0.35" stroke="#0000FF" stroke-width="0.7"/><line x1="479.94" y1="289.9" x2="486.94" y2="289.9" stroke="#0000FF" stroke-width="1"/><clipPath id="cp46"><rect x="489.58" y="266.6" width="6.6" height="34.9"/></clipPath><rect clip-path="url(#cp46)" x="489.58" y="267.74" width="6.6" height="31.52" fill="url(#grl)"/><path d="M489.1 283.4h1.9v1.9h-1.9zm0.6 -1.1h1.9v1.9h-1.9zm5.4 -0.9h1.9v1.9h-1.9zm-2.0 -8.4h1.9v1.9h-1.9zm0.5 -3.4h1.9v1.9h-1.9zm-1.5 11.2h1.9v1.9h-1.9zm3.1 1.3h1.9v1.9h-1.9zm-0.8 0.1h1.9v1.9h-1.9zm-1.9 3.0h1.9v1.9h-1.9zm1.5 -6.5h1.9v1.9h-1.9zm-2.8 -0.4h1.9v1.9h-1.9zm1.4 3.3h1.9v1.9h-1.9zm-3.5 2.4h1.9v1.9h-1.9zm3.5 9.6h1.9v1.9h-1.9zm-1.1 -8.9h1.9v1.9h-1.9zm3.7 -4.0h1.9v1.9h-1.9zm-0.5 2.4h1.9v1.9h-1.9zm-3.2 8.1h1.9v1.9h-1.9zm-1.2 -3.2h1.9v1.9h-1.9zm3.8 -11.4h1.9v1.9h-1.9zm-3.9 11.5h1.9v1.9h-1.9zm3.5 -6.3h1.9v1.9h-1.9zm-1.0 -9.1h1.9v1.9h-1.9zm-2.3 17.1h1.9v1.9h-1.9zm4.5 -18.0h1.9v1.9h-1.9zm-0.1 19.1h1.9v1.9h-1.9zm-1.3 0.1h1.9v1.9h-1.9zm-3.3 -17.5h1.9v1.9h-1.9zm-0.8 9.0h1.9v1.9h-1.9zm5.5 8.2h1.9v1.9h-1.9zm-0.9 -11.5h1.9v1.9h-1.9zm-1.7 15.6h1.9v1.9h-1.9zm1.9 -9.1h1.9v1.9h-1.9zm-4.0 -0.9h1.9v1.9h-1.9zm3.0 -0.2h1.9v1.9h-1.9zm-2.8 -3.6h1.9v1.9h-1.9zm2.7 6.6h1.9v1.9h-1.9zm-2.3 -7.1h1.9v1.9h-1.9zm2.3 -11.4h1.9v1.9h-1.9zm-3.3 26.0h1.9v1.9h-1.9zm0.1 -17.9h1.9v1.9h-1.9zm3.2 8.8h1.9v1.9h-1.9zm-4.2 -5.3h1.9v1.9h-1.9zm3.1 -5.5h1.9v1.9h-1.9zm-1.7 9.8h1.9v1.9h-1.9zm2.3 -3.6h1.9v1.9h-1.9zm0.1 -0.9h1.9v1.9h-1.9zm2.4 18.9h1.9v1.9h-1.9zm-6.3 -25.1h1.9v1.9h-1.9zm3.7 21.9h1.9v1.9h-1.9zm1.2 -14.3h1.9v1.9h-1.9zm-2.5 6.1h1.9v1.9h-1.9zm0.1 -9.6h1.9v1.9h-1.9zm2.8 -10.8h1.9v1.9h-1.9zm-4.8 12.4h1.9v1.9h-1.9zm2.7 -13.8h1.9v1.9h-1.9z" fill="#FF0000" fill-opacity="0.42"/><path d="M491.1 287.6h1.9v1.9h-1.9zm3.7 0.9h1.9v1.9h-1.9zm-3.5 -2.9h1.9v1.9h-1.9zm-2.6 -4.9h1.9v1.9h-1.9zm5.3 0.9h1.9v1.9h-1.9zm0.6 16.6h1.9v1.9h-1.9zm-3.0 -6.1h1.9v1.9h-1.9zm2.9 -9.8h1.9v1.9h-1.9zm-0.6 -3.0h1.9v1.9h-1.9zm-5.0 -0.4h1.9v1.9h-1.9zm0.1 -3.2h1.9v1.9h-1.9zm1.8 -3.0h1.9v1.9h-1.9zm2.5 11.7h1.9v1.9h-1.9zm1.3 -6.0h1.9v1.9h-1.9zm-2.9 3.3h1.9v1.9h-1.9zm-1.7 -4.0h1.9v1.9h-1.9zm0.2 9.2h1.9v1.9h-1.9zm-0.2 -6.0h1.9v1.9h-1.9zm3.3 0.4h1.9v1.9h-1.9zm-3.7 -3.7h1.9v1.9h-1.9zm0.7 20.2h1.9v1.9h-1.9zm-0.1 -13.5h1.9v1.9h-1.9zm-0.8 -12.4h1.9v1.9h-1.9zm5.6 0.9h1.9v1.9h-1.9zm-1.7 9.8h1.9v1.9h-1.9zm-2.1 -10.5h1.9v1.9h-1.9zm3.5 11.0h1.9v1.9h-1.9zm-3.5 -2.3h1.9v1.9h-1.9zm2.2 3.7h1.9v1.9h-1.9zm1.8 4.1h1.9v1.9h-1.9zm-5.2 -0.7h1.9v1.9h-1.9zm2.2 -3.8h1.9v1.9h-1.9zm-3.1 -2.1h1.9v1.9h-1.9zm2.5 -6.5h1.9v1.9h-1.9zm0.3 9.2h1.9v1.9h-1.9zm0.9 -0.8h1.9v1.9h-1.9zm-3.0 11.3h1.9v1.9h-1.9zm3.6 -1.3h1.9v1.9h-1.9zm-0.6 -5.2h1.9v1.9h-1.9zm-0.0 4.8h1.9v1.9h-1.9zm1.1 3.9h1.9v1.9h-1.9zm0.0 -7.4h1.9v1.9h-1.9zm-3.6 -4.0h1.9v1.9h-1.9zm0.5 3.9h1.9v1.9h-1.9zm4.6 -0.3h1.9v1.9h-1.9zm-3.8 -18.6h1.9v1.9h-1.9zm1.9 11.9h1.9v1.9h-1.9zm1.1 16.7h1.9v1.9h-1.9zm-4.9 -21.0h1.9v1.9h-1.9zm2.5 8.1h1.9v1.9h-1.9zm-2.2 8.0h1.9v1.9h-1.9zm4.5 -15.9h1.9v1.9h-1.9zm-1.9 13.5h1.9v1.9h-1.9zm-2.6 -20.0h1.9v1.9h-1.9zm3.1 3.7h1.9v1.9h-1.9zm-0.0 24.0h1.9v1.9h-1.9z" fill="#FF0000" fill-opacity="0.42"/><line x1="492.88" y1="269.3" x2="492.88" y2="280.4" stroke="#FF0000" stroke-width="0.7"/><line x1="492.88" y1="287.8" x2="492.88" y2="298.9" stroke="#FF0000" stroke-width="0.7"/><rect x="489.38" y="280.4" width="7" height="7.4" fill="#fff" fill-opacity="0.35" stroke="#FF0000" stroke-width="0.7"/><line x1="489.38" y1="283.5" x2="496.38" y2="283.5" stroke="#FF0000" stroke-width="1"/><path d="M501.8 296.1h1.9v1.9h-1.9zm-1.6 -9.6h1.9v1.9h-1.9zm3.1 5.4h1.9v1.9h-1.9zm-4.5 6.1h1.9v1.9h-1.9zm1.7 -6.0h1.9v1.9h-1.9zm-2.2 7.1h1.9v1.9h-1.9zm6.2 2.6h1.9v1.9h-1.9zm-5.9 -9.2h1.9v1.9h-1.9zm5.1 6.3h1.9v1.9h-1.9zm-4.5 -4.0h1.9v1.9h-1.9zm2.7 -10.5h1.9v1.9h-1.9zm-0.8 18.0h1.9v1.9h-1.9z" fill="#0000FF" fill-opacity="0.42"/><line x1="502.31" y1="284.6" x2="502.31" y2="289.9" stroke="#0000FF" stroke-width="0.7"/><line x1="502.31" y1="296.2" x2="502.31" y2="303.6" stroke="#0000FF" stroke-width="0.7"/><rect x="498.81" y="289.9" width="7" height="6.3" fill="#fff" fill-opacity="0.35" stroke="#0000FF" stroke-width="0.7"/><line x1="498.81" y1="295.2" x2="505.81" y2="295.2" stroke="#0000FF" stroke-width="1"/><clipPath id="cp48"><rect x="508.44" y="267.7" width="6.6" height="44.3"/></clipPath><rect clip-path="url(#cp48)" x="508.44" y="268.57" width="6.6" height="40.46" fill="url(#grm)"/><path d="M512.0 297.4h1.9v1.9h-1.9zm0.4 -3.5h1.9v1.9h-1.9zm-0.6 -10.6h1.9v1.9h-1.9zm1.7 -4.8h1.9v1.9h-1.9zm-4.1 21.4h1.9v1.9h-1.9zm4.1 -24.2h1.9v1.9h-1.9zm-2.8 -0.5h1.9v1.9h-1.9zm-2.1 22.5h1.9v1.9h-1.9zm3.6 -15.7h1.9v1.9h-1.9zm-1.0 -3.6h1.9v1.9h-1.9zm-3.0 14.3h1.9v1.9h-1.9zm4.8 3.8h1.9v1.9h-1.9zm-1.6 -24.3h1.9v1.9h-1.9zm-1.7 27.9h1.9v1.9h-1.9zm-1.1 -5.6h1.9v1.9h-1.9zm3.6 -6.1h1.9v1.9h-1.9zm0.1 -3.2h1.9v1.9h-1.9zm-0.6 10.1h1.9v1.9h-1.9zm-1.2 -11.9h1.9v1.9h-1.9zm3.0 8.2h1.9v1.9h-1.9zm-2.6 -3.2h1.9v1.9h-1.9zm1.3 -18.2h1.9v1.9h-1.9zm-3.1 17.7h1.9v1.9h-1.9zm0.1 5.4h1.9v1.9h-1.9zm0.7 -14.7h1.9v1.9h-1.9zm0.7 29.7h1.9v1.9h-1.9zm-1.1 -30.6h1.9v1.9h-1.9zm0.7 12.1h1.9v1.9h-1.9zm0.1 0.3h1.9v1.9h-1.9zm1.7 -19.1h1.9v1.9h-1.9zm2.0 11.8h1.9v1.9h-1.9zm-1.8 -2.0h1.9v1.9h-1.9zm-4.1 11.5h1.9v1.9h-1.9zm5.5 16.3h1.9v1.9h-1.9zm-5.2 -20.7h1.9v1.9h-1.9zm3.2 -7.0h1.9v1.9h-1.9zm0.7 8.5h1.9v1.9h-1.9zm-1.0 5.2h1.9v1.9h-1.9zm-1.3 -0.1h1.9v1.9h-1.9zm-1.8 10.2h1.9v1.9h-1.9zm3.2 -14.2h1.9v1.9h-1.9zm-0.1 -2.4h1.9v1.9h-1.9zm-1.1 -0.9h1.9v1.9h-1.9zm0.7 -7.6h1.9v1.9h-1.9zm-3.3 12.4h1.9v1.9h-1.9zm1.7 11.0h1.9v1.9h-1.9zm3.1 -17.6h1.9v1.9h-1.9zm-2.1 -4.5h1.9v1.9h-1.9zm-2.2 8.8h1.9v1.9h-1.9zm0.2 -1.9h1.9v1.9h-1.9zm4.8 4.7h1.9v1.9h-1.9zm-1.3 -8.3h1.9v1.9h-1.9zm0.0 -6.0h1.9v1.9h-1.9zm-1.0 9.5h1.9v1.9h-1.9zm-0.8 8.8h1.9v1.9h-1.9zm-0.1 -29.0h1.9v1.9h-1.9z" fill="#FF0000" fill-opacity="0.42"/><path d="M513.8 302.6h1.9v1.9h-1.9zm-2.3 -4.2h1.9v1.9h-1.9zm0.4 4.9h1.9v1.9h-1.9zm-3.0 -9.1h1.9v1.9h-1.9zm4.8 1.1h1.9v1.9h-1.9zm-0.8 0.7h1.9v1.9h-1.9zm-0.2 -18.5h1.9v1.9h-1.9zm-0.1 6.7h1.9v1.9h-1.9zm-4.4 16.7h1.9v1.9h-1.9zm4.9 -19.1h1.9v1.9h-1.9zm-5.6 -3.6h1.9v1.9h-1.9zm6.8 6.3h1.9v1.9h-1.9zm-4.0 6.6h1.9v1.9h-1.9zm2.1 -13.3h1.9v1.9h-1.9zm1.3 18.5h1.9v1.9h-1.9zm-0.9 -12.1h1.9v1.9h-1.9zm-5.0 17.0h1.9v1.9h-1.9zm5.4 -16.5h1.9v1.9h-1.9zm-3.7 -1.6h1.9v1.9h-1.9zm3.1 7.0h1.9v1.9h-1.9zm1.7 -4.9h1.9v1.9h-1.9zm-6.0 -3.9h1.9v1.9h-1.9zm1.1 -5.1h1.9v1.9h-1.9zm-0.7 -4.8h1.9v1.9h-1.9zm3.7 14.5h1.9v1.9h-1.9zm-2.1 0.7h1.9v1.9h-1.9zm2.2 1.9h1.9v1.9h-1.9zm0.2 -14.9h1.9v1.9h-1.9zm-0.8 5.3h1.9v1.9h-1.9zm0.9 2.3h1.9v1.9h-1.9zm-2.7 -2.1h1.9v1.9h-1.9zm1.0 1.8h1.9v1.9h-1.9zm1.5 -3.2h1.9v1.9h-1.9zm-3.1 16.5h1.9v1.9h-1.9zm3.8 -9.5h1.9v1.9h-1.9zm-3.4 -3.1h1.9v1.9h-1.9zm3.3 5.1h1.9v1.9h-1.9zm-2.4 17.0h1.9v1.9h-1.9zm2.6 -0.9h1.9v1.9h-1.9zm-0.6 -29.5h1.9v1.9h-1.9zm-1.5 17.5h1.9v1.9h-1.9zm-0.2 9.4h1.9v1.9h-1.9zm-0.4 -20.1h1.9v1.9h-1.9zm-2.0 13.4h1.9v1.9h-1.9zm3.6 -20.0h1.9v1.9h-1.9zm-0.5 24.3h1.9v1.9h-1.9zm1.5 -5.0h1.9v1.9h-1.9zm-5.6 -13.6h1.9v1.9h-1.9zm6.6 8.6h1.9v1.9h-1.9zm-0.3 -5.3h1.9v1.9h-1.9zm-6.1 2.9h1.9v1.9h-1.9zm2.7 1.4h1.9v1.9h-1.9zm-2.3 -4.9h1.9v1.9h-1.9zm-0.0 4.3h1.9v1.9h-1.9zm1.5 1.5h1.9v1.9h-1.9zm3.6 22.8h1.9v1.9h-1.9z" fill="#FF0000" fill-opacity="0.42"/><line x1="511.74" y1="270.35" x2="511.74" y2="284.6" stroke="#FF0000" stroke-width="0.7"/><line x1="511.74" y1="294.1" x2="511.74" y2="308.35" stroke="#FF0000" stroke-width="0.7"/><rect x="508.24" y="284.6" width="7" height="9.5" fill="#fff" fill-opacity="0.35" stroke="#FF0000" stroke-width="0.7"/><line x1="508.24" y1="288.8" x2="515.24" y2="288.8" stroke="#FF0000" stroke-width="1"/><clipPath id="cp49"><rect x="517.88" y="261.3" width="6.6" height="57.1"/></clipPath><rect clip-path="url(#cp49)" x="517.88" y="270.91" width="6.6" height="35.78" fill="url(#grl)"/><path d="M520.0 282.5h1.9v1.9h-1.9zm0.1 -4.6h1.9v1.9h-1.9zm-3.0 12.5h1.9v1.9h-1.9zm0.7 -2.6h1.9v1.9h-1.9zm1.4 14.1h1.9v1.9h-1.9zm0.3 -15.3h1.9v1.9h-1.9zm2.8 -23.0h1.9v1.9h-1.9zm-5.1 34.7h1.9v1.9h-1.9zm6.0 -18.6h1.9v1.9h-1.9zm-3.5 5.7h1.9v1.9h-1.9zm-0.1 -7.7h1.9v1.9h-1.9zm1.8 16.4h1.9v1.9h-1.9zm-3.6 -4.3h1.9v1.9h-1.9zm3.8 -0.4h1.9v1.9h-1.9zm-1.2 -2.2h1.9v1.9h-1.9zm2.4 2.7h1.9v1.9h-1.9zm-3.5 0.1h1.9v1.9h-1.9zm-0.8 -3.2h1.9v1.9h-1.9zm3.6 10.6h1.9v1.9h-1.9zm0.7 -8.0h1.9v1.9h-1.9zm-0.8 -1.2h1.9v1.9h-1.9zm-2.2 -16.3h1.9v1.9h-1.9zm-3.0 8.1h1.9v1.9h-1.9zm3.9 14.6h1.9v1.9h-1.9zm-0.8 -7.9h1.9v1.9h-1.9zm0.1 1.2h1.9v1.9h-1.9zm3.5 3.1h1.9v1.9h-1.9zm-5.8 -16.8h1.9v1.9h-1.9zm2.0 16.8h1.9v1.9h-1.9zm1.9 -6.4h1.9v1.9h-1.9zm1.1 -0.2h1.9v1.9h-1.9zm-6.0 6.4h1.9v1.9h-1.9zm1.4 5.4h1.9v1.9h-1.9zm4.2 -11.1h1.9v1.9h-1.9zm0.8 -2.4h1.9v1.9h-1.9zm-6.2 -9.7h1.9v1.9h-1.9zm2.6 27.4h1.9v1.9h-1.9zm2.6 -18.7h1.9v1.9h-1.9zm-1.3 -1.5h1.9v1.9h-1.9zm-0.2 6.9h1.9v1.9h-1.9zm-2.0 -9.2h1.9v1.9h-1.9zm3.4 3.1h1.9v1.9h-1.9zm0.6 6.4h1.9v1.9h-1.9zm-5.2 15.5h1.9v1.9h-1.9zm5.8 -28.4h1.9v1.9h-1.9zm-4.0 11.7h1.9v1.9h-1.9zm-2.4 -3.2h1.9v1.9h-1.9zm3.0 -6.3h1.9v1.9h-1.9zm0.7 16.3h1.9v1.9h-1.9zm-1.5 -6.6h1.9v1.9h-1.9zm1.4 10.5h1.9v1.9h-1.9zm-3.6 -20.4h1.9v1.9h-1.9zm2.1 40.0h1.9v1.9h-1.9z" fill="#FF0000" fill-opacity="0.42"/><path d="M522.9 284.7h1.9v1.9h-1.9zm-4.3 -7.2h1.9v1.9h-1.9zm2.4 -6.5h1.9v1.9h-1.9zm-1.3 12.1h1.9v1.9h-1.9zm-2.2 7.4h1.9v1.9h-1.9zm3.5 2.1h1.9v1.9h-1.9zm2.5 -17.6h1.9v1.9h-1.9zm-4.9 22.6h1.9v1.9h-1.9zm-1.2 -9.4h1.9v1.9h-1.9zm1.8 -1.2h1.9v1.9h-1.9zm0.8 6.2h1.9v1.9h-1.9zm-1.4 -11.1h1.9v1.9h-1.9zm-0.1 11.2h1.9v1.9h-1.9zm3.5 -1.7h1.9v1.9h-1.9zm-4.9 -6.5h1.9v1.9h-1.9zm4.8 -7.4h1.9v1.9h-1.9zm0.5 14.7h1.9v1.9h-1.9zm-3.2 -6.9h1.9v1.9h-1.9zm3.6 -2.1h1.9v1.9h-1.9zm0.6 11.0h1.9v1.9h-1.9zm-3.0 -12.6h1.9v1.9h-1.9zm-0.9 4.3h1.9v1.9h-1.9zm0.5 22.0h1.9v1.9h-1.9zm-0.2 -42.9h1.9v1.9h-1.9zm1.9 25.8h1.9v1.9h-1.9zm-2.7 -6.6h1.9v1.9h-1.9zm4.4 4.8h1.9v1.9h-1.9zm-0.4 -0.2h1.9v1.9h-1.9zm-0.2 10.5h1.9v1.9h-1.9zm0.7 12.2h1.9v1.9h-1.9zm0.2 -28.1h1.9v1.9h-1.9zm-6.4 11.5h1.9v1.9h-1.9zm2.1 -2.0h1.9v1.9h-1.9zm0.4 -24.0h1.9v1.9h-1.9zm2.1 21.6h1.9v1.9h-1.9zm-4.8 8.0h1.9v1.9h-1.9zm3.2 -17.1h1.9v1.9h-1.9zm-1.5 10.4h1.9v1.9h-1.9zm4.6 -0.6h1.9v1.9h-1.9zm-4.8 21.1h1.9v1.9h-1.9zm-0.4 -20.7h1.9v1.9h-1.9zm4.0 -20.1h1.9v1.9h-1.9zm-1.6 17.2h1.9v1.9h-1.9zm-2.9 -3.1h1.9v1.9h-1.9zm0.2 10.3h1.9v1.9h-1.9zm2.4 -7.5h1.9v1.9h-1.9zm-2.3 5.2h1.9v1.9h-1.9zm3.0 -4.4h1.9v1.9h-1.9zm0.7 8.6h1.9v1.9h-1.9zm-1.5 -9.5h1.9v1.9h-1.9zm0.9 1.8h1.9v1.9h-1.9zm-3.1 -29.4h1.9v1.9h-1.9zm2.2 78.8h1.9v1.9h-1.9z" fill="#FF0000" fill-opacity="0.42"/><line x1="521.18" y1="272" x2="521.18" y2="284.6" stroke="#FF0000" stroke-width="0.7"/><line x1="521.18" y1="293" x2="521.18" y2="305.6" stroke="#FF0000" stroke-width="0.7"/><rect x="517.68" y="284.6" width="7" height="8.4" fill="#fff" fill-opacity="0.35" stroke="#FF0000" stroke-width="0.7"/><line x1="517.68" y1="288.8" x2="524.68" y2="288.8" stroke="#FF0000" stroke-width="1"/><clipPath id="cp50"><rect x="527.31" y="250.8" width="6.6" height="59.2"/></clipPath><rect clip-path="url(#cp50)" x="527.31" y="259.87" width="6.6" height="53.67" fill="url(#gpm)"/><path d="M530.5 274.1h1.9v1.9h-1.9zm-3.2 24.6h1.9v1.9h-1.9zm3.0 8.6h1.9v1.9h-1.9zm-0.2 -43.6h1.9v1.9h-1.9zm-1.5 17.4h1.9v1.9h-1.9zm2.3 4.4h1.9v1.9h-1.9zm-1.3 -29.1h1.9v1.9h-1.9zm1.1 19.0h1.9v1.9h-1.9zm-3.5 11.1h1.9v1.9h-1.9zm-0.2 -10.8h1.9v1.9h-1.9zm0.7 4.5h1.9v1.9h-1.9zm5.3 1.3h1.9v1.9h-1.9zm-6.3 19.3h1.9v1.9h-1.9zm2.9 -16.2h1.9v1.9h-1.9zm3.4 -16.2h1.9v1.9h-1.9zm-3.7 8.7h1.9v1.9h-1.9zm-0.3 7.7h1.9v1.9h-1.9zm-1.0 -8.8h1.9v1.9h-1.9zm3.1 18.0h1.9v1.9h-1.9zm0.6 -19.6h1.9v1.9h-1.9zm-0.6 1.2h1.9v1.9h-1.9zm-4.8 5.6h1.9v1.9h-1.9zm0.5 16.0h1.9v1.9h-1.9zm2.8 -12.7h1.9v1.9h-1.9zm-2.5 -14.0h1.9v1.9h-1.9zm-0.1 10.7h1.9v1.9h-1.9zm0.5 -30.9h1.9v1.9h-1.9zm5.3 42.5h1.9v1.9h-1.9zm-1.1 -27.9h1.9v1.9h-1.9zm-0.9 21.5h1.9v1.9h-1.9zm1.4 3.6h1.9v1.9h-1.9zm-1.0 -1.5h1.9v1.9h-1.9zm-3.0 -3.5h1.9v1.9h-1.9zm4.5 3.6h1.9v1.9h-1.9zm-0.3 13.2h1.9v1.9h-1.9zm-1.1 -26.8h1.9v1.9h-1.9zm0.6 -3.5h1.9v1.9h-1.9zm-4.4 1.9h1.9v1.9h-1.9zm0.9 15.5h1.9v1.9h-1.9zm3.4 1.3h1.9v1.9h-1.9zm-5.3 13.5h1.9v1.9h-1.9zm1.1 -17.2h1.9v1.9h-1.9zm2.5 3.9h1.9v1.9h-1.9zm2.4 -9.6h1.9v1.9h-1.9zm-1.6 13.8h1.9v1.9h-1.9zm0.2 8.1h1.9v1.9h-1.9zm-2.7 -23.0h1.9v1.9h-1.9zm1.7 -19.5h1.9v1.9h-1.9zm-2.6 20.5h1.9v1.9h-1.9zm4.5 6.6h1.9v1.9h-1.9zm-1.0 2.7h1.9v1.9h-1.9zm1.6 -18.0h1.9v1.9h-1.9zm-2.0 20.9h1.9v1.9h-1.9zm1.4 7.1h1.9v1.9h-1.9zm-2.5 -22.1h1.9v1.9h-1.9zm-1.4 -27.4h1.9v1.9h-1.9z" fill="#A020F0" fill-opacity="0.42"/><path d="M532.8 273.7h1.9v1.9h-1.9zm-1.7 15.6h1.9v1.9h-1.9zm0.9 -4.3h1.9v1.9h-1.9zm-3.8 -4.4h1.9v1.9h-1.9zm0.6 -6.0h1.9v1.9h-1.9zm1.8 28.8h1.9v1.9h-1.9zm-2.8 -7.3h1.9v1.9h-1.9zm3.5 -44.1h1.9v1.9h-1.9zm-1.9 24.5h1.9v1.9h-1.9zm0.1 21.3h1.9v1.9h-1.9zm-0.6 3.7h1.9v1.9h-1.9zm-0.2 -11.2h1.9v1.9h-1.9zm2.1 -4.4h1.9v1.9h-1.9zm-3.3 -9.5h1.9v1.9h-1.9zm3.6 1.6h1.9v1.9h-1.9zm-3.7 -1.7h1.9v1.9h-1.9zm0.6 29.7h1.9v1.9h-1.9zm-1.2 -19.4h1.9v1.9h-1.9zm3.4 3.7h1.9v1.9h-1.9zm-1.2 5.6h1.9v1.9h-1.9zm2.3 -12.0h1.9v1.9h-1.9zm-1.0 20.4h1.9v1.9h-1.9zm-2.7 -17.0h1.9v1.9h-1.9zm1.3 -14.8h1.9v1.9h-1.9zm-0.7 15.9h1.9v1.9h-1.9zm0.7 -5.7h1.9v1.9h-1.9zm-0.2 10.9h1.9v1.9h-1.9zm-1.7 -32.2h1.9v1.9h-1.9zm4.0 44.3h1.9v1.9h-1.9zm-0.7 -13.5h1.9v1.9h-1.9zm-3.3 -0.5h1.9v1.9h-1.9zm3.9 7.3h1.9v1.9h-1.9zm-1.6 -1.5h1.9v1.9h-1.9zm-1.1 -27.1h1.9v1.9h-1.9zm2.6 34.8h1.9v1.9h-1.9zm0.2 -42.8h1.9v1.9h-1.9zm0.1 29.8h1.9v1.9h-1.9zm0.6 -20.4h1.9v1.9h-1.9zm-4.5 5.2h1.9v1.9h-1.9zm3.1 -0.3h1.9v1.9h-1.9zm1.2 29.8h1.9v1.9h-1.9zm-0.0 -5.6h1.9v1.9h-1.9zm-2.6 4.3h1.9v1.9h-1.9zm1.9 -22.7h1.9v1.9h-1.9zm-3.4 -9.1h1.9v1.9h-1.9zm4.5 22.0h1.9v1.9h-1.9zm0.8 -16.1h1.9v1.9h-1.9zm-3.6 9.4h1.9v1.9h-1.9zm0.9 -7.6h1.9v1.9h-1.9zm1.9 10.2h1.9v1.9h-1.9zm0.1 -3.7h1.9v1.9h-1.9zm-2.0 -1.0h1.9v1.9h-1.9zm2.8 10.8h1.9v1.9h-1.9zm-4.1 -32.8h1.9v1.9h-1.9zm1.8 24.2h1.9v1.9h-1.9zm-0.6 19.6h1.9v1.9h-1.9z" fill="#A020F0" fill-opacity="0.42"/><line x1="530.61" y1="261.5" x2="530.61" y2="280.4" stroke="#A020F0" stroke-width="0.7"/><line x1="530.61" y1="293" x2="530.61" y2="310" stroke="#A020F0" stroke-width="0.7"/><rect x="527.11" y="280.4" width="7" height="12.6" fill="#fff" fill-opacity="0.35" stroke="#A020F0" stroke-width="0.7"/><line x1="527.11" y1="286.7" x2="534.11" y2="286.7" stroke="#A020F0" stroke-width="1"/><clipPath id="cp51"><rect x="536.74" y="267.7" width="6.6" height="47.5"/></clipPath><rect clip-path="url(#cp51)" x="536.74" y="265.98" width="6.6" height="49.83" fill="url(#grh)"/><path d="M538.5 293.7h1.9v1.9h-1.9zm1.4 -19.9h1.9v1.9h-1.9zm-0.8 0.6h1.9v1.9h-1.9zm2.3 20.6h1.9v1.9h-1.9zm-5.2 3.5h1.9v1.9h-1.9zm2.5 -13.1h1.9v1.9h-1.9zm1.7 5.6h1.9v1.9h-1.9zm-1.0 10.0h1.9v1.9h-1.9zm-1.7 -25.3h1.9v1.9h-1.9zm-0.5 9.3h1.9v1.9h-1.9zm3.8 0.3h1.9v1.9h-1.9zm-0.1 18.5h1.9v1.9h-1.9zm-4.9 -3.9h1.9v1.9h-1.9zm6.5 -12.3h1.9v1.9h-1.9zm-4.8 9.4h1.9v1.9h-1.9zm-0.8 -16.7h1.9v1.9h-1.9zm2.1 5.0h1.9v1.9h-1.9zm-3.1 10.3h1.9v1.9h-1.9zm3.1 -21.5h1.9v1.9h-1.9zm-2.4 4.8h1.9v1.9h-1.9zm5.7 -1.7h1.9v1.9h-1.9zm-4.9 7.8h1.9v1.9h-1.9zm-0.2 -7.1h1.9v1.9h-1.9zm-0.2 30.0h1.9v1.9h-1.9zm2.7 -6.7h1.9v1.9h-1.9zm-0.4 -21.5h1.9v1.9h-1.9zm1.8 10.0h1.9v1.9h-1.9zm-3.6 0.5h1.9v1.9h-1.9zm-1.0 9.7h1.9v1.9h-1.9zm2.3 -27.7h1.9v1.9h-1.9zm3.8 2.7h1.9v1.9h-1.9zm-6.1 11.8h1.9v1.9h-1.9zm0.5 12.6h1.9v1.9h-1.9zm0.4 -7.8h1.9v1.9h-1.9zm4.4 4.6h1.9v1.9h-1.9zm-2.5 1.0h1.9v1.9h-1.9zm0.5 -8.9h1.9v1.9h-1.9zm-2.0 3.5h1.9v1.9h-1.9zm0.9 3.4h1.9v1.9h-1.9zm-2.5 -8.9h1.9v1.9h-1.9zm2.3 27.5h1.9v1.9h-1.9zm-1.2 -21.9h1.9v1.9h-1.9zm-0.7 8.7h1.9v1.9h-1.9zm5.7 0.7h1.9v1.9h-1.9zm-4.1 -7.8h1.9v1.9h-1.9zm3.0 -5.2h1.9v1.9h-1.9zm-0.8 3.9h1.9v1.9h-1.9zm1.1 9.3h1.9v1.9h-1.9zm0.4 -8.9h1.9v1.9h-1.9zm-4.8 -12.2h1.9v1.9h-1.9zm5.2 10.2h1.9v1.9h-1.9zm-5.4 -0.7h1.9v1.9h-1.9zm3.9 -0.7h1.9v1.9h-1.9zm1.5 -10.1h1.9v1.9h-1.9zm-5.7 21.9h1.9v1.9h-1.9zm1.3 -33.8h1.9v1.9h-1.9z" fill="#FF0000" fill-opacity="0.42"/><path d="M536.5 292.5h1.9v1.9h-1.9zm5.5 -3.9h1.9v1.9h-1.9zm-2.4 20.6h1.9v1.9h-1.9zm-1.6 -28.8h1.9v1.9h-1.9zm2.6 3.4h1.9v1.9h-1.9zm-4.4 4.3h1.9v1.9h-1.9zm3.2 -0.2h1.9v1.9h-1.9zm-0.2 17.6h1.9v1.9h-1.9zm-0.5 -35.4h1.9v1.9h-1.9zm-2.8 2.7h1.9v1.9h-1.9zm1.6 33.7h1.9v1.9h-1.9zm2.8 -33.3h1.9v1.9h-1.9zm-2.5 4.6h1.9v1.9h-1.9zm3.6 14.0h1.9v1.9h-1.9zm-5.4 -8.8h1.9v1.9h-1.9zm2.4 1.4h1.9v1.9h-1.9zm2.0 12.0h1.9v1.9h-1.9zm-1.4 -5.6h1.9v1.9h-1.9zm3.0 -6.9h1.9v1.9h-1.9zm-1.0 12.5h1.9v1.9h-1.9zm-3.8 -3.0h1.9v1.9h-1.9zm1.8 -12.1h1.9v1.9h-1.9zm3.3 30.8h1.9v1.9h-1.9zm-2.2 -20.5h1.9v1.9h-1.9zm-2.5 -4.6h1.9v1.9h-1.9zm1.9 13.0h1.9v1.9h-1.9zm-2.9 -17.5h1.9v1.9h-1.9zm4.8 -13.4h1.9v1.9h-1.9zm-2.6 10.8h1.9v1.9h-1.9zm-3.1 -1.4h1.9v1.9h-1.9zm2.7 17.5h1.9v1.9h-1.9zm-0.4 -13.7h1.9v1.9h-1.9zm1.6 8.2h1.9v1.9h-1.9zm1.4 0.5h1.9v1.9h-1.9zm-3.3 -9.7h1.9v1.9h-1.9zm0.7 10.2h1.9v1.9h-1.9zm3.4 0.2h1.9v1.9h-1.9zm-2.3 7.4h1.9v1.9h-1.9zm-2.5 -25.4h1.9v1.9h-1.9zm1.8 22.9h1.9v1.9h-1.9zm1.8 -12.8h1.9v1.9h-1.9zm0.2 20.4h1.9v1.9h-1.9zm-4.7 -13.8h1.9v1.9h-1.9zm1.7 8.1h1.9v1.9h-1.9zm0.4 -11.5h1.9v1.9h-1.9zm-0.8 13.2h1.9v1.9h-1.9zm-0.8 -7.5h1.9v1.9h-1.9zm1.7 -17.2h1.9v1.9h-1.9zm-0.0 35.6h1.9v1.9h-1.9zm3.2 -23.5h1.9v1.9h-1.9zm-4.9 3.6h1.9v1.9h-1.9zm3.7 -3.3h1.9v1.9h-1.9zm-1.9 8.8h1.9v1.9h-1.9zm4.1 0.1h1.9v1.9h-1.9zm-6.6 -3.7h1.9v1.9h-1.9zm4.3 21.1h1.9v1.9h-1.9z" fill="#FF0000" fill-opacity="0.42"/><line x1="540.04" y1="268.05" x2="540.04" y2="285.6" stroke="#FF0000" stroke-width="0.7"/><line x1="540.04" y1="297.3" x2="540.04" y2="314.85" stroke="#FF0000" stroke-width="0.7"/><rect x="536.54" y="285.6" width="7" height="11.7" fill="#fff" fill-opacity="0.35" stroke="#FF0000" stroke-width="0.7"/><line x1="536.54" y1="290.9" x2="543.54" y2="290.9" stroke="#FF0000" stroke-width="1"/><path d="M551.9 299.3h1.9v1.9h-1.9zm-2.9 10.9h1.9v1.9h-1.9zm-3.1 -8.6h1.9v1.9h-1.9zm4.7 16.7h1.9v1.9h-1.9zm-0.9 -9.2h1.9v1.9h-1.9zm1.2 -1.5h1.9v1.9h-1.9zm-1.3 -4.9h1.9v1.9h-1.9zm-1.8 9.5h1.9v1.9h-1.9zm-1.2 -5.8h1.9v1.9h-1.9zm2.6 1.1h1.9v1.9h-1.9zm0.2 -4.2h1.9v1.9h-1.9zm-4.0 3.4h1.9v1.9h-1.9zm1.5 -4.8h1.9v1.9h-1.9zm4.1 -7.2h1.9v1.9h-1.9zm-5.6 8.0h1.9v1.9h-1.9zm1.2 0.6h1.9v1.9h-1.9zm4.0 -4.1h1.9v1.9h-1.9zm-1.0 17.0h1.9v1.9h-1.9zm-3.8 -3.5h1.9v1.9h-1.9zm3.8 -1.9h1.9v1.9h-1.9zm-0.2 -12.2h1.9v1.9h-1.9zm1.2 8.6h1.9v1.9h-1.9zm-2.2 -0.0h1.9v1.9h-1.9zm3.6 0.7h1.9v1.9h-1.9zm-1.2 1.1h1.9v1.9h-1.9zm-0.3 -0.7h1.9v1.9h-1.9zm-0.2 -6.1h1.9v1.9h-1.9zm1.5 -7.6h1.9v1.9h-1.9zm0.2 3.6h1.9v1.9h-1.9zm0.2 14.8h1.9v1.9h-1.9zm-6.4 -6.8h1.9v1.9h-1.9zm4.8 -4.9h1.9v1.9h-1.9zm0.4 -3.4h1.9v1.9h-1.9zm0.0 5.7h1.9v1.9h-1.9zm-2.1 8.7h1.9v1.9h-1.9zm0.8 -17.5h1.9v1.9h-1.9zm-1.5 27.5h1.9v1.9h-1.9z" fill="#0000FF" fill-opacity="0.42"/><line x1="549.48" y1="295.2" x2="549.48" y2="303.6" stroke="#0000FF" stroke-width="0.7"/><line x1="549.48" y1="313.1" x2="549.48" y2="323.7" stroke="#0000FF" stroke-width="0.7"/><rect x="545.98" y="303.6" width="7" height="9.5" fill="#fff" fill-opacity="0.35" stroke="#0000FF" stroke-width="0.7"/><line x1="545.98" y1="307.8" x2="552.98" y2="307.8" stroke="#0000FF" stroke-width="1"/><clipPath id="cp53"><rect x="555.61" y="260.3" width="6.6" height="73"/></clipPath><rect clip-path="url(#cp53)" x="555.61" y="256.83" width="6.6" height="45.15" fill="url(#grl)"/><path d="M555.1 296.5h1.9v1.9h-1.9zm-0.4 -14.4h1.9v1.9h-1.9zm3.6 3.5h1.9v1.9h-1.9zm2.6 -1.6h1.9v1.9h-1.9zm-2.5 -1.8h1.9v1.9h-1.9zm2.7 -19.6h1.9v1.9h-1.9zm-6.3 6.1h1.9v1.9h-1.9zm1.2 14.1h1.9v1.9h-1.9zm5.4 -2.7h1.9v1.9h-1.9zm-1.1 -4.5h1.9v1.9h-1.9zm-0.3 6.6h1.9v1.9h-1.9zm-0.0 -20.4h1.9v1.9h-1.9zm-1.1 21.6h1.9v1.9h-1.9zm-0.8 -9.2h1.9v1.9h-1.9zm-0.5 -3.2h1.9v1.9h-1.9zm-0.9 18.3h1.9v1.9h-1.9zm1.6 -14.5h1.9v1.9h-1.9zm2.7 -8.4h1.9v1.9h-1.9zm-1.7 7.7h1.9v1.9h-1.9zm1.4 -0.7h1.9v1.9h-1.9zm-3.3 4.1h1.9v1.9h-1.9zm3.8 0.1h1.9v1.9h-1.9zm0.1 -15.1h1.9v1.9h-1.9zm-4.4 -3.0h1.9v1.9h-1.9zm0.5 18.7h1.9v1.9h-1.9zm-2.4 14.0h1.9v1.9h-1.9zm6.5 -15.1h1.9v1.9h-1.9zm-3.8 12.8h1.9v1.9h-1.9zm-0.0 10.1h1.9v1.9h-1.9zm-2.8 -21.9h1.9v1.9h-1.9zm4.4 6.6h1.9v1.9h-1.9zm-1.6 -4.0h1.9v1.9h-1.9zm2.7 25.5h1.9v1.9h-1.9zm-0.6 -23.9h1.9v1.9h-1.9zm-2.8 -17.0h1.9v1.9h-1.9zm-1.1 16.2h1.9v1.9h-1.9zm-0.8 -1.5h1.9v1.9h-1.9zm3.4 -6.8h1.9v1.9h-1.9zm-1.7 5.1h1.9v1.9h-1.9zm-1.9 -6.7h1.9v1.9h-1.9zm2.9 11.9h1.9v1.9h-1.9zm1.5 -3.2h1.9v1.9h-1.9zm-3.0 -12.0h1.9v1.9h-1.9zm3.3 0.5h1.9v1.9h-1.9zm1.1 9.3h1.9v1.9h-1.9zm-4.1 11.9h1.9v1.9h-1.9zm4.8 -1.4h1.9v1.9h-1.9zm-2.0 -10.9h1.9v1.9h-1.9zm-0.6 -10.6h1.9v1.9h-1.9zm1.1 -4.1h1.9v1.9h-1.9zm-4.3 22.5h1.9v1.9h-1.9zm4.2 -2.5h1.9v1.9h-1.9zm-4.6 -3.9h1.9v1.9h-1.9zm-0.4 -6.3h1.9v1.9h-1.9zm6.5 3.8h1.9v1.9h-1.9zm-0.9 -17.1h1.9v1.9h-1.9z" fill="#FF0000" fill-opacity="0.42"/><path d="M559.5 283.6h1.9v1.9h-1.9zm0.2 8.8h1.9v1.9h-1.9zm-3.5 3.1h1.9v1.9h-1.9zm2.9 -13.7h1.9v1.9h-1.9zm-3.3 -8.8h1.9v1.9h-1.9zm-0.8 12.4h1.9v1.9h-1.9zm-0.4 -8.1h1.9v1.9h-1.9zm3.9 1.0h1.9v1.9h-1.9zm-0.4 -1.3h1.9v1.9h-1.9zm-0.5 1.0h1.9v1.9h-1.9zm0.3 1.4h1.9v1.9h-1.9zm2.1 11.7h1.9v1.9h-1.9zm-5.0 -20.2h1.9v1.9h-1.9zm0.8 8.6h1.9v1.9h-1.9zm2.8 52.8h1.9v1.9h-1.9zm-2.5 -54.3h1.9v1.9h-1.9zm1.7 5.4h1.9v1.9h-1.9zm-1.8 -9.5h1.9v1.9h-1.9zm-1.3 4.2h1.9v1.9h-1.9zm0.9 5.9h1.9v1.9h-1.9zm4.0 -11.5h1.9v1.9h-1.9zm-1.0 4.2h1.9v1.9h-1.9zm-0.6 20.6h1.9v1.9h-1.9zm2.0 -1.5h1.9v1.9h-1.9zm-3.5 -16.8h1.9v1.9h-1.9zm3.1 -0.3h1.9v1.9h-1.9zm-2.4 -11.4h1.9v1.9h-1.9zm-2.4 10.7h1.9v1.9h-1.9zm2.6 -6.7h1.9v1.9h-1.9zm1.2 14.8h1.9v1.9h-1.9zm-1.0 -2.2h1.9v1.9h-1.9zm-1.1 29.1h1.9v1.9h-1.9zm-0.4 -6.7h1.9v1.9h-1.9zm1.8 19.4h1.9v1.9h-1.9zm-0.4 -46.3h1.9v1.9h-1.9zm2.4 -2.3h1.9v1.9h-1.9zm-0.5 3.8h1.9v1.9h-1.9zm1.4 16.4h1.9v1.9h-1.9zm-2.4 14.0h1.9v1.9h-1.9zm1.5 -40.0h1.9v1.9h-1.9zm-0.8 14.8h1.9v1.9h-1.9zm0.6 -8.6h1.9v1.9h-1.9zm-3.8 -0.8h1.9v1.9h-1.9zm2.3 13.6h1.9v1.9h-1.9zm0.8 -19.4h1.9v1.9h-1.9zm-3.6 -8.7h1.9v1.9h-1.9zm0.2 -2.0h1.9v1.9h-1.9zm3.2 26.3h1.9v1.9h-1.9zm-1.8 -9.3h1.9v1.9h-1.9zm2.6 -4.2h1.9v1.9h-1.9zm-3.8 1.5h1.9v1.9h-1.9zm2.0 5.3h1.9v1.9h-1.9zm-1.2 -3.7h1.9v1.9h-1.9zm1.2 -4.8h1.9v1.9h-1.9zm-3.3 14.4h1.9v1.9h-1.9zm3.4 46.0h1.9v1.9h-1.9z" fill="#FF0000" fill-opacity="0.42"/><line x1="558.91" y1="260.3" x2="558.91" y2="274.1" stroke="#FF0000" stroke-width="0.7"/><line x1="558.91" y1="284.7" x2="558.91" y2="300.6" stroke="#FF0000" stroke-width="0.7"/><rect x="555.41" y="274.1" width="7" height="10.6" fill="#fff" fill-opacity="0.35" stroke="#FF0000" stroke-width="0.7"/><line x1="555.41" y1="279.4" x2="562.41" y2="279.4" stroke="#FF0000" stroke-width="1"/><clipPath id="cp54"><rect x="565.04" y="280.4" width="6.6" height="38.1"/></clipPath><rect clip-path="url(#cp54)" x="565.04" y="261.58" width="6.6" height="63.04" fill="url(#grh)"/><path d="M566.3 292.2h1.9v1.9h-1.9zm-0.0 6.2h1.9v1.9h-1.9zm0.3 -13.0h1.9v1.9h-1.9zm-2.3 -0.5h1.9v1.9h-1.9zm0.0 -4.4h1.9v1.9h-1.9zm0.5 1.9h1.9v1.9h-1.9zm2.0 23.7h1.9v1.9h-1.9zm1.7 -11.5h1.9v1.9h-1.9zm-4.0 -4.6h1.9v1.9h-1.9zm5.8 -0.8h1.9v1.9h-1.9zm-4.5 3.7h1.9v1.9h-1.9zm-1.0 -4.1h1.9v1.9h-1.9zm5.0 2.8h1.9v1.9h-1.9zm-4.3 6.2h1.9v1.9h-1.9zm-1.0 -0.3h1.9v1.9h-1.9zm0.9 7.9h1.9v1.9h-1.9zm2.7 -25.3h1.9v1.9h-1.9zm-3.8 9.9h1.9v1.9h-1.9zm6.0 20.6h1.9v1.9h-1.9zm-2.8 -20.7h1.9v1.9h-1.9zm2.0 1.0h1.9v1.9h-1.9zm-4.3 10.1h1.9v1.9h-1.9zm3.1 3.5h1.9v1.9h-1.9zm1.7 -13.9h1.9v1.9h-1.9zm-2.4 10.7h1.9v1.9h-1.9zm-2.2 -11.2h1.9v1.9h-1.9zm5.1 12.3h1.9v1.9h-1.9zm0.1 -8.3h1.9v1.9h-1.9zm-3.6 9.4h1.9v1.9h-1.9zm-1.0 -12.2h1.9v1.9h-1.9zm0.7 10.7h1.9v1.9h-1.9zm1.2 -18.5h1.9v1.9h-1.9zm-3.6 17.6h1.9v1.9h-1.9zm2.0 -20.2h1.9v1.9h-1.9zm1.2 17.1h1.9v1.9h-1.9zm-3.5 -9.1h1.9v1.9h-1.9zm3.2 -2.5h1.9v1.9h-1.9zm-1.6 3.2h1.9v1.9h-1.9zm2.0 -9.0h1.9v1.9h-1.9zm-1.1 12.1h1.9v1.9h-1.9zm1.3 -2.0h1.9v1.9h-1.9zm-2.0 15.9h1.9v1.9h-1.9zm-1.7 -4.2h1.9v1.9h-1.9zm1.2 -0.9h1.9v1.9h-1.9zm4.5 -6.3h1.9v1.9h-1.9zm-1.3 1.4h1.9v1.9h-1.9zm-3.6 12.9h1.9v1.9h-1.9zm-0.3 -19.7h1.9v1.9h-1.9zm-0.8 -5.0h1.9v1.9h-1.9zm0.8 17.5h1.9v1.9h-1.9zm5.3 -13.2h1.9v1.9h-1.9zm0.0 -0.6h1.9v1.9h-1.9zm-5.5 -4.1h1.9v1.9h-1.9zm-0.4 0.8h1.9v1.9h-1.9zm5.8 15.2h1.9v1.9h-1.9zm-3.2 -20.6h1.9v1.9h-1.9zm-1.4 59.8h1.9v1.9h-1.9z" fill="#FF0000" fill-opacity="0.42"/><path d="M568.6 302.8h1.9v1.9h-1.9zm-1.2 -8.1h1.9v1.9h-1.9zm1.0 -4.1h1.9v1.9h-1.9zm-4.3 6.7h1.9v1.9h-1.9zm5.7 -16.2h1.9v1.9h-1.9zm-3.8 23.5h1.9v1.9h-1.9zm2.1 -18.5h1.9v1.9h-1.9zm-3.5 21.1h1.9v1.9h-1.9zm2.9 -13.0h1.9v1.9h-1.9zm-2.0 7.6h1.9v1.9h-1.9zm-0.5 -16.7h1.9v1.9h-1.9zm3.3 3.6h1.9v1.9h-1.9zm-1.4 -8.0h1.9v1.9h-1.9zm1.7 32.4h1.9v1.9h-1.9zm1.5 -28.8h1.9v1.9h-1.9zm-5.0 13.4h1.9v1.9h-1.9zm-0.6 0.3h1.9v1.9h-1.9zm0.2 -6.6h1.9v1.9h-1.9zm0.5 -3.0h1.9v1.9h-1.9zm0.7 -1.6h1.9v1.9h-1.9zm-0.3 23.9h1.9v1.9h-1.9zm2.2 0.8h1.9v1.9h-1.9zm-2.2 -29.0h1.9v1.9h-1.9zm4.0 -1.4h1.9v1.9h-1.9zm-1.7 1.9h1.9v1.9h-1.9zm-2.6 21.6h1.9v1.9h-1.9zm1.8 -23.1h1.9v1.9h-1.9zm2.5 0.6h1.9v1.9h-1.9zm-2.8 19.9h1.9v1.9h-1.9zm1.0 -10.1h1.9v1.9h-1.9zm-0.2 -11.6h1.9v1.9h-1.9zm-3.0 18.9h1.9v1.9h-1.9zm0.3 -16.1h1.9v1.9h-1.9zm3.7 11.0h1.9v1.9h-1.9zm1.3 8.3h1.9v1.9h-1.9zm-0.0 -17.4h1.9v1.9h-1.9zm-4.0 15.6h1.9v1.9h-1.9zm4.5 -16.5h1.9v1.9h-1.9zm-5.1 0.5h1.9v1.9h-1.9zm3.2 16.6h1.9v1.9h-1.9zm2.1 -0.0h1.9v1.9h-1.9zm-3.3 -0.7h1.9v1.9h-1.9zm2.7 -8.3h1.9v1.9h-1.9zm-5.6 -0.5h1.9v1.9h-1.9zm4.2 2.1h1.9v1.9h-1.9zm1.2 3.4h1.9v1.9h-1.9zm-3.2 -17.2h1.9v1.9h-1.9zm1.8 17.6h1.9v1.9h-1.9zm-1.1 -16.3h1.9v1.9h-1.9zm-2.1 26.7h1.9v1.9h-1.9zm2.9 -22.3h1.9v1.9h-1.9zm-2.9 29.8h1.9v1.9h-1.9zm-0.1 -17.3h1.9v1.9h-1.9zm2.1 -18.2h1.9v1.9h-1.9zm2.1 4.7h1.9v1.9h-1.9zm-1.4 32.4h1.9v1.9h-1.9z" fill="#FF0000" fill-opacity="0.42"/><line x1="568.34" y1="280.4" x2="568.34" y2="284.7" stroke="#FF0000" stroke-width="0.7"/><line x1="568.34" y1="299.5" x2="568.34" y2="318.5" stroke="#FF0000" stroke-width="0.7"/><rect x="564.84" y="284.7" width="7" height="14.8" fill="#fff" fill-opacity="0.35" stroke="#FF0000" stroke-width="0.7"/><line x1="564.84" y1="293.1" x2="571.84" y2="293.1" stroke="#FF0000" stroke-width="1"/><path d="M578.0 287.5h1.9v1.9h-1.9zm0.4 9.4h1.9v1.9h-1.9zm0.2 3.2h1.9v1.9h-1.9zm-2.8 -8.9h1.9v1.9h-1.9zm-0.1 -7.0h1.9v1.9h-1.9zm0.0 1.1h1.9v1.9h-1.9zm-0.3 8.5h1.9v1.9h-1.9zm-1.6 -1.5h1.9v1.9h-1.9zm3.7 -0.8h1.9v1.9h-1.9zm-1.4 -3.3h1.9v1.9h-1.9zm-0.2 2.4h1.9v1.9h-1.9zm0.8 5.4h1.9v1.9h-1.9zm-0.4 -12.6h1.9v1.9h-1.9zm-0.0 5.0h1.9v1.9h-1.9zm-2.6 15.9h1.9v1.9h-1.9zm5.3 -10.8h1.9v1.9h-1.9zm-0.4 2.2h1.9v1.9h-1.9zm-2.5 -10.3h1.9v1.9h-1.9zm0.7 13.0h1.9v1.9h-1.9zm-2.5 -17.9h1.9v1.9h-1.9zm1.6 6.3h1.9v1.9h-1.9zm-1.6 7.2h1.9v1.9h-1.9zm2.4 4.9h1.9v1.9h-1.9zm3.4 -0.2h1.9v1.9h-1.9zm-6.2 3.4h1.9v1.9h-1.9zm4.2 -6.0h1.9v1.9h-1.9zm-1.6 6.2h1.9v1.9h-1.9zm0.7 -18.2h1.9v1.9h-1.9zm-1.4 1.7h1.9v1.9h-1.9zm0.9 9.5h1.9v1.9h-1.9zm1.8 9.1h1.9v1.9h-1.9z" fill="#0000FF" fill-opacity="0.42"/><path d="M578.1 293.1h1.9v1.9h-1.9zm1.9 0.2h1.9v1.9h-1.9zm-4.3 2.1h1.9v1.9h-1.9zm-0.5 -9.7h1.9v1.9h-1.9zm1.1 8.5h1.9v1.9h-1.9zm0.4 -5.1h1.9v1.9h-1.9zm-2.8 8.2h1.9v1.9h-1.9zm3.1 -8.8h1.9v1.9h-1.9zm-3.1 9.4h1.9v1.9h-1.9zm2.2 2.3h1.9v1.9h-1.9zm-0.7 -5.3h1.9v1.9h-1.9zm-1.7 5.4h1.9v1.9h-1.9zm6.4 -4.6h1.9v1.9h-1.9zm-3.7 -0.5h1.9v1.9h-1.9zm2.2 7.9h1.9v1.9h-1.9zm-4.1 -17.1h1.9v1.9h-1.9zm5.2 -2.8h1.9v1.9h-1.9zm-1.9 1.9h1.9v1.9h-1.9zm-2.2 1.5h1.9v1.9h-1.9zm2.0 5.0h1.9v1.9h-1.9zm0.9 9.5h1.9v1.9h-1.9zm-1.8 -0.8h1.9v1.9h-1.9zm0.3 -15.2h1.9v1.9h-1.9zm-2.9 6.5h1.9v1.9h-1.9zm-0.4 -2.8h1.9v1.9h-1.9zm0.4 3.9h1.9v1.9h-1.9zm3.0 -7.2h1.9v1.9h-1.9zm-0.1 0.3h1.9v1.9h-1.9zm-3.1 6.4h1.9v1.9h-1.9zm2.7 -13.4h1.9v1.9h-1.9z" fill="#0000FF" fill-opacity="0.42"/><line x1="577.77" y1="279.4" x2="577.77" y2="288.9" stroke="#0000FF" stroke-width="0.7"/><line x1="577.77" y1="296.3" x2="577.77" y2="305.8" stroke="#0000FF" stroke-width="0.7"/><rect x="574.27" y="288.9" width="7" height="7.4" fill="#fff" fill-opacity="0.35" stroke="#0000FF" stroke-width="0.7"/><line x1="574.27" y1="292.1" x2="581.27" y2="292.1" stroke="#0000FF" stroke-width="1"/><clipPath id="cp56"><rect x="583.91" y="262.4" width="6.6" height="54"/></clipPath><rect clip-path="url(#cp56)" x="583.91" y="257.58" width="6.6" height="49.83" fill="url(#grl)"/><path d="M583.5 296.4h1.9v1.9h-1.9zm5.7 -8.2h1.9v1.9h-1.9zm-3.8 -1.6h1.9v1.9h-1.9zm2.9 7.3h1.9v1.9h-1.9zm-1.6 -5.0h1.9v1.9h-1.9zm-1.2 1.7h1.9v1.9h-1.9zm2.0 9.6h1.9v1.9h-1.9zm-2.3 -23.9h1.9v1.9h-1.9zm-1.0 16.4h1.9v1.9h-1.9zm3.1 -2.1h1.9v1.9h-1.9zm-3.5 -11.3h1.9v1.9h-1.9zm0.1 5.8h1.9v1.9h-1.9zm3.3 -22.5h1.9v1.9h-1.9zm0.0 16.3h1.9v1.9h-1.9zm-1.2 5.1h1.9v1.9h-1.9zm-2.8 6.8h1.9v1.9h-1.9zm0.4 -11.5h1.9v1.9h-1.9zm4.0 16.1h1.9v1.9h-1.9zm1.2 5.2h1.9v1.9h-1.9zm-0.7 -28.5h1.9v1.9h-1.9zm-3.1 13.6h1.9v1.9h-1.9zm1.4 -0.5h1.9v1.9h-1.9zm-2.4 -1.8h1.9v1.9h-1.9zm2.1 -5.4h1.9v1.9h-1.9zm-1.4 21.7h1.9v1.9h-1.9zm2.1 1.2h1.9v1.9h-1.9zm1.2 -20.8h1.9v1.9h-1.9zm0.2 2.3h1.9v1.9h-1.9zm0.5 2.0h1.9v1.9h-1.9zm-3.6 -13.6h1.9v1.9h-1.9zm-0.0 13.7h1.9v1.9h-1.9zm4.5 1.0h1.9v1.9h-1.9zm-4.1 3.3h1.9v1.9h-1.9zm0.6 -24.8h1.9v1.9h-1.9zm-2.7 17.1h1.9v1.9h-1.9zm2.2 3.4h1.9v1.9h-1.9zm-1.9 2.2h1.9v1.9h-1.9zm2.5 -1.6h1.9v1.9h-1.9zm3.1 -9.0h1.9v1.9h-1.9zm-6.0 4.4h1.9v1.9h-1.9zm5.8 4.8h1.9v1.9h-1.9zm-4.9 -11.4h1.9v1.9h-1.9zm2.9 17.3h1.9v1.9h-1.9zm-2.5 -7.0h1.9v1.9h-1.9zm4.5 4.5h1.9v1.9h-1.9zm-3.3 25.6h1.9v1.9h-1.9zm2.0 -39.2h1.9v1.9h-1.9zm-3.3 33.0h1.9v1.9h-1.9zm4.3 -34.3h1.9v1.9h-1.9zm-1.5 8.5h1.9v1.9h-1.9zm-1.3 21.2h1.9v1.9h-1.9zm-2.9 -29.5h1.9v1.9h-1.9zm4.8 17.7h1.9v1.9h-1.9zm-4.3 -17.1h1.9v1.9h-1.9zm3.3 35.0h1.9v1.9h-1.9zm-2.1 -47.6h1.9v1.9h-1.9z" fill="#FF0000" fill-opacity="0.42"/><path d="M588.7 277.9h1.9v1.9h-1.9zm-3.8 14.0h1.9v1.9h-1.9zm2.2 -13.0h1.9v1.9h-1.9zm1.8 1.4h1.9v1.9h-1.9zm-3.9 6.7h1.9v1.9h-1.9zm-1.4 -8.2h1.9v1.9h-1.9zm3.5 -1.6h1.9v1.9h-1.9zm1.6 17.3h1.9v1.9h-1.9zm0.9 -1.5h1.9v1.9h-1.9zm-4.6 -16.4h1.9v1.9h-1.9zm4.0 23.2h1.9v1.9h-1.9zm-0.9 -30.5h1.9v1.9h-1.9zm-2.9 20.5h1.9v1.9h-1.9zm-1.2 -13.3h1.9v1.9h-1.9zm2.3 6.0h1.9v1.9h-1.9zm1.2 8.1h1.9v1.9h-1.9zm0.3 1.7h1.9v1.9h-1.9zm-1.0 -20.5h1.9v1.9h-1.9zm0.8 -1.7h1.9v1.9h-1.9zm-1.9 -2.4h1.9v1.9h-1.9zm-0.5 1.9h1.9v1.9h-1.9zm2.4 14.0h1.9v1.9h-1.9zm1.1 25.3h1.9v1.9h-1.9zm-4.2 -34.1h1.9v1.9h-1.9zm1.5 -8.5h1.9v1.9h-1.9zm0.4 42.5h1.9v1.9h-1.9zm1.7 -37.8h1.9v1.9h-1.9zm0.5 13.6h1.9v1.9h-1.9zm-0.2 -5.5h1.9v1.9h-1.9zm0.5 10.4h1.9v1.9h-1.9zm0.6 -8.9h1.9v1.9h-1.9zm-4.2 11.9h1.9v1.9h-1.9zm2.1 -14.4h1.9v1.9h-1.9zm-0.3 -3.8h1.9v1.9h-1.9zm0.2 12.8h1.9v1.9h-1.9zm-1.0 -12.2h1.9v1.9h-1.9zm-2.2 14.9h1.9v1.9h-1.9zm0.2 -12.5h1.9v1.9h-1.9zm3.1 -6.4h1.9v1.9h-1.9zm1.7 15.3h1.9v1.9h-1.9zm-4.6 -5.6h1.9v1.9h-1.9zm3.6 2.5h1.9v1.9h-1.9zm-4.9 -2.5h1.9v1.9h-1.9zm4.7 -15.3h1.9v1.9h-1.9zm-1.5 7.4h1.9v1.9h-1.9zm0.7 -2.0h1.9v1.9h-1.9zm1.6 25.2h1.9v1.9h-1.9zm-0.0 -19.1h1.9v1.9h-1.9zm-3.8 1.7h1.9v1.9h-1.9zm-2.0 -10.9h1.9v1.9h-1.9zm2.7 15.4h1.9v1.9h-1.9zm-0.1 -17.2h1.9v1.9h-1.9zm2.2 6.0h1.9v1.9h-1.9zm-1.8 5.1h1.9v1.9h-1.9zm2.4 3.6h1.9v1.9h-1.9zm-1.3 34.6h1.9v1.9h-1.9z" fill="#FF0000" fill-opacity="0.42"/><line x1="587.21" y1="262.4" x2="587.21" y2="277.2" stroke="#FF0000" stroke-width="0.7"/><line x1="587.21" y1="288.9" x2="587.21" y2="306.45" stroke="#FF0000" stroke-width="0.7"/><rect x="583.71" y="277.2" width="7" height="11.7" fill="#fff" fill-opacity="0.35" stroke="#FF0000" stroke-width="0.7"/><line x1="583.71" y1="282.5" x2="590.71" y2="282.5" stroke="#FF0000" stroke-width="1"/><clipPath id="cp57"><rect x="593.34" y="251.9" width="6.6" height="82.5"/></clipPath><rect clip-path="url(#cp57)" x="593.34" y="252.7" width="6.6" height="72.41" fill="url(#grh)"/><path d="M596.3 298.2h1.9v1.9h-1.9zm-2.0 -22.0h1.9v1.9h-1.9zm3.8 -13.9h1.9v1.9h-1.9zm-4.9 13.1h1.9v1.9h-1.9zm4.1 -2.8h1.9v1.9h-1.9zm0.4 3.1h1.9v1.9h-1.9zm-3.3 12.1h1.9v1.9h-1.9zm2.3 17.4h1.9v1.9h-1.9zm-2.5 10.1h1.9v1.9h-1.9zm2.7 -15.8h1.9v1.9h-1.9zm1.5 -5.6h1.9v1.9h-1.9zm-1.3 -7.0h1.9v1.9h-1.9zm-3.0 15.7h1.9v1.9h-1.9zm3.2 -30.7h1.9v1.9h-1.9zm-1.9 9.7h1.9v1.9h-1.9zm3.4 -28.9h1.9v1.9h-1.9zm-5.5 45.1h1.9v1.9h-1.9zm5.0 -7.0h1.9v1.9h-1.9zm-1.2 -24.8h1.9v1.9h-1.9zm-3.9 48.4h1.9v1.9h-1.9zm2.3 -23.3h1.9v1.9h-1.9zm0.9 6.7h1.9v1.9h-1.9zm-3.8 -25.7h1.9v1.9h-1.9zm5.8 5.6h1.9v1.9h-1.9zm-2.3 27.0h1.9v1.9h-1.9zm-2.4 -2.9h1.9v1.9h-1.9zm-0.4 6.6h1.9v1.9h-1.9zm-0.3 -47.3h1.9v1.9h-1.9zm0.5 10.1h1.9v1.9h-1.9zm0.2 -7.8h1.9v1.9h-1.9zm4.2 0.4h1.9v1.9h-1.9zm-1.9 2.6h1.9v1.9h-1.9zm0.2 38.4h1.9v1.9h-1.9zm-2.8 -25.9h1.9v1.9h-1.9zm4.6 0.3h1.9v1.9h-1.9zm-4.1 11.6h1.9v1.9h-1.9zm3.8 12.5h1.9v1.9h-1.9zm-0.1 -25.0h1.9v1.9h-1.9zm-0.8 5.1h1.9v1.9h-1.9zm-3.8 -7.3h1.9v1.9h-1.9zm2.8 6.0h1.9v1.9h-1.9zm-0.9 -14.6h1.9v1.9h-1.9zm2.2 43.3h1.9v1.9h-1.9zm-3.3 -6.2h1.9v1.9h-1.9zm1.9 -0.8h1.9v1.9h-1.9zm-1.6 -29.9h1.9v1.9h-1.9zm1.3 25.3h1.9v1.9h-1.9zm-0.4 -4.1h1.9v1.9h-1.9zm0.2 -3.4h1.9v1.9h-1.9zm0.8 -11.2h1.9v1.9h-1.9zm-2.2 2.5h1.9v1.9h-1.9zm1.9 3.0h1.9v1.9h-1.9zm-0.4 4.2h1.9v1.9h-1.9zm3.3 -15.0h1.9v1.9h-1.9zm-2.1 30.2h1.9v1.9h-1.9zm-2.7 -54.2h1.9v1.9h-1.9zm0.9 93.6h1.9v1.9h-1.9z" fill="#FF0000" fill-opacity="0.42"/><path d="M592.6 266.7h1.9v1.9h-1.9zm0.2 0.9h1.9v1.9h-1.9zm0.4 31.5h1.9v1.9h-1.9zm5.0 0.1h1.9v1.9h-1.9zm-4.4 -19.1h1.9v1.9h-1.9zm3.1 5.5h1.9v1.9h-1.9zm-2.0 -10.0h1.9v1.9h-1.9zm-0.9 17.0h1.9v1.9h-1.9zm2.4 -0.8h1.9v1.9h-1.9zm-2.0 11.5h1.9v1.9h-1.9zm2.1 -16.1h1.9v1.9h-1.9zm0.3 -27.6h1.9v1.9h-1.9zm2.1 60.2h1.9v1.9h-1.9zm-0.5 -11.8h1.9v1.9h-1.9zm-3.7 -3.1h1.9v1.9h-1.9zm3.0 -12.7h1.9v1.9h-1.9zm-2.9 -1.7h1.9v1.9h-1.9zm-2.2 -28.7h1.9v1.9h-1.9zm3.9 3.0h1.9v1.9h-1.9zm-3.3 15.1h1.9v1.9h-1.9zm4.4 -13.0h1.9v1.9h-1.9zm0.1 2.5h1.9v1.9h-1.9zm0.9 10.6h1.9v1.9h-1.9zm-0.5 6.2h1.9v1.9h-1.9zm-2.2 15.1h1.9v1.9h-1.9zm0.9 -3.8h1.9v1.9h-1.9zm2.0 -46.3h1.9v1.9h-1.9zm-5.1 46.3h1.9v1.9h-1.9zm5.3 -16.9h1.9v1.9h-1.9zm-4.7 -11.4h1.9v1.9h-1.9zm1.6 15.1h1.9v1.9h-1.9zm-2.5 11.2h1.9v1.9h-1.9zm-0.9 7.5h1.9v1.9h-1.9zm1.9 -13.0h1.9v1.9h-1.9zm3.0 -24.7h1.9v1.9h-1.9zm-4.4 24.0h1.9v1.9h-1.9zm0.6 -23.7h1.9v1.9h-1.9zm3.3 17.3h1.9v1.9h-1.9zm-2.1 19.0h1.9v1.9h-1.9zm3.4 1.3h1.9v1.9h-1.9zm-5.6 -11.8h1.9v1.9h-1.9zm5.6 -1.0h1.9v1.9h-1.9zm-2.4 19.3h1.9v1.9h-1.9zm-2.4 -39.0h1.9v1.9h-1.9zm1.7 16.3h1.9v1.9h-1.9zm-2.8 2.6h1.9v1.9h-1.9zm0.0 3.0h1.9v1.9h-1.9zm3.7 -5.5h1.9v1.9h-1.9zm-1.9 12.6h1.9v1.9h-1.9zm4.4 14.2h1.9v1.9h-1.9zm-2.5 -51.5h1.9v1.9h-1.9zm0.6 60.3h1.9v1.9h-1.9zm-1.2 -51.3h1.9v1.9h-1.9zm-2.5 24.5h1.9v1.9h-1.9zm-0.5 -36.6h1.9v1.9h-1.9zm4.5 73.5h1.9v1.9h-1.9z" fill="#FF0000" fill-opacity="0.42"/><line x1="596.64" y1="254.9" x2="596.64" y2="280.4" stroke="#FF0000" stroke-width="0.7"/><line x1="596.64" y1="297.4" x2="596.64" y2="322.9" stroke="#FF0000" stroke-width="0.7"/><rect x="593.14" y="280.4" width="7" height="17" fill="#fff" fill-opacity="0.35" stroke="#FF0000" stroke-width="0.7"/><line x1="593.14" y1="288.9" x2="600.14" y2="288.9" stroke="#FF0000" stroke-width="1"/><path d="M602.8 295.8h1.9v1.9h-1.9zm0.1 -1.3h1.9v1.9h-1.9zm-1.1 1.6h1.9v1.9h-1.9zm6.4 -5.3h1.9v1.9h-1.9zm-3.2 4.5h1.9v1.9h-1.9zm-1.6 -4.3h1.9v1.9h-1.9zm-0.5 2.7h1.9v1.9h-1.9zm-0.2 4.1h1.9v1.9h-1.9zm1.5 -6.5h1.9v1.9h-1.9zm3.1 4.6h1.9v1.9h-1.9zm-4.7 -0.2h1.9v1.9h-1.9zm0.7 -4.4h1.9v1.9h-1.9zm-0.5 9.3h1.9v1.9h-1.9zm5.2 -4.7h1.9v1.9h-1.9zm-2.1 -0.8h1.9v1.9h-1.9zm1.7 2.1h1.9v1.9h-1.9zm-2.0 -6.4h1.9v1.9h-1.9zm-3.4 1.5h1.9v1.9h-1.9zm-0.2 -2.3h1.9v1.9h-1.9zm4.8 2.5h1.9v1.9h-1.9zm0.1 3.9h1.9v1.9h-1.9zm-4.8 -4.2h1.9v1.9h-1.9zm2.4 -1.8h1.9v1.9h-1.9zm-2.3 -0.5h1.9v1.9h-1.9zm2.4 0.8h1.9v1.9h-1.9zm-1.1 -3.5h1.9v1.9h-1.9zm-0.1 7.1h1.9v1.9h-1.9zm1.6 -1.5h1.9v1.9h-1.9zm-2.4 -3.7h1.9v1.9h-1.9zm4.0 5.4h1.9v1.9h-1.9zm-2.1 -4.3h1.9v1.9h-1.9zm-1.6 5.6h1.9v1.9h-1.9zm1.4 -7.2h1.9v1.9h-1.9zm-1.3 10.9h1.9v1.9h-1.9zm2.6 -8.4h1.9v1.9h-1.9zm-1.4 -4.7h1.9v1.9h-1.9zm0.8 13.8h1.9v1.9h-1.9z" fill="#0000FF" fill-opacity="0.42"/><line x1="606.07" y1="286.8" x2="606.07" y2="291" stroke="#0000FF" stroke-width="0.7"/><line x1="606.07" y1="296.3" x2="606.07" y2="301.6" stroke="#0000FF" stroke-width="0.7"/><rect x="602.57" y="291" width="7" height="5.3" fill="#fff" fill-opacity="0.35" stroke="#0000FF" stroke-width="0.7"/><line x1="602.57" y1="293.5" x2="609.57" y2="293.5" stroke="#0000FF" stroke-width="1"/><path d="M613.2 284.2h1.9v1.9h-1.9zm2.4 -12.2h1.9v1.9h-1.9zm1.5 5.5h1.9v1.9h-1.9zm-3.7 6.4h1.9v1.9h-1.9zm1.9 0.8h1.9v1.9h-1.9zm-0.4 1.8h1.9v1.9h-1.9zm-0.5 -14.8h1.9v1.9h-1.9zm3.4 4.5h1.9v1.9h-1.9zm-0.8 26.5h1.9v1.9h-1.9zm-4.7 -10.1h1.9v1.9h-1.9zm0.0 -3.1h1.9v1.9h-1.9zm-0.2 -5.3h1.9v1.9h-1.9zm0.9 -3.8h1.9v1.9h-1.9zm1.7 -9.6h1.9v1.9h-1.9zm0.8 7.6h1.9v1.9h-1.9zm-4.3 4.3h1.9v1.9h-1.9zm0.9 -8.0h1.9v1.9h-1.9zm3.8 12.2h1.9v1.9h-1.9zm-0.2 -0.9h1.9v1.9h-1.9zm0.6 -0.5h1.9v1.9h-1.9zm0.9 -14.6h1.9v1.9h-1.9zm0.4 5.3h1.9v1.9h-1.9zm-0.0 3.1h1.9v1.9h-1.9zm-6.7 -5.7h1.9v1.9h-1.9zm5.7 -4.4h1.9v1.9h-1.9zm-4.9 5.1h1.9v1.9h-1.9zm-0.5 26.6h1.9v1.9h-1.9zm2.4 -27.7h1.9v1.9h-1.9zm0.6 0.4h1.9v1.9h-1.9zm-2.2 28.7h1.9v1.9h-1.9z" fill="#FF0000" fill-opacity="0.42"/><path d="M611.5 296.3h1.9v1.9h-1.9zm6.0 -15.1h1.9v1.9h-1.9zm-5.8 0.3h1.9v1.9h-1.9zm3.8 3.0h1.9v1.9h-1.9zm-2.0 -1.0h1.9v1.9h-1.9zm0.8 -7.1h1.9v1.9h-1.9zm-0.9 17.0h1.9v1.9h-1.9zm1.8 -15.1h1.9v1.9h-1.9zm-3.8 0.5h1.9v1.9h-1.9zm1.8 8.9h1.9v1.9h-1.9zm1.1 -9.1h1.9v1.9h-1.9zm-1.9 10.8h1.9v1.9h-1.9zm3.5 -5.2h1.9v1.9h-1.9zm-3.3 -7.4h1.9v1.9h-1.9zm5.3 2.2h1.9v1.9h-1.9zm-3.1 12.1h1.9v1.9h-1.9zm1.4 -8.1h1.9v1.9h-1.9zm1.6 1.8h1.9v1.9h-1.9zm-4.9 -6.0h1.9v1.9h-1.9zm1.4 4.0h1.9v1.9h-1.9zm0.1 -1.8h1.9v1.9h-1.9zm2.5 -7.8h1.9v1.9h-1.9zm-0.5 11.4h1.9v1.9h-1.9zm1.0 2.2h1.9v1.9h-1.9zm-5.8 -5.2h1.9v1.9h-1.9zm3.1 -5.0h1.9v1.9h-1.9zm-3.3 5.1h1.9v1.9h-1.9zm2.1 17.2h1.9v1.9h-1.9zm1.7 -31.7h1.9v1.9h-1.9z" fill="#FF0000" fill-opacity="0.42"/><line x1="615.51" y1="267.7" x2="615.51" y2="276.2" stroke="#FF0000" stroke-width="0.7"/><line x1="615.51" y1="285.7" x2="615.51" y2="299.95" stroke="#FF0000" stroke-width="0.7"/><rect x="612.01" y="276.2" width="7" height="9.5" fill="#fff" fill-opacity="0.35" stroke="#FF0000" stroke-width="0.7"/><line x1="612.01" y1="281.5" x2="619.01" y2="281.5" stroke="#FF0000" stroke-width="1"/><path d="M623.3 295.2h1.9v1.9h-1.9zm1.4 14.6h1.9v1.9h-1.9zm-2.3 -12.7h1.9v1.9h-1.9zm-1.1 -7.0h1.9v1.9h-1.9zm3.0 40.8h1.9v1.9h-1.9zm0.9 -27.2h1.9v1.9h-1.9zm0.5 5.2h1.9v1.9h-1.9zm-2.7 -16.7h1.9v1.9h-1.9zm-2.0 10.6h1.9v1.9h-1.9zm4.9 -8.1h1.9v1.9h-1.9zm0.9 14.8h1.9v1.9h-1.9zm-1.0 -2.7h1.9v1.9h-1.9zm-2.2 -0.7h1.9v1.9h-1.9zm2.7 -21.9h1.9v1.9h-1.9zm-5.6 1.1h1.9v1.9h-1.9zm1.0 23.0h1.9v1.9h-1.9zm4.7 -0.3h1.9v1.9h-1.9zm-2.0 -15.8h1.9v1.9h-1.9zm1.6 21.0h1.9v1.9h-1.9zm0.6 -19.2h1.9v1.9h-1.9zm-5.0 -10.8h1.9v1.9h-1.9zm-0.7 23.5h1.9v1.9h-1.9zm5.2 -1.1h1.9v1.9h-1.9zm1.0 -13.0h1.9v1.9h-1.9zm-0.2 14.5h1.9v1.9h-1.9zm-1.4 -15.4h1.9v1.9h-1.9zm-3.1 23.6h1.9v1.9h-1.9zm-1.5 -26.6h1.9v1.9h-1.9zm4.9 9.4h1.9v1.9h-1.9zm-0.7 -1.0h1.9v1.9h-1.9zm-0.2 -1.5h1.9v1.9h-1.9zm1.6 -8.5h1.9v1.9h-1.9zm-5.1 1.2h1.9v1.9h-1.9zm0.7 0.8h1.9v1.9h-1.9zm-0.2 -2.6h1.9v1.9h-1.9zm2.7 1.1h1.9v1.9h-1.9zm-2.1 15.8h1.9v1.9h-1.9zm-0.5 10.9h1.9v1.9h-1.9zm-0.9 -22.5h1.9v1.9h-1.9zm5.9 2.8h1.9v1.9h-1.9zm-1.3 -12.7h1.9v1.9h-1.9z" fill="#FF0000" fill-opacity="0.42"/><path d="M622.3 288.4h1.9v1.9h-1.9zm0.1 -1.7h1.9v1.9h-1.9zm1.8 9.3h1.9v1.9h-1.9zm2.5 9.4h1.9v1.9h-1.9zm-2.3 -10.5h1.9v1.9h-1.9zm-0.5 21.9h1.9v1.9h-1.9zm2.4 0.4h1.9v1.9h-1.9zm-1.7 -8.2h1.9v1.9h-1.9zm0.9 -9.1h1.9v1.9h-1.9zm-0.9 7.1h1.9v1.9h-1.9zm-1.8 -14.4h1.9v1.9h-1.9zm0.2 -3.8h1.9v1.9h-1.9zm0.8 22.5h1.9v1.9h-1.9zm-1.4 -21.4h1.9v1.9h-1.9zm2.6 -7.7h1.9v1.9h-1.9zm-3.5 9.8h1.9v1.9h-1.9zm5.0 21.2h1.9v1.9h-1.9zm-3.7 -7.6h1.9v1.9h-1.9zm-1.7 -4.7h1.9v1.9h-1.9zm0.4 -11.6h1.9v1.9h-1.9zm5.3 15.5h1.9v1.9h-1.9zm-0.7 1.3h1.9v1.9h-1.9zm-2.8 -4.7h1.9v1.9h-1.9zm-2.6 11.9h1.9v1.9h-1.9zm0.2 -8.1h1.9v1.9h-1.9zm1.7 3.9h1.9v1.9h-1.9zm2.0 -26.3h1.9v1.9h-1.9zm-1.0 11.3h1.9v1.9h-1.9zm-0.2 10.6h1.9v1.9h-1.9zm-2.4 5.3h1.9v1.9h-1.9zm4.9 7.4h1.9v1.9h-1.9zm-4.8 -32.5h1.9v1.9h-1.9zm2.1 24.2h1.9v1.9h-1.9zm3.3 -21.8h1.9v1.9h-1.9zm-5.0 -1.7h1.9v1.9h-1.9zm1.9 16.7h1.9v1.9h-1.9zm1.6 -0.1h1.9v1.9h-1.9zm-3.4 15.1h1.9v1.9h-1.9zm0.6 -19.2h1.9v1.9h-1.9zm1.4 2.2h1.9v1.9h-1.9zm-1.5 31.7h1.9v1.9h-1.9z" fill="#FF0000" fill-opacity="0.42"/><line x1="624.94" y1="282.5" x2="624.94" y2="294.2" stroke="#FF0000" stroke-width="0.7"/><line x1="624.94" y1="306.9" x2="624.94" y2="325.95" stroke="#FF0000" stroke-width="0.7"/><rect x="621.44" y="294.2" width="7" height="12.7" fill="#fff" fill-opacity="0.35" stroke="#FF0000" stroke-width="0.7"/><line x1="621.44" y1="300.5" x2="628.44" y2="300.5" stroke="#FF0000" stroke-width="1"/><path d="M73.11 221.85L73.11 226.55M71.07 223.02L75.14 225.38M75.14 223.02L71.07 225.38" stroke="#222" stroke-width="0.7" fill="none"/><path d="M86.78 221.85L86.78 226.55M84.74 223.02L88.81 225.38M88.81 223.02L84.74 225.38M91.98 221.85L91.98 226.55M89.94 223.02L94.01 225.38M94.01 223.02L89.94 225.38M97.18 221.85L97.18 226.55M95.14 223.02L99.21 225.38M99.21 223.02L95.14 225.38" stroke="#222" stroke-width="0.7" fill="none"/><path d="M148.57 221.85L148.57 226.55M146.54 223.02L150.61 225.38M150.61 223.02L146.54 225.38" stroke="#222" stroke-width="0.7" fill="none"/><path d="M162.24 221.85L162.24 226.55M160.20 223.02L164.27 225.38M164.27 223.02L160.20 225.38M167.44 221.85L167.44 226.55M165.40 223.02L169.47 225.38M169.47 223.02L165.40 225.38M172.64 221.85L172.64 226.55M170.60 223.02L174.67 225.38M174.67 223.02L170.60 225.38" stroke="#222" stroke-width="0.7" fill="none"/><path d="M181.11 221.85L181.11 226.55M179.07 223.02L183.14 225.38M183.14 223.02L179.07 225.38M186.31 221.85L186.31 226.55M184.27 223.02L188.34 225.38M188.34 223.02L184.27 225.38M191.51 221.85L191.51 226.55M189.47 223.02L193.54 225.38M193.54 223.02L189.47 225.38" stroke="#222" stroke-width="0.7" fill="none"/><path d="M209.40 221.85L209.40 226.55M207.37 223.02L211.44 225.38M211.44 223.02L207.37 225.38M214.60 221.85L214.60 226.55M212.57 223.02L216.64 225.38M216.64 223.02L212.57 225.38M219.80 221.85L219.80 226.55M217.77 223.02L221.84 225.38M221.84 223.02L217.77 225.38" stroke="#222" stroke-width="0.7" fill="none"/><path d="M228.27 221.85L228.27 226.55M226.24 223.02L230.31 225.38M230.31 223.02L226.24 225.38M233.47 221.85L233.47 226.55M231.44 223.02L235.51 225.38M235.51 223.02L231.44 225.38M238.67 221.85L238.67 226.55M236.64 223.02L240.71 225.38M240.71 223.02L236.64 225.38" stroke="#222" stroke-width="0.7" fill="none"/><path d="M247.14 221.85L247.14 226.55M245.10 223.02L249.17 225.38M249.17 223.02L245.10 225.38M252.34 221.85L252.34 226.55M250.30 223.02L254.37 225.38M254.37 223.02L250.30 225.38M257.54 221.85L257.54 226.55M255.50 223.02L259.57 225.38M259.57 223.02L255.50 225.38" stroke="#222" stroke-width="0.7" fill="none"/><path d="M284.87 221.85L284.87 226.55M282.83 223.02L286.90 225.38M286.90 223.02L282.83 225.38M290.07 221.85L290.07 226.55M288.03 223.02L292.10 225.38M292.10 223.02L288.03 225.38M295.27 221.85L295.27 226.55M293.23 223.02L297.30 225.38M297.30 223.02L293.23 225.38" stroke="#222" stroke-width="0.7" fill="none"/><path d="M303.73 221.85L303.73 226.55M301.70 223.02L305.77 225.38M305.77 223.02L301.70 225.38M308.93 221.85L308.93 226.55M306.90 223.02L310.97 225.38M310.97 223.02L306.90 225.38M314.13 221.85L314.13 226.55M312.10 223.02L316.17 225.38M316.17 223.02L312.10 225.38" stroke="#222" stroke-width="0.7" fill="none"/><path d="M360.33 221.85L360.33 226.55M358.30 223.02L362.37 225.38M362.37 223.02L358.30 225.38M365.53 221.85L365.53 226.55M363.50 223.02L367.57 225.38M367.57 223.02L363.50 225.38M370.73 221.85L370.73 226.55M368.70 223.02L372.77 225.38M372.77 223.02L368.70 225.38" stroke="#222" stroke-width="0.7" fill="none"/><path d="M379.20 221.85L379.20 226.55M377.16 223.02L381.23 225.38M381.23 223.02L377.16 225.38M384.40 221.85L384.40 226.55M382.36 223.02L386.43 225.38M386.43 223.02L382.36 225.38M389.60 221.85L389.60 226.55M387.56 223.02L391.63 225.38M391.63 223.02L387.56 225.38" stroke="#222" stroke-width="0.7" fill="none"/><path d="M398.06 221.85L398.06 226.55M396.03 223.02L400.10 225.38M400.10 223.02L396.03 225.38M403.26 221.85L403.26 226.55M401.23 223.02L405.30 225.38M405.30 223.02L401.23 225.38M408.46 221.85L408.46 226.55M406.43 223.02L410.50 225.38M410.50 223.02L406.43 225.38" stroke="#222" stroke-width="0.7" fill="none"/><path d="M459.86 221.85L459.86 226.55M457.83 223.02L461.90 225.38M461.90 223.02L457.83 225.38" stroke="#222" stroke-width="0.7" fill="none"/><path d="M492.39 221.85L492.39 226.55M490.36 223.02L494.43 225.38M494.43 223.02L490.36 225.38M497.59 221.85L497.59 226.55M495.56 223.02L499.63 225.38M499.63 223.02L495.56 225.38M502.79 221.85L502.79 226.55M500.76 223.02L504.83 225.38M504.83 223.02L500.76 225.38" stroke="#222" stroke-width="0.7" fill="none"/><path d="M539.56 221.85L539.56 226.55M537.52 223.02L541.59 225.38M541.59 223.02L537.52 225.38M544.76 221.85L544.76 226.55M542.72 223.02L546.79 225.38M546.79 223.02L542.72 225.38M549.96 221.85L549.96 226.55M547.92 223.02L551.99 225.38M551.99 223.02L547.92 225.38" stroke="#222" stroke-width="0.7" fill="none"/><path d="M567.86 221.85L567.86 226.55M565.82 223.02L569.89 225.38M569.89 223.02L565.82 225.38M573.06 221.85L573.06 226.55M571.02 223.02L575.09 225.38M575.09 223.02L571.02 225.38M578.26 221.85L578.26 226.55M576.22 223.02L580.29 225.38M580.29 223.02L576.22 225.38" stroke="#222" stroke-width="0.7" fill="none"/><path d="M598.76 221.85L598.76 226.55M596.72 223.02L600.79 225.38M600.79 223.02L596.72 225.38M603.96 221.85L603.96 226.55M601.92 223.02L605.99 225.38M605.99 223.02L601.92 225.38" stroke="#222" stroke-width="0.7" fill="none"/><rect x="53.5" y="214.3" width="577.1" height="161" fill="none" stroke="#6E6E6E" stroke-width="0.8"/><line x1="51.1" y1="368.4" x2="53.5" y2="368.4" stroke="#444" stroke-width="0.7"/><text x="49.2" y="371.1" font-family="Liberation Sans" font-size="7.6" fill="#4D4D4D" text-anchor="end">2</text><line x1="51.1" y1="333.5" x2="53.5" y2="333.5" stroke="#444" stroke-width="0.7"/><text x="49.2" y="336.2" font-family="Liberation Sans" font-size="7.6" fill="#4D4D4D" text-anchor="end">4</text><line x1="51.1" y1="298.6" x2="53.5" y2="298.6" stroke="#444" stroke-width="0.7"/><text x="49.2" y="301.3" font-family="Liberation Sans" font-size="7.6" fill="#4D4D4D" text-anchor="end">6</text><line x1="51.1" y1="263.7" x2="53.5" y2="263.7" stroke="#444" stroke-width="0.7"/><text x="49.2" y="266.4" font-family="Liberation Sans" font-size="7.6" fill="#4D4D4D" text-anchor="end">8</text><line x1="51.1" y1="228.8" x2="53.5" y2="228.8" stroke="#444" stroke-width="0.7"/><text x="49.2" y="231.5" font-family="Liberation Sans" font-size="7.6" fill="#4D4D4D" text-anchor="end">10</text><text transform="translate(37.4,295) rotate(-90)" font-family="Liberation Sans" font-size="9.75" fill="#111" text-anchor="middle">EIF4A3 Expression Level (log2 TPM)</text><text x="9.5" y="203.2" font-family="Liberation Sans" font-weight="bold" font-size="11" fill="#111">B</text><line x1="58.96" y1="375.3" x2="58.96" y2="377.6" stroke="#444" stroke-width="0.7"/><text transform="translate(61.66,380.6) rotate(-90)" font-family="Liberation Sans" font-size="7.85" fill="#1a1a1a" text-anchor="end">ACC.Tumor (n=79)</text><line x1="68.39" y1="375.3" x2="68.39" y2="377.6" stroke="#444" stroke-width="0.7"/><text transform="translate(71.09,380.6) rotate(-90)" font-family="Liberation Sans" font-size="7.85" fill="#1a1a1a" text-anchor="end">BLCA.Tumor (n=408)</text><line x1="77.83" y1="375.3" x2="77.83" y2="377.6" stroke="#444" stroke-width="0.7"/><text transform="translate(80.53,380.6) rotate(-90)" font-family="Liberation Sans" font-size="7.85" fill="#1a1a1a" text-anchor="end">BLCA.Normal (n=19)</text><line x1="87.26" y1="375.3" x2="87.26" y2="377.6" stroke="#444" stroke-width="0.7"/><text transform="translate(89.96,380.6) rotate(-90)" font-family="Liberation Sans" font-size="7.85" fill="#1a1a1a" text-anchor="end">BRCA.Tumor (n=1093)</text><line x1="96.69" y1="375.3" x2="96.69" y2="377.6" stroke="#444" stroke-width="0.7"/><text transform="translate(99.39,380.6) rotate(-90)" font-family="Liberation Sans" font-size="7.85" fill="#1a1a1a" text-anchor="end">BRCA.Normal (n=112)</text><line x1="106.12" y1="375.3" x2="106.12" y2="377.6" stroke="#444" stroke-width="0.7"/><text transform="translate(108.83,380.6) rotate(-90)" font-family="Liberation Sans" font-size="7.85" fill="#1a1a1a" text-anchor="end">BRCA-Basal.Tumor (n=190)</text><line x1="115.56" y1="375.3" x2="115.56" y2="377.6" stroke="#444" stroke-width="0.7"/><text transform="translate(118.26,380.6) rotate(-90)" font-family="Liberation Sans" font-size="7.85" fill="#1a1a1a" text-anchor="end">BRCA-Her2.Tumor (n=82)</text><line x1="124.99" y1="375.3" x2="124.99" y2="377.6" stroke="#444" stroke-width="0.7"/><text transform="translate(127.69,380.6) rotate(-90)" font-family="Liberation Sans" font-size="7.85" fill="#1a1a1a" text-anchor="end">BRCA-LumA.Tumor (n=564)</text><line x1="134.42" y1="375.3" x2="134.42" y2="377.6" stroke="#444" stroke-width="0.7"/><text transform="translate(137.12,380.6) rotate(-90)" font-family="Liberation Sans" font-size="7.85" fill="#1a1a1a" text-anchor="end">BRCA-LumB.Tumor (n=217)</text><line x1="143.86" y1="375.3" x2="143.86" y2="377.6" stroke="#444" stroke-width="0.7"/><text transform="translate(146.56,380.6) rotate(-90)" font-family="Liberation Sans" font-size="7.85" fill="#1a1a1a" text-anchor="end">CESC.Tumor (n=304)</text><line x1="153.29" y1="375.3" x2="153.29" y2="377.6" stroke="#444" stroke-width="0.7"/><text transform="translate(155.99,380.6) rotate(-90)" font-family="Liberation Sans" font-size="7.85" fill="#1a1a1a" text-anchor="end">CESC.Normal (n=3)</text><line x1="162.72" y1="375.3" x2="162.72" y2="377.6" stroke="#444" stroke-width="0.7"/><text transform="translate(165.42,380.6) rotate(-90)" font-family="Liberation Sans" font-size="7.85" fill="#1a1a1a" text-anchor="end">CHOL.Tumor (n=36)</text><line x1="172.16" y1="375.3" x2="172.16" y2="377.6" stroke="#444" stroke-width="0.7"/><text transform="translate(174.86,380.6) rotate(-90)" font-family="Liberation Sans" font-size="7.85" fill="#1a1a1a" text-anchor="end">CHOL.Normal (n=9)</text><line x1="181.59" y1="375.3" x2="181.59" y2="377.6" stroke="#444" stroke-width="0.7"/><text transform="translate(184.29,380.6) rotate(-90)" font-family="Liberation Sans" font-size="7.85" fill="#1a1a1a" text-anchor="end">COAD.Tumor (n=457)</text><line x1="191.02" y1="375.3" x2="191.02" y2="377.6" stroke="#444" stroke-width="0.7"/><text transform="translate(193.72,380.6) rotate(-90)" font-family="Liberation Sans" font-size="7.85" fill="#1a1a1a" text-anchor="end">COAD.Normal (n=41)</text><line x1="200.46" y1="375.3" x2="200.46" y2="377.6" stroke="#444" stroke-width="0.7"/><text transform="translate(203.16,380.6) rotate(-90)" font-family="Liberation Sans" font-size="7.85" fill="#1a1a1a" text-anchor="end">DLBC.Tumor (n=48)</text><line x1="209.89" y1="375.3" x2="209.89" y2="377.6" stroke="#444" stroke-width="0.7"/><text transform="translate(212.59,380.6) rotate(-90)" font-family="Liberation Sans" font-size="7.85" fill="#1a1a1a" text-anchor="end">ESCA.Tumor (n=184)</text><line x1="219.32" y1="375.3" x2="219.32" y2="377.6" stroke="#444" stroke-width="0.7"/><text transform="translate(222.02,380.6) rotate(-90)" font-family="Liberation Sans" font-size="7.85" fill="#1a1a1a" text-anchor="end">ESCA.Normal (n=11)</text><line x1="228.75" y1="375.3" x2="228.75" y2="377.6" stroke="#444" stroke-width="0.7"/><text transform="translate(231.45,380.6) rotate(-90)" font-family="Liberation Sans" font-size="7.85" fill="#1a1a1a" text-anchor="end">GBM.Tumor (n=153)</text><line x1="238.19" y1="375.3" x2="238.19" y2="377.6" stroke="#444" stroke-width="0.7"/><text transform="translate(240.89,380.6) rotate(-90)" font-family="Liberation Sans" font-size="7.85" fill="#1a1a1a" text-anchor="end">GBM.Normal (n=5)</text><line x1="247.62" y1="375.3" x2="247.62" y2="377.6" stroke="#444" stroke-width="0.7"/><text transform="translate(250.32,380.6) rotate(-90)" font-family="Liberation Sans" font-size="7.85" fill="#1a1a1a" text-anchor="end">HNSC.Tumor (n=520)</text><line x1="257.05" y1="375.3" x2="257.05" y2="377.6" stroke="#444" stroke-width="0.7"/><text transform="translate(259.75,380.6) rotate(-90)" font-family="Liberation Sans" font-size="7.85" fill="#1a1a1a" text-anchor="end">HNSC.Normal (n=44)</text><line x1="266.49" y1="375.3" x2="266.49" y2="377.6" stroke="#444" stroke-width="0.7"/><text transform="translate(269.19,380.6) rotate(-90)" font-family="Liberation Sans" font-size="7.85" fill="#1a1a1a" text-anchor="end">HNSC-HPV+.Tumor (n=97)</text><line x1="275.92" y1="375.3" x2="275.92" y2="377.6" stroke="#444" stroke-width="0.7"/><text transform="translate(278.62,380.6) rotate(-90)" font-family="Liberation Sans" font-size="7.85" fill="#1a1a1a" text-anchor="end">HNSC-HPV-.Tumor (n=421)</text><line x1="285.35" y1="375.3" x2="285.35" y2="377.6" stroke="#444" stroke-width="0.7"/><text transform="translate(288.05,380.6) rotate(-90)" font-family="Liberation Sans" font-size="7.85" fill="#1a1a1a" text-anchor="end">KICH.Tumor (n=66)</text><line x1="294.78" y1="375.3" x2="294.78" y2="377.6" stroke="#444" stroke-width="0.7"/><text transform="translate(297.48,380.6) rotate(-90)" font-family="Liberation Sans" font-size="7.85" fill="#1a1a1a" text-anchor="end">KICH.Normal (n=25)</text><line x1="304.22" y1="375.3" x2="304.22" y2="377.6" stroke="#444" stroke-width="0.7"/><text transform="translate(306.92,380.6) rotate(-90)" font-family="Liberation Sans" font-size="7.85" fill="#1a1a1a" text-anchor="end">KIRC.Tumor (n=533)</text><line x1="313.65" y1="375.3" x2="313.65" y2="377.6" stroke="#444" stroke-width="0.7"/><text transform="translate(316.35,380.6) rotate(-90)" font-family="Liberation Sans" font-size="7.85" fill="#1a1a1a" text-anchor="end">KIRC.Normal (n=72)</text><line x1="323.08" y1="375.3" x2="323.08" y2="377.6" stroke="#444" stroke-width="0.7"/><text transform="translate(325.78,380.6) rotate(-90)" font-family="Liberation Sans" font-size="7.85" fill="#1a1a1a" text-anchor="end">KIRP.Tumor (n=290)</text><line x1="332.52" y1="375.3" x2="332.52" y2="377.6" stroke="#444" stroke-width="0.7"/><text transform="translate(335.22,380.6) rotate(-90)" font-family="Liberation Sans" font-size="7.85" fill="#1a1a1a" text-anchor="end">KIRP.Normal (n=32)</text><line x1="341.95" y1="375.3" x2="341.95" y2="377.6" stroke="#444" stroke-width="0.7"/><text transform="translate(344.65,380.6) rotate(-90)" font-family="Liberation Sans" font-size="7.85" fill="#1a1a1a" text-anchor="end">LAML.Tumor (n=173)</text><line x1="351.38" y1="375.3" x2="351.38" y2="377.6" stroke="#444" stroke-width="0.7"/><text transform="translate(354.08,380.6) rotate(-90)" font-family="Liberation Sans" font-size="7.85" fill="#1a1a1a" text-anchor="end">LGG.Tumor (n=516)</text><line x1="360.82" y1="375.3" x2="360.82" y2="377.6" stroke="#444" stroke-width="0.7"/><text transform="translate(363.52,380.6) rotate(-90)" font-family="Liberation Sans" font-size="7.85" fill="#1a1a1a" text-anchor="end">LIHC.Tumor (n=371)</text><line x1="370.25" y1="375.3" x2="370.25" y2="377.6" stroke="#444" stroke-width="0.7"/><text transform="translate(372.95,380.6) rotate(-90)" font-family="Liberation Sans" font-size="7.85" fill="#1a1a1a" text-anchor="end">LIHC.Normal (n=50)</text><line x1="379.68" y1="375.3" x2="379.68" y2="377.6" stroke="#444" stroke-width="0.7"/><text transform="translate(382.38,380.6) rotate(-90)" font-family="Liberation Sans" font-size="7.85" fill="#1a1a1a" text-anchor="end">LUAD.Tumor (n=515)</text><line x1="389.11" y1="375.3" x2="389.11" y2="377.6" stroke="#444" stroke-width="0.7"/><text transform="translate(391.81,380.6) rotate(-90)" font-family="Liberation Sans" font-size="7.85" fill="#1a1a1a" text-anchor="end">LUAD.Normal (n=59)</text><line x1="398.55" y1="375.3" x2="398.55" y2="377.6" stroke="#444" stroke-width="0.7"/><text transform="translate(401.25,380.6) rotate(-90)" font-family="Liberation Sans" font-size="7.85" fill="#1a1a1a" text-anchor="end">LUSC.Tumor (n=501)</text><line x1="407.98" y1="375.3" x2="407.98" y2="377.6" stroke="#444" stroke-width="0.7"/><text transform="translate(410.68,380.6) rotate(-90)" font-family="Liberation Sans" font-size="7.85" fill="#1a1a1a" text-anchor="end">LUSC.Normal (n=51)</text><line x1="417.41" y1="375.3" x2="417.41" y2="377.6" stroke="#444" stroke-width="0.7"/><text transform="translate(420.11,380.6) rotate(-90)" font-family="Liberation Sans" font-size="7.85" fill="#1a1a1a" text-anchor="end">MESO.Tumor (n=87)</text><line x1="426.85" y1="375.3" x2="426.85" y2="377.6" stroke="#444" stroke-width="0.7"/><text transform="translate(429.55,380.6) rotate(-90)" font-family="Liberation Sans" font-size="7.85" fill="#1a1a1a" text-anchor="end">OV.Tumor (n=303)</text><line x1="436.28" y1="375.3" x2="436.28" y2="377.6" stroke="#444" stroke-width="0.7"/><text transform="translate(438.98,380.6) rotate(-90)" font-family="Liberation Sans" font-size="7.85" fill="#1a1a1a" text-anchor="end">PAAD.Tumor (n=178)</text><line x1="445.71" y1="375.3" x2="445.71" y2="377.6" stroke="#444" stroke-width="0.7"/><text transform="translate(448.41,380.6) rotate(-90)" font-family="Liberation Sans" font-size="7.85" fill="#1a1a1a" text-anchor="end">PAAD.Normal (n=4)</text><line x1="455.15" y1="375.3" x2="455.15" y2="377.6" stroke="#444" stroke-width="0.7"/><text transform="translate(457.85,380.6) rotate(-90)" font-family="Liberation Sans" font-size="7.85" fill="#1a1a1a" text-anchor="end">PCPG.Tumor (n=179)</text><line x1="464.58" y1="375.3" x2="464.58" y2="377.6" stroke="#444" stroke-width="0.7"/><text transform="translate(467.28,380.6) rotate(-90)" font-family="Liberation Sans" font-size="7.85" fill="#1a1a1a" text-anchor="end">PCPG.Normal (n=3)</text><line x1="474.01" y1="375.3" x2="474.01" y2="377.6" stroke="#444" stroke-width="0.7"/><text transform="translate(476.71,380.6) rotate(-90)" font-family="Liberation Sans" font-size="7.85" fill="#1a1a1a" text-anchor="end">PRAD.Tumor (n=497)</text><line x1="483.44" y1="375.3" x2="483.44" y2="377.6" stroke="#444" stroke-width="0.7"/><text transform="translate(486.14,380.6) rotate(-90)" font-family="Liberation Sans" font-size="7.85" fill="#1a1a1a" text-anchor="end">PRAD.Normal (n=52)</text><line x1="492.88" y1="375.3" x2="492.88" y2="377.6" stroke="#444" stroke-width="0.7"/><text transform="translate(495.58,380.6) rotate(-90)" font-family="Liberation Sans" font-size="7.85" fill="#1a1a1a" text-anchor="end">READ.Tumor (n=166)</text><line x1="502.31" y1="375.3" x2="502.31" y2="377.6" stroke="#444" stroke-width="0.7"/><text transform="translate(505.01,380.6) rotate(-90)" font-family="Liberation Sans" font-size="7.85" fill="#1a1a1a" text-anchor="end">READ.Normal (n=10)</text><line x1="511.74" y1="375.3" x2="511.74" y2="377.6" stroke="#444" stroke-width="0.7"/><text transform="translate(514.44,380.6) rotate(-90)" font-family="Liberation Sans" font-size="7.85" fill="#1a1a1a" text-anchor="end">SARC.Tumor (n=259)</text><line x1="521.18" y1="375.3" x2="521.18" y2="377.6" stroke="#444" stroke-width="0.7"/><text transform="translate(523.88,380.6) rotate(-90)" font-family="Liberation Sans" font-size="7.85" fill="#1a1a1a" text-anchor="end">SKCM.Tumor (n=103)</text><line x1="530.61" y1="375.3" x2="530.61" y2="377.6" stroke="#444" stroke-width="0.7"/><text transform="translate(533.31,380.6) rotate(-90)" font-family="Liberation Sans" font-size="7.85" fill="#1a1a1a" text-anchor="end">SKCM.Metastasis (n=368)</text><line x1="540.04" y1="375.3" x2="540.04" y2="377.6" stroke="#444" stroke-width="0.7"/><text transform="translate(542.74,380.6) rotate(-90)" font-family="Liberation Sans" font-size="7.85" fill="#1a1a1a" text-anchor="end">STAD.Tumor (n=415)</text><line x1="549.48" y1="375.3" x2="549.48" y2="377.6" stroke="#444" stroke-width="0.7"/><text transform="translate(552.18,380.6) rotate(-90)" font-family="Liberation Sans" font-size="7.85" fill="#1a1a1a" text-anchor="end">STAD.Normal (n=35)</text><line x1="558.91" y1="375.3" x2="558.91" y2="377.6" stroke="#444" stroke-width="0.7"/><text transform="translate(561.61,380.6) rotate(-90)" font-family="Liberation Sans" font-size="7.85" fill="#1a1a1a" text-anchor="end">TGCT.Tumor (n=150)</text><line x1="568.34" y1="375.3" x2="568.34" y2="377.6" stroke="#444" stroke-width="0.7"/><text transform="translate(571.04,380.6) rotate(-90)" font-family="Liberation Sans" font-size="7.85" fill="#1a1a1a" text-anchor="end">THCA.Tumor (n=501)</text><line x1="577.77" y1="375.3" x2="577.77" y2="377.6" stroke="#444" stroke-width="0.7"/><text transform="translate(580.48,380.6) rotate(-90)" font-family="Liberation Sans" font-size="7.85" fill="#1a1a1a" text-anchor="end">THCA.Normal (n=59)</text><line x1="587.21" y1="375.3" x2="587.21" y2="377.6" stroke="#444" stroke-width="0.7"/><text transform="translate(589.91,380.6) rotate(-90)" font-family="Liberation Sans" font-size="7.85" fill="#1a1a1a" text-anchor="end">THYM.Tumor (n=120)</text><line x1="596.64" y1="375.3" x2="596.64" y2="377.6" stroke="#444" stroke-width="0.7"/><text transform="translate(599.34,380.6) rotate(-90)" font-family="Liberation Sans" font-size="7.85" fill="#1a1a1a" text-anchor="end">UCEC.Tumor (n=545)</text><line x1="606.07" y1="375.3" x2="606.07" y2="377.6" stroke="#444" stroke-width="0.7"/><text transform="translate(608.77,380.6) rotate(-90)" font-family="Liberation Sans" font-size="7.85" fill="#1a1a1a" text-anchor="end">UCEC.Normal (n=35)</text><line x1="615.51" y1="375.3" x2="615.51" y2="377.6" stroke="#444" stroke-width="0.7"/><text transform="translate(618.21,380.6) rotate(-90)" font-family="Liberation Sans" font-size="7.85" fill="#1a1a1a" text-anchor="end">UCS.Tumor (n=57)</text><line x1="624.94" y1="375.3" x2="624.94" y2="377.6" stroke="#444" stroke-width="0.7"/><text transform="translate(627.64,380.6) rotate(-90)" font-family="Liberation Sans" font-size="7.85" fill="#1a1a1a" text-anchor="end">UVM.Tumor (n=80)</text><rect x="47.4" y="495.5" width="585.9" height="109.4" fill="none" stroke="#333" stroke-width="0.8"/><line x1="47.4" y1="495.5" x2="47.4" y2="604.9" stroke="#222" stroke-width="1"/><line x1="44.3" y1="604.9" x2="633.3" y2="604.9" stroke="#222" stroke-width="1"/><line x1="44.3" y1="604.2" x2="47.4" y2="604.2" stroke="#333" stroke-width="0.7"/><text x="41.8" y="606.3" font-family="Liberation Sans" font-size="6.6" fill="#222" text-anchor="end">−20</text><line x1="44.3" y1="591.5" x2="47.4" y2="591.5" stroke="#333" stroke-width="0.7"/><text x="41.8" y="593.6" font-family="Liberation Sans" font-size="6.6" fill="#222" text-anchor="end">−15</text><line x1="44.3" y1="578.8" x2="47.4" y2="578.8" stroke="#333" stroke-width="0.7"/><text x="41.8" y="580.9" font-family="Liberation Sans" font-size="6.6" fill="#222" text-anchor="end">−10</text><line x1="44.3" y1="566.1" x2="47.4" y2="566.1" stroke="#333" stroke-width="0.7"/><text x="41.8" y="568.2" font-family="Liberation Sans" font-size="6.6" fill="#222" text-anchor="end">−5</text><line x1="44.3" y1="553.4" x2="47.4" y2="553.4" stroke="#333" stroke-width="0.7"/><text x="41.8" y="555.5" font-family="Liberation Sans" font-size="6.6" fill="#222" text-anchor="end">0</text><line x1="44.3" y1="540.7" x2="47.4" y2="540.7" stroke="#333" stroke-width="0.7"/><text x="41.8" y="542.8" font-family="Liberation Sans" font-size="6.6" fill="#222" text-anchor="end">5</text><line x1="44.3" y1="528" x2="47.4" y2="528" stroke="#333" stroke-width="0.7"/><text x="41.8" y="530.1" font-family="Liberation Sans" font-size="6.6" fill="#222" text-anchor="end">10</text><line x1="44.3" y1="515.3" x2="47.4" y2="515.3" stroke="#333" stroke-width="0.7"/><text x="41.8" y="517.4" font-family="Liberation Sans" font-size="6.6" fill="#222" text-anchor="end">15</text><line x1="44.3" y1="502.6" x2="47.4" y2="502.6" stroke="#333" stroke-width="0.7"/><text x="41.8" y="504.7" font-family="Liberation Sans" font-size="6.6" fill="#222" text-anchor="end">20</text><text transform="translate(28.1,543.2) rotate(-90)" font-family="Liberation Sans" font-size="6.1" fill="#555" text-anchor="middle">Expression</text><text x="9.8" y="496.3" font-family="Liberation Sans" font-weight="bold" font-size="10.8" fill="#111">C</text><line x1="61.6" y1="507" x2="61.6" y2="601.8" stroke="#333" stroke-width="0.8"/><path d="M61.6 532.5 L60.95 532.5 L60.83 532.65 L60.68 532.79 L60.52 532.94 L60.34 533.09 L60.14 533.23 L59.91 533.38 L59.66 533.52 L59.39 533.67 L59.1 533.82 L58.79 533.96 L58.46 534.11 L58.11 534.26 L57.74 534.4 L57.37 534.55 L56.99 534.7 L56.61 534.84 L56.23 534.99 L55.86 535.14 L55.5 535.28 L55.16 535.43 L54.84 535.58 L54.56 535.72 L54.31 535.87 L54.09 536.01 L53.92 536.16 L53.8 536.31 L53.73 536.45 L53.7 536.6 L53.73 536.75 L53.8 536.89 L53.92 537.04 L54.09 537.19 L54.31 537.33 L54.56 537.48 L54.84 537.62 L55.16 537.77 L55.5 537.92 L55.86 538.06 L56.23 538.21 L56.61 538.36 L56.99 538.5 L57.37 538.65 L57.74 538.8 L58.11 538.94 L58.46 539.09 L58.79 539.24 L59.1 539.38 L59.39 539.53 L59.66 539.68 L59.91 539.82 L60.14 539.97 L60.34 540.11 L60.52 540.26 L60.68 540.41 L60.83 540.55 L60.95 540.7 L61.6 540.7 Z" fill="#E64B35" stroke="#3a2a2a" stroke-width="0.45"/><path d="M61.6 518 L61.6 518 L62.54 518.85 L63.22 519.7 L63.8 520.55 L64.33 521.4 L64.82 522.25 L65.26 523.1 L65.68 523.95 L66.06 524.8 L66.42 525.65 L66.76 526.5 L67.07 527.35 L67.36 528.2 L67.63 529.05 L67.88 529.9 L68.11 530.75 L68.32 531.6 L68.51 532.45 L68.68 533.3 L68.84 534.15 L68.98 535 L69.1 535.85 L69.21 536.7 L69.3 537.55 L69.37 538.4 L69.43 539.25 L69.47 540.1 L69.49 540.95 L69.5 541.8 L69.49 542.69 L69.47 543.57 L69.43 544.46 L69.37 545.34 L69.3 546.23 L69.21 547.11 L69.1 548 L68.98 548.89 L68.84 549.77 L68.68 550.66 L68.51 551.54 L68.32 552.43 L68.11 553.31 L67.88 554.2 L67.63 555.09 L67.36 555.97 L67.07 556.86 L66.76 557.74 L66.42 558.63 L66.06 559.51 L65.68 560.4 L65.26 561.29 L64.82 562.17 L64.33 563.06 L63.8 563.94 L63.22 564.83 L62.54 565.71 L61.6 566.6 L61.6 566.6 Z" fill="#4DBBD5" stroke="#1f3a44" stroke-width="0.45"/><line x1="61.6" y1="518" x2="61.6" y2="566.6" stroke="#333" stroke-width="0.6"/><line x1="59.9" y1="536.3" x2="59.9" y2="538.1" stroke="#000" stroke-width="0.6"/><line x1="58.7" y1="536.3" x2="61.1" y2="536.3" stroke="#000" stroke-width="0.6"/><line x1="58.7" y1="538.1" x2="61.1" y2="538.1" stroke="#000" stroke-width="0.6"/><rect x="58.85" y="536.15" width="2.1" height="2.1" fill="#000"/><line x1="63" y1="541.5" x2="63" y2="543.3" stroke="#000" stroke-width="0.6"/><line x1="61.8" y1="541.5" x2="64.2" y2="541.5" stroke="#000" stroke-width="0.6"/><line x1="61.8" y1="543.3" x2="64.2" y2="543.3" stroke="#000" stroke-width="0.6"/><rect x="61.95" y="541.35" width="2.1" height="2.1" fill="#000"/><line x1="78.5" y1="507" x2="78.5" y2="601.8" stroke="#333" stroke-width="0.8"/><path d="M78.5 533.5 L77.87 533.5 L77.75 533.65 L77.61 533.79 L77.45 533.94 L77.27 534.09 L77.07 534.23 L76.85 534.38 L76.61 534.52 L76.35 534.67 L76.06 534.82 L75.76 534.96 L75.44 535.11 L75.1 535.26 L74.74 535.4 L74.38 535.55 L74.01 535.7 L73.64 535.84 L73.26 535.99 L72.9 536.14 L72.55 536.28 L72.22 536.43 L71.91 536.58 L71.64 536.72 L71.39 536.87 L71.18 537.01 L71.02 537.16 L70.9 537.31 L70.82 537.45 L70.8 537.6 L70.82 537.75 L70.9 537.9 L71.02 538.05 L71.18 538.2 L71.39 538.35 L71.64 538.5 L71.91 538.65 L72.22 538.8 L72.55 538.95 L72.9 539.1 L73.26 539.25 L73.64 539.4 L74.01 539.55 L74.38 539.7 L74.74 539.85 L75.1 540 L75.44 540.15 L75.76 540.3 L76.06 540.45 L76.35 540.6 L76.61 540.75 L76.85 540.9 L77.07 541.05 L77.27 541.2 L77.45 541.35 L77.61 541.5 L77.75 541.65 L77.87 541.8 L78.5 541.8 Z" fill="#E64B35" stroke="#3a2a2a" stroke-width="0.45"/><path d="M78.5 518 L78.5 518 L79.44 518.85 L80.12 519.7 L80.7 520.55 L81.23 521.4 L81.72 522.25 L82.16 523.1 L82.58 523.95 L82.96 524.8 L83.32 525.65 L83.66 526.5 L83.97 527.35 L84.26 528.2 L84.53 529.05 L84.78 529.9 L85.01 530.75 L85.22 531.6 L85.41 532.45 L85.58 533.3 L85.74 534.15 L85.88 535 L86 535.85 L86.11 536.7 L86.2 537.55 L86.27 538.4 L86.33 539.25 L86.37 540.1 L86.39 540.95 L86.4 541.8 L86.39 542.69 L86.37 543.57 L86.33 544.46 L86.27 545.34 L86.2 546.23 L86.11 547.11 L86 548 L85.88 548.89 L85.74 549.77 L85.58 550.66 L85.41 551.54 L85.22 552.43 L85.01 553.31 L84.78 554.2 L84.53 555.09 L84.26 555.97 L83.97 556.86 L83.66 557.74 L83.32 558.63 L82.96 559.51 L82.58 560.4 L82.16 561.29 L81.72 562.17 L81.23 563.06 L80.7 563.94 L80.12 564.83 L79.44 565.71 L78.5 566.6 L78.5 566.6 Z" fill="#4DBBD5" stroke="#1f3a44" stroke-width="0.45"/><line x1="78.5" y1="518" x2="78.5" y2="566.6" stroke="#333" stroke-width="0.6"/><line x1="77.1" y1="537.1" x2="77.1" y2="538.9" stroke="#000" stroke-width="0.6"/><line x1="75.9" y1="537.1" x2="78.3" y2="537.1" stroke="#000" stroke-width="0.6"/><line x1="75.9" y1="538.9" x2="78.3" y2="538.9" stroke="#000" stroke-width="0.6"/><rect x="76.05" y="536.95" width="2.1" height="2.1" fill="#000"/><line x1="80.2" y1="541.5" x2="80.2" y2="543.3" stroke="#000" stroke-width="0.6"/><line x1="79" y1="541.5" x2="81.4" y2="541.5" stroke="#000" stroke-width="0.6"/><line x1="79" y1="543.3" x2="81.4" y2="543.3" stroke="#000" stroke-width="0.6"/><rect x="79.15" y="541.35" width="2.1" height="2.1" fill="#000"/><line x1="95.3" y1="507" x2="95.3" y2="601.8" stroke="#333" stroke-width="0.8"/><path d="M95.3 533.9 L94.68 533.9 L94.57 534.05 L94.43 534.21 L94.28 534.36 L94.1 534.51 L93.91 534.67 L93.7 534.82 L93.46 534.98 L93.21 535.13 L92.93 535.28 L92.63 535.44 L92.32 535.59 L91.98 535.74 L91.64 535.9 L91.29 536.05 L90.92 536.2 L90.56 536.36 L90.2 536.51 L89.85 536.66 L89.51 536.82 L89.18 536.97 L88.88 537.12 L88.61 537.28 L88.37 537.43 L88.17 537.59 L88.01 537.74 L87.9 537.89 L87.82 538.05 L87.8 538.2 L87.82 538.34 L87.9 538.49 L88.01 538.63 L88.17 538.77 L88.37 538.91 L88.61 539.06 L88.88 539.2 L89.18 539.34 L89.51 539.49 L89.85 539.63 L90.2 539.77 L90.56 539.91 L90.92 540.06 L91.29 540.2 L91.64 540.34 L91.98 540.49 L92.32 540.63 L92.63 540.77 L92.93 540.91 L93.21 541.06 L93.46 541.2 L93.7 541.34 L93.91 541.49 L94.1 541.63 L94.28 541.77 L94.43 541.91 L94.57 542.06 L94.68 542.2 L95.3 542.2 Z" fill="#E64B35" stroke="#3a2a2a" stroke-width="0.45"/><path d="M95.3 518 L95.3 518 L96.29 518.85 L97 519.7 L97.62 520.55 L98.17 521.4 L98.68 522.25 L99.15 523.1 L99.58 523.95 L99.99 524.8 L100.37 525.65 L100.72 526.5 L101.05 527.35 L101.35 528.2 L101.63 529.05 L101.89 529.9 L102.13 530.75 L102.36 531.6 L102.56 532.45 L102.74 533.3 L102.91 534.15 L103.05 535 L103.18 535.85 L103.29 536.7 L103.39 537.55 L103.46 538.4 L103.52 539.25 L103.57 540.1 L103.59 540.95 L103.6 541.8 L103.59 542.65 L103.57 543.5 L103.52 544.35 L103.46 545.2 L103.39 546.05 L103.29 546.9 L103.18 547.75 L103.05 548.6 L102.91 549.45 L102.74 550.3 L102.56 551.15 L102.36 552 L102.13 552.85 L101.89 553.7 L101.63 554.55 L101.35 555.4 L101.05 556.25 L100.72 557.1 L100.37 557.95 L99.99 558.8 L99.58 559.65 L99.15 560.5 L98.68 561.35 L98.17 562.2 L97.62 563.05 L97 563.9 L96.29 564.75 L95.3 565.6 L95.3 565.6 Z" fill="#4DBBD5" stroke="#1f3a44" stroke-width="0.45"/><line x1="95.3" y1="518" x2="95.3" y2="565.6" stroke="#333" stroke-width="0.6"/><line x1="93.7" y1="537.3" x2="93.7" y2="539.1" stroke="#000" stroke-width="0.6"/><line x1="92.5" y1="537.3" x2="94.9" y2="537.3" stroke="#000" stroke-width="0.6"/><line x1="92.5" y1="539.1" x2="94.9" y2="539.1" stroke="#000" stroke-width="0.6"/><rect x="92.65" y="537.15" width="2.1" height="2.1" fill="#000"/><line x1="96.8" y1="541.5" x2="96.8" y2="543.3" stroke="#000" stroke-width="0.6"/><line x1="95.6" y1="541.5" x2="98" y2="541.5" stroke="#000" stroke-width="0.6"/><line x1="95.6" y1="543.3" x2="98" y2="543.3" stroke="#000" stroke-width="0.6"/><rect x="95.75" y="541.35" width="2.1" height="2.1" fill="#000"/><line x1="112.3" y1="525.2" x2="112.3" y2="551.1" stroke="#333" stroke-width="0.8"/><path d="M112.3 529.3 L111.65 529.3 L111.53 529.56 L111.38 529.82 L111.22 530.08 L111.04 530.34 L110.84 530.6 L110.61 530.86 L110.36 531.12 L110.09 531.39 L109.8 531.65 L109.49 531.91 L109.16 532.17 L108.81 532.43 L108.44 532.69 L108.07 532.95 L107.69 533.21 L107.31 533.47 L106.93 533.73 L106.56 533.99 L106.2 534.25 L105.86 534.51 L105.54 534.77 L105.26 535.04 L105.01 535.3 L104.79 535.56 L104.62 535.82 L104.5 536.08 L104.43 536.34 L104.4 536.6 L104.43 536.9 L104.5 537.19 L104.62 537.49 L104.79 537.79 L105.01 538.08 L105.26 538.38 L105.54 538.67 L105.86 538.97 L106.2 539.27 L106.56 539.56 L106.93 539.86 L107.31 540.16 L107.69 540.45 L108.07 540.75 L108.44 541.05 L108.81 541.34 L109.16 541.64 L109.49 541.94 L109.8 542.23 L110.09 542.53 L110.36 542.83 L110.61 543.12 L110.84 543.42 L111.04 543.71 L111.22 544.01 L111.38 544.31 L111.53 544.6 L111.65 544.9 L112.3 544.9 Z" fill="#E64B35" stroke="#3a2a2a" stroke-width="0.45"/><path d="M112.3 536 L112.82 536 L112.93 536.1 L113.05 536.19 L113.19 536.29 L113.36 536.39 L113.55 536.48 L113.75 536.58 L113.99 536.67 L114.24 536.77 L114.52 536.87 L114.82 536.96 L115.15 537.06 L115.49 537.16 L115.85 537.25 L116.22 537.35 L116.6 537.45 L116.99 537.54 L117.38 537.64 L117.76 537.74 L118.13 537.83 L118.48 537.93 L118.8 538.03 L119.1 538.12 L119.36 538.22 L119.59 538.31 L119.76 538.41 L119.89 538.51 L119.97 538.6 L120 538.7 L119.97 538.77 L119.89 538.84 L119.76 538.91 L119.59 538.99 L119.36 539.06 L119.1 539.13 L118.8 539.2 L118.48 539.27 L118.13 539.34 L117.76 539.41 L117.38 539.49 L116.99 539.56 L116.6 539.63 L116.22 539.7 L115.85 539.77 L115.49 539.84 L115.15 539.91 L114.82 539.99 L114.52 540.06 L114.24 540.13 L113.99 540.2 L113.75 540.27 L113.55 540.34 L113.36 540.41 L113.19 540.49 L113.05 540.56 L112.93 540.63 L112.82 540.7 L112.3 540.7 Z" fill="#4DBBD5" stroke="#1f3a44" stroke-width="0.45"/><line x1="112.3" y1="529.3" x2="112.3" y2="544.9" stroke="#333" stroke-width="0.6"/><line x1="110.9" y1="535.9" x2="110.9" y2="537.7" stroke="#000" stroke-width="0.6"/><line x1="109.7" y1="535.9" x2="112.1" y2="535.9" stroke="#000" stroke-width="0.6"/><line x1="109.7" y1="537.7" x2="112.1" y2="537.7" stroke="#000" stroke-width="0.6"/><rect x="109.85" y="535.75" width="2.1" height="2.1" fill="#000"/><line x1="113.8" y1="537.6" x2="113.8" y2="539.4" stroke="#000" stroke-width="0.6"/><line x1="112.6" y1="537.6" x2="115" y2="537.6" stroke="#000" stroke-width="0.6"/><line x1="112.6" y1="539.4" x2="115" y2="539.4" stroke="#000" stroke-width="0.6"/><rect x="112.75" y="537.45" width="2.1" height="2.1" fill="#000"/><line x1="129.3" y1="526.2" x2="129.3" y2="550.5" stroke="#333" stroke-width="0.8"/><path d="M129.3 530.4 L128.64 530.4 L128.51 530.62 L128.36 530.84 L128.2 531.06 L128.01 531.29 L127.8 531.51 L127.57 531.73 L127.32 531.95 L127.04 532.17 L126.74 532.39 L126.42 532.61 L126.08 532.84 L125.72 533.06 L125.35 533.28 L124.96 533.5 L124.57 533.72 L124.18 533.94 L123.79 534.16 L123.41 534.39 L123.04 534.61 L122.7 534.83 L122.37 535.05 L122.08 535.27 L121.82 535.49 L121.6 535.71 L121.43 535.94 L121.3 536.16 L121.23 536.38 L121.2 536.6 L121.23 536.86 L121.3 537.11 L121.43 537.37 L121.6 537.63 L121.82 537.89 L122.08 538.14 L122.37 538.4 L122.7 538.66 L123.04 538.91 L123.41 539.17 L123.79 539.43 L124.18 539.69 L124.57 539.94 L124.96 540.2 L125.35 540.46 L125.72 540.71 L126.08 540.97 L126.42 541.23 L126.74 541.49 L127.04 541.74 L127.32 542 L127.57 542.26 L127.8 542.51 L128.01 542.77 L128.2 543.03 L128.36 543.29 L128.51 543.54 L128.64 543.8 L129.3 543.8 Z" fill="#E64B35" stroke="#3a2a2a" stroke-width="0.45"/><path d="M129.3 534.5 L129.83 534.5 L129.94 534.65 L130.07 534.8 L130.22 534.95 L130.39 535.1 L130.58 535.25 L130.79 535.4 L131.03 535.55 L131.29 535.7 L131.58 535.85 L131.89 536 L132.22 536.15 L132.57 536.3 L132.94 536.45 L133.32 536.6 L133.71 536.75 L134.11 536.9 L134.51 537.05 L134.9 537.2 L135.28 537.35 L135.64 537.5 L135.97 537.65 L136.28 537.8 L136.55 537.95 L136.78 538.1 L136.96 538.25 L137.09 538.4 L137.17 538.55 L137.2 538.7 L137.17 538.81 L137.09 538.92 L136.96 539.03 L136.78 539.14 L136.55 539.25 L136.28 539.36 L135.97 539.48 L135.64 539.59 L135.28 539.7 L134.9 539.81 L134.51 539.92 L134.11 540.03 L133.71 540.14 L133.32 540.25 L132.94 540.36 L132.57 540.47 L132.22 540.58 L131.89 540.69 L131.58 540.8 L131.29 540.91 L131.03 541.02 L130.79 541.14 L130.58 541.25 L130.39 541.36 L130.22 541.47 L130.07 541.58 L129.94 541.69 L129.83 541.8 L129.3 541.8 Z" fill="#4DBBD5" stroke="#1f3a44" stroke-width="0.45"/><line x1="129.3" y1="530.4" x2="129.3" y2="543.8" stroke="#333" stroke-width="0.6"/><line x1="127.8" y1="535.7" x2="127.8" y2="537.5" stroke="#000" stroke-width="0.6"/><line x1="126.6" y1="535.7" x2="129" y2="535.7" stroke="#000" stroke-width="0.6"/><line x1="126.6" y1="537.5" x2="129" y2="537.5" stroke="#000" stroke-width="0.6"/><rect x="126.75" y="535.55" width="2.1" height="2.1" fill="#000"/><line x1="130.7" y1="538" x2="130.7" y2="539.8" stroke="#000" stroke-width="0.6"/><line x1="129.5" y1="538" x2="131.9" y2="538" stroke="#000" stroke-width="0.6"/><line x1="129.5" y1="539.8" x2="131.9" y2="539.8" stroke="#000" stroke-width="0.6"/><rect x="129.65" y="537.85" width="2.1" height="2.1" fill="#000"/><line x1="146.1" y1="528.3" x2="146.1" y2="545.9" stroke="#333" stroke-width="0.8"/><path d="M146.1 531.4 L145.45 531.4 L145.33 531.55 L145.18 531.7 L145.02 531.85 L144.84 532 L144.64 532.15 L144.41 532.3 L144.16 532.45 L143.89 532.6 L143.6 532.75 L143.29 532.9 L142.96 533.05 L142.61 533.2 L142.24 533.35 L141.87 533.5 L141.49 533.65 L141.11 533.8 L140.73 533.95 L140.36 534.1 L140 534.25 L139.66 534.4 L139.34 534.55 L139.06 534.7 L138.81 534.85 L138.59 535 L138.42 535.15 L138.3 535.3 L138.23 535.45 L138.2 535.6 L138.23 535.78 L138.3 535.96 L138.42 536.15 L138.59 536.33 L138.81 536.51 L139.06 536.69 L139.34 536.88 L139.66 537.06 L140 537.24 L140.36 537.42 L140.73 537.6 L141.11 537.79 L141.49 537.97 L141.87 538.15 L142.24 538.33 L142.61 538.51 L142.96 538.7 L143.29 538.88 L143.6 539.06 L143.89 539.24 L144.16 539.43 L144.41 539.61 L144.64 539.79 L144.84 539.97 L145.02 540.15 L145.18 540.34 L145.33 540.52 L145.45 540.7 L146.1 540.7 Z" fill="#E64B35" stroke="#3a2a2a" stroke-width="0.45"/><path d="M146.1 535.6 L146.62 535.6 L146.73 535.69 L146.85 535.77 L146.99 535.86 L147.16 535.94 L147.35 536.03 L147.55 536.11 L147.79 536.2 L148.04 536.29 L148.32 536.37 L148.62 536.46 L148.95 536.54 L149.29 536.63 L149.65 536.71 L150.02 536.8 L150.4 536.89 L150.79 536.97 L151.18 537.06 L151.56 537.14 L151.93 537.23 L152.28 537.31 L152.6 537.4 L152.9 537.49 L153.16 537.57 L153.39 537.66 L153.56 537.74 L153.69 537.83 L153.77 537.91 L153.8 538 L153.77 538.08 L153.69 538.16 L153.56 538.25 L153.39 538.33 L153.16 538.41 L152.9 538.49 L152.6 538.58 L152.28 538.66 L151.93 538.74 L151.56 538.82 L151.18 538.9 L150.79 538.99 L150.4 539.07 L150.02 539.15 L149.65 539.23 L149.29 539.31 L148.95 539.4 L148.62 539.48 L148.32 539.56 L148.04 539.64 L147.79 539.72 L147.55 539.81 L147.35 539.89 L147.16 539.97 L146.99 540.05 L146.85 540.14 L146.73 540.22 L146.62 540.3 L146.1 540.3 Z" fill="#4DBBD5" stroke="#1f3a44" stroke-width="0.45"/><line x1="146.1" y1="531.4" x2="146.1" y2="540.7" stroke="#333" stroke-width="0.6"/><line x1="144.6" y1="534.7" x2="144.6" y2="536.5" stroke="#000" stroke-width="0.6"/><line x1="143.4" y1="534.7" x2="145.8" y2="534.7" stroke="#000" stroke-width="0.6"/><line x1="143.4" y1="536.5" x2="145.8" y2="536.5" stroke="#000" stroke-width="0.6"/><rect x="143.55" y="534.55" width="2.1" height="2.1" fill="#000"/><line x1="147.5" y1="537.3" x2="147.5" y2="539.1" stroke="#000" stroke-width="0.6"/><line x1="146.3" y1="537.3" x2="148.7" y2="537.3" stroke="#000" stroke-width="0.6"/><line x1="146.3" y1="539.1" x2="148.7" y2="539.1" stroke="#000" stroke-width="0.6"/><rect x="146.45" y="537.15" width="2.1" height="2.1" fill="#000"/><line x1="163" y1="508.6" x2="163" y2="601.8" stroke="#333" stroke-width="0.8"/><path d="M163 531.4 L162.35 531.4 L162.23 531.62 L162.08 531.84 L161.92 532.06 L161.74 532.29 L161.54 532.51 L161.31 532.73 L161.06 532.95 L160.79 533.17 L160.5 533.39 L160.19 533.61 L159.86 533.84 L159.51 534.06 L159.14 534.28 L158.77 534.5 L158.39 534.72 L158.01 534.94 L157.63 535.16 L157.26 535.39 L156.9 535.61 L156.56 535.83 L156.24 536.05 L155.96 536.27 L155.71 536.49 L155.49 536.71 L155.32 536.94 L155.2 537.16 L155.13 537.38 L155.1 537.6 L155.13 537.84 L155.2 538.08 L155.32 538.32 L155.49 538.56 L155.71 538.8 L155.96 539.04 L156.24 539.27 L156.56 539.51 L156.9 539.75 L157.26 539.99 L157.63 540.23 L158.01 540.47 L158.39 540.71 L158.77 540.95 L159.14 541.19 L159.51 541.43 L159.86 541.67 L160.19 541.91 L160.5 542.15 L160.79 542.39 L161.06 542.62 L161.31 542.86 L161.54 543.1 L161.74 543.34 L161.92 543.58 L162.08 543.82 L162.23 544.06 L162.35 544.3 L163 544.3 Z" fill="#E64B35" stroke="#3a2a2a" stroke-width="0.45"/><path d="M163 514.9 L163 514.9 L163.99 515.75 L164.7 516.6 L165.32 517.45 L165.87 518.3 L166.38 519.15 L166.85 520 L167.28 520.85 L167.69 521.7 L168.07 522.55 L168.42 523.4 L168.75 524.25 L169.05 525.1 L169.33 525.95 L169.59 526.8 L169.83 527.65 L170.06 528.5 L170.26 529.35 L170.44 530.2 L170.61 531.05 L170.75 531.9 L170.88 532.75 L170.99 533.6 L171.09 534.45 L171.16 535.3 L171.22 536.15 L171.27 537 L171.29 537.85 L171.3 538.7 L171.29 539.51 L171.27 540.32 L171.22 541.13 L171.16 541.94 L171.09 542.75 L170.99 543.56 L170.88 544.38 L170.75 545.19 L170.61 546 L170.44 546.81 L170.26 547.62 L170.06 548.43 L169.83 549.24 L169.59 550.05 L169.33 550.86 L169.05 551.67 L168.75 552.48 L168.42 553.29 L168.07 554.1 L167.69 554.91 L167.28 555.73 L166.85 556.54 L166.38 557.35 L165.87 558.16 L165.32 558.97 L164.7 559.78 L163.99 560.59 L163 561.4 L163 561.4 Z" fill="#4DBBD5" stroke="#1f3a44" stroke-width="0.45"/><line x1="163" y1="514.9" x2="163" y2="561.4" stroke="#333" stroke-width="0.6"/><line x1="161.4" y1="536.7" x2="161.4" y2="538.5" stroke="#000" stroke-width="0.6"/><line x1="160.2" y1="536.7" x2="162.6" y2="536.7" stroke="#000" stroke-width="0.6"/><line x1="160.2" y1="538.5" x2="162.6" y2="538.5" stroke="#000" stroke-width="0.6"/><rect x="160.35" y="536.55" width="2.1" height="2.1" fill="#000"/><line x1="164.5" y1="537.8" x2="164.5" y2="539.6" stroke="#000" stroke-width="0.6"/><line x1="163.3" y1="537.8" x2="165.7" y2="537.8" stroke="#000" stroke-width="0.6"/><line x1="163.3" y1="539.6" x2="165.7" y2="539.6" stroke="#000" stroke-width="0.6"/><rect x="163.45" y="537.65" width="2.1" height="2.1" fill="#000"/><line x1="179.9" y1="512.8" x2="179.9" y2="599.8" stroke="#333" stroke-width="0.8"/><path d="M179.9 531.4 L179.28 531.4 L179.16 531.59 L179.02 531.77 L178.86 531.96 L178.69 532.14 L178.49 532.33 L178.28 532.51 L178.04 532.7 L177.78 532.89 L177.5 533.07 L177.2 533.26 L176.88 533.44 L176.54 533.63 L176.19 533.81 L175.83 534 L175.47 534.19 L175.1 534.37 L174.73 534.56 L174.38 534.74 L174.03 534.93 L173.7 535.11 L173.4 535.3 L173.12 535.49 L172.88 535.67 L172.68 535.86 L172.52 536.04 L172.4 536.23 L172.32 536.41 L172.3 536.6 L172.32 536.79 L172.4 536.97 L172.52 537.16 L172.68 537.34 L172.88 537.53 L173.12 537.71 L173.4 537.9 L173.7 538.09 L174.03 538.27 L174.38 538.46 L174.73 538.64 L175.1 538.83 L175.47 539.01 L175.83 539.2 L176.19 539.39 L176.54 539.57 L176.88 539.76 L177.2 539.94 L177.5 540.13 L177.78 540.31 L178.04 540.5 L178.28 540.69 L178.49 540.87 L178.69 541.06 L178.86 541.24 L179.02 541.43 L179.16 541.61 L179.28 541.8 L179.9 541.8 Z" fill="#E64B35" stroke="#3a2a2a" stroke-width="0.45"/><path d="M179.9 512.8 L179.9 512.8 L180.87 513.7 L181.56 514.6 L182.16 515.5 L182.7 516.4 L183.2 517.3 L183.66 518.2 L184.08 519.1 L184.48 520 L184.84 520.9 L185.19 521.8 L185.51 522.7 L185.8 523.6 L186.08 524.5 L186.33 525.4 L186.57 526.3 L186.79 527.2 L186.98 528.1 L187.16 529 L187.32 529.9 L187.47 530.8 L187.59 531.7 L187.7 532.6 L187.79 533.5 L187.87 534.4 L187.93 535.3 L187.97 536.2 L187.99 537.1 L188 538 L187.99 538.8 L187.97 539.6 L187.93 540.4 L187.87 541.2 L187.79 542 L187.7 542.8 L187.59 543.6 L187.47 544.4 L187.32 545.2 L187.16 546 L186.98 546.8 L186.79 547.6 L186.57 548.4 L186.33 549.2 L186.08 550 L185.8 550.8 L185.51 551.6 L185.19 552.4 L184.84 553.2 L184.48 554 L184.08 554.8 L183.66 555.6 L183.2 556.4 L182.7 557.2 L182.16 558 L181.56 558.8 L180.87 559.6 L179.9 560.4 L179.9 560.4 Z" fill="#4DBBD5" stroke="#1f3a44" stroke-width="0.45"/><line x1="179.9" y1="512.8" x2="179.9" y2="560.4" stroke="#333" stroke-width="0.6"/><line x1="178.7" y1="535.7" x2="178.7" y2="537.5" stroke="#000" stroke-width="0.6"/><line x1="177.5" y1="535.7" x2="179.9" y2="535.7" stroke="#000" stroke-width="0.6"/><line x1="177.5" y1="537.5" x2="179.9" y2="537.5" stroke="#000" stroke-width="0.6"/><rect x="177.65" y="535.55" width="2.1" height="2.1" fill="#000"/><line x1="181.4" y1="537.8" x2="181.4" y2="539.6" stroke="#000" stroke-width="0.6"/><line x1="180.2" y1="537.8" x2="182.6" y2="537.8" stroke="#000" stroke-width="0.6"/><line x1="180.2" y1="539.6" x2="182.6" y2="539.6" stroke="#000" stroke-width="0.6"/><rect x="180.35" y="537.65" width="2.1" height="2.1" fill="#000"/><line x1="196.9" y1="512.8" x2="196.9" y2="599.8" stroke="#333" stroke-width="0.8"/><path d="M196.9 532.5 L196.25 532.5 L196.13 532.68 L195.98 532.86 L195.82 533.05 L195.64 533.23 L195.44 533.41 L195.21 533.59 L194.96 533.77 L194.69 533.96 L194.4 534.14 L194.09 534.32 L193.76 534.5 L193.41 534.69 L193.04 534.87 L192.67 535.05 L192.29 535.23 L191.91 535.41 L191.53 535.6 L191.16 535.78 L190.8 535.96 L190.46 536.14 L190.14 536.33 L189.86 536.51 L189.61 536.69 L189.39 536.87 L189.22 537.05 L189.1 537.24 L189.03 537.42 L189 537.6 L189.03 537.79 L189.1 537.97 L189.22 538.16 L189.39 538.34 L189.61 538.53 L189.86 538.71 L190.14 538.9 L190.46 539.09 L190.8 539.27 L191.16 539.46 L191.53 539.64 L191.91 539.83 L192.29 540.01 L192.67 540.2 L193.04 540.39 L193.41 540.57 L193.76 540.76 L194.09 540.94 L194.4 541.13 L194.69 541.31 L194.96 541.5 L195.21 541.69 L195.44 541.87 L195.64 542.06 L195.82 542.24 L195.98 542.43 L196.13 542.61 L196.25 542.8 L196.9 542.8 Z" fill="#E64B35" stroke="#3a2a2a" stroke-width="0.45"/><path d="M196.9 513.8 L196.9 513.8 L197.89 514.68 L198.6 515.56 L199.22 516.45 L199.77 517.33 L200.28 518.21 L200.75 519.09 L201.18 519.97 L201.59 520.86 L201.97 521.74 L202.32 522.62 L202.65 523.5 L202.95 524.39 L203.23 525.27 L203.49 526.15 L203.73 527.03 L203.96 527.91 L204.16 528.8 L204.34 529.68 L204.51 530.56 L204.65 531.44 L204.78 532.33 L204.89 533.21 L204.99 534.09 L205.06 534.97 L205.12 535.85 L205.17 536.74 L205.19 537.62 L205.2 538.5 L205.19 539.32 L205.17 540.14 L205.12 540.95 L205.06 541.77 L204.99 542.59 L204.89 543.41 L204.78 544.23 L204.65 545.04 L204.51 545.86 L204.34 546.68 L204.16 547.5 L203.96 548.31 L203.73 549.13 L203.49 549.95 L203.23 550.77 L202.95 551.59 L202.65 552.4 L202.32 553.22 L201.97 554.04 L201.59 554.86 L201.18 555.67 L200.75 556.49 L200.28 557.31 L199.77 558.13 L199.22 558.95 L198.6 559.76 L197.89 560.58 L196.9 561.4 L196.9 561.4 Z" fill="#4DBBD5" stroke="#1f3a44" stroke-width="0.45"/><line x1="196.9" y1="513.8" x2="196.9" y2="561.4" stroke="#333" stroke-width="0.6"/><line x1="195.5" y1="536.7" x2="195.5" y2="538.5" stroke="#000" stroke-width="0.6"/><line x1="194.3" y1="536.7" x2="196.7" y2="536.7" stroke="#000" stroke-width="0.6"/><line x1="194.3" y1="538.5" x2="196.7" y2="538.5" stroke="#000" stroke-width="0.6"/><rect x="194.45" y="536.55" width="2.1" height="2.1" fill="#000"/><line x1="198.4" y1="538.2" x2="198.4" y2="540" stroke="#000" stroke-width="0.6"/><line x1="197.2" y1="538.2" x2="199.6" y2="538.2" stroke="#000" stroke-width="0.6"/><line x1="197.2" y1="540" x2="199.6" y2="540" stroke="#000" stroke-width="0.6"/><rect x="197.35" y="538.05" width="2.1" height="2.1" fill="#000"/><line x1="213.9" y1="514.9" x2="213.9" y2="599.8" stroke="#333" stroke-width="0.8"/><path d="M213.9 533.5 L213.27 533.5 L213.15 533.66 L213.01 533.82 L212.85 533.98 L212.67 534.14 L212.47 534.3 L212.25 534.46 L212.01 534.62 L211.75 534.79 L211.46 534.95 L211.16 535.11 L210.84 535.27 L210.5 535.43 L210.14 535.59 L209.78 535.75 L209.41 535.91 L209.04 536.07 L208.66 536.23 L208.3 536.39 L207.95 536.55 L207.62 536.71 L207.31 536.88 L207.04 537.04 L206.79 537.2 L206.58 537.36 L206.42 537.52 L206.3 537.68 L206.22 537.84 L206.2 538 L206.22 538.17 L206.3 538.34 L206.42 538.51 L206.58 538.69 L206.79 538.86 L207.04 539.03 L207.31 539.2 L207.62 539.37 L207.95 539.54 L208.3 539.71 L208.66 539.89 L209.04 540.06 L209.41 540.23 L209.78 540.4 L210.14 540.57 L210.5 540.74 L210.84 540.91 L211.16 541.09 L211.46 541.26 L211.75 541.43 L212.01 541.6 L212.25 541.77 L212.47 541.94 L212.67 542.11 L212.85 542.29 L213.01 542.46 L213.15 542.63 L213.27 542.8 L213.9 542.8 Z" fill="#E64B35" stroke="#3a2a2a" stroke-width="0.45"/><path d="M213.9 514.9 L213.9 514.9 L214.84 515.74 L215.52 516.59 L216.1 517.43 L216.63 518.27 L217.12 519.11 L217.56 519.96 L217.98 520.8 L218.36 521.64 L218.72 522.49 L219.06 523.33 L219.37 524.17 L219.66 525.01 L219.93 525.86 L220.18 526.7 L220.41 527.54 L220.62 528.39 L220.81 529.23 L220.98 530.07 L221.14 530.91 L221.28 531.76 L221.4 532.6 L221.51 533.44 L221.6 534.29 L221.67 535.13 L221.73 535.97 L221.77 536.81 L221.79 537.66 L221.8 538.5 L221.79 539.32 L221.77 540.14 L221.73 540.95 L221.67 541.77 L221.6 542.59 L221.51 543.41 L221.4 544.23 L221.28 545.04 L221.14 545.86 L220.98 546.68 L220.81 547.5 L220.62 548.31 L220.41 549.13 L220.18 549.95 L219.93 550.77 L219.66 551.59 L219.37 552.4 L219.06 553.22 L218.72 554.04 L218.36 554.86 L217.98 555.67 L217.56 556.49 L217.12 557.31 L216.63 558.13 L216.1 558.95 L215.52 559.76 L214.84 560.58 L213.9 561.4 L213.9 561.4 Z" fill="#4DBBD5" stroke="#1f3a44" stroke-width="0.45"/><line x1="213.9" y1="514.9" x2="213.9" y2="561.4" stroke="#333" stroke-width="0.6"/><line x1="212.5" y1="537.1" x2="212.5" y2="538.9" stroke="#000" stroke-width="0.6"/><line x1="211.3" y1="537.1" x2="213.7" y2="537.1" stroke="#000" stroke-width="0.6"/><line x1="211.3" y1="538.9" x2="213.7" y2="538.9" stroke="#000" stroke-width="0.6"/><rect x="211.45" y="536.95" width="2.1" height="2.1" fill="#000"/><line x1="215.1" y1="537.8" x2="215.1" y2="539.6" stroke="#000" stroke-width="0.6"/><line x1="213.9" y1="537.8" x2="216.3" y2="537.8" stroke="#000" stroke-width="0.6"/><line x1="213.9" y1="539.6" x2="216.3" y2="539.6" stroke="#000" stroke-width="0.6"/><rect x="214.05" y="537.65" width="2.1" height="2.1" fill="#000"/><line x1="230.7" y1="514.9" x2="230.7" y2="599.8" stroke="#333" stroke-width="0.8"/><path d="M230.7 532.5 L230.05 532.5 L229.93 532.72 L229.78 532.94 L229.62 533.16 L229.44 533.39 L229.24 533.61 L229.01 533.83 L228.76 534.05 L228.49 534.27 L228.2 534.49 L227.89 534.71 L227.56 534.94 L227.21 535.16 L226.84 535.38 L226.47 535.6 L226.09 535.82 L225.71 536.04 L225.33 536.26 L224.96 536.49 L224.6 536.71 L224.26 536.93 L223.94 537.15 L223.66 537.37 L223.41 537.59 L223.19 537.81 L223.02 538.04 L222.9 538.26 L222.83 538.48 L222.8 538.7 L222.83 538.92 L222.9 539.14 L223.02 539.36 L223.19 539.59 L223.41 539.81 L223.66 540.03 L223.94 540.25 L224.26 540.47 L224.6 540.69 L224.96 540.91 L225.33 541.14 L225.71 541.36 L226.09 541.58 L226.47 541.8 L226.84 542.02 L227.21 542.24 L227.56 542.46 L227.89 542.69 L228.2 542.91 L228.49 543.13 L228.76 543.35 L229.01 543.57 L229.24 543.79 L229.44 544.01 L229.62 544.24 L229.78 544.46 L229.93 544.68 L230.05 544.9 L230.7 544.9 Z" fill="#E64B35" stroke="#3a2a2a" stroke-width="0.45"/><path d="M230.7 514.9 L230.7 514.9 L231.62 515.74 L232.28 516.59 L232.85 517.43 L233.36 518.27 L233.84 519.11 L234.27 519.96 L234.67 520.8 L235.05 521.64 L235.4 522.49 L235.73 523.33 L236.03 524.17 L236.31 525.01 L236.57 525.86 L236.82 526.7 L237.04 527.54 L237.25 528.39 L237.43 529.23 L237.6 530.07 L237.76 530.91 L237.89 531.76 L238.01 532.6 L238.12 533.44 L238.2 534.29 L238.27 535.13 L238.33 535.97 L238.37 536.81 L238.39 537.66 L238.4 538.5 L238.39 539.32 L238.37 540.14 L238.33 540.95 L238.27 541.77 L238.2 542.59 L238.12 543.41 L238.01 544.23 L237.89 545.04 L237.76 545.86 L237.6 546.68 L237.43 547.5 L237.25 548.31 L237.04 549.13 L236.82 549.95 L236.57 550.77 L236.31 551.59 L236.03 552.4 L235.73 553.22 L235.4 554.04 L235.05 554.86 L234.67 555.67 L234.27 556.49 L233.84 557.31 L233.36 558.13 L232.85 558.95 L232.28 559.76 L231.62 560.58 L230.7 561.4 L230.7 561.4 Z" fill="#4DBBD5" stroke="#1f3a44" stroke-width="0.45"/><line x1="230.7" y1="514.9" x2="230.7" y2="561.4" stroke="#333" stroke-width="0.6"/><line x1="229.4" y1="537.8" x2="229.4" y2="539.6" stroke="#000" stroke-width="0.6"/><line x1="228.2" y1="537.8" x2="230.6" y2="537.8" stroke="#000" stroke-width="0.6"/><line x1="228.2" y1="539.6" x2="230.6" y2="539.6" stroke="#000" stroke-width="0.6"/><rect x="228.35" y="537.65" width="2.1" height="2.1" fill="#000"/><line x1="231.7" y1="537.8" x2="231.7" y2="539.6" stroke="#000" stroke-width="0.6"/><line x1="230.5" y1="537.8" x2="232.9" y2="537.8" stroke="#000" stroke-width="0.6"/><line x1="230.5" y1="539.6" x2="232.9" y2="539.6" stroke="#000" stroke-width="0.6"/><rect x="230.65" y="537.65" width="2.1" height="2.1" fill="#000"/><line x1="247.7" y1="507" x2="247.7" y2="601.8" stroke="#333" stroke-width="0.8"/><path d="M247.7 531.4 L247.07 531.4 L246.95 531.61 L246.81 531.81 L246.65 532.02 L246.47 532.23 L246.27 532.44 L246.05 532.64 L245.81 532.85 L245.55 533.06 L245.26 533.26 L244.96 533.47 L244.64 533.68 L244.3 533.89 L243.94 534.09 L243.58 534.3 L243.21 534.51 L242.84 534.71 L242.46 534.92 L242.1 535.13 L241.75 535.34 L241.42 535.54 L241.11 535.75 L240.84 535.96 L240.59 536.16 L240.38 536.37 L240.22 536.58 L240.1 536.79 L240.02 536.99 L240 537.2 L240.02 537.4 L240.1 537.6 L240.22 537.8 L240.38 538 L240.59 538.2 L240.84 538.4 L241.11 538.6 L241.42 538.8 L241.75 539 L242.1 539.2 L242.46 539.4 L242.84 539.6 L243.21 539.8 L243.58 540 L243.94 540.2 L244.3 540.4 L244.64 540.6 L244.96 540.8 L245.26 541 L245.55 541.2 L245.81 541.4 L246.05 541.6 L246.27 541.8 L246.47 542 L246.65 542.2 L246.81 542.4 L246.95 542.6 L247.07 542.8 L247.7 542.8 Z" fill="#E64B35" stroke="#3a2a2a" stroke-width="0.45"/><path d="M247.7 514.9 L247.7 514.9 L248.62 515.74 L249.28 516.59 L249.85 517.43 L250.36 518.27 L250.84 519.11 L251.27 519.96 L251.67 520.8 L252.05 521.64 L252.4 522.49 L252.73 523.33 L253.03 524.17 L253.31 525.01 L253.57 525.86 L253.82 526.7 L254.04 527.54 L254.25 528.39 L254.43 529.23 L254.6 530.07 L254.76 530.91 L254.89 531.76 L255.01 532.6 L255.12 533.44 L255.2 534.29 L255.27 535.13 L255.33 535.97 L255.37 536.81 L255.39 537.66 L255.4 538.5 L255.39 539.36 L255.37 540.21 L255.33 541.07 L255.27 541.93 L255.2 542.79 L255.12 543.64 L255.01 544.5 L254.89 545.36 L254.76 546.21 L254.6 547.07 L254.43 547.93 L254.25 548.79 L254.04 549.64 L253.82 550.5 L253.57 551.36 L253.31 552.21 L253.03 553.07 L252.73 553.93 L252.4 554.79 L252.05 555.64 L251.67 556.5 L251.27 557.36 L250.84 558.21 L250.36 559.07 L249.85 559.93 L249.28 560.79 L248.62 561.64 L247.7 562.5 L247.7 562.5 Z" fill="#4DBBD5" stroke="#1f3a44" stroke-width="0.45"/><line x1="247.7" y1="514.9" x2="247.7" y2="562.5" stroke="#333" stroke-width="0.6"/><line x1="246.2" y1="536.3" x2="246.2" y2="538.1" stroke="#000" stroke-width="0.6"/><line x1="245" y1="536.3" x2="247.4" y2="536.3" stroke="#000" stroke-width="0.6"/><line x1="245" y1="538.1" x2="247.4" y2="538.1" stroke="#000" stroke-width="0.6"/><rect x="245.15" y="536.15" width="2.1" height="2.1" fill="#000"/><line x1="249.1" y1="538.4" x2="249.1" y2="540.2" stroke="#000" stroke-width="0.6"/><line x1="247.9" y1="538.4" x2="250.3" y2="538.4" stroke="#000" stroke-width="0.6"/><line x1="247.9" y1="540.2" x2="250.3" y2="540.2" stroke="#000" stroke-width="0.6"/><rect x="248.05" y="538.25" width="2.1" height="2.1" fill="#000"/><line x1="264.6" y1="507" x2="264.6" y2="601.8" stroke="#333" stroke-width="0.8"/><path d="M264.6 531.4 L263.97 531.4 L263.85 531.61 L263.71 531.81 L263.55 532.02 L263.37 532.23 L263.17 532.44 L262.95 532.64 L262.71 532.85 L262.45 533.06 L262.16 533.26 L261.86 533.47 L261.54 533.68 L261.2 533.89 L260.84 534.09 L260.48 534.3 L260.11 534.51 L259.74 534.71 L259.36 534.92 L259 535.13 L258.65 535.34 L258.32 535.54 L258.01 535.75 L257.74 535.96 L257.49 536.16 L257.28 536.37 L257.12 536.58 L257 536.79 L256.92 536.99 L256.9 537.2 L256.92 537.4 L257 537.6 L257.12 537.8 L257.28 538 L257.49 538.2 L257.74 538.4 L258.01 538.6 L258.32 538.8 L258.65 539 L259 539.2 L259.36 539.4 L259.74 539.6 L260.11 539.8 L260.48 540 L260.84 540.2 L261.2 540.4 L261.54 540.6 L261.86 540.8 L262.16 541 L262.45 541.2 L262.71 541.4 L262.95 541.6 L263.17 541.8 L263.37 542 L263.55 542.2 L263.71 542.4 L263.85 542.6 L263.97 542.8 L264.6 542.8 Z" fill="#E64B35" stroke="#3a2a2a" stroke-width="0.45"/><path d="M264.6 514.9 L264.6 514.9 L265.54 515.74 L266.22 516.59 L266.8 517.43 L267.33 518.27 L267.82 519.11 L268.26 519.96 L268.68 520.8 L269.06 521.64 L269.42 522.49 L269.76 523.33 L270.07 524.17 L270.36 525.01 L270.63 525.86 L270.88 526.7 L271.11 527.54 L271.32 528.39 L271.51 529.23 L271.68 530.07 L271.84 530.91 L271.98 531.76 L272.1 532.6 L272.21 533.44 L272.3 534.29 L272.37 535.13 L272.43 535.97 L272.47 536.81 L272.49 537.66 L272.5 538.5 L272.49 539.36 L272.47 540.21 L272.43 541.07 L272.37 541.93 L272.3 542.79 L272.21 543.64 L272.1 544.5 L271.98 545.36 L271.84 546.21 L271.68 547.07 L271.51 547.93 L271.32 548.79 L271.11 549.64 L270.88 550.5 L270.63 551.36 L270.36 552.21 L270.07 553.07 L269.76 553.93 L269.42 554.79 L269.06 555.64 L268.68 556.5 L268.26 557.36 L267.82 558.21 L267.33 559.07 L266.8 559.93 L266.22 560.79 L265.54 561.64 L264.6 562.5 L264.6 562.5 Z" fill="#4DBBD5" stroke="#1f3a44" stroke-width="0.45"/><line x1="264.6" y1="514.9" x2="264.6" y2="562.5" stroke="#333" stroke-width="0.6"/><line x1="263.2" y1="536.3" x2="263.2" y2="538.1" stroke="#000" stroke-width="0.6"/><line x1="262" y1="536.3" x2="264.4" y2="536.3" stroke="#000" stroke-width="0.6"/><line x1="262" y1="538.1" x2="264.4" y2="538.1" stroke="#000" stroke-width="0.6"/><rect x="262.15" y="536.15" width="2.1" height="2.1" fill="#000"/><line x1="265.9" y1="538.2" x2="265.9" y2="540" stroke="#000" stroke-width="0.6"/><line x1="264.7" y1="538.2" x2="267.1" y2="538.2" stroke="#000" stroke-width="0.6"/><line x1="264.7" y1="540" x2="267.1" y2="540" stroke="#000" stroke-width="0.6"/><rect x="264.85" y="538.05" width="2.1" height="2.1" fill="#000"/><line x1="281.4" y1="531.4" x2="281.4" y2="548" stroke="#333" stroke-width="0.8"/><path d="M281.4 533.5 L280.75 533.5 L280.63 533.66 L280.48 533.82 L280.32 533.98 L280.14 534.14 L279.94 534.3 L279.71 534.46 L279.46 534.62 L279.19 534.79 L278.9 534.95 L278.59 535.11 L278.26 535.27 L277.91 535.43 L277.54 535.59 L277.17 535.75 L276.79 535.91 L276.41 536.07 L276.03 536.23 L275.66 536.39 L275.3 536.55 L274.96 536.71 L274.64 536.88 L274.36 537.04 L274.11 537.2 L273.89 537.36 L273.72 537.52 L273.6 537.68 L273.53 537.84 L273.5 538 L273.53 538.17 L273.6 538.34 L273.72 538.51 L273.89 538.69 L274.11 538.86 L274.36 539.03 L274.64 539.2 L274.96 539.37 L275.3 539.54 L275.66 539.71 L276.03 539.89 L276.41 540.06 L276.79 540.23 L277.17 540.4 L277.54 540.57 L277.91 540.74 L278.26 540.91 L278.59 541.09 L278.9 541.26 L279.19 541.43 L279.46 541.6 L279.71 541.77 L279.94 541.94 L280.14 542.11 L280.32 542.29 L280.48 542.46 L280.63 542.63 L280.75 542.8 L281.4 542.8 Z" fill="#E64B35" stroke="#3a2a2a" stroke-width="0.45"/><path d="M281.4 536 L281.92 536 L282.03 536.1 L282.15 536.19 L282.29 536.29 L282.46 536.39 L282.65 536.48 L282.85 536.58 L283.09 536.67 L283.34 536.77 L283.62 536.87 L283.92 536.96 L284.25 537.06 L284.59 537.16 L284.95 537.25 L285.32 537.35 L285.7 537.45 L286.09 537.54 L286.48 537.64 L286.86 537.74 L287.23 537.83 L287.58 537.93 L287.9 538.03 L288.2 538.12 L288.46 538.22 L288.69 538.31 L288.86 538.41 L288.99 538.51 L289.07 538.6 L289.1 538.7 L289.07 538.8 L288.99 538.89 L288.86 538.99 L288.69 539.09 L288.46 539.18 L288.2 539.28 L287.9 539.38 L287.58 539.47 L287.23 539.57 L286.86 539.66 L286.48 539.76 L286.09 539.86 L285.7 539.95 L285.32 540.05 L284.95 540.15 L284.59 540.24 L284.25 540.34 L283.92 540.44 L283.62 540.53 L283.34 540.63 L283.09 540.73 L282.85 540.82 L282.65 540.92 L282.46 541.01 L282.29 541.11 L282.15 541.21 L282.03 541.3 L281.92 541.4 L281.4 541.4 Z" fill="#4DBBD5" stroke="#1f3a44" stroke-width="0.45"/><line x1="281.4" y1="533.5" x2="281.4" y2="542.8" stroke="#333" stroke-width="0.6"/><line x1="279.8" y1="537.1" x2="279.8" y2="538.9" stroke="#000" stroke-width="0.6"/><line x1="278.6" y1="537.1" x2="281" y2="537.1" stroke="#000" stroke-width="0.6"/><line x1="278.6" y1="538.9" x2="281" y2="538.9" stroke="#000" stroke-width="0.6"/><rect x="278.75" y="536.95" width="2.1" height="2.1" fill="#000"/><line x1="282.9" y1="538.2" x2="282.9" y2="540" stroke="#000" stroke-width="0.6"/><line x1="281.7" y1="538.2" x2="284.1" y2="538.2" stroke="#000" stroke-width="0.6"/><line x1="281.7" y1="540" x2="284.1" y2="540" stroke="#000" stroke-width="0.6"/><rect x="281.85" y="538.05" width="2.1" height="2.1" fill="#000"/><line x1="298.4" y1="516.5" x2="298.4" y2="598.7" stroke="#333" stroke-width="0.8"/><path d="M298.4 533.5 L297.75 533.5 L297.63 533.66 L297.48 533.82 L297.32 533.98 L297.14 534.14 L296.94 534.3 L296.71 534.46 L296.46 534.62 L296.19 534.79 L295.9 534.95 L295.59 535.11 L295.26 535.27 L294.91 535.43 L294.54 535.59 L294.17 535.75 L293.79 535.91 L293.41 536.07 L293.03 536.23 L292.66 536.39 L292.3 536.55 L291.96 536.71 L291.64 536.88 L291.36 537.04 L291.11 537.2 L290.89 537.36 L290.72 537.52 L290.6 537.68 L290.53 537.84 L290.5 538 L290.53 538.17 L290.6 538.34 L290.72 538.51 L290.89 538.69 L291.11 538.86 L291.36 539.03 L291.64 539.2 L291.96 539.37 L292.3 539.54 L292.66 539.71 L293.03 539.89 L293.41 540.06 L293.79 540.23 L294.17 540.4 L294.54 540.57 L294.91 540.74 L295.26 540.91 L295.59 541.09 L295.9 541.26 L296.19 541.43 L296.46 541.6 L296.71 541.77 L296.94 541.94 L297.14 542.11 L297.32 542.29 L297.48 542.46 L297.63 542.63 L297.75 542.8 L298.4 542.8 Z" fill="#E64B35" stroke="#3a2a2a" stroke-width="0.45"/><path d="M298.4 519 L298.4 519 L299.26 519.71 L299.87 520.43 L300.41 521.14 L300.89 521.86 L301.33 522.57 L301.74 523.29 L302.12 524 L302.47 524.71 L302.79 525.43 L303.1 526.14 L303.38 526.86 L303.65 527.57 L303.89 528.29 L304.12 529 L304.33 529.71 L304.52 530.43 L304.7 531.14 L304.86 531.86 L305 532.57 L305.13 533.29 L305.24 534 L305.33 534.71 L305.42 535.43 L305.48 536.14 L305.53 536.86 L305.57 537.57 L305.59 538.29 L305.6 539 L305.59 539.76 L305.57 540.53 L305.53 541.29 L305.48 542.06 L305.42 542.82 L305.33 543.59 L305.24 544.35 L305.13 545.11 L305 545.88 L304.86 546.64 L304.7 547.41 L304.52 548.17 L304.33 548.94 L304.12 549.7 L303.89 550.46 L303.65 551.23 L303.38 551.99 L303.1 552.76 L302.79 553.52 L302.47 554.29 L302.12 555.05 L301.74 555.81 L301.33 556.58 L300.89 557.34 L300.41 558.11 L299.87 558.87 L299.26 559.64 L298.4 560.4 L298.4 560.4 Z" fill="#4DBBD5" stroke="#1f3a44" stroke-width="0.45"/><line x1="298.4" y1="519" x2="298.4" y2="560.4" stroke="#333" stroke-width="0.6"/><line x1="296.9" y1="537.1" x2="296.9" y2="538.9" stroke="#000" stroke-width="0.6"/><line x1="295.7" y1="537.1" x2="298.1" y2="537.1" stroke="#000" stroke-width="0.6"/><line x1="295.7" y1="538.9" x2="298.1" y2="538.9" stroke="#000" stroke-width="0.6"/><rect x="295.85" y="536.95" width="2.1" height="2.1" fill="#000"/><line x1="299.6" y1="539.8" x2="299.6" y2="541.6" stroke="#000" stroke-width="0.6"/><line x1="298.4" y1="539.8" x2="300.8" y2="539.8" stroke="#000" stroke-width="0.6"/><line x1="298.4" y1="541.6" x2="300.8" y2="541.6" stroke="#000" stroke-width="0.6"/><rect x="298.55" y="539.65" width="2.1" height="2.1" fill="#000"/><line x1="315.3" y1="527.7" x2="315.3" y2="551.1" stroke="#333" stroke-width="0.8"/><path d="M315.3 531.4 L314.67 531.4 L314.55 531.55 L314.41 531.7 L314.25 531.85 L314.07 532 L313.87 532.15 L313.65 532.3 L313.41 532.45 L313.15 532.6 L312.86 532.75 L312.56 532.9 L312.24 533.05 L311.9 533.2 L311.54 533.35 L311.18 533.5 L310.81 533.65 L310.44 533.8 L310.06 533.95 L309.7 534.1 L309.35 534.25 L309.02 534.4 L308.71 534.55 L308.44 534.7 L308.19 534.85 L307.98 535 L307.82 535.15 L307.7 535.3 L307.62 535.45 L307.6 535.6 L307.62 535.78 L307.7 535.96 L307.82 536.15 L307.98 536.33 L308.19 536.51 L308.44 536.69 L308.71 536.88 L309.02 537.06 L309.35 537.24 L309.7 537.42 L310.06 537.6 L310.44 537.79 L310.81 537.97 L311.18 538.15 L311.54 538.33 L311.9 538.51 L312.24 538.7 L312.56 538.88 L312.86 539.06 L313.15 539.24 L313.41 539.43 L313.65 539.61 L313.87 539.79 L314.07 539.97 L314.25 540.15 L314.41 540.34 L314.55 540.52 L314.67 540.7 L315.3 540.7 Z" fill="#E64B35" stroke="#3a2a2a" stroke-width="0.45"/><path d="M315.3 532.5 L315.83 532.5 L315.94 532.68 L316.07 532.86 L316.22 533.05 L316.39 533.23 L316.58 533.41 L316.79 533.59 L317.03 533.77 L317.29 533.96 L317.58 534.14 L317.89 534.32 L318.22 534.5 L318.57 534.69 L318.94 534.87 L319.32 535.05 L319.71 535.23 L320.11 535.41 L320.51 535.6 L320.9 535.78 L321.28 535.96 L321.64 536.14 L321.97 536.33 L322.28 536.51 L322.55 536.69 L322.78 536.87 L322.96 537.05 L323.09 537.24 L323.17 537.42 L323.2 537.6 L323.17 537.86 L323.09 538.12 L322.96 538.38 L322.78 538.64 L322.55 538.9 L322.28 539.16 L321.97 539.42 L321.64 539.69 L321.28 539.95 L320.9 540.21 L320.51 540.47 L320.11 540.73 L319.71 540.99 L319.32 541.25 L318.94 541.51 L318.57 541.77 L318.22 542.03 L317.89 542.29 L317.58 542.55 L317.29 542.81 L317.03 543.08 L316.79 543.34 L316.58 543.6 L316.39 543.86 L316.22 544.12 L316.07 544.38 L315.94 544.64 L315.83 544.9 L315.3 544.9 Z" fill="#4DBBD5" stroke="#1f3a44" stroke-width="0.45"/><line x1="315.3" y1="531.4" x2="315.3" y2="544.9" stroke="#333" stroke-width="0.6"/><line x1="313.8" y1="535.1" x2="313.8" y2="536.9" stroke="#000" stroke-width="0.6"/><line x1="312.6" y1="535.1" x2="315" y2="535.1" stroke="#000" stroke-width="0.6"/><line x1="312.6" y1="536.9" x2="315" y2="536.9" stroke="#000" stroke-width="0.6"/><rect x="312.75" y="534.95" width="2.1" height="2.1" fill="#000"/><line x1="316.5" y1="536.7" x2="316.5" y2="538.5" stroke="#000" stroke-width="0.6"/><line x1="315.3" y1="536.7" x2="317.7" y2="536.7" stroke="#000" stroke-width="0.6"/><line x1="315.3" y1="538.5" x2="317.7" y2="538.5" stroke="#000" stroke-width="0.6"/><rect x="315.45" y="536.55" width="2.1" height="2.1" fill="#000"/><line x1="332.5" y1="514.9" x2="332.5" y2="598.7" stroke="#333" stroke-width="0.8"/><path d="M332.5 533.5 L331.82 533.5 L331.69 533.69 L331.54 533.87 L331.37 534.06 L331.18 534.24 L330.96 534.43 L330.73 534.61 L330.47 534.8 L330.18 534.99 L329.87 535.17 L329.55 535.36 L329.2 535.54 L328.83 535.73 L328.45 535.91 L328.06 536.1 L327.66 536.29 L327.26 536.47 L326.86 536.66 L326.47 536.84 L326.09 537.03 L325.73 537.21 L325.4 537.4 L325.1 537.59 L324.84 537.77 L324.61 537.96 L324.43 538.14 L324.31 538.33 L324.23 538.51 L324.2 538.7 L324.23 538.88 L324.31 539.06 L324.43 539.25 L324.61 539.43 L324.84 539.61 L325.1 539.79 L325.4 539.98 L325.73 540.16 L326.09 540.34 L326.47 540.52 L326.86 540.7 L327.26 540.89 L327.66 541.07 L328.06 541.25 L328.45 541.43 L328.83 541.61 L329.2 541.8 L329.55 541.98 L329.87 542.16 L330.18 542.34 L330.47 542.52 L330.73 542.71 L330.96 542.89 L331.18 543.07 L331.37 543.25 L331.54 543.44 L331.69 543.62 L331.82 543.8 L332.5 543.8 Z" fill="#E64B35" stroke="#3a2a2a" stroke-width="0.45"/><path d="M332.5 516.9 L332.5 516.9 L333.42 517.67 L334.08 518.44 L334.65 519.21 L335.16 519.99 L335.64 520.76 L336.07 521.53 L336.47 522.3 L336.85 523.07 L337.2 523.84 L337.53 524.61 L337.83 525.39 L338.11 526.16 L338.37 526.93 L338.62 527.7 L338.84 528.47 L339.05 529.24 L339.23 530.01 L339.4 530.79 L339.56 531.56 L339.69 532.33 L339.81 533.1 L339.92 533.87 L340 534.64 L340.07 535.41 L340.13 536.19 L340.17 536.96 L340.19 537.73 L340.2 538.5 L340.19 539.25 L340.17 539.99 L340.13 540.74 L340.07 541.49 L340 542.23 L339.92 542.98 L339.81 543.73 L339.69 544.47 L339.56 545.22 L339.4 545.96 L339.23 546.71 L339.05 547.46 L338.84 548.2 L338.62 548.95 L338.37 549.7 L338.11 550.44 L337.83 551.19 L337.53 551.94 L337.2 552.68 L336.85 553.43 L336.47 554.17 L336.07 554.92 L335.64 555.67 L335.16 556.41 L334.65 557.16 L334.08 557.91 L333.42 558.65 L332.5 559.4 L332.5 559.4 Z" fill="#4DBBD5" stroke="#1f3a44" stroke-width="0.45"/><line x1="332.5" y1="516.9" x2="332.5" y2="559.4" stroke="#333" stroke-width="0.6"/><line x1="331" y1="537.8" x2="331" y2="539.6" stroke="#000" stroke-width="0.6"/><line x1="329.8" y1="537.8" x2="332.2" y2="537.8" stroke="#000" stroke-width="0.6"/><line x1="329.8" y1="539.6" x2="332.2" y2="539.6" stroke="#000" stroke-width="0.6"/><rect x="329.95" y="537.65" width="2.1" height="2.1" fill="#000"/><line x1="333.5" y1="537.8" x2="333.5" y2="539.6" stroke="#000" stroke-width="0.6"/><line x1="332.3" y1="537.8" x2="334.7" y2="537.8" stroke="#000" stroke-width="0.6"/><line x1="332.3" y1="539.6" x2="334.7" y2="539.6" stroke="#000" stroke-width="0.6"/><rect x="332.45" y="537.65" width="2.1" height="2.1" fill="#000"/><line x1="349" y1="508.6" x2="349" y2="600.8" stroke="#333" stroke-width="0.8"/><path d="M349 530.4 L348.37 530.4 L348.25 530.62 L348.11 530.84 L347.95 531.06 L347.77 531.29 L347.57 531.51 L347.35 531.73 L347.11 531.95 L346.85 532.17 L346.56 532.39 L346.26 532.61 L345.94 532.84 L345.6 533.06 L345.24 533.28 L344.88 533.5 L344.51 533.72 L344.14 533.94 L343.76 534.16 L343.4 534.39 L343.05 534.61 L342.72 534.83 L342.41 535.05 L342.14 535.27 L341.89 535.49 L341.68 535.71 L341.52 535.94 L341.4 536.16 L341.32 536.38 L341.3 536.6 L341.32 536.82 L341.4 537.04 L341.52 537.26 L341.68 537.49 L341.89 537.71 L342.14 537.93 L342.41 538.15 L342.72 538.37 L343.05 538.59 L343.4 538.81 L343.76 539.04 L344.14 539.26 L344.51 539.48 L344.88 539.7 L345.24 539.92 L345.6 540.14 L345.94 540.36 L346.26 540.59 L346.56 540.81 L346.85 541.03 L347.11 541.25 L347.35 541.47 L347.57 541.69 L347.77 541.91 L347.95 542.14 L348.11 542.36 L348.25 542.58 L348.37 542.8 L349 542.8 Z" fill="#E64B35" stroke="#3a2a2a" stroke-width="0.45"/><path d="M349 514.9 L349 514.9 L349.92 515.73 L350.58 516.55 L351.15 517.38 L351.66 518.2 L352.14 519.02 L352.57 519.85 L352.97 520.67 L353.35 521.5 L353.7 522.32 L354.03 523.15 L354.33 523.98 L354.61 524.8 L354.87 525.62 L355.12 526.45 L355.34 527.27 L355.55 528.1 L355.73 528.92 L355.9 529.75 L356.06 530.58 L356.19 531.4 L356.31 532.23 L356.42 533.05 L356.5 533.88 L356.57 534.7 L356.63 535.52 L356.67 536.35 L356.69 537.17 L356.7 538 L356.69 538.8 L356.67 539.6 L356.63 540.4 L356.57 541.2 L356.5 542 L356.42 542.8 L356.31 543.6 L356.19 544.4 L356.06 545.2 L355.9 546 L355.73 546.8 L355.55 547.6 L355.34 548.4 L355.12 549.2 L354.87 550 L354.61 550.8 L354.33 551.6 L354.03 552.4 L353.7 553.2 L353.35 554 L352.97 554.8 L352.57 555.6 L352.14 556.4 L351.66 557.2 L351.15 558 L350.58 558.8 L349.92 559.6 L349 560.4 L349 560.4 Z" fill="#4DBBD5" stroke="#1f3a44" stroke-width="0.45"/><line x1="349" y1="514.9" x2="349" y2="560.4" stroke="#333" stroke-width="0.6"/><line x1="347.6" y1="535.7" x2="347.6" y2="537.5" stroke="#000" stroke-width="0.6"/><line x1="346.4" y1="535.7" x2="348.8" y2="535.7" stroke="#000" stroke-width="0.6"/><line x1="346.4" y1="537.5" x2="348.8" y2="537.5" stroke="#000" stroke-width="0.6"/><rect x="346.55" y="535.55" width="2.1" height="2.1" fill="#000"/><line x1="350.5" y1="537.8" x2="350.5" y2="539.6" stroke="#000" stroke-width="0.6"/><line x1="349.3" y1="537.8" x2="351.7" y2="537.8" stroke="#000" stroke-width="0.6"/><line x1="349.3" y1="539.6" x2="351.7" y2="539.6" stroke="#000" stroke-width="0.6"/><rect x="349.45" y="537.65" width="2.1" height="2.1" fill="#000"/><line x1="366.2" y1="528.3" x2="366.2" y2="552.1" stroke="#333" stroke-width="0.8"/><path d="M366.2 534.5 L365.55 534.5 L365.43 534.69 L365.28 534.87 L365.12 535.06 L364.94 535.24 L364.74 535.43 L364.51 535.61 L364.26 535.8 L363.99 535.99 L363.7 536.17 L363.39 536.36 L363.06 536.54 L362.71 536.73 L362.34 536.91 L361.97 537.1 L361.59 537.29 L361.21 537.47 L360.83 537.66 L360.46 537.84 L360.1 538.03 L359.76 538.21 L359.44 538.4 L359.16 538.59 L358.91 538.77 L358.69 538.96 L358.52 539.14 L358.4 539.33 L358.33 539.51 L358.3 539.7 L358.33 539.89 L358.4 540.07 L358.52 540.26 L358.69 540.44 L358.91 540.63 L359.16 540.81 L359.44 541 L359.76 541.19 L360.1 541.37 L360.46 541.56 L360.83 541.74 L361.21 541.93 L361.59 542.11 L361.97 542.3 L362.34 542.49 L362.71 542.67 L363.06 542.86 L363.39 543.04 L363.7 543.23 L363.99 543.41 L364.26 543.6 L364.51 543.79 L364.74 543.97 L364.94 544.16 L365.12 544.34 L365.28 544.53 L365.43 544.71 L365.55 544.9 L366.2 544.9 Z" fill="#E64B35" stroke="#3a2a2a" stroke-width="0.45"/><path d="M366.2 536.6 L366.72 536.6 L366.83 536.77 L366.95 536.94 L367.09 537.11 L367.26 537.29 L367.45 537.46 L367.65 537.63 L367.89 537.8 L368.14 537.97 L368.42 538.14 L368.72 538.31 L369.05 538.49 L369.39 538.66 L369.75 538.83 L370.12 539 L370.5 539.17 L370.89 539.34 L371.28 539.51 L371.66 539.69 L372.03 539.86 L372.38 540.03 L372.7 540.2 L373 540.37 L373.26 540.54 L373.49 540.71 L373.66 540.89 L373.79 541.06 L373.87 541.23 L373.9 541.4 L373.87 541.64 L373.79 541.87 L373.66 542.11 L373.49 542.34 L373.26 542.58 L373 542.81 L372.7 543.05 L372.38 543.29 L372.03 543.52 L371.66 543.76 L371.28 543.99 L370.89 544.23 L370.5 544.46 L370.12 544.7 L369.75 544.94 L369.39 545.17 L369.05 545.41 L368.72 545.64 L368.42 545.88 L368.14 546.11 L367.89 546.35 L367.65 546.59 L367.45 546.82 L367.26 547.06 L367.09 547.29 L366.95 547.53 L366.83 547.76 L366.72 548 L366.2 548 Z" fill="#4DBBD5" stroke="#1f3a44" stroke-width="0.45"/><line x1="366.2" y1="534.5" x2="366.2" y2="548" stroke="#333" stroke-width="0.6"/><line x1="364.5" y1="538.8" x2="364.5" y2="540.6" stroke="#000" stroke-width="0.6"/><line x1="363.3" y1="538.8" x2="365.7" y2="538.8" stroke="#000" stroke-width="0.6"/><line x1="363.3" y1="540.6" x2="365.7" y2="540.6" stroke="#000" stroke-width="0.6"/><rect x="363.45" y="538.65" width="2.1" height="2.1" fill="#000"/><line x1="367.2" y1="541.3" x2="367.2" y2="543.1" stroke="#000" stroke-width="0.6"/><line x1="366" y1="541.3" x2="368.4" y2="541.3" stroke="#000" stroke-width="0.6"/><line x1="366" y1="543.1" x2="368.4" y2="543.1" stroke="#000" stroke-width="0.6"/><rect x="366.15" y="541.15" width="2.1" height="2.1" fill="#000"/><line x1="382.8" y1="514.9" x2="382.8" y2="598.7" stroke="#333" stroke-width="0.8"/><path d="M382.8 532.5 L382.15 532.5 L382.03 532.61 L381.88 532.72 L381.72 532.83 L381.54 532.94 L381.34 533.05 L381.11 533.16 L380.86 533.27 L380.59 533.39 L380.3 533.5 L379.99 533.61 L379.66 533.72 L379.31 533.83 L378.94 533.94 L378.57 534.05 L378.19 534.16 L377.81 534.27 L377.43 534.38 L377.06 534.49 L376.7 534.6 L376.36 534.71 L376.04 534.83 L375.76 534.94 L375.51 535.05 L375.29 535.16 L375.12 535.27 L375 535.38 L374.93 535.49 L374.9 535.6 L374.93 535.71 L375 535.82 L375.12 535.93 L375.29 536.04 L375.51 536.15 L375.76 536.26 L376.04 536.38 L376.36 536.49 L376.7 536.6 L377.06 536.71 L377.43 536.82 L377.81 536.93 L378.19 537.04 L378.57 537.15 L378.94 537.26 L379.31 537.37 L379.66 537.48 L379.99 537.59 L380.3 537.7 L380.59 537.81 L380.86 537.93 L381.11 538.04 L381.34 538.15 L381.54 538.26 L381.72 538.37 L381.88 538.48 L382.03 538.59 L382.15 538.7 L382.8 538.7 Z" fill="#E64B35" stroke="#3a2a2a" stroke-width="0.45"/><path d="M382.8 515.9 L382.8 515.9 L383.79 516.65 L384.5 517.41 L385.12 518.16 L385.67 518.91 L386.18 519.67 L386.65 520.42 L387.08 521.17 L387.49 521.93 L387.87 522.68 L388.22 523.44 L388.55 524.19 L388.85 524.94 L389.13 525.7 L389.39 526.45 L389.63 527.2 L389.86 527.96 L390.06 528.71 L390.24 529.46 L390.41 530.22 L390.55 530.97 L390.68 531.73 L390.79 532.48 L390.89 533.23 L390.96 533.99 L391.02 534.74 L391.07 535.49 L391.09 536.25 L391.1 537 L391.09 537.8 L391.07 538.6 L391.02 539.4 L390.96 540.2 L390.89 541 L390.79 541.8 L390.68 542.6 L390.55 543.4 L390.41 544.2 L390.24 545 L390.06 545.8 L389.86 546.6 L389.63 547.4 L389.39 548.2 L389.13 549 L388.85 549.8 L388.55 550.6 L388.22 551.4 L387.87 552.2 L387.49 553 L387.08 553.8 L386.65 554.6 L386.18 555.4 L385.67 556.2 L385.12 557 L384.5 557.8 L383.79 558.6 L382.8 559.4 L382.8 559.4 Z" fill="#4DBBD5" stroke="#1f3a44" stroke-width="0.45"/><line x1="382.8" y1="515.9" x2="382.8" y2="559.4" stroke="#333" stroke-width="0.6"/><line x1="381.1" y1="535.1" x2="381.1" y2="536.9" stroke="#000" stroke-width="0.6"/><line x1="379.9" y1="535.1" x2="382.3" y2="535.1" stroke="#000" stroke-width="0.6"/><line x1="379.9" y1="536.9" x2="382.3" y2="536.9" stroke="#000" stroke-width="0.6"/><rect x="380.05" y="534.95" width="2.1" height="2.1" fill="#000"/><line x1="384.2" y1="537.8" x2="384.2" y2="539.6" stroke="#000" stroke-width="0.6"/><line x1="383" y1="537.8" x2="385.4" y2="537.8" stroke="#000" stroke-width="0.6"/><line x1="383" y1="539.6" x2="385.4" y2="539.6" stroke="#000" stroke-width="0.6"/><rect x="383.15" y="537.65" width="2.1" height="2.1" fill="#000"/><line x1="399.8" y1="528.3" x2="399.8" y2="550" stroke="#333" stroke-width="0.8"/><path d="M399.8 531.4 L399.15 531.4 L399.03 531.64 L398.88 531.87 L398.72 532.11 L398.54 532.34 L398.34 532.58 L398.11 532.81 L397.86 533.05 L397.59 533.29 L397.3 533.52 L396.99 533.76 L396.66 533.99 L396.31 534.23 L395.94 534.46 L395.57 534.7 L395.19 534.94 L394.81 535.17 L394.43 535.41 L394.06 535.64 L393.7 535.88 L393.36 536.11 L393.04 536.35 L392.76 536.59 L392.51 536.82 L392.29 537.06 L392.12 537.29 L392 537.53 L391.93 537.76 L391.9 538 L391.93 538.21 L392 538.41 L392.12 538.62 L392.29 538.83 L392.51 539.04 L392.76 539.24 L393.04 539.45 L393.36 539.66 L393.7 539.86 L394.06 540.07 L394.43 540.28 L394.81 540.49 L395.19 540.69 L395.57 540.9 L395.94 541.11 L396.31 541.31 L396.66 541.52 L396.99 541.73 L397.3 541.94 L397.59 542.14 L397.86 542.35 L398.11 542.56 L398.34 542.76 L398.54 542.97 L398.72 543.18 L398.88 543.39 L399.03 543.59 L399.15 543.8 L399.8 543.8 Z" fill="#E64B35" stroke="#3a2a2a" stroke-width="0.45"/><path d="M399.8 533.5 L400.33 533.5 L400.44 533.66 L400.57 533.82 L400.72 533.98 L400.89 534.14 L401.08 534.3 L401.29 534.46 L401.53 534.62 L401.79 534.79 L402.08 534.95 L402.39 535.11 L402.72 535.27 L403.07 535.43 L403.44 535.59 L403.82 535.75 L404.21 535.91 L404.61 536.07 L405.01 536.23 L405.4 536.39 L405.78 536.55 L406.14 536.71 L406.47 536.88 L406.78 537.04 L407.05 537.2 L407.28 537.36 L407.46 537.52 L407.59 537.68 L407.67 537.84 L407.7 538 L407.67 538.17 L407.59 538.34 L407.46 538.51 L407.28 538.69 L407.05 538.86 L406.78 539.03 L406.47 539.2 L406.14 539.37 L405.78 539.54 L405.4 539.71 L405.01 539.89 L404.61 540.06 L404.21 540.23 L403.82 540.4 L403.44 540.57 L403.07 540.74 L402.72 540.91 L402.39 541.09 L402.08 541.26 L401.79 541.43 L401.53 541.6 L401.29 541.77 L401.08 541.94 L400.89 542.11 L400.72 542.29 L400.57 542.46 L400.44 542.63 L400.33 542.8 L399.8 542.8 Z" fill="#4DBBD5" stroke="#1f3a44" stroke-width="0.45"/><line x1="399.8" y1="531.4" x2="399.8" y2="543.8" stroke="#333" stroke-width="0.6"/><line x1="398.1" y1="537.1" x2="398.1" y2="538.9" stroke="#000" stroke-width="0.6"/><line x1="396.9" y1="537.1" x2="399.3" y2="537.1" stroke="#000" stroke-width="0.6"/><line x1="396.9" y1="538.9" x2="399.3" y2="538.9" stroke="#000" stroke-width="0.6"/><rect x="397.05" y="536.95" width="2.1" height="2.1" fill="#000"/><line x1="401.2" y1="537.1" x2="401.2" y2="538.9" stroke="#000" stroke-width="0.6"/><line x1="400" y1="537.1" x2="402.4" y2="537.1" stroke="#000" stroke-width="0.6"/><line x1="400" y1="538.9" x2="402.4" y2="538.9" stroke="#000" stroke-width="0.6"/><rect x="400.15" y="536.95" width="2.1" height="2.1" fill="#000"/><line x1="416.7" y1="527.3" x2="416.7" y2="550" stroke="#333" stroke-width="0.8"/><path d="M416.7 530.4 L416.07 530.4 L415.95 530.62 L415.81 530.84 L415.65 531.06 L415.47 531.29 L415.27 531.51 L415.05 531.73 L414.81 531.95 L414.55 532.17 L414.26 532.39 L413.96 532.61 L413.64 532.84 L413.3 533.06 L412.94 533.28 L412.58 533.5 L412.21 533.72 L411.84 533.94 L411.46 534.16 L411.1 534.39 L410.75 534.61 L410.42 534.83 L410.11 535.05 L409.84 535.27 L409.59 535.49 L409.38 535.71 L409.22 535.94 L409.1 536.16 L409.02 536.38 L409 536.6 L409.02 536.86 L409.1 537.11 L409.22 537.37 L409.38 537.63 L409.59 537.89 L409.84 538.14 L410.11 538.4 L410.42 538.66 L410.75 538.91 L411.1 539.17 L411.46 539.43 L411.84 539.69 L412.21 539.94 L412.58 540.2 L412.94 540.46 L413.3 540.71 L413.64 540.97 L413.96 541.23 L414.26 541.49 L414.55 541.74 L414.81 542 L415.05 542.26 L415.27 542.51 L415.47 542.77 L415.65 543.03 L415.81 543.29 L415.95 543.54 L416.07 543.8 L416.7 543.8 Z" fill="#E64B35" stroke="#3a2a2a" stroke-width="0.45"/><path d="M416.7 533.5 L417.2 533.5 L417.31 533.66 L417.43 533.82 L417.57 533.98 L417.73 534.14 L417.91 534.3 L418.12 534.46 L418.34 534.62 L418.59 534.79 L418.86 534.95 L419.16 535.11 L419.47 535.27 L419.81 535.43 L420.16 535.59 L420.52 535.75 L420.89 535.91 L421.27 536.07 L421.64 536.23 L422.01 536.39 L422.37 536.55 L422.72 536.71 L423.04 536.88 L423.33 537.04 L423.58 537.2 L423.8 537.36 L423.97 537.52 L424.1 537.68 L424.17 537.84 L424.2 538 L424.17 538.17 L424.1 538.34 L423.97 538.51 L423.8 538.69 L423.58 538.86 L423.33 539.03 L423.04 539.2 L422.72 539.37 L422.37 539.54 L422.01 539.71 L421.64 539.89 L421.27 540.06 L420.89 540.23 L420.52 540.4 L420.16 540.57 L419.81 540.74 L419.47 540.91 L419.16 541.09 L418.86 541.26 L418.59 541.43 L418.34 541.6 L418.12 541.77 L417.91 541.94 L417.73 542.11 L417.57 542.29 L417.43 542.46 L417.31 542.63 L417.2 542.8 L416.7 542.8 Z" fill="#4DBBD5" stroke="#1f3a44" stroke-width="0.45"/><line x1="416.7" y1="530.4" x2="416.7" y2="543.8" stroke="#333" stroke-width="0.6"/><line x1="415.3" y1="535.7" x2="415.3" y2="537.5" stroke="#000" stroke-width="0.6"/><line x1="414.1" y1="535.7" x2="416.5" y2="535.7" stroke="#000" stroke-width="0.6"/><line x1="414.1" y1="537.5" x2="416.5" y2="537.5" stroke="#000" stroke-width="0.6"/><rect x="414.25" y="535.55" width="2.1" height="2.1" fill="#000"/><line x1="418" y1="537.1" x2="418" y2="538.9" stroke="#000" stroke-width="0.6"/><line x1="416.8" y1="537.1" x2="419.2" y2="537.1" stroke="#000" stroke-width="0.6"/><line x1="416.8" y1="538.9" x2="419.2" y2="538.9" stroke="#000" stroke-width="0.6"/><rect x="416.95" y="536.95" width="2.1" height="2.1" fill="#000"/><line x1="433.4" y1="515.9" x2="433.4" y2="598.7" stroke="#333" stroke-width="0.8"/><path d="M433.4 534.5 L432.81 534.5 L432.7 534.65 L432.57 534.8 L432.42 534.95 L432.25 535.1 L432.07 535.25 L431.86 535.4 L431.64 535.55 L431.39 535.7 L431.12 535.85 L430.84 536 L430.54 536.15 L430.22 536.3 L429.89 536.45 L429.55 536.6 L429.2 536.75 L428.85 536.9 L428.5 537.05 L428.17 537.2 L427.84 537.35 L427.53 537.5 L427.24 537.65 L426.98 537.8 L426.75 537.95 L426.56 538.1 L426.4 538.25 L426.29 538.4 L426.22 538.55 L426.2 538.7 L426.22 538.85 L426.29 538.99 L426.4 539.14 L426.56 539.29 L426.75 539.43 L426.98 539.58 L427.24 539.73 L427.53 539.87 L427.84 540.02 L428.17 540.16 L428.5 540.31 L428.85 540.46 L429.2 540.6 L429.55 540.75 L429.89 540.9 L430.22 541.04 L430.54 541.19 L430.84 541.34 L431.12 541.48 L431.39 541.63 L431.64 541.77 L431.86 541.92 L432.07 542.07 L432.25 542.21 L432.42 542.36 L432.57 542.51 L432.7 542.65 L432.81 542.8 L433.4 542.8 Z" fill="#E64B35" stroke="#3a2a2a" stroke-width="0.45"/><path d="M433.4 515.9 L433.4 515.9 L434.37 516.69 L435.06 517.48 L435.66 518.27 L436.2 519.06 L436.7 519.85 L437.16 520.64 L437.58 521.42 L437.98 522.21 L438.34 523 L438.69 523.79 L439.01 524.58 L439.3 525.37 L439.58 526.16 L439.83 526.95 L440.07 527.74 L440.29 528.53 L440.48 529.32 L440.66 530.11 L440.82 530.9 L440.97 531.69 L441.09 532.48 L441.2 533.26 L441.29 534.05 L441.37 534.84 L441.43 535.63 L441.47 536.42 L441.49 537.21 L441.5 538 L441.49 538.76 L441.47 539.53 L441.43 540.29 L441.37 541.06 L441.29 541.82 L441.2 542.59 L441.09 543.35 L440.97 544.11 L440.82 544.88 L440.66 545.64 L440.48 546.41 L440.29 547.17 L440.07 547.94 L439.83 548.7 L439.58 549.46 L439.3 550.23 L439.01 550.99 L438.69 551.76 L438.34 552.52 L437.98 553.29 L437.58 554.05 L437.16 554.81 L436.7 555.58 L436.2 556.34 L435.66 557.11 L435.06 557.87 L434.37 558.64 L433.4 559.4 L433.4 559.4 Z" fill="#4DBBD5" stroke="#1f3a44" stroke-width="0.45"/><line x1="433.4" y1="515.9" x2="433.4" y2="559.4" stroke="#333" stroke-width="0.6"/><line x1="432.8" y1="537.8" x2="432.8" y2="539.6" stroke="#000" stroke-width="0.6"/><line x1="431.6" y1="537.8" x2="434" y2="537.8" stroke="#000" stroke-width="0.6"/><line x1="431.6" y1="539.6" x2="434" y2="539.6" stroke="#000" stroke-width="0.6"/><rect x="431.75" y="537.65" width="2.1" height="2.1" fill="#000"/><line x1="434.8" y1="537.8" x2="434.8" y2="539.6" stroke="#000" stroke-width="0.6"/><line x1="433.6" y1="537.8" x2="436" y2="537.8" stroke="#000" stroke-width="0.6"/><line x1="433.6" y1="539.6" x2="436" y2="539.6" stroke="#000" stroke-width="0.6"/><rect x="433.75" y="537.65" width="2.1" height="2.1" fill="#000"/><line x1="450.4" y1="531.4" x2="450.4" y2="544.9" stroke="#333" stroke-width="0.8"/><path d="M450.4 533.5 L449.77 533.5 L449.65 533.63 L449.51 533.76 L449.35 533.9 L449.17 534.03 L448.97 534.16 L448.75 534.29 L448.51 534.42 L448.25 534.56 L447.96 534.69 L447.66 534.82 L447.34 534.95 L447 535.09 L446.64 535.22 L446.28 535.35 L445.91 535.48 L445.54 535.61 L445.16 535.75 L444.8 535.88 L444.45 536.01 L444.12 536.14 L443.81 536.28 L443.54 536.41 L443.29 536.54 L443.08 536.67 L442.92 536.8 L442.8 536.94 L442.72 537.07 L442.7 537.2 L442.72 537.36 L442.8 537.53 L442.92 537.69 L443.08 537.86 L443.29 538.02 L443.54 538.19 L443.81 538.35 L444.12 538.51 L444.45 538.68 L444.8 538.84 L445.16 539.01 L445.54 539.17 L445.91 539.34 L446.28 539.5 L446.64 539.66 L447 539.83 L447.34 539.99 L447.66 540.16 L447.96 540.32 L448.25 540.49 L448.51 540.65 L448.75 540.81 L448.97 540.98 L449.17 541.14 L449.35 541.31 L449.51 541.47 L449.65 541.64 L449.77 541.8 L450.4 541.8 Z" fill="#E64B35" stroke="#3a2a2a" stroke-width="0.45"/><path d="M450.4 536.6 L450.92 536.6 L451.03 536.68 L451.15 536.75 L451.29 536.83 L451.46 536.9 L451.65 536.98 L451.85 537.05 L452.09 537.12 L452.34 537.2 L452.62 537.27 L452.92 537.35 L453.25 537.43 L453.59 537.5 L453.95 537.58 L454.32 537.65 L454.7 537.73 L455.09 537.8 L455.48 537.88 L455.86 537.95 L456.23 538.03 L456.58 538.1 L456.9 538.18 L457.2 538.25 L457.46 538.33 L457.69 538.4 L457.86 538.48 L457.99 538.55 L458.07 538.62 L458.1 538.7 L458.07 538.77 L457.99 538.84 L457.86 538.91 L457.69 538.99 L457.46 539.06 L457.2 539.13 L456.9 539.2 L456.58 539.27 L456.23 539.34 L455.86 539.41 L455.48 539.49 L455.09 539.56 L454.7 539.63 L454.32 539.7 L453.95 539.77 L453.59 539.84 L453.25 539.91 L452.92 539.99 L452.62 540.06 L452.34 540.13 L452.09 540.2 L451.85 540.27 L451.65 540.34 L451.46 540.41 L451.29 540.49 L451.15 540.56 L451.03 540.63 L450.92 540.7 L450.4 540.7 Z" fill="#4DBBD5" stroke="#1f3a44" stroke-width="0.45"/><line x1="450.4" y1="533.5" x2="450.4" y2="541.8" stroke="#333" stroke-width="0.6"/><line x1="449.3" y1="536.3" x2="449.3" y2="538.1" stroke="#000" stroke-width="0.6"/><line x1="448.1" y1="536.3" x2="450.5" y2="536.3" stroke="#000" stroke-width="0.6"/><line x1="448.1" y1="538.1" x2="450.5" y2="538.1" stroke="#000" stroke-width="0.6"/><rect x="448.25" y="536.15" width="2.1" height="2.1" fill="#000"/><line x1="451.8" y1="537.8" x2="451.8" y2="539.6" stroke="#000" stroke-width="0.6"/><line x1="450.6" y1="537.8" x2="453" y2="537.8" stroke="#000" stroke-width="0.6"/><line x1="450.6" y1="539.6" x2="453" y2="539.6" stroke="#000" stroke-width="0.6"/><rect x="450.75" y="537.65" width="2.1" height="2.1" fill="#000"/><line x1="467.4" y1="510.3" x2="467.4" y2="600.8" stroke="#333" stroke-width="0.8"/><path d="M467.4 514.9 L467.4 514.9 L466.48 515.7 L465.82 516.49 L465.25 517.29 L464.74 518.09 L464.26 518.88 L463.83 519.68 L463.43 520.48 L463.05 521.27 L462.7 522.07 L462.37 522.86 L462.07 523.66 L461.79 524.46 L461.53 525.25 L461.28 526.05 L461.06 526.85 L460.85 527.64 L460.67 528.44 L460.5 529.24 L460.34 530.03 L460.21 530.83 L460.09 531.62 L459.98 532.42 L459.9 533.22 L459.83 534.01 L459.77 534.81 L459.73 535.61 L459.71 536.4 L459.7 537.2 L459.71 537.99 L459.73 538.79 L459.77 539.58 L459.83 540.37 L459.9 541.16 L459.98 541.96 L460.09 542.75 L460.21 543.54 L460.34 544.34 L460.5 545.13 L460.67 545.92 L460.85 546.71 L461.06 547.51 L461.28 548.3 L461.53 549.09 L461.79 549.89 L462.07 550.68 L462.37 551.47 L462.7 552.26 L463.05 553.06 L463.43 553.85 L463.83 554.64 L464.26 555.44 L464.74 556.23 L465.25 557.02 L465.82 557.81 L466.48 558.61 L467.4 559.4 L467.4 559.4 Z" fill="#E64B35" stroke="#3a2a2a" stroke-width="0.45"/><path d="M467.4 532.5 L467.93 532.5 L468.04 532.67 L468.17 532.84 L468.32 533 L468.49 533.17 L468.68 533.34 L468.89 533.51 L469.13 533.67 L469.39 533.84 L469.68 534.01 L469.99 534.18 L470.32 534.35 L470.67 534.51 L471.04 534.68 L471.42 534.85 L471.81 535.02 L472.21 535.19 L472.61 535.35 L473 535.52 L473.38 535.69 L473.74 535.86 L474.07 536.03 L474.38 536.19 L474.65 536.36 L474.88 536.53 L475.06 536.7 L475.19 536.86 L475.27 537.03 L475.3 537.2 L475.27 537.36 L475.19 537.53 L475.06 537.69 L474.88 537.86 L474.65 538.02 L474.38 538.19 L474.07 538.35 L473.74 538.51 L473.38 538.68 L473 538.84 L472.61 539.01 L472.21 539.17 L471.81 539.34 L471.42 539.5 L471.04 539.66 L470.67 539.83 L470.32 539.99 L469.99 540.16 L469.68 540.32 L469.39 540.49 L469.13 540.65 L468.89 540.81 L468.68 540.98 L468.49 541.14 L468.32 541.31 L468.17 541.47 L468.04 541.64 L467.93 541.8 L467.4 541.8 Z" fill="#4DBBD5" stroke="#1f3a44" stroke-width="0.45"/><line x1="467.4" y1="514.9" x2="467.4" y2="559.4" stroke="#333" stroke-width="0.6"/><line x1="465.9" y1="536.7" x2="465.9" y2="538.5" stroke="#000" stroke-width="0.6"/><line x1="464.7" y1="536.7" x2="467.1" y2="536.7" stroke="#000" stroke-width="0.6"/><line x1="464.7" y1="538.5" x2="467.1" y2="538.5" stroke="#000" stroke-width="0.6"/><rect x="464.85" y="536.55" width="2.1" height="2.1" fill="#000"/><line x1="469" y1="536.7" x2="469" y2="538.5" stroke="#000" stroke-width="0.6"/><line x1="467.8" y1="536.7" x2="470.2" y2="536.7" stroke="#000" stroke-width="0.6"/><line x1="467.8" y1="538.5" x2="470.2" y2="538.5" stroke="#000" stroke-width="0.6"/><rect x="467.95" y="536.55" width="2.1" height="2.1" fill="#000"/><line x1="484.5" y1="516.9" x2="484.5" y2="598.7" stroke="#333" stroke-width="0.8"/><path d="M484.5 532.5 L483.82 532.5 L483.69 532.72 L483.54 532.94 L483.37 533.16 L483.18 533.39 L482.96 533.61 L482.73 533.83 L482.47 534.05 L482.18 534.27 L481.87 534.49 L481.55 534.71 L481.2 534.94 L480.83 535.16 L480.45 535.38 L480.06 535.6 L479.66 535.82 L479.26 536.04 L478.86 536.26 L478.47 536.49 L478.09 536.71 L477.73 536.93 L477.4 537.15 L477.1 537.37 L476.84 537.59 L476.61 537.81 L476.43 538.04 L476.31 538.26 L476.23 538.48 L476.2 538.7 L476.23 538.92 L476.31 539.14 L476.43 539.36 L476.61 539.59 L476.84 539.81 L477.1 540.03 L477.4 540.25 L477.73 540.47 L478.09 540.69 L478.47 540.91 L478.86 541.14 L479.26 541.36 L479.66 541.58 L480.06 541.8 L480.45 542.02 L480.83 542.24 L481.2 542.46 L481.55 542.69 L481.87 542.91 L482.18 543.13 L482.47 543.35 L482.73 543.57 L482.96 543.79 L483.18 544.01 L483.37 544.24 L483.54 544.46 L483.69 544.68 L483.82 544.9 L484.5 544.9 Z" fill="#E64B35" stroke="#3a2a2a" stroke-width="0.45"/><path d="M484.5 523.1 L484.5 523.1 L485.42 523.76 L486.08 524.41 L486.65 525.07 L487.16 525.73 L487.64 526.39 L488.07 527.04 L488.47 527.7 L488.85 528.36 L489.2 529.01 L489.53 529.67 L489.83 530.33 L490.11 530.99 L490.37 531.64 L490.62 532.3 L490.84 532.96 L491.05 533.61 L491.23 534.27 L491.4 534.93 L491.56 535.59 L491.69 536.24 L491.81 536.9 L491.92 537.56 L492 538.21 L492.07 538.87 L492.13 539.53 L492.17 540.19 L492.19 540.84 L492.2 541.5 L492.19 542.29 L492.17 543.07 L492.13 543.86 L492.07 544.64 L492 545.43 L491.92 546.21 L491.81 547 L491.69 547.79 L491.56 548.57 L491.4 549.36 L491.23 550.14 L491.05 550.93 L490.84 551.71 L490.62 552.5 L490.37 553.29 L490.11 554.07 L489.83 554.86 L489.53 555.64 L489.2 556.43 L488.85 557.21 L488.47 558 L488.07 558.79 L487.64 559.57 L487.16 560.36 L486.65 561.14 L486.08 561.93 L485.42 562.71 L484.5 563.5 L484.5 563.5 Z" fill="#4DBBD5" stroke="#1f3a44" stroke-width="0.45"/><line x1="484.5" y1="523.1" x2="484.5" y2="563.5" stroke="#333" stroke-width="0.6"/><line x1="482.9" y1="537.8" x2="482.9" y2="539.6" stroke="#000" stroke-width="0.6"/><line x1="481.7" y1="537.8" x2="484.1" y2="537.8" stroke="#000" stroke-width="0.6"/><line x1="481.7" y1="539.6" x2="484.1" y2="539.6" stroke="#000" stroke-width="0.6"/><rect x="481.85" y="537.65" width="2.1" height="2.1" fill="#000"/><line x1="485.6" y1="542.5" x2="485.6" y2="544.3" stroke="#000" stroke-width="0.6"/><line x1="484.4" y1="542.5" x2="486.8" y2="542.5" stroke="#000" stroke-width="0.6"/><line x1="484.4" y1="544.3" x2="486.8" y2="544.3" stroke="#000" stroke-width="0.6"/><rect x="484.55" y="542.35" width="2.1" height="2.1" fill="#000"/><line x1="501.1" y1="529.3" x2="501.1" y2="547" stroke="#333" stroke-width="0.8"/><path d="M501.1 531.4 L500.45 531.4 L500.33 531.56 L500.18 531.73 L500.02 531.89 L499.84 532.06 L499.64 532.22 L499.41 532.39 L499.16 532.55 L498.89 532.71 L498.6 532.88 L498.29 533.04 L497.96 533.21 L497.61 533.37 L497.24 533.54 L496.87 533.7 L496.49 533.86 L496.11 534.03 L495.73 534.19 L495.36 534.36 L495 534.52 L494.66 534.69 L494.34 534.85 L494.06 535.01 L493.81 535.18 L493.59 535.34 L493.42 535.51 L493.3 535.67 L493.23 535.84 L493.2 536 L493.23 536.19 L493.3 536.39 L493.42 536.58 L493.59 536.77 L493.81 536.96 L494.06 537.16 L494.34 537.35 L494.66 537.54 L495 537.74 L495.36 537.93 L495.73 538.12 L496.11 538.31 L496.49 538.51 L496.87 538.7 L497.24 538.89 L497.61 539.09 L497.96 539.28 L498.29 539.47 L498.6 539.66 L498.89 539.86 L499.16 540.05 L499.41 540.24 L499.64 540.44 L499.84 540.63 L500.02 540.82 L500.18 541.01 L500.33 541.21 L500.45 541.4 L501.1 541.4 Z" fill="#E64B35" stroke="#3a2a2a" stroke-width="0.45"/><path d="M501.1 534.5 L501.63 534.5 L501.74 534.61 L501.87 534.72 L502.02 534.83 L502.19 534.94 L502.38 535.05 L502.59 535.16 L502.83 535.27 L503.09 535.39 L503.38 535.5 L503.69 535.61 L504.02 535.72 L504.37 535.83 L504.74 535.94 L505.12 536.05 L505.51 536.16 L505.91 536.27 L506.31 536.38 L506.7 536.49 L507.08 536.6 L507.44 536.71 L507.77 536.83 L508.08 536.94 L508.35 537.05 L508.58 537.16 L508.76 537.27 L508.89 537.38 L508.97 537.49 L509 537.6 L508.97 537.71 L508.89 537.82 L508.76 537.93 L508.58 538.04 L508.35 538.15 L508.08 538.26 L507.77 538.38 L507.44 538.49 L507.08 538.6 L506.7 538.71 L506.31 538.82 L505.91 538.93 L505.51 539.04 L505.12 539.15 L504.74 539.26 L504.37 539.37 L504.02 539.48 L503.69 539.59 L503.38 539.7 L503.09 539.81 L502.83 539.93 L502.59 540.04 L502.38 540.15 L502.19 540.26 L502.02 540.37 L501.87 540.48 L501.74 540.59 L501.63 540.7 L501.1 540.7 Z" fill="#4DBBD5" stroke="#1f3a44" stroke-width="0.45"/><line x1="501.1" y1="531.4" x2="501.1" y2="541.4" stroke="#333" stroke-width="0.6"/><line x1="499.7" y1="535.1" x2="499.7" y2="536.9" stroke="#000" stroke-width="0.6"/><line x1="498.5" y1="535.1" x2="500.9" y2="535.1" stroke="#000" stroke-width="0.6"/><line x1="498.5" y1="536.9" x2="500.9" y2="536.9" stroke="#000" stroke-width="0.6"/><rect x="498.65" y="534.95" width="2.1" height="2.1" fill="#000"/><line x1="502.6" y1="536.7" x2="502.6" y2="538.5" stroke="#000" stroke-width="0.6"/><line x1="501.4" y1="536.7" x2="503.8" y2="536.7" stroke="#000" stroke-width="0.6"/><line x1="501.4" y1="538.5" x2="503.8" y2="538.5" stroke="#000" stroke-width="0.6"/><rect x="501.55" y="536.55" width="2.1" height="2.1" fill="#000"/><line x1="518.1" y1="533.5" x2="518.1" y2="542.8" stroke="#333" stroke-width="0.8"/><path d="M518.1 533.1 L517.47 533.1 L517.35 533.19 L517.21 533.28 L517.05 533.37 L516.87 533.46 L516.67 533.55 L516.45 533.64 L516.21 533.73 L515.95 533.81 L515.66 533.9 L515.36 533.99 L515.04 534.08 L514.7 534.17 L514.34 534.26 L513.98 534.35 L513.61 534.44 L513.24 534.53 L512.86 534.62 L512.5 534.71 L512.15 534.8 L511.82 534.89 L511.51 534.98 L511.24 535.06 L510.99 535.15 L510.78 535.24 L510.62 535.33 L510.5 535.42 L510.42 535.51 L510.4 535.6 L510.42 535.71 L510.5 535.82 L510.62 535.93 L510.78 536.04 L510.99 536.15 L511.24 536.26 L511.51 536.38 L511.82 536.49 L512.15 536.6 L512.5 536.71 L512.86 536.82 L513.24 536.93 L513.61 537.04 L513.98 537.15 L514.34 537.26 L514.7 537.37 L515.04 537.48 L515.36 537.59 L515.66 537.7 L515.95 537.81 L516.21 537.93 L516.45 538.04 L516.67 538.15 L516.87 538.26 L517.05 538.37 L517.21 538.48 L517.35 538.59 L517.47 538.7 L518.1 538.7 Z" fill="#E64B35" stroke="#3a2a2a" stroke-width="0.45"/><path d="M518.1 536.6 L518.63 536.6 L518.74 536.66 L518.87 536.71 L519.02 536.77 L519.19 536.83 L519.38 536.89 L519.59 536.94 L519.83 537 L520.09 537.06 L520.38 537.11 L520.69 537.17 L521.02 537.23 L521.37 537.29 L521.74 537.34 L522.12 537.4 L522.51 537.46 L522.91 537.51 L523.31 537.57 L523.7 537.63 L524.08 537.69 L524.44 537.74 L524.77 537.8 L525.08 537.86 L525.35 537.91 L525.58 537.97 L525.76 538.03 L525.89 538.09 L525.97 538.14 L526 538.2 L525.97 538.29 L525.89 538.38 L525.76 538.47 L525.58 538.56 L525.35 538.65 L525.08 538.74 L524.77 538.83 L524.44 538.91 L524.08 539 L523.7 539.09 L523.31 539.18 L522.91 539.27 L522.51 539.36 L522.12 539.45 L521.74 539.54 L521.37 539.63 L521.02 539.72 L520.69 539.81 L520.38 539.9 L520.09 539.99 L519.83 540.08 L519.59 540.16 L519.38 540.25 L519.19 540.34 L519.02 540.43 L518.87 540.52 L518.74 540.61 L518.63 540.7 L518.1 540.7 Z" fill="#4DBBD5" stroke="#1f3a44" stroke-width="0.45"/><line x1="518.1" y1="533.1" x2="518.1" y2="540.7" stroke="#333" stroke-width="0.6"/><line x1="516.6" y1="534.7" x2="516.6" y2="536.5" stroke="#000" stroke-width="0.6"/><line x1="515.4" y1="534.7" x2="517.8" y2="534.7" stroke="#000" stroke-width="0.6"/><line x1="515.4" y1="536.5" x2="517.8" y2="536.5" stroke="#000" stroke-width="0.6"/><rect x="515.55" y="534.55" width="2.1" height="2.1" fill="#000"/><line x1="519.3" y1="537.3" x2="519.3" y2="539.1" stroke="#000" stroke-width="0.6"/><line x1="518.1" y1="537.3" x2="520.5" y2="537.3" stroke="#000" stroke-width="0.6"/><line x1="518.1" y1="539.1" x2="520.5" y2="539.1" stroke="#000" stroke-width="0.6"/><rect x="518.25" y="537.15" width="2.1" height="2.1" fill="#000"/><line x1="534.9" y1="522.5" x2="534.9" y2="557.5" stroke="#333" stroke-width="0.8"/><path d="M534.9 528.2 L534.27 528.2 L534.15 528.52 L534.01 528.84 L533.85 529.16 L533.67 529.49 L533.47 529.81 L533.25 530.13 L533.01 530.45 L532.75 530.77 L532.46 531.09 L532.16 531.41 L531.84 531.74 L531.5 532.06 L531.14 532.38 L530.78 532.7 L530.41 533.02 L530.04 533.34 L529.66 533.66 L529.3 533.99 L528.95 534.31 L528.62 534.63 L528.31 534.95 L528.04 535.27 L527.79 535.59 L527.58 535.91 L527.42 536.24 L527.3 536.56 L527.22 536.88 L527.2 537.2 L527.22 537.55 L527.3 537.9 L527.42 538.25 L527.58 538.6 L527.79 538.95 L528.04 539.3 L528.31 539.65 L528.62 540 L528.95 540.35 L529.3 540.7 L529.66 541.05 L530.04 541.4 L530.41 541.75 L530.78 542.1 L531.14 542.45 L531.5 542.8 L531.84 543.15 L532.16 543.5 L532.46 543.85 L532.75 544.2 L533.01 544.55 L533.25 544.9 L533.47 545.25 L533.67 545.6 L533.85 545.95 L534.01 546.3 L534.15 546.65 L534.27 547 L534.9 547 Z" fill="#E64B35" stroke="#3a2a2a" stroke-width="0.45"/><path d="M534.9 529.9 L535.42 529.9 L535.53 530.27 L535.66 530.65 L535.81 531.02 L535.97 531.4 L536.16 531.77 L536.37 532.15 L536.61 532.52 L536.87 532.9 L537.15 533.27 L537.46 533.65 L537.78 534.02 L538.13 534.4 L538.49 534.77 L538.87 535.15 L539.26 535.52 L539.65 535.9 L540.04 536.27 L540.43 536.65 L540.8 537.02 L541.16 537.4 L541.49 537.77 L541.79 538.15 L542.06 538.52 L542.28 538.9 L542.46 539.27 L542.59 539.65 L542.67 540.02 L542.7 540.4 L542.67 540.81 L542.59 541.21 L542.46 541.62 L542.28 542.03 L542.06 542.44 L541.79 542.84 L541.49 543.25 L541.16 543.66 L540.8 544.06 L540.43 544.47 L540.04 544.88 L539.65 545.29 L539.26 545.69 L538.87 546.1 L538.49 546.51 L538.13 546.91 L537.78 547.32 L537.46 547.73 L537.15 548.14 L536.87 548.54 L536.61 548.95 L536.37 549.36 L536.16 549.76 L535.97 550.17 L535.81 550.58 L535.66 550.99 L535.53 551.39 L535.42 551.8 L534.9 551.8 Z" fill="#4DBBD5" stroke="#1f3a44" stroke-width="0.45"/><line x1="534.9" y1="528.2" x2="534.9" y2="551.8" stroke="#333" stroke-width="0.6"/><line x1="533.6" y1="537.6" x2="533.6" y2="539.4" stroke="#000" stroke-width="0.6"/><line x1="532.4" y1="537.6" x2="534.8" y2="537.6" stroke="#000" stroke-width="0.6"/><line x1="532.4" y1="539.4" x2="534.8" y2="539.4" stroke="#000" stroke-width="0.6"/><rect x="532.55" y="537.45" width="2.1" height="2.1" fill="#000"/><line x1="536.5" y1="540.8" x2="536.5" y2="542.6" stroke="#000" stroke-width="0.6"/><line x1="535.3" y1="540.8" x2="537.7" y2="540.8" stroke="#000" stroke-width="0.6"/><line x1="535.3" y1="542.6" x2="537.7" y2="542.6" stroke="#000" stroke-width="0.6"/><rect x="535.45" y="540.65" width="2.1" height="2.1" fill="#000"/><line x1="552" y1="524.5" x2="552" y2="557.5" stroke="#333" stroke-width="0.8"/><path d="M552 533.9 L551.38 533.9 L551.26 534.06 L551.12 534.23 L550.96 534.39 L550.79 534.56 L550.59 534.72 L550.38 534.89 L550.14 535.05 L549.88 535.21 L549.6 535.38 L549.3 535.54 L548.98 535.71 L548.64 535.87 L548.29 536.04 L547.93 536.2 L547.57 536.36 L547.2 536.53 L546.83 536.69 L546.48 536.86 L546.13 537.02 L545.8 537.19 L545.5 537.35 L545.22 537.51 L544.98 537.68 L544.78 537.84 L544.62 538.01 L544.5 538.17 L544.42 538.34 L544.4 538.5 L544.42 538.66 L544.5 538.81 L544.62 538.97 L544.78 539.13 L544.98 539.29 L545.22 539.44 L545.5 539.6 L545.8 539.76 L546.13 539.91 L546.48 540.07 L546.83 540.23 L547.2 540.39 L547.57 540.54 L547.93 540.7 L548.29 540.86 L548.64 541.01 L548.98 541.17 L549.3 541.33 L549.6 541.49 L549.88 541.64 L550.14 541.8 L550.38 541.96 L550.59 542.11 L550.79 542.27 L550.96 542.43 L551.12 542.59 L551.26 542.74 L551.38 542.9 L552 542.9 Z" fill="#E64B35" stroke="#3a2a2a" stroke-width="0.45"/><path d="M552 529.1 L552.54 529.1 L552.66 529.5 L552.79 529.91 L552.94 530.31 L553.11 530.71 L553.31 531.12 L553.53 531.52 L553.77 531.92 L554.04 532.33 L554.34 532.73 L554.65 533.14 L554.99 533.54 L555.35 533.94 L555.73 534.35 L556.12 534.75 L556.53 535.15 L556.93 535.56 L557.34 535.96 L557.74 536.36 L558.13 536.77 L558.5 537.17 L558.84 537.58 L559.16 537.98 L559.43 538.38 L559.67 538.79 L559.85 539.19 L559.99 539.59 L560.07 540 L560.1 540.4 L560.07 540.81 L559.99 541.21 L559.85 541.62 L559.67 542.03 L559.43 542.44 L559.16 542.84 L558.84 543.25 L558.5 543.66 L558.13 544.06 L557.74 544.47 L557.34 544.88 L556.93 545.29 L556.53 545.69 L556.12 546.1 L555.73 546.51 L555.35 546.91 L554.99 547.32 L554.65 547.73 L554.34 548.14 L554.04 548.54 L553.77 548.95 L553.53 549.36 L553.31 549.76 L553.11 550.17 L552.94 550.58 L552.79 550.99 L552.66 551.39 L552.54 551.8 L552 551.8 Z" fill="#4DBBD5" stroke="#1f3a44" stroke-width="0.45"/><line x1="552" y1="529.1" x2="552" y2="551.8" stroke="#333" stroke-width="0.6"/><line x1="550.3" y1="537.6" x2="550.3" y2="539.4" stroke="#000" stroke-width="0.6"/><line x1="549.1" y1="537.6" x2="551.5" y2="537.6" stroke="#000" stroke-width="0.6"/><line x1="549.1" y1="539.4" x2="551.5" y2="539.4" stroke="#000" stroke-width="0.6"/><rect x="549.25" y="537.45" width="2.1" height="2.1" fill="#000"/><line x1="553.6" y1="540.8" x2="553.6" y2="542.6" stroke="#000" stroke-width="0.6"/><line x1="552.4" y1="540.8" x2="554.8" y2="540.8" stroke="#000" stroke-width="0.6"/><line x1="552.4" y1="542.6" x2="554.8" y2="542.6" stroke="#000" stroke-width="0.6"/><rect x="552.55" y="540.65" width="2.1" height="2.1" fill="#000"/><line x1="568.7" y1="525.8" x2="568.7" y2="550.5" stroke="#333" stroke-width="0.8"/><path d="M568.7 531.5 L568.06 531.5 L567.94 531.76 L567.8 532.02 L567.64 532.28 L567.46 532.54 L567.26 532.8 L567.03 533.06 L566.79 533.33 L566.52 533.59 L566.23 533.85 L565.92 534.11 L565.6 534.37 L565.25 534.63 L564.89 534.89 L564.52 535.15 L564.15 535.41 L563.77 535.67 L563.4 535.93 L563.03 536.19 L562.68 536.45 L562.34 536.71 L562.03 536.97 L561.75 537.24 L561.5 537.5 L561.29 537.76 L561.12 538.02 L561 538.28 L560.92 538.54 L560.9 538.8 L560.92 539.06 L561 539.32 L561.12 539.58 L561.29 539.84 L561.5 540.1 L561.75 540.36 L562.03 540.62 L562.34 540.89 L562.68 541.15 L563.03 541.41 L563.4 541.67 L563.77 541.93 L564.15 542.19 L564.52 542.45 L564.89 542.71 L565.25 542.97 L565.6 543.23 L565.92 543.49 L566.23 543.75 L566.52 544.01 L566.79 544.27 L567.03 544.54 L567.26 544.8 L567.46 545.06 L567.64 545.32 L567.8 545.58 L567.94 545.84 L568.06 546.1 L568.7 546.1 Z" fill="#E64B35" stroke="#3a2a2a" stroke-width="0.45"/><path d="M568.7 531.5 L569.21 531.5 L569.32 531.6 L569.44 531.7 L569.58 531.8 L569.75 531.9 L569.93 532 L570.14 532.1 L570.36 532.2 L570.62 532.3 L570.89 532.4 L571.19 532.5 L571.51 532.6 L571.85 532.7 L572.2 532.8 L572.57 532.9 L572.95 533 L573.33 533.1 L573.71 533.2 L574.09 533.3 L574.45 533.4 L574.8 533.5 L575.12 533.6 L575.41 533.7 L575.67 533.8 L575.89 533.9 L576.07 534 L576.2 534.1 L576.27 534.2 L576.3 534.3 L576.27 534.46 L576.2 534.62 L576.07 534.78 L575.89 534.94 L575.67 535.1 L575.41 535.26 L575.12 535.42 L574.8 535.59 L574.45 535.75 L574.09 535.91 L573.71 536.07 L573.33 536.23 L572.95 536.39 L572.57 536.55 L572.2 536.71 L571.85 536.87 L571.51 537.03 L571.19 537.19 L570.89 537.35 L570.62 537.51 L570.36 537.67 L570.14 537.84 L569.93 538 L569.75 538.16 L569.58 538.32 L569.44 538.48 L569.32 538.64 L569.21 538.8 L568.7 538.8 Z" fill="#4DBBD5" stroke="#1f3a44" stroke-width="0.45"/><line x1="568.7" y1="531.5" x2="568.7" y2="546.1" stroke="#333" stroke-width="0.6"/><line x1="567.4" y1="537.9" x2="567.4" y2="539.7" stroke="#000" stroke-width="0.6"/><line x1="566.2" y1="537.9" x2="568.6" y2="537.9" stroke="#000" stroke-width="0.6"/><line x1="566.2" y1="539.7" x2="568.6" y2="539.7" stroke="#000" stroke-width="0.6"/><rect x="566.35" y="537.75" width="2.1" height="2.1" fill="#000"/><line x1="570" y1="535" x2="570" y2="536.8" stroke="#000" stroke-width="0.6"/><line x1="568.8" y1="535" x2="571.2" y2="535" stroke="#000" stroke-width="0.6"/><line x1="568.8" y1="536.8" x2="571.2" y2="536.8" stroke="#000" stroke-width="0.6"/><rect x="568.95" y="534.85" width="2.1" height="2.1" fill="#000"/><line x1="585.7" y1="509.2" x2="585.7" y2="601.5" stroke="#333" stroke-width="0.8"/><path d="M585.7 530.7 L585.08 530.7 L584.96 530.99 L584.82 531.28 L584.66 531.57 L584.49 531.86 L584.29 532.15 L584.08 532.44 L583.84 532.73 L583.58 533.01 L583.3 533.3 L583 533.59 L582.68 533.88 L582.34 534.17 L581.99 534.46 L581.63 534.75 L581.27 535.04 L580.9 535.33 L580.53 535.62 L580.18 535.91 L579.83 536.2 L579.5 536.49 L579.2 536.77 L578.92 537.06 L578.68 537.35 L578.48 537.64 L578.32 537.93 L578.2 538.22 L578.12 538.51 L578.1 538.8 L578.12 539.15 L578.2 539.5 L578.32 539.85 L578.48 540.2 L578.68 540.55 L578.92 540.9 L579.2 541.25 L579.5 541.6 L579.83 541.95 L580.18 542.3 L580.53 542.65 L580.9 543 L581.27 543.35 L581.63 543.7 L581.99 544.05 L582.34 544.4 L582.68 544.75 L583 545.1 L583.3 545.45 L583.58 545.8 L583.84 546.15 L584.08 546.5 L584.29 546.85 L584.49 547.2 L584.66 547.55 L584.82 547.9 L584.96 548.25 L585.08 548.6 L585.7 548.6 Z" fill="#E64B35" stroke="#3a2a2a" stroke-width="0.45"/><path d="M585.7 514.4 L585.7 514.4 L586.67 515.27 L587.36 516.14 L587.96 517.01 L588.5 517.89 L589 518.76 L589.46 519.63 L589.88 520.5 L590.28 521.37 L590.64 522.24 L590.99 523.11 L591.31 523.99 L591.6 524.86 L591.88 525.73 L592.13 526.6 L592.37 527.47 L592.59 528.34 L592.78 529.21 L592.96 530.09 L593.12 530.96 L593.27 531.83 L593.39 532.7 L593.5 533.57 L593.59 534.44 L593.67 535.31 L593.73 536.19 L593.77 537.06 L593.79 537.93 L593.8 538.8 L593.79 539.59 L593.77 540.37 L593.73 541.16 L593.67 541.94 L593.59 542.73 L593.5 543.51 L593.39 544.3 L593.27 545.09 L593.12 545.87 L592.96 546.66 L592.78 547.44 L592.59 548.23 L592.37 549.01 L592.13 549.8 L591.88 550.59 L591.6 551.37 L591.31 552.16 L590.99 552.94 L590.64 553.73 L590.28 554.51 L589.88 555.3 L589.46 556.09 L589 556.87 L588.5 557.66 L587.96 558.44 L587.36 559.23 L586.67 560.01 L585.7 560.8 L585.7 560.8 Z" fill="#4DBBD5" stroke="#1f3a44" stroke-width="0.45"/><line x1="585.7" y1="514.4" x2="585.7" y2="560.8" stroke="#333" stroke-width="0.6"/><line x1="584.5" y1="537.9" x2="584.5" y2="539.7" stroke="#000" stroke-width="0.6"/><line x1="583.3" y1="537.9" x2="585.7" y2="537.9" stroke="#000" stroke-width="0.6"/><line x1="583.3" y1="539.7" x2="585.7" y2="539.7" stroke="#000" stroke-width="0.6"/><rect x="583.45" y="537.75" width="2.1" height="2.1" fill="#000"/><line x1="587.3" y1="537.9" x2="587.3" y2="539.7" stroke="#000" stroke-width="0.6"/><line x1="586.1" y1="537.9" x2="588.5" y2="537.9" stroke="#000" stroke-width="0.6"/><line x1="586.1" y1="539.7" x2="588.5" y2="539.7" stroke="#000" stroke-width="0.6"/><rect x="586.25" y="537.75" width="2.1" height="2.1" fill="#000"/><line x1="602.4" y1="514.7" x2="602.4" y2="599.4" stroke="#333" stroke-width="0.8"/><path d="M602.4 537.2 L601.8 537.2 L601.69 537.36 L601.55 537.52 L601.41 537.68 L601.24 537.84 L601.05 538 L600.84 538.16 L600.61 538.33 L600.36 538.49 L600.09 538.65 L599.8 538.81 L599.5 538.97 L599.17 539.13 L598.84 539.29 L598.49 539.45 L598.14 539.61 L597.79 539.77 L597.44 539.93 L597.09 540.09 L596.76 540.25 L596.45 540.41 L596.16 540.58 L595.89 540.74 L595.66 540.9 L595.46 541.06 L595.31 541.22 L595.19 541.38 L595.12 541.54 L595.1 541.7 L595.12 541.89 L595.19 542.08 L595.31 542.27 L595.46 542.46 L595.66 542.65 L595.89 542.84 L596.16 543.03 L596.45 543.21 L596.76 543.4 L597.09 543.59 L597.44 543.78 L597.79 543.97 L598.14 544.16 L598.49 544.35 L598.84 544.54 L599.17 544.73 L599.5 544.92 L599.8 545.11 L600.09 545.3 L600.36 545.49 L600.61 545.67 L600.84 545.86 L601.05 546.05 L601.24 546.24 L601.41 546.43 L601.55 546.62 L601.69 546.81 L601.8 547 L602.4 547 Z" fill="#E64B35" stroke="#3a2a2a" stroke-width="0.45"/><path d="M602.4 516 L602.4 516 L603.37 516.81 L604.06 517.63 L604.66 518.44 L605.2 519.26 L605.7 520.07 L606.16 520.89 L606.58 521.7 L606.98 522.51 L607.34 523.33 L607.69 524.14 L608.01 524.96 L608.3 525.77 L608.58 526.59 L608.83 527.4 L609.07 528.21 L609.29 529.03 L609.48 529.84 L609.66 530.66 L609.82 531.47 L609.97 532.29 L610.09 533.1 L610.2 533.91 L610.29 534.73 L610.37 535.54 L610.43 536.36 L610.47 537.17 L610.49 537.99 L610.5 538.8 L610.49 539.53 L610.47 540.26 L610.43 540.99 L610.37 541.71 L610.29 542.44 L610.2 543.17 L610.09 543.9 L609.97 544.63 L609.82 545.36 L609.66 546.09 L609.48 546.81 L609.29 547.54 L609.07 548.27 L608.83 549 L608.58 549.73 L608.3 550.46 L608.01 551.19 L607.69 551.91 L607.34 552.64 L606.98 553.37 L606.58 554.1 L606.16 554.83 L605.7 555.56 L605.2 556.29 L604.66 557.01 L604.06 557.74 L603.37 558.47 L602.4 559.2 L602.4 559.2 Z" fill="#4DBBD5" stroke="#1f3a44" stroke-width="0.45"/><line x1="602.4" y1="516" x2="602.4" y2="559.2" stroke="#333" stroke-width="0.6"/><line x1="601.1" y1="540.8" x2="601.1" y2="542.6" stroke="#000" stroke-width="0.6"/><line x1="599.9" y1="540.8" x2="602.3" y2="540.8" stroke="#000" stroke-width="0.6"/><line x1="599.9" y1="542.6" x2="602.3" y2="542.6" stroke="#000" stroke-width="0.6"/><rect x="600.05" y="540.65" width="2.1" height="2.1" fill="#000"/><line x1="604" y1="537.6" x2="604" y2="539.4" stroke="#000" stroke-width="0.6"/><line x1="602.8" y1="537.6" x2="605.2" y2="537.6" stroke="#000" stroke-width="0.6"/><line x1="602.8" y1="539.4" x2="605.2" y2="539.4" stroke="#000" stroke-width="0.6"/><rect x="602.95" y="537.45" width="2.1" height="2.1" fill="#000"/><line x1="619.2" y1="534.8" x2="619.2" y2="546.5" stroke="#333" stroke-width="0.8"/><path d="M619.2 536.4 L618.6 536.4 L618.49 536.47 L618.35 536.54 L618.21 536.6 L618.04 536.67 L617.85 536.74 L617.64 536.81 L617.41 536.88 L617.16 536.94 L616.89 537.01 L616.6 537.08 L616.3 537.15 L615.97 537.21 L615.64 537.28 L615.29 537.35 L614.94 537.42 L614.59 537.49 L614.24 537.55 L613.89 537.62 L613.56 537.69 L613.25 537.76 L612.96 537.82 L612.69 537.89 L612.46 537.96 L612.26 538.03 L612.11 538.1 L611.99 538.16 L611.92 538.23 L611.9 538.3 L611.92 538.38 L611.99 538.45 L612.11 538.52 L612.26 538.6 L612.46 538.67 L612.69 538.75 L612.96 538.82 L613.25 538.9 L613.56 538.97 L613.89 539.05 L614.24 539.12 L614.59 539.2 L614.94 539.27 L615.29 539.35 L615.64 539.42 L615.97 539.5 L616.3 539.57 L616.6 539.65 L616.89 539.73 L617.16 539.8 L617.41 539.88 L617.64 539.95 L617.85 540.02 L618.04 540.1 L618.21 540.17 L618.35 540.25 L618.49 540.32 L618.6 540.4 L619.2 540.4 Z" fill="#E64B35" stroke="#3a2a2a" stroke-width="0.45"/><path d="M619.2 541.3 L619.74 541.3 L619.86 541.36 L619.99 541.41 L620.14 541.47 L620.31 541.53 L620.51 541.59 L620.73 541.64 L620.97 541.7 L621.24 541.76 L621.54 541.81 L621.85 541.87 L622.19 541.93 L622.55 541.99 L622.93 542.04 L623.32 542.1 L623.73 542.16 L624.13 542.21 L624.54 542.27 L624.94 542.33 L625.33 542.39 L625.7 542.44 L626.04 542.5 L626.36 542.56 L626.63 542.61 L626.87 542.67 L627.05 542.73 L627.19 542.79 L627.27 542.84 L627.3 542.9 L627.27 543.01 L627.19 543.13 L627.05 543.24 L626.87 543.36 L626.63 543.47 L626.36 543.59 L626.04 543.7 L625.7 543.81 L625.33 543.93 L624.94 544.04 L624.54 544.16 L624.13 544.27 L623.73 544.39 L623.32 544.5 L622.93 544.61 L622.55 544.73 L622.19 544.84 L621.85 544.96 L621.54 545.07 L621.24 545.19 L620.97 545.3 L620.73 545.41 L620.51 545.53 L620.31 545.64 L620.14 545.76 L619.99 545.87 L619.86 545.99 L619.74 546.1 L619.2 546.1 Z" fill="#4DBBD5" stroke="#1f3a44" stroke-width="0.45"/><line x1="619.2" y1="536.4" x2="619.2" y2="546.1" stroke="#333" stroke-width="0.6"/><line x1="617.9" y1="537.4" x2="617.9" y2="539.2" stroke="#000" stroke-width="0.6"/><line x1="616.7" y1="537.4" x2="619.1" y2="537.4" stroke="#000" stroke-width="0.6"/><line x1="616.7" y1="539.2" x2="619.1" y2="539.2" stroke="#000" stroke-width="0.6"/><rect x="616.85" y="537.25" width="2.1" height="2.1" fill="#000"/><line x1="621.1" y1="542" x2="621.1" y2="543.8" stroke="#000" stroke-width="0.6"/><line x1="619.9" y1="542" x2="622.3" y2="542" stroke="#000" stroke-width="0.6"/><line x1="619.9" y1="543.8" x2="622.3" y2="543.8" stroke="#000" stroke-width="0.6"/><rect x="620.05" y="541.85" width="2.1" height="2.1" fill="#000"/><rect x="57.38" y="500.6" width="1.8" height="1.8" fill="#3a3a3a"/><rect x="60.52" y="500.6" width="1.8" height="1.8" fill="#3a3a3a"/><rect x="63.68" y="500.6" width="1.8" height="1.8" fill="#3a3a3a"/><rect x="66.82" y="500.6" width="1.8" height="1.8" fill="#3a3a3a"/><line x1="61.6" y1="604.9" x2="61.6" y2="607.5" stroke="#333" stroke-width="0.7"/><text transform="translate(62.9,609.7) rotate(-45)" font-family="Liberation Sans" font-size="7.7" fill="#2a2a2a" text-anchor="end">GBM(T=153,N=1157)</text><rect x="74.28" y="500.6" width="1.8" height="1.8" fill="#3a3a3a"/><rect x="77.43" y="500.6" width="1.8" height="1.8" fill="#3a3a3a"/><rect x="80.58" y="500.6" width="1.8" height="1.8" fill="#3a3a3a"/><rect x="83.73" y="500.6" width="1.8" height="1.8" fill="#3a3a3a"/><line x1="78.5" y1="604.9" x2="78.5" y2="607.5" stroke="#333" stroke-width="0.7"/><text transform="translate(79.8,609.7) rotate(-45)" font-family="Liberation Sans" font-size="7.7" fill="#2a2a2a" text-anchor="end">GBMLGG(T=662,N=1157)</text><rect x="91.08" y="500.6" width="1.8" height="1.8" fill="#3a3a3a"/><rect x="94.23" y="500.6" width="1.8" height="1.8" fill="#3a3a3a"/><rect x="97.38" y="500.6" width="1.8" height="1.8" fill="#3a3a3a"/><rect x="100.53" y="500.6" width="1.8" height="1.8" fill="#3a3a3a"/><line x1="95.3" y1="604.9" x2="95.3" y2="607.5" stroke="#333" stroke-width="0.7"/><text transform="translate(96.6,609.7) rotate(-45)" font-family="Liberation Sans" font-size="7.7" fill="#2a2a2a" text-anchor="end">LGG(T=509,N=1157)</text><rect x="108.08" y="500.6" width="1.8" height="1.8" fill="#3a3a3a"/><rect x="111.23" y="500.6" width="1.8" height="1.8" fill="#3a3a3a"/><rect x="114.38" y="500.6" width="1.8" height="1.8" fill="#3a3a3a"/><rect x="117.53" y="500.6" width="1.8" height="1.8" fill="#3a3a3a"/><line x1="112.3" y1="604.9" x2="112.3" y2="607.5" stroke="#333" stroke-width="0.7"/><text transform="translate(113.6,609.7) rotate(-45)" font-family="Liberation Sans" font-size="7.7" fill="#2a2a2a" text-anchor="end">UCEC(T=180,N=23)</text><rect x="125.08" y="500.6" width="1.8" height="1.8" fill="#3a3a3a"/><rect x="128.23" y="500.6" width="1.8" height="1.8" fill="#3a3a3a"/><rect x="131.38" y="500.6" width="1.8" height="1.8" fill="#3a3a3a"/><rect x="134.53" y="500.6" width="1.8" height="1.8" fill="#3a3a3a"/><line x1="129.3" y1="604.9" x2="129.3" y2="607.5" stroke="#333" stroke-width="0.7"/><text transform="translate(130.6,609.7) rotate(-45)" font-family="Liberation Sans" font-size="7.7" fill="#2a2a2a" text-anchor="end">BRCA(T=1092,N=292)</text><rect x="141.88" y="500.6" width="1.8" height="1.8" fill="#3a3a3a"/><rect x="145.03" y="500.6" width="1.8" height="1.8" fill="#3a3a3a"/><rect x="148.18" y="500.6" width="1.8" height="1.8" fill="#3a3a3a"/><rect x="151.32" y="500.6" width="1.8" height="1.8" fill="#3a3a3a"/><line x1="146.1" y1="604.9" x2="146.1" y2="607.5" stroke="#333" stroke-width="0.7"/><text transform="translate(147.4,609.7) rotate(-45)" font-family="Liberation Sans" font-size="7.7" fill="#2a2a2a" text-anchor="end">CESC(T=304,N=13)</text><rect x="158.78" y="500.6" width="1.8" height="1.8" fill="#3a3a3a"/><rect x="161.93" y="500.6" width="1.8" height="1.8" fill="#3a3a3a"/><rect x="165.08" y="500.6" width="1.8" height="1.8" fill="#3a3a3a"/><rect x="168.22" y="500.6" width="1.8" height="1.8" fill="#3a3a3a"/><line x1="163" y1="604.9" x2="163" y2="607.5" stroke="#333" stroke-width="0.7"/><text transform="translate(164.3,609.7) rotate(-45)" font-family="Liberation Sans" font-size="7.7" fill="#2a2a2a" text-anchor="end">LUAD(T=513,N=397)</text><rect x="175.68" y="500.6" width="1.8" height="1.8" fill="#3a3a3a"/><rect x="178.83" y="500.6" width="1.8" height="1.8" fill="#3a3a3a"/><rect x="181.98" y="500.6" width="1.8" height="1.8" fill="#3a3a3a"/><rect x="185.12" y="500.6" width="1.8" height="1.8" fill="#3a3a3a"/><line x1="179.9" y1="604.9" x2="179.9" y2="607.5" stroke="#333" stroke-width="0.7"/><text transform="translate(181.2,609.7) rotate(-45)" font-family="Liberation Sans" font-size="7.7" fill="#2a2a2a" text-anchor="end">ESCA(T=181,N=668)</text><rect x="192.68" y="500.6" width="1.8" height="1.8" fill="#3a3a3a"/><rect x="195.83" y="500.6" width="1.8" height="1.8" fill="#3a3a3a"/><rect x="198.98" y="500.6" width="1.8" height="1.8" fill="#3a3a3a"/><rect x="202.12" y="500.6" width="1.8" height="1.8" fill="#3a3a3a"/><line x1="196.9" y1="604.9" x2="196.9" y2="607.5" stroke="#333" stroke-width="0.7"/><text transform="translate(198.2,609.7) rotate(-45)" font-family="Liberation Sans" font-size="7.7" fill="#2a2a2a" text-anchor="end">STES(T=595,N=879)</text><rect x="211.25" y="500.6" width="1.8" height="1.8" fill="#3a3a3a"/><rect x="214.4" y="500.6" width="1.8" height="1.8" fill="#3a3a3a"/><rect x="217.55" y="500.6" width="1.8" height="1.8" fill="#3a3a3a"/><line x1="213.9" y1="604.9" x2="213.9" y2="607.5" stroke="#333" stroke-width="0.7"/><text transform="translate(215.2,609.7) rotate(-45)" font-family="Liberation Sans" font-size="7.7" fill="#2a2a2a" text-anchor="end">KIRP(T=288,N=168)</text><rect x="229.9" y="503.5" width="1.6" height="0.9" fill="#555"/><line x1="230.7" y1="604.9" x2="230.7" y2="607.5" stroke="#333" stroke-width="0.7"/><text transform="translate(232,609.7) rotate(-45)" font-family="Liberation Sans" font-size="7.7" fill="#2a2a2a" text-anchor="end">KIPAN(T=884,N=168)</text><rect x="243.47" y="500.6" width="1.8" height="1.8" fill="#3a3a3a"/><rect x="246.62" y="500.6" width="1.8" height="1.8" fill="#3a3a3a"/><rect x="249.78" y="500.6" width="1.8" height="1.8" fill="#3a3a3a"/><rect x="252.92" y="500.6" width="1.8" height="1.8" fill="#3a3a3a"/><line x1="247.7" y1="604.9" x2="247.7" y2="607.5" stroke="#333" stroke-width="0.7"/><text transform="translate(249,609.7) rotate(-45)" font-family="Liberation Sans" font-size="7.7" fill="#2a2a2a" text-anchor="end">COAD(T=288,N=349)</text><rect x="260.38" y="500.6" width="1.8" height="1.8" fill="#3a3a3a"/><rect x="263.52" y="500.6" width="1.8" height="1.8" fill="#3a3a3a"/><rect x="266.68" y="500.6" width="1.8" height="1.8" fill="#3a3a3a"/><rect x="269.82" y="500.6" width="1.8" height="1.8" fill="#3a3a3a"/><line x1="264.6" y1="604.9" x2="264.6" y2="607.5" stroke="#333" stroke-width="0.7"/><text transform="translate(265.9,609.7) rotate(-45)" font-family="Liberation Sans" font-size="7.7" fill="#2a2a2a" text-anchor="end">COADREAD(T=380,N=359)</text><rect x="277.17" y="500.6" width="1.8" height="1.8" fill="#3a3a3a"/><rect x="280.32" y="500.6" width="1.8" height="1.8" fill="#3a3a3a"/><rect x="283.47" y="500.6" width="1.8" height="1.8" fill="#3a3a3a"/><rect x="286.62" y="500.6" width="1.8" height="1.8" fill="#3a3a3a"/><line x1="281.4" y1="604.9" x2="281.4" y2="607.5" stroke="#333" stroke-width="0.7"/><text transform="translate(282.7,609.7) rotate(-45)" font-family="Liberation Sans" font-size="7.7" fill="#2a2a2a" text-anchor="end">PRAD(T=495,N=152)</text><rect x="294.17" y="500.6" width="1.8" height="1.8" fill="#3a3a3a"/><rect x="297.32" y="500.6" width="1.8" height="1.8" fill="#3a3a3a"/><rect x="300.47" y="500.6" width="1.8" height="1.8" fill="#3a3a3a"/><rect x="303.62" y="500.6" width="1.8" height="1.8" fill="#3a3a3a"/><line x1="298.4" y1="604.9" x2="298.4" y2="607.5" stroke="#333" stroke-width="0.7"/><text transform="translate(299.7,609.7) rotate(-45)" font-family="Liberation Sans" font-size="7.7" fill="#2a2a2a" text-anchor="end">STAD(T=414,N=211)</text><rect x="311.07" y="500.6" width="1.8" height="1.8" fill="#3a3a3a"/><rect x="314.22" y="500.6" width="1.8" height="1.8" fill="#3a3a3a"/><rect x="317.38" y="500.6" width="1.8" height="1.8" fill="#3a3a3a"/><rect x="320.52" y="500.6" width="1.8" height="1.8" fill="#3a3a3a"/><line x1="315.3" y1="604.9" x2="315.3" y2="607.5" stroke="#333" stroke-width="0.7"/><text transform="translate(316.6,609.7) rotate(-45)" font-family="Liberation Sans" font-size="7.7" fill="#2a2a2a" text-anchor="end">HNSC(T=518,N=44)</text><rect x="333" y="500.6" width="1.8" height="1.8" fill="#3a3a3a"/><line x1="332.5" y1="604.9" x2="332.5" y2="607.5" stroke="#333" stroke-width="0.7"/><text transform="translate(333.8,609.7) rotate(-45)" font-family="Liberation Sans" font-size="7.7" fill="#2a2a2a" text-anchor="end">KIRC(T=530,N=166)</text><rect x="344.77" y="500.6" width="1.8" height="1.8" fill="#3a3a3a"/><rect x="347.92" y="500.6" width="1.8" height="1.8" fill="#3a3a3a"/><rect x="351.07" y="500.6" width="1.8" height="1.8" fill="#3a3a3a"/><rect x="354.22" y="500.6" width="1.8" height="1.8" fill="#3a3a3a"/><line x1="349" y1="604.9" x2="349" y2="607.5" stroke="#333" stroke-width="0.7"/><text transform="translate(350.3,609.7) rotate(-45)" font-family="Liberation Sans" font-size="7.7" fill="#2a2a2a" text-anchor="end">LUSC(T=498,N=397)</text><rect x="361.97" y="500.6" width="1.8" height="1.8" fill="#3a3a3a"/><rect x="365.12" y="500.6" width="1.8" height="1.8" fill="#3a3a3a"/><rect x="368.27" y="500.6" width="1.8" height="1.8" fill="#3a3a3a"/><rect x="371.42" y="500.6" width="1.8" height="1.8" fill="#3a3a3a"/><line x1="366.2" y1="604.9" x2="366.2" y2="607.5" stroke="#333" stroke-width="0.7"/><text transform="translate(367.5,609.7) rotate(-45)" font-family="Liberation Sans" font-size="7.7" fill="#2a2a2a" text-anchor="end">LIHC(T=369,N=160)</text><rect x="378.57" y="500.6" width="1.8" height="1.8" fill="#3a3a3a"/><rect x="381.72" y="500.6" width="1.8" height="1.8" fill="#3a3a3a"/><rect x="384.88" y="500.6" width="1.8" height="1.8" fill="#3a3a3a"/><rect x="388.02" y="500.6" width="1.8" height="1.8" fill="#3a3a3a"/><line x1="382.8" y1="604.9" x2="382.8" y2="607.5" stroke="#333" stroke-width="0.7"/><text transform="translate(384.1,609.7) rotate(-45)" font-family="Liberation Sans" font-size="7.7" fill="#2a2a2a" text-anchor="end">WT(T=120,N=168)</text><rect x="399" y="503.5" width="1.6" height="0.9" fill="#555"/><line x1="399.8" y1="604.9" x2="399.8" y2="607.5" stroke="#333" stroke-width="0.7"/><text transform="translate(401.1,609.7) rotate(-45)" font-family="Liberation Sans" font-size="7.7" fill="#2a2a2a" text-anchor="end">SKCM(T=102,N=558)</text><rect x="412.47" y="500.6" width="1.8" height="1.8" fill="#3a3a3a"/><rect x="415.62" y="500.6" width="1.8" height="1.8" fill="#3a3a3a"/><rect x="418.77" y="500.6" width="1.8" height="1.8" fill="#3a3a3a"/><rect x="421.92" y="500.6" width="1.8" height="1.8" fill="#3a3a3a"/><line x1="416.7" y1="604.9" x2="416.7" y2="607.5" stroke="#333" stroke-width="0.7"/><text transform="translate(418,609.7) rotate(-45)" font-family="Liberation Sans" font-size="7.7" fill="#2a2a2a" text-anchor="end">BLCA(T=407,N=28)</text><rect x="432.6" y="503.5" width="1.6" height="0.9" fill="#555"/><line x1="433.4" y1="604.9" x2="433.4" y2="607.5" stroke="#333" stroke-width="0.7"/><text transform="translate(434.7,609.7) rotate(-45)" font-family="Liberation Sans" font-size="7.7" fill="#2a2a2a" text-anchor="end">THCA(T=504,N=338)</text><rect x="449.32" y="500.6" width="1.8" height="1.8" fill="#3a3a3a"/><rect x="452.47" y="500.6" width="1.8" height="1.8" fill="#3a3a3a"/><line x1="450.4" y1="604.9" x2="450.4" y2="607.5" stroke="#333" stroke-width="0.7"/><text transform="translate(451.7,609.7) rotate(-45)" font-family="Liberation Sans" font-size="7.7" fill="#2a2a2a" text-anchor="end">READ(T=92,N=10)</text><rect x="466.6" y="503.5" width="1.6" height="0.9" fill="#555"/><line x1="467.4" y1="604.9" x2="467.4" y2="607.5" stroke="#333" stroke-width="0.7"/><text transform="translate(468.7,609.7) rotate(-45)" font-family="Liberation Sans" font-size="7.7" fill="#2a2a2a" text-anchor="end">OV(T=419,N=88)</text><rect x="480.27" y="500.6" width="1.8" height="1.8" fill="#3a3a3a"/><rect x="483.42" y="500.6" width="1.8" height="1.8" fill="#3a3a3a"/><rect x="486.57" y="500.6" width="1.8" height="1.8" fill="#3a3a3a"/><rect x="489.72" y="500.6" width="1.8" height="1.8" fill="#3a3a3a"/><line x1="484.5" y1="604.9" x2="484.5" y2="607.5" stroke="#333" stroke-width="0.7"/><text transform="translate(485.8,609.7) rotate(-45)" font-family="Liberation Sans" font-size="7.7" fill="#2a2a2a" text-anchor="end">PAAD(T=178,N=171)</text><rect x="496.88" y="500.6" width="1.8" height="1.8" fill="#3a3a3a"/><rect x="500.02" y="500.6" width="1.8" height="1.8" fill="#3a3a3a"/><rect x="503.18" y="500.6" width="1.8" height="1.8" fill="#3a3a3a"/><rect x="506.32" y="500.6" width="1.8" height="1.8" fill="#3a3a3a"/><line x1="501.1" y1="604.9" x2="501.1" y2="607.5" stroke="#333" stroke-width="0.7"/><text transform="translate(502.4,609.7) rotate(-45)" font-family="Liberation Sans" font-size="7.7" fill="#2a2a2a" text-anchor="end">TGCT(T=148,N=165)</text><rect x="513.88" y="500.6" width="1.8" height="1.8" fill="#3a3a3a"/><rect x="517.02" y="500.6" width="1.8" height="1.8" fill="#3a3a3a"/><rect x="520.17" y="500.6" width="1.8" height="1.8" fill="#3a3a3a"/><rect x="523.33" y="500.6" width="1.8" height="1.8" fill="#3a3a3a"/><line x1="518.1" y1="604.9" x2="518.1" y2="607.5" stroke="#333" stroke-width="0.7"/><text transform="translate(519.4,609.7) rotate(-45)" font-family="Liberation Sans" font-size="7.7" fill="#2a2a2a" text-anchor="end">UCS(T=57,N=78)</text><rect x="530.67" y="500.6" width="1.8" height="1.8" fill="#3a3a3a"/><rect x="533.82" y="500.6" width="1.8" height="1.8" fill="#3a3a3a"/><rect x="536.97" y="500.6" width="1.8" height="1.8" fill="#3a3a3a"/><rect x="540.12" y="500.6" width="1.8" height="1.8" fill="#3a3a3a"/><line x1="534.9" y1="604.9" x2="534.9" y2="607.5" stroke="#333" stroke-width="0.7"/><text transform="translate(536.2,609.7) rotate(-45)" font-family="Liberation Sans" font-size="7.7" fill="#2a2a2a" text-anchor="end">ALL(T=132,N=337)</text><rect x="547.77" y="500.6" width="1.8" height="1.8" fill="#3a3a3a"/><rect x="550.92" y="500.6" width="1.8" height="1.8" fill="#3a3a3a"/><rect x="554.07" y="500.6" width="1.8" height="1.8" fill="#3a3a3a"/><rect x="557.23" y="500.6" width="1.8" height="1.8" fill="#3a3a3a"/><line x1="552" y1="604.9" x2="552" y2="607.5" stroke="#333" stroke-width="0.7"/><text transform="translate(553.3,609.7) rotate(-45)" font-family="Liberation Sans" font-size="7.7" fill="#2a2a2a" text-anchor="end">LAML(T=173,N=337)</text><rect x="569.2" y="500.6" width="1.8" height="1.8" fill="#3a3a3a"/><line x1="568.7" y1="604.9" x2="568.7" y2="607.5" stroke="#333" stroke-width="0.7"/><text transform="translate(570,609.7) rotate(-45)" font-family="Liberation Sans" font-size="7.7" fill="#2a2a2a" text-anchor="end">PCPG(T=177,N=3)</text><rect x="583.05" y="500.6" width="1.8" height="1.8" fill="#3a3a3a"/><rect x="586.2" y="500.6" width="1.8" height="1.8" fill="#3a3a3a"/><rect x="589.35" y="500.6" width="1.8" height="1.8" fill="#3a3a3a"/><line x1="585.7" y1="604.9" x2="585.7" y2="607.5" stroke="#333" stroke-width="0.7"/><text transform="translate(587,609.7) rotate(-45)" font-family="Liberation Sans" font-size="7.7" fill="#2a2a2a" text-anchor="end">ACC(T=77,N=128)</text><rect x="598.17" y="500.6" width="1.8" height="1.8" fill="#3a3a3a"/><rect x="601.32" y="500.6" width="1.8" height="1.8" fill="#3a3a3a"/><rect x="604.47" y="500.6" width="1.8" height="1.8" fill="#3a3a3a"/><rect x="607.62" y="500.6" width="1.8" height="1.8" fill="#3a3a3a"/><line x1="602.4" y1="604.9" x2="602.4" y2="607.5" stroke="#333" stroke-width="0.7"/><text transform="translate(603.7,609.7) rotate(-45)" font-family="Liberation Sans" font-size="7.7" fill="#2a2a2a" text-anchor="end">KICH(T=66,N=168)</text><rect x="614.98" y="500.6" width="1.8" height="1.8" fill="#3a3a3a"/><rect x="618.12" y="500.6" width="1.8" height="1.8" fill="#3a3a3a"/><rect x="621.27" y="500.6" width="1.8" height="1.8" fill="#3a3a3a"/><rect x="624.43" y="500.6" width="1.8" height="1.8" fill="#3a3a3a"/><line x1="619.2" y1="604.9" x2="619.2" y2="607.5" stroke="#333" stroke-width="0.7"/><text transform="translate(620.5,609.7) rotate(-45)" font-family="Liberation Sans" font-size="7.7" fill="#2a2a2a" text-anchor="end">CHOL(T=36,N=9)</text><text x="636.4" y="541.3" font-family="Liberation Serif" font-size="6.8" fill="#222">Group</text><rect x="636.4" y="549" width="5.6" height="5.2" fill="#E64B35"/><text x="645.1" y="554" font-family="Liberation Serif" font-size="6.8" fill="#E64B35">Tumor</text><rect x="636.4" y="560.3" width="5.6" height="5.2" fill="#4DBBD5"/><text x="645.1" y="565.2" font-family="Liberation Serif" font-size="6.8" fill="#4DBBD5">Normal</text><rect x="87.88" y="725.98" width="13.25" height="105.42" fill="#fff" stroke="#B753EE" stroke-width="1.75"/><rect x="107.92" y="736.17" width="13.25" height="95.23" fill="#fff" stroke="#FF1A1A" stroke-width="1.75"/><rect x="127.97" y="742.98" width="13.25" height="88.42" fill="#fff" stroke="#22EE22" stroke-width="1.75"/><rect x="148.03" y="745.98" width="13.25" height="85.42" fill="#fff" stroke="#33FFFF" stroke-width="1.75"/><rect x="168.07" y="747.58" width="13.25" height="83.82" fill="#fff" stroke="#0A0AF5" stroke-width="1.75"/><rect x="188.12" y="751.98" width="13.25" height="79.42" fill="#fff" stroke="#FFD9B5" stroke-width="1.75"/><rect x="208.18" y="751.98" width="13.25" height="79.42" fill="#fff" stroke="#DCDCDC" stroke-width="1.75"/><rect x="228.22" y="757.67" width="13.25" height="73.73" fill="#fff" stroke="#7FA3DB" stroke-width="1.75"/><rect x="248.28" y="759.08" width="13.25" height="72.32" fill="#fff" stroke="#D4A3A6" stroke-width="1.75"/><rect x="268.33" y="764.48" width="13.25" height="66.92" fill="#fff" stroke="#F9F9AE" stroke-width="1.75"/><line x1="81.3" y1="693.1" x2="81.3" y2="832.75" stroke="#000" stroke-width="1.5"/><line x1="80.55" y1="832" x2="289.1" y2="832" stroke="#000" stroke-width="1.5"/><line x1="77.1" y1="832" x2="81.3" y2="832" stroke="#000" stroke-width="1.3"/><text x="75.3" y="835.55" font-family="Liberation Sans" font-weight="bold" font-size="9.9" fill="#000" text-anchor="end">0</text><line x1="77.1" y1="797.27" x2="81.3" y2="797.27" stroke="#000" stroke-width="1.3"/><text x="75.3" y="800.82" font-family="Liberation Sans" font-weight="bold" font-size="9.9" fill="#000" text-anchor="end">500</text><line x1="77.1" y1="762.55" x2="81.3" y2="762.55" stroke="#000" stroke-width="1.3"/><text x="75.3" y="766.1" font-family="Liberation Sans" font-weight="bold" font-size="9.9" fill="#000" text-anchor="end">1000</text><line x1="77.1" y1="727.83" x2="81.3" y2="727.83" stroke="#000" stroke-width="1.3"/><text x="75.3" y="731.38" font-family="Liberation Sans" font-weight="bold" font-size="9.9" fill="#000" text-anchor="end">1500</text><line x1="77.1" y1="693.1" x2="81.3" y2="693.1" stroke="#000" stroke-width="1.3"/><text x="75.3" y="696.65" font-family="Liberation Sans" font-weight="bold" font-size="9.9" fill="#000" text-anchor="end">2000</text><line x1="94.5" y1="832" x2="94.5" y2="836" stroke="#000" stroke-width="1.3"/><text transform="translate(99,843.2) rotate(-45)" font-family="Liberation Sans" font-weight="bold" font-size="10.3" fill="#000" text-anchor="end">Lymphoma_burkitts(Raji).2</text><line x1="114.55" y1="832" x2="114.55" y2="836" stroke="#000" stroke-width="1.3"/><text transform="translate(119.05,843.2) rotate(-45)" font-family="Liberation Sans" font-weight="bold" font-size="10.3" fill="#000" text-anchor="end">AdrenalCortex.1</text><line x1="134.6" y1="832" x2="134.6" y2="836" stroke="#000" stroke-width="1.3"/><text transform="translate(139.1,843.2) rotate(-45)" font-family="Liberation Sans" font-weight="bold" font-size="10.3" fill="#000" text-anchor="end">BDCA4+_DentriticCells.1</text><line x1="154.65" y1="832" x2="154.65" y2="836" stroke="#000" stroke-width="1.3"/><text transform="translate(159.15,843.2) rotate(-45)" font-family="Liberation Sans" font-weight="bold" font-size="10.3" fill="#000" text-anchor="end">BDCA4+_DentriticCells.2</text><line x1="174.7" y1="832" x2="174.7" y2="836" stroke="#000" stroke-width="1.3"/><text transform="translate(179.2,843.2) rotate(-45)" font-family="Liberation Sans" font-weight="bold" font-size="10.3" fill="#000" text-anchor="end">Lymphoma_burkitts(Daudi).2</text><line x1="194.75" y1="832" x2="194.75" y2="836" stroke="#000" stroke-width="1.3"/><text transform="translate(199.25,843.2) rotate(-45)" font-family="Liberation Sans" font-weight="bold" font-size="10.3" fill="#000" text-anchor="end">CD34+.2</text><line x1="214.8" y1="832" x2="214.8" y2="836" stroke="#000" stroke-width="1.3"/><text transform="translate(219.3,843.2) rotate(-45)" font-family="Liberation Sans" font-weight="bold" font-size="10.3" fill="#000" text-anchor="end">Lymphoma_burkitts(Raji).1</text><line x1="234.85" y1="832" x2="234.85" y2="836" stroke="#000" stroke-width="1.3"/><text transform="translate(239.35,843.2) rotate(-45)" font-family="Liberation Sans" font-weight="bold" font-size="10.3" fill="#000" text-anchor="end">721_B_lymphoblasts.1</text><line x1="254.9" y1="832" x2="254.9" y2="836" stroke="#000" stroke-width="1.3"/><text transform="translate(259.4,843.2) rotate(-45)" font-family="Liberation Sans" font-weight="bold" font-size="10.3" fill="#000" text-anchor="end">721_B_lymphoblasts.2</text><line x1="274.95" y1="832" x2="274.95" y2="836" stroke="#000" stroke-width="1.3"/><text transform="translate(279.45,843.2) rotate(-45)" font-family="Liberation Sans" font-weight="bold" font-size="10.3" fill="#000" text-anchor="end">Placenta.2</text><text transform="translate(48.4,763.5) rotate(-90)" font-family="Liberation Sans" font-weight="bold" font-size="11.4" fill="#000" text-anchor="middle">EIF4A3</text><text x="9.3" y="685" font-family="Liberation Sans" font-weight="bold" font-size="11.5" fill="#000">D</text><rect x="396.88" y="700.77" width="13.45" height="129.53" fill="#fff" stroke="#B753EE" stroke-width="1.75"/><rect x="417.48" y="709.17" width="13.45" height="121.13" fill="#fff" stroke="#FF1A1A" stroke-width="1.75"/><rect x="438.07" y="721.98" width="13.45" height="108.32" fill="#fff" stroke="#22EE22" stroke-width="1.75"/><rect x="458.68" y="728.27" width="13.45" height="102.03" fill="#fff" stroke="#33FFFF" stroke-width="1.75"/><rect x="479.27" y="731.48" width="13.45" height="98.82" fill="#fff" stroke="#0A0AF5" stroke-width="1.75"/><rect x="499.88" y="732.67" width="13.45" height="97.63" fill="#fff" stroke="#FFD9B5" stroke-width="1.75"/><rect x="520.48" y="739.48" width="13.45" height="90.82" fill="#fff" stroke="#DCDCDC" stroke-width="1.75"/><rect x="541.08" y="740.27" width="13.45" height="90.03" fill="#fff" stroke="#7FA3DB" stroke-width="1.75"/><rect x="561.67" y="748.58" width="13.45" height="81.72" fill="#fff" stroke="#D4A3A6" stroke-width="1.75"/><rect x="582.27" y="751.27" width="13.45" height="79.03" fill="#fff" stroke="#F9F9AE" stroke-width="1.75"/><line x1="390.3" y1="688.9" x2="390.3" y2="831.65" stroke="#000" stroke-width="1.5"/><line x1="389.55" y1="830.9" x2="603.2" y2="830.9" stroke="#000" stroke-width="1.5"/><line x1="386.1" y1="830.9" x2="390.3" y2="830.9" stroke="#000" stroke-width="1.3"/><text x="384.3" y="834.45" font-family="Liberation Sans" font-weight="bold" font-size="9.9" fill="#000" text-anchor="end">0</text><line x1="386.1" y1="795.4" x2="390.3" y2="795.4" stroke="#000" stroke-width="1.3"/><text x="384.3" y="798.95" font-family="Liberation Sans" font-weight="bold" font-size="9.9" fill="#000" text-anchor="end">2000</text><line x1="386.1" y1="759.9" x2="390.3" y2="759.9" stroke="#000" stroke-width="1.3"/><text x="384.3" y="763.45" font-family="Liberation Sans" font-weight="bold" font-size="9.9" fill="#000" text-anchor="end">4000</text><line x1="386.1" y1="724.4" x2="390.3" y2="724.4" stroke="#000" stroke-width="1.3"/><text x="384.3" y="727.95" font-family="Liberation Sans" font-weight="bold" font-size="9.9" fill="#000" text-anchor="end">6000</text><line x1="386.1" y1="688.9" x2="390.3" y2="688.9" stroke="#000" stroke-width="1.3"/><text x="384.3" y="692.45" font-family="Liberation Sans" font-weight="bold" font-size="9.9" fill="#000" text-anchor="end">8000</text><line x1="403.6" y1="830.9" x2="403.6" y2="834.9" stroke="#000" stroke-width="1.3"/><text transform="translate(406.2,844.1) rotate(-45)" font-family="Liberation Sans" font-weight="bold" font-size="10.4" fill="#000" text-anchor="end">SKMEL5.1</text><line x1="424.2" y1="830.9" x2="424.2" y2="834.9" stroke="#000" stroke-width="1.3"/><text transform="translate(426.8,844.1) rotate(-45)" font-family="Liberation Sans" font-weight="bold" font-size="10.4" fill="#000" text-anchor="end">HCT116.2</text><line x1="444.8" y1="830.9" x2="444.8" y2="834.9" stroke="#000" stroke-width="1.3"/><text transform="translate(447.4,844.1) rotate(-45)" font-family="Liberation Sans" font-weight="bold" font-size="10.4" fill="#000" text-anchor="end">HCT116.1</text><line x1="465.4" y1="830.9" x2="465.4" y2="834.9" stroke="#000" stroke-width="1.3"/><text transform="translate(468,844.1) rotate(-45)" font-family="Liberation Sans" font-weight="bold" font-size="10.4" fill="#000" text-anchor="end">NCI H226.1</text><line x1="486" y1="830.9" x2="486" y2="834.9" stroke="#000" stroke-width="1.3"/><text transform="translate(488.6,844.1) rotate(-45)" font-family="Liberation Sans" font-weight="bold" font-size="10.4" fill="#000" text-anchor="end">DLD1.1</text><line x1="506.6" y1="830.9" x2="506.6" y2="834.9" stroke="#000" stroke-width="1.3"/><text transform="translate(509.2,844.1) rotate(-45)" font-family="Liberation Sans" font-weight="bold" font-size="10.4" fill="#000" text-anchor="end">SW620.1</text><line x1="527.2" y1="830.9" x2="527.2" y2="834.9" stroke="#000" stroke-width="1.3"/><text transform="translate(529.8,844.1) rotate(-45)" font-family="Liberation Sans" font-weight="bold" font-size="10.4" fill="#000" text-anchor="end">TK10.1</text><line x1="547.8" y1="830.9" x2="547.8" y2="834.9" stroke="#000" stroke-width="1.3"/><text transform="translate(550.4,844.1) rotate(-45)" font-family="Liberation Sans" font-weight="bold" font-size="10.4" fill="#000" text-anchor="end">A361.1</text><line x1="568.4" y1="830.9" x2="568.4" y2="834.9" stroke="#000" stroke-width="1.3"/><text transform="translate(571,844.1) rotate(-45)" font-family="Liberation Sans" font-weight="bold" font-size="10.4" fill="#000" text-anchor="end">HCT15.1</text><line x1="589" y1="830.9" x2="589" y2="834.9" stroke="#000" stroke-width="1.3"/><text transform="translate(591.6,844.1) rotate(-45)" font-family="Liberation Sans" font-weight="bold" font-size="10.4" fill="#000" text-anchor="end">SAOS2.1</text><text transform="translate(354.5,760) rotate(-90)" font-family="Liberation Sans" font-weight="bold" font-size="11.4" fill="#000" text-anchor="middle">EIF4A3</text><text x="333.6" y="679" font-family="Liberation Sans" font-weight="bold" font-size="11.5" fill="#000">E</text></svg></body></html>
